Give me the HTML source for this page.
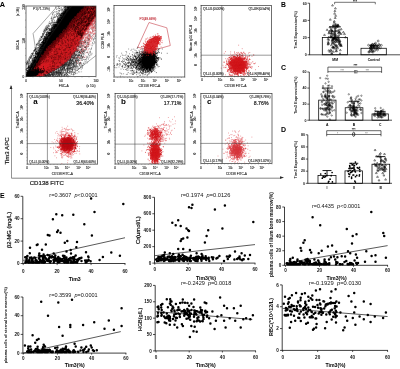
<!DOCTYPE html>
<html><head><meta charset="utf-8"><style>html,body{margin:0;padding:0;background:#fff;width:400px;height:369px;overflow:hidden}svg{display:block;will-change:transform}text{font-family:"Liberation Sans",sans-serif}</style></head><body><svg width="400" height="369" viewBox="0 0 400 369" font-family="Liberation Sans, sans-serif"><defs><clipPath id="c1"><rect x="26" y="6" width="70" height="70.6"/></clipPath><filter id="bl1" x="-10%" y="-10%" width="120%" height="120%"><feGaussianBlur stdDeviation="1.0"/></filter><clipPath id="c2"><rect x="114" y="5.4" width="70.8" height="71.6"/></clipPath><clipPath id="c3"><rect x="201.1" y="5.4" width="70.4" height="71"/></clipPath><clipPath id="c4"><rect x="27.2" y="93.4" width="70.2" height="70.7"/></clipPath><clipPath id="c5"><rect x="115.1" y="93.4" width="69.8" height="70.6"/></clipPath><clipPath id="c6"><rect x="200.9" y="93.4" width="71.1" height="70.2"/></clipPath></defs><rect width="400" height="369" fill="#fff"/><text x="-0.2" y="6.5" font-size="7.3" font-weight="bold">A</text><polyline points="57.5,6 33.1,33.5 36.2,52.8 44,72.5 55.5,73 74.8,72 96,55.5" fill="none" stroke="#555" stroke-width="0.5"/><g clip-path="url(#c1)"><g filter="url(#bl1)"><polygon points="24.34,79.66 27.37,74.81 29.8,69.37 32.59,64.29 35.38,59.22 38.18,54.15 40.91,49 43.63,43.86 46.42,38.78 49.52,34.01 52.85,29.47 56.17,24.92 59.43,20.31 62.54,15.55 65.65,10.8 69.21,6.49 72.78,2.18 76.37,-2.09 80.19,-6.14 84.01,-10.19 87.83,-14.24 91.65,-18.29 95.47,-22.34 99.29,-26.39 117.67,-8.01 113.91,-3.9 110.15,0.2 106.38,4.31 102.62,8.42 98.86,12.53 95.1,16.64 91.78,21.18 88.51,25.78 85.24,30.39 82.49,35.5 79.74,40.62 77.09,45.85 74.04,50.66 70.86,55.35 67.27,59.63 63.05,63.28 58.33,66.43 53.61,69.57 48.41,72.24 43.15,74.85 37.9,77.47 32.54,79.98 27.88,83.19" fill="#050505" stroke="none" stroke-width="0.6"/><polygon points="34.07,73.82 36.76,69.33 39.45,64.83 42.13,60.3 45.11,56.1 48.16,51.95 51.35,47.95 54.9,44.3 58.39,40.6 61.87,36.89 65.31,33.14 68.63,29.27 71.81,25.25 74.99,21.24 78.44,17.49 81.94,13.81 85.45,10.12 89.02,6.5 92.62,2.9 96.21,-0.7 99.81,-4.29 103.41,-7.89 107,-11.49 110.6,-15.08 117.67,-8.01 114.23,-4.26 110.79,-0.5 107.35,3.25 103.92,7.01 100.48,10.76 97.04,14.52 93.75,18.42 90.76,22.62 87.77,26.82 84.86,31.11 82.34,35.78 79.82,40.46 77.4,45.23 74.68,49.7 71.78,53.99 68.81,58.22 65.06,61.66 60.91,64.7 56.6,67.58 52.21,70.38 47.38,72.75 42.57,75.14 37.78,77.54" fill="#c8161e" stroke="none" stroke-width="0.6"/></g><path transform="scale(.1)" d="M946 -264h0m1 3h0m2 5h0m2-13h0m3 11h0m1 1h0m0-4h0m7 4h0m2 1h0m1 0h0m15 12h0m0-3h0m-2 2h0m-1-5h0m-5 6h0m-1 2h0m-1-2h0m-2 0h0m-7-5h0m0-3h0m-2 10h0m0 0h0m-3-3h0m-2-9h0m-8 8h0m-14-2h0m-6 6h0m-11 8h0m7-5h0m2 4h0m6 3h0m2 1h0m0 1h0m0 1h0m1-11h0m1 11h0m0-8h0m2 4h0m2-2h0m1 2h0m1-4h0m5 5h0m0 3h0m9 2h0m3-7h0m1 3h0m3 3h0m1-8h0m1 6h0m1 0h0m1 0h0m1 1h0m6-10h0m1 2h0m1-3h0m0 4h0m1 1h0m1-3h0m0 0h0m0-2h0m1 0h0m-14 17h0m-1 4h0m0-4h0m-1-1h0m-1 5h0m-1 2h0m-2 5h0m0-11h0m-2 9h0m-2-5h0m-1 3h0m-1 4h0m-1-7h0m0 6h0m-3 1h0m-3-3h0m-2-9h0m-2 8h0m-2-3h0m-4 7h0m-5-3h0m-2 3h0m-2-6h0m-2 6h0m0 0h0m-9 1h0m-4-13h0m0 10h0m-32 18h0m5-5h0m2 3h0m9 1h0m4 0h0m1-6h0m6-6h0m1 11h0m7-8h0m3 5h0m2-9h0m1 9h0m2 5h0m1-6h0m0 2h0m1-6h0m1-4h0m1 10h0m1 3h0m0-10h0m1 1h0m0 3h0m7 7h0m1-7h0m1-7h0m0 7h0m1-3h0m0-2h0m2-1h0m0 2h0m0 1h0m1 1h0m1 7h0m0-1h0m3 0h0m2-9h0m5-2h0m1 3h0m2-3h0m-14 15h0m0 1h0m-2 1h0m0-1h0m-4 4h0m-1 1h0m0-6h0m0 9h0m-1-3h0m-4 7h0m-1-2h0m-3-11h0m0 2h0m-7 6h0m-3-1h0m0-5h0m-1 4h0m-2 6h0m-2-9h0m0 7h0m-2-6h0m-1 8h0m0-8h0m0 10h0m0-2h0m-1-5h0m-1-3h0m-3-4h0m0 12h0m-7-6h0m-1-2h0m-19 9h0m-7-1h0m-5 3h0m4 11h0m3-1h0m1-7h0m0 2h0m0-5h0m1 10h0m3-7h0m0 11h0m0-12h0m6 2h0m0-1h0m3 9h0m3-9h0m0 11h0m4-4h0m1-3h0m1-2h0m0 4h0m5-9h0m1 12h0m4-7h0m4-4h0m1 4h0m0 8h0m1-8h0m1 4h0m1-4h0m1-1h0m0 5h0m0-3h0m1 7h0m0-3h0m2 3h0m0-8h0m4-4h0m1 8h0m1-6h0m2 2h0m4-4h0m-16 17h0m-5 0h0m0 2h0m-5-3h0m-3 7h0m0 1h0m-1-10h0m-1 9h0m-1-2h0m-1-6h0m-3 4h0m0 9h0m-1-6h0m-1-5h0m-4 3h0m-1 8h0m-1-4h0m-1-8h0m0 9h0m-1 1h0m0-3h0m-6 1h0m-2-9h0m0 4h0m-5 1h0m-2 3h0m-6 4h0m-7-5h0m-2-3h0m-3 0h0m-6 7h0m-20 9h0m0 8h0m9-7h0m1 6h0m2-5h0m4 6h0m3 0h0m2-3h0m4-2h0m3-1h0m8 5h0m2-2h0m2-4h0m1 2h0m2 1h0m3-8h0m0 5h0m3 3h0m0 4h0m2-2h0m1-6h0m1 5h0m1-3h0m1-3h0m1 3h0m0-4h0m2 3h0m0-7h0m0 10h0m1 3h0m0-1h0m0-7h0m1-3h0m0-2h0m2 5h0m1 8h0m1-10h0m0 0h0m3 0h0m1-1h0m6-2h0m1 0h0m-18 18h0m-2 6h0m-1-6h0m0 6h0m-5-7h0m0 0h0m-1 2h0m-1 7h0m0 0h0m0 1h0m-1-10h0m-2-1h0m-1 11h0m-1-10h0m-1-2h0m-1 12h0m-2-6h0m-8 8h0m-2-14h0m-4 11h0m-2-7h0m-5 0h0m-2 6h0m-3-8h0m-1 8h0m-3 2h0m0-3h0m-5 0h0m-2 0h0m-3 1h0m-30 17h0m15 0h0m7-11h0m5-1h0m8 8h0m1-6h0m1 2h0m1 3h0m2 7h0m2-3h0m8-5h0m1 2h0m3-1h0m2-3h0m4 5h0m1-3h0m2 1h0m5-2h0m1-4h0m0-1h0m0 13h0m1-7h0m1-2h0m0 2h0m9-4h0m-19 15h0m0 5h0m0-1h0m-7 4h0m-2-7h0m-2 6h0m-1-3h0m0 3h0m-1-7h0m0 10h0m0-7h0m-1 4h0m-2-7h0m-2 11h0m0-7h0m0 5h0m-1-2h0m-1-5h0m-1 7h0m-1-6h0m-1-4h0m-1 10h0m-1-6h0m0 6h0m-2 3h0m-3-1h0m0-10h0m0 11h0m-4-6h0m0-8h0m-8 11h0m-2-6h0m-1 0h0m-8-2h0m-1 7h0m0 3h0m-1 0h0m-25 12h0m19 1h0m3-5h0m7 7h0m1-11h0m2 11h0m2-13h0m0 9h0m3 0h0m1 4h0m4 0h0m0-6h0m2 7h0m2-4h0m1-2h0m1-4h0m0 6h0m0-5h0m1 9h0m2-14h0m0 10h0m6-3h0m0 4h0m0-7h0m1 5h0m0 1h0m0-9h0m0 4h0m2 0h0m1 7h0m0-5h0m0 0h0m1-1h0m0-6h0m3 5h0m1-2h0m-13 14h0m-1 2h0m-2 5h0m-1-2h0m-2 2h0m0-6h0m0-2h0m0 7h0m-1 2h0m-2 1h0m0-1h0m-1-1h0m0-4h0m0 3h0m-1-7h0m-1 8h0m-3 3h0m0-5h0m0-4h0m-1 0h0m-1 0h0m-3 4h0m-1-2h0m-8-4h0m-1 9h0m-1-3h0m-2 4h0m-4-11h0m-4 13h0m-1 0h0m-3-13h0m-2 0h0m-7 12h0m-12-2h0m-10 14h0m1-2h0m9 3h0m3-6h0m0 1h0m2 1h0m4-4h0m7 4h0m3 2h0m5 3h0m0 3h0m1-5h0m1-7h0m5 3h0m1 4h0m4-2h0m1 6h0m4-9h0m1 4h0m0 5h0m1-1h0m1-11h0m1 8h0m1 2h0m2-4h0m1-2h0m0 0h0m2-4h0m-14 18h0m0-3h0m-1 2h0m-1-1h0m0 1h0m-2 2h0m0-1h0m-5 5h0m0-5h0m-1 1h0m0 9h0m0-13h0m0 7h0m-1 0h0m0-8h0m-1 11h0m0-6h0m-1 6h0m-1 0h0m-1 3h0m-2-3h0m0-3h0m-2 2h0m-1-1h0m-1 0h0m-1-8h0m-1 7h0m0 1h0m-1-2h0m-3 2h0m-1 5h0m-1-10h0m-2 2h0m-2 7h0m-2-1h0m-2-1h0m-1 2h0m-1-10h0m-2 9h0m-3 2h0m-1-5h0m-3-6h0m-6 7h0m0-7h0m-1 9h0m0-1h0m-7-2h0m-16 11h0m0 9h0m7-5h0m4-6h0m1 10h0m2 0h0m2 0h0m4-9h0m1 8h0m1-8h0m0 5h0m1-9h0m0 14h0m5-14h0m6 7h0m2 7h0m1-11h0m8-2h0m1 13h0m4-1h0m0-5h0m5 4h0m1-8h0m0 0h0m0 9h0m1-8h0m1 4h0m1-5h0m1 2h0m0-6h0m1 5h0m1-1h0m0 3h0m1-4h0m1 3h0m4-5h0m-14 14h0m-6 4h0m-3 5h0m-1-8h0m-2 1h0m-2 4h0m-1-1h0m-1 1h0m0 8h0m0-7h0m-2-4h0m-1 4h0m-6 1h0m0-8h0m-1 1h0m0 9h0m-6-4h0m-3 7h0m-1-12h0m-5 10h0m-1-1h0m-4-5h0m-1 3h0m-2 3h0m-2-11h0m-4 8h0m-11 3h0m-1-8h0m-6 5h0m17 15h0m1-1h0m4 4h0m0 1h0m5-7h0m3 6h0m2 3h0m1-7h0m4-3h0m0-2h0m2 8h0m4-7h0m1-3h0m2 9h0m1-4h0m1-3h0m1 11h0m0-1h0m1-8h0m1 6h0m1-6h0m1 0h0m1 2h0m1-1h0m0 0h0m0-5h0m2 6h0m-10 11h0m-2 1h0m-1-1h0m-1 0h0m-1-1h0m0 2h0m-1 4h0m-1 0h0m-2 3h0m-1-7h0m-4 6h0m-1 5h0m-1-6h0m-1 3h0m-3-2h0m0 1h0m-3-1h0m0-6h0m-3 1h0m0-3h0m-5 9h0m-1-10h0m0 8h0m-1 2h0m0-4h0m-3 8h0m0-3h0m-1-6h0m-9 6h0m-1-3h0m-5 6h0m-5-5h0m-14 5h0m-5 6h0m6 8h0m1-5h0m9-4h0m7-1h0m0 6h0m1 1h0m5-1h0m3 3h0m3-10h0m0 1h0m1 1h0m2 10h0m1-10h0m0 9h0m2-13h0m0 9h0m0 3h0m2-2h0m0-1h0m1 0h0m1-9h0m0 9h0m0-5h0m2 8h0m0-4h0m1 5h0m0-9h0m0 5h0m3-8h0m3 1h0m2 2h0m7-3h0m-16 17h0m-2-3h0m-1 8h0m-3-6h0m0-2h0m-4 10h0m-1-7h0m-1 9h0m0 1h0m0-1h0m-3-1h0m0-3h0m0-5h0m-3-1h0m0 11h0m-1 0h0m0-7h0m-1 7h0m0-9h0m-2 3h0m-2 6h0m-2-10h0m-1 2h0m-3 9h0m-2-11h0m-7 3h0m-1-4h0m-4 9h0m-7 3h0m-4-3h0m0-9h0m-2 11h0m-10 0h0m-8 11h0m2 5h0m6-4h0m0 2h0m2-8h0m0 8h0m3-8h0m1 3h0m3 2h0m2 1h0m0-7h0m2 2h0m7-4h0m2-1h0m5 6h0m0 5h0m1 3h0m2-6h0m0 2h0m3 1h0m0-11h0m3 0h0m2 11h0m1-11h0m1 8h0m2 2h0m8-1h0m0-7h0m1-2h0m2 4h0m1 1h0m2-3h0m3-2h0m-14 19h0m0-4h0m-5 3h0m-1-1h0m-1 9h0m-1-8h0m0 8h0m0-8h0m-1-1h0m-2 8h0m-1-5h0m0-3h0m-1 4h0m-1-3h0m0 10h0m-1-2h0m-3-10h0m-5 1h0m0 1h0m-6-3h0m-2 12h0m-4-2h0m0-6h0m-1 10h0m-6-12h0m-8 12h0m-4-8h0m-9 7h0m-11 9h0m1-3h0m4 9h0m6-5h0m13-6h0m2 6h0m5-7h0m0 7h0m3-5h0m0 6h0m3 5h0m1-4h0m2 4h0m1-6h0m2-8h0m1 14h0m0-12h0m5 6h0m0 3h0m0 3h0m4-9h0m0-4h0m0 8h0m1 1h0m0-6h0m1-2h0m5 2h0m1-2h0m1 1h0m-21 24h0m0-4h0m-1-2h0m0 8h0m-1-10h0m-1 3h0m-3 0h0m0-1h0m-2 2h0m0 4h0m0-1h0m-1 3h0m-3-6h0m0 0h0m-3-7h0m0 13h0m-6-5h0m-1-9h0m-3 10h0m-5 1h0m-15-8h0m-16 25h0m18 0h0m2-10h0m4 10h0m2 0h0m0-4h0m5-9h0m2 9h0m0-1h0m1-1h0m0 4h0m3 2h0m1 1h0m0-6h0m4 3h0m1 1h0m0 2h0m3-11h0m0 9h0m2-2h0m0-8h0m2 5h0m1 3h0m0-3h0m2-5h0m1 1h0m3 3h0m-5 9h0m-7 3h0m-5 8h0m0-4h0m0 2h0m-1-6h0m0 3h0m0-2h0m0 9h0m-1-5h0m0-8h0m-5 13h0m-2-5h0m-3-2h0m0-1h0m-4-5h0m-2 10h0m-3-9h0m-2 5h0m0-2h0m-4 4h0m0-6h0m-3 12h0m-6-1h0m-2-6h0m-7-4h0m-1 10h0m-6 10h0m3-7h0m0 9h0m7-1h0m5-7h0m1 12h0m1-12h0m1 0h0m0 6h0m0 0h0m4-2h0m4-1h0m2-2h0m0 0h0m1 5h0m1 1h0m3-7h0m6 0h0m0 9h0m1-11h0m0 9h0m1 3h0m1 0h0m4-2h0m3-8h0m1-1h0m0 5h0m-9 12h0m-5 6h0m0-3h0m0-1h0m-1 8h0m-4-11h0m-2 11h0m-2-13h0m-1 11h0m-3-1h0m0-4h0m0 7h0m-3-10h0m-1 6h0m-1 2h0m-7-7h0m-1 4h0m-1 2h0m-14 1h0m-2-9h0m-1 10h0m-4-11h0m-3 28h0m6-12h0m1 9h0m0-8h0m6 2h0m3 9h0m0-8h0m0 4h0m1-7h0m4 3h0m2 4h0m1 3h0m0-10h0m4-3h0m5 14h0m0-1h0m1-7h0m4 5h0m0-7h0m1 0h0m1 3h0m2-7h0m0 5h0m0-5h0m3 4h0m-11 14h0m-2 3h0m-1 4h0m0-1h0m-2-5h0m0-2h0m0 7h0m-1 4h0m-2-9h0m-1 6h0m0 2h0m0-1h0m0-3h0m-1 4h0m-1-10h0m-2 8h0m0-1h0m-1-4h0m-1-4h0m-2 12h0m-2-6h0m-1 3h0m0 2h0m-1-8h0m0 1h0m-1 9h0m-1 0h0m0-5h0m0-7h0m0 10h0m0-12h0m-6 2h0m0 7h0m0 4h0m-2-8h0m-9 6h0m-19-3h0m-5 18h0m8 3h0m0-3h0m11-1h0m6 1h0m1 1h0m2-4h0m0 6h0m2-13h0m0 7h0m1 0h0m6-1h0m0-2h0m0 5h0m1 4h0m2-6h0m1-8h0m0 0h0m1 4h0m0 5h0m0 5h0m1 0h0m2-10h0m0 9h0m0-1h0m2-10h0m1 9h0m1-2h0m1 1h0m2-4h0m1-4h0m0 2h0m-5 12h0m-2 1h0m-1 3h0m-5-5h0m0 3h0m0 3h0m-2-2h0m-1 1h0m-3 3h0m0-3h0m-1-3h0m-3-2h0m-4 13h0m-4-13h0m-10 7h0m-2-7h0m-10 2h0m-2 9h0m-5-7h0m-4 0h0m-6 24h0m1-11h0m3 9h0m7-2h0m1 3h0m0-5h0m2-2h0m1 7h0m1-3h0m3 4h0m0-3h0m0 0h0m2-10h0m0 7h0m4 4h0m2-3h0m2-3h0m0 7h0m1-8h0m0 2h0m2 8h0m0-7h0m1-5h0m0 11h0m0-3h0m1-4h0m2 3h0m0-2h0m1 5h0m0-12h0m0 9h0m0-3h0m1-4h0m2 11h0m0 0h0m5 1h0m0-1h0m1-13h0m0 7h0m2-5h0m1-1h0m1 3h0m-7 11h0m-2 4h0m-1-2h0m0 1h0m0 1h0m-1 2h0m0-1h0m-2-4h0m0 6h0m-3 0h0m-1-6h0m-2 12h0m0-6h0m0-7h0m-1 4h0m-1 10h0m0-3h0m-2-10h0m0 2h0m-1 0h0m0 10h0m-2-3h0m-3 3h0m0-4h0m-3 4h0m-1-9h0m-1 7h0m-2-5h0m-5 2h0m0 3h0m-2-3h0m-1-7h0m-7 10h0m-5-6h0m-6-5h0m0 13h0m0 6h0m3 10h0m3-5h0m4 2h0m0-3h0m2 0h0m2-5h0m0 3h0m1 2h0m2-7h0m2 11h0m3 2h0m0-4h0m3-6h0m2-4h0m0 3h0m1 5h0m1 1h0m0-9h0m1 0h0m0 12h0m0 1h0m1-1h0m0-9h0m2 2h0m0 6h0m0 2h0m1-11h0m1-1h0m4 5h0m1-6h0m-12 17h0m-1 0h0m-2 7h0m-4-3h0m0 1h0m-2-3h0m-7 3h0m-2-2h0m0-2h0m-2 3h0m-1 1h0m-1 7h0m0-8h0m0-3h0m-1 10h0m-1-2h0m-1-6h0m0 2h0m-3 1h0m-5 4h0m-4-12h0m-2 10h0m-2-4h0m-2-6h0m-3 9h0m0 2h0m-4-10h0m-6 1h0m-1 1h0m-5 25h0m1-3h0m10-8h0m3 6h0m4-2h0m3-4h0m4 11h0m0-10h0m2-1h0m5 1h0m1 10h0m1 1h0m0-8h0m1 5h0m0-3h0m2 4h0m3-2h0m0-1h0m3 2h0m1-1h0m1 1h0m2 3h0m2-2h0m2-6h0m2-3h0m2 0h0m-12 14h0m-3-1h0m-1 10h0m-5 1h0m0 0h0m-1-2h0m0 4h0m-3-4h0m-2 2h0m-1-1h0m0-1h0m-3 0h0m-4 2h0m-1 1h0m-1-3h0m-3-3h0m-1 5h0m-2-2h0m0 1h0m-6 1h0m0 0h0m-4-4h0m0-2h0m-5 8h0m-4-2h0m-1-9h0m-1 10h0m-4-3h0m-6 19h0m4-7h0m1-1h0m14 0h0m0-3h0m2 10h0m3-10h0m0 4h0m3-3h0m1 4h0m1-6h0m3 6h0m0 1h0m1-7h0m3 2h0m0-3h0m1 10h0m2-8h0m1-2h0m0 11h0m1-3h0m1 3h0m0-7h0m1-4h0m1 13h0m0-9h0m1-3h0m1 3h0m0 4h0m1-8h0m1 1h0m6-1h0m-13 14h0m-2 1h0m-1 7h0m-1-1h0m0-3h0m-1 2h0m0-1h0m-1 2h0m-1-7h0m-1 0h0m-1 7h0m-2 0h0m-1 5h0m0-7h0m-1 8h0m0-1h0m-1-5h0m-2 6h0m-1-2h0m-3-6h0m0 9h0m-1-8h0m-1-6h0m-6 6h0m-1-4h0m-1 1h0m-2 10h0m-1-5h0m-3-8h0m-1 0h0m-1 11h0m-1-8h0m-1 3h0m-7-2h0m-15 12h0m6 3h0m0 4h0m3 2h0m3-6h0m5 8h0m0-2h0m2-6h0m5-1h0m2-1h0m3 9h0m3-4h0m0 1h0m2-2h0m2 3h0m3-4h0m0-3h0m6 6h0m4-4h0m-10 17h0m0-2h0m-1 2h0m-2 6h0m0-9h0m-2 8h0m-1 3h0m-2-13h0m0 1h0m-1 10h0m0-10h0m-1 0h0m-1 10h0m-2-9h0m0 9h0m0-4h0m0 5h0m-1-4h0m-5-6h0m-1 9h0m-2-2h0m0-4h0m-1 6h0m0-7h0m-3-3h0m-1-2h0m-1 14h0m0-8h0m0 6h0m-3 0h0m0 1h0m-2-5h0m-1 5h0m-1-13h0m-5 5h0m-5 5h0m-11-3h0m-11 22h0m5-10h0m9-2h0m8 11h0m1-6h0m1-7h0m0 10h0m2 0h0m5-2h0m0 3h0m1-11h0m6 10h0m0 2h0m2-3h0m2-2h0m0-3h0m4 4h0m1-7h0m0 2h0m1 0h0m1 9h0m1-1h0m2-6h0m0 7h0m2-12h0m2 5h0m0-5h0m6 1h0m-11 19h0m0-1h0m-2 4h0m-2 2h0m-1-7h0m0-1h0m-3 0h0m0 5h0m-2 1h0m-1-1h0m0-4h0m-2-2h0m-2-1h0m-5 7h0m-2 0h0m-3-6h0m-1 3h0m-1 9h0m-1-8h0m0-5h0m-3 9h0m0 3h0m-3-3h0m0 2h0m-1-3h0m-16 14h0m4-2h0m2-3h0m4 4h0m1 2h0m1-4h0m3-3h0m1 4h0m2 0h0m3 7h0m1 2h0m0-4h0m0 0h0m0-6h0m1 7h0m1 1h0m1-4h0m1-8h0m0 10h0m1 0h0m0-1h0m1-1h0m0-8h0m2 6h0m0 4h0m2 4h0m2-13h0m0 5h0m3 6h0m0-10h0m2 6h0m0 0h0m1 3h0m0-11h0m0 3h0m2 4h0m2-4h0m0-2h0m0 2h0m-7 12h0m-2 2h0m-1 3h0m-1-4h0m-3 4h0m-2 5h0m-2-1h0m0 5h0m-1-3h0m0-4h0m-2 3h0m-1 0h0m0-10h0m-1 13h0m-1 1h0m-2-11h0m0 4h0m-1 3h0m-2-10h0m-4 9h0m0-2h0m-3-7h0m0 14h0m-1-2h0m-1 1h0m-4-4h0m0-5h0m-5 2h0m-1 3h0m0 1h0m-1 3h0m-6-2h0m0-6h0m-1-3h0m-5 10h0m-7 9h0m5 1h0m8 7h0m1-11h0m0 4h0m1 0h0m1 7h0m0-6h0m11-4h0m3 10h0m2-9h0m0 9h0m1-2h0m0-9h0m1 3h0m1 2h0m2-3h0m2 9h0m1-9h0m0 8h0m2-10h0m1 8h0m0-4h0m1 6h0m5-7h0m2-2h0m-6 13h0m0 0h0m-6 0h0m0-2h0m-2 14h0m-2-9h0m-2 8h0m-1 0h0m-1-8h0m-2-3h0m-1 1h0m0-1h0m-1 0h0m-3 1h0m-1 10h0m-1-8h0m-1 6h0m-2 2h0m0 0h0m-3-2h0m-3-1h0m-1-7h0m-6-1h0m-1 9h0m-3-5h0m-7 4h0m-2 3h0m-2 0h0m-9 11h0m1 4h0m1-2h0m10-2h0m4 4h0m6-10h0m3 4h0m0-1h0m1 7h0m2 1h0m2-7h0m5 6h0m0-10h0m0 5h0m2-1h0m2-5h0m1 3h0m1-3h0m2-2h0m3 5h0m4 5h0m0 1h0m1-2h0m0-9h0m1 7h0m1-4h0m1 0h0m-9 14h0m0 3h0m-3 5h0m-3 1h0m-1-10h0m-1 10h0m-2-2h0m-4 2h0m0-5h0m-2 1h0m-2-2h0m-4 9h0m0 0h0m-2-1h0m-2-6h0m-1-1h0m-4 4h0m-6-1h0m-14 5h0m-6 13h0m3-3h0m1-2h0m2 1h0m1-3h0m3-5h0m6 10h0m0-7h0m6 8h0m9 3h0m0-2h0m2-7h0m0 4h0m1-3h0m1-5h0m2 9h0m1-1h0m4 5h0m4-9h0m1 2h0m-5 9h0m-1 1h0m0-1h0m-2 8h0m-1-9h0m-4 13h0m0-5h0m-3 6h0m0-8h0m-2 3h0m-2-3h0m0-4h0m-2 6h0m-1 6h0m-1-4h0m0-3h0m-1-4h0m-1-1h0m0 11h0m0 0h0m0 0h0m-1-11h0m-2 6h0m-3-5h0m-1 11h0m-2-6h0m-2 5h0m-6-5h0m-1 2h0m-1-6h0m-1 2h0m0 7h0m-3-7h0m-2 1h0m-2 6h0m0 13h0m1-3h0m2 4h0m5-1h0m3-11h0m5 3h0m2 5h0m1-4h0m2 2h0m1 6h0m1-10h0m1 12h0m0-5h0m8 5h0m1-3h0m0 2h0m0-1h0m0-5h0m1-1h0m0-4h0m1-2h0m0 12h0m0-4h0m1 4h0m1-8h0m1 0h0m2-2h0m0-2h0m2 0h0m-11 20h0m-1 1h0m-1 3h0m-2 2h0m-1-4h0m0 7h0m-1-3h0m-1 0h0m-2 0h0m0-1h0m0-1h0m-4-2h0m-1 7h0m0 0h0m-1-9h0m-11 6h0m0 2h0m-1-3h0m-1-1h0m-1 2h0m-5-10h0m-10 1h0m-3 0h0m-3 11h0m-12 13h0m13-5h0m6 4h0m2 2h0m4-9h0m1 2h0m1-2h0m1 7h0m1-3h0m2 0h0m3-6h0m1 1h0m1 4h0m0-2h0m1 2h0m6 4h0m0 1h0m0 0h0m1-2h0m1-6h0m0 10h0m1-5h0m2 1h0m6-8h0m0 1h0m-12 21h0m-1-2h0m-4 4h0m0-6h0m-4-1h0m-2-1h0m-1 9h0m-1 3h0m-3-9h0m-1 7h0m-2-9h0m-1 0h0m-2 7h0m-5-6h0m-4 3h0m-2 2h0m-1-7h0m-6 2h0m-2 14h0m0-2h0m2 12h0m2-11h0m1 1h0m6 5h0m0-1h0m1-1h0m1-1h0m5 7h0m2 0h0m0-12h0m1 11h0m0-10h0m1 10h0m0-4h0m1-3h0m1 6h0m0-3h0m0-7h0m1 13h0m0-10h0m4 6h0m0-3h0m1 3h0m0 5h0m3-3h0m0-5h0m1 4h0m1-3h0m0 1h0m1-1h0m0-6h0m-7 17h0m-1 3h0m-1 0h0m0 3h0m-1-2h0m-1 3h0m0-1h0m-1 5h0m-1-2h0m0-4h0m-1-2h0m0 3h0m0-7h0m-2 8h0m0-4h0m-4-1h0m-1 6h0m-1-10h0m0 7h0m-4 1h0m0-9h0m-1 14h0m-4-2h0m-2-9h0m0 5h0m-2-7h0m-8 7h0m-6 5h0m-1-10h0m-13 3h0m-8 21h0m2-3h0m4-1h0m0-6h0m1 10h0m13-3h0m6 2h0m2-4h0m0 4h0m2-7h0m2 2h0m1 4h0m4-9h0m2 6h0m0 5h0m0 0h0m2-1h0m3 3h0m2-12h0m1 2h0m1 5h0m3-2h0m2 0h0m0 1h0m1-6h0m-5 15h0m-3 6h0m-3 5h0m0-10h0m-6 0h0m-1 9h0m0-12h0m0 14h0m-2-2h0m0-6h0m-1-3h0m-1-2h0m-6 12h0m0-7h0m-1-4h0m0 9h0m-2-11h0m-4 10h0m-2 4h0m-2 0h0m-5-1h0m-8 0h0m0-1h0m-5 7h0m1 0h0m1 9h0m2-4h0m1 4h0m0-10h0m3 11h0m4-11h0m0-2h0m1 12h0m3-5h0m5 4h0m1-5h0m0 3h0m1 0h0m2 4h0m1-14h0m5 0h0m0 0h0m1 14h0m1-9h0m0-2h0m2 8h0m0-8h0m1 11h0m1-10h0m0 2h0m1 5h0m1-7h0m2-4h0m1 3h0m1 1h0m-6 11h0m-5 2h0m-3-1h0m-2 11h0m-1 1h0m-1-6h0m-1 5h0m-1-5h0m-1-1h0m0 1h0m-1 2h0m-2-3h0m0 3h0m-2-9h0m-3 13h0m-2-12h0m-3 2h0m-1 4h0m-2-6h0m-1-1h0m0 7h0m-1-2h0m-6 6h0m-2-10h0m-3 9h0m-4-3h0m0 0h0m-6 5h0m-6 10h0m1 2h0m1 2h0m1-10h0m5 12h0m5-2h0m10-3h0m5 6h0m0-13h0m2 8h0m1-4h0m1-2h0m2-1h0m3 2h0m3 8h0m0-12h0m2 8h0m1 2h0m0 1h0m0-5h0m2-2h0m2 0h0m1-2h0m-8 16h0m-2-2h0m-1 0h0m-1 4h0m-1 5h0m-1-5h0m-3 3h0m-3 5h0m0-5h0m0-6h0m-2 3h0m0 4h0m-2 5h0m-1 0h0m-1-14h0m-1 7h0m-4-7h0m0 7h0m-2 3h0m-2-8h0m0 4h0m-18 3h0m1 14h0m2 0h0m2 5h0m6-4h0m0-6h0m1 10h0m2-1h0m1-10h0m3 5h0m2-3h0m0 1h0m3 5h0m0-5h0m1 8h0m2-13h0m1 8h0m1-2h0m1-2h0m1-2h0m1 6h0m0-1h0m2-5h0m0 9h0m1 2h0m1-9h0m4-2h0m-8 15h0m-1 3h0m-4 5h0m-1 1h0m-1 3h0m-1-10h0m0-2h0m-1 7h0m0-2h0m-1 3h0m0-8h0m-3 7h0m0 2h0m0 1h0m-3-6h0m-1 3h0m-2 4h0m-1-1h0m-3 2h0m-3-1h0m-1-3h0m-2-2h0m-2 7h0m8 4h0m1-3h0m1 4h0m7 1h0m2 5h0m0 2h0m2-13h0m1 13h0m0-7h0m0 1h0m3-2h0m1-5h0m-4 18h0" stroke="#000" stroke-width="6.0" stroke-linecap="round" fill="none"/><path transform="scale(.1)" d="M905 -317h0m11 8h0m0 0h0m-14 3h0m-10-3h0m-1 7h0m-2 0h0m-26 7h0m9 7h0m2-3h0m20 3h0m27-4h0m12 1h0m10 8h0m-5 9h0m-19-10h0m-2-1h0m-6 3h0m0 0h0m-4 5h0m-15-7h0m-2 5h0m-34-4h0m0 5h0m-3-4h0m-7 11h0m-4-11h0m26 14h0m2 9h0m21 1h0m11-8h0m9 10h0m0-11h0m2 8h0m2-4h0m2-5h0m14-1h0m4-1h0m-20 18h0m-10 4h0m-11 2h0m-15-1h0m-10 0h0m0 3h0m-5-1h0m-5 2h0m-6-12h0m-11 10h0m-24 3h0m-2-12h0m-37 27h0m43-7h0m18 7h0m6-12h0m1 12h0m11-7h0m4-2h0m15 3h0m5-7h0m23 0h0m-21 24h0m-2-8h0m-1 8h0m-10-8h0m-2 2h0m-8-3h0m-10 11h0m-9 2h0m-1-7h0m-15-2h0m-4 8h0m-16-8h0m-21 2h0m-1-2h0m-23 21h0m14-3h0m17 1h0m32-5h0m10-3h0m6 8h0m3-5h0m5 3h0m4-6h0m4 8h0m4-8h0m8 8h0m-6 9h0m-2 1h0m-3-2h0m-4 0h0m-6 1h0m-1 7h0m-11 0h0m-1-8h0m0 4h0m-2 4h0m-3-1h0m-8 4h0m-10-1h0m-13 3h0m-2-8h0m-17 2h0m-7-8h0m0 7h0m-13 5h0m-9 14h0m8 2h0m5-12h0m1 0h0m19 7h0m6-7h0m27 1h0m3 0h0m16 6h0m4-5h0m-6 12h0m-13 2h0m-14 5h0m-15-3h0m-45 5h0m-33 19h0m12-9h0m9 3h0m53-4h0m14 7h0m3-10h0m-8 23h0m-6 2h0m-8-9h0m-4 0h0m0 11h0m-25-9h0m-6 9h0m-4-2h0m-10 1h0m-20 0h0m0-6h0m-4-1h0m-27 22h0m16 0h0m9 2h0m28-2h0m10 3h0m2-10h0m1 8h0m2 0h0m14-5h0m12 4h0m2-7h0m15-4h0m-24 19h0m-4 3h0m-20 1h0m-6-7h0m-13 5h0m-15 1h0m-23 0h0m-17 15h0m49-7h0m26 3h0m4-3h0m2 13h0m-7 7h0m-13-1h0m-3 1h0m-22 8h0m-4-8h0m-8 1h0m-62 9h0m15 0h0m1 1h0m16 5h0m6-1h0m6 6h0m6 2h0m15-2h0m7-5h0m8-4h0m15 4h0m-16 19h0m-20 2h0m-25-2h0m-4 1h0m-3-2h0m-44-1h0m-6 7h0m10 12h0m21-3h0m3 0h0m6-6h0m3 5h0m5-5h0m4-3h0m6 3h0m1-3h0m6 3h0m26 4h0m-11 19h0m0-7h0m-26 8h0m-6-9h0m-3 7h0m-10-6h0m-1-2h0m-11 3h0m-3 3h0m-32 20h0m1-11h0m12 8h0m3 2h0m5-10h0m5 8h0m1-2h0m2-4h0m11-3h0m17 11h0m3-6h0m7 5h0m8-1h0m3-3h0m9-7h0m-41 20h0m-15 2h0m-19 1h0m-23 12h0m4 7h0m8-9h0m4 0h0m14 3h0m6-2h0m14-1h0m6 3h0m0 2h0m0-5h0m5 5h0m11-8h0m-16 23h0m-13-5h0m-15 0h0m-17 2h0m-5 0h0m-35 17h0m25 0h0m4 1h0m6-3h0m21 9h0m17-9h0m-15 18h0m-10-2h0m-12 4h0m-2 0h0m-2-5h0m0 9h0m-2-11h0m-15 10h0m-12 0h0m-7-13h0m11 20h0m41 3h0m-7 7h0m-4 2h0m-1 5h0m-4-3h0m-4-4h0m-15 9h0m-6 3h0m-17-3h0m-18 12h0m7-1h0m14-4h0m15 10h0m12-1h0m6 0h0m4-9h0m-2 14h0m-6 10h0m-5-6h0m-3 2h0m-2-4h0m-4 12h0m-16-4h0m-19-8h0m-5 8h0m-3-7h0m6 14h0m14 2h0m21 7h0m0-1h0m4-4h0m-10 15h0m-4 1h0m-4-5h0m-3 5h0m-4 2h0m-1-3h0m-4 0h0m0 7h0m-5 1h0m-13-11h0m-6 5h0m-2 11h0m0 3h0m6-6h0m2 4h0m1 8h0m10 1h0m4-5h0m-11 15h0m-5 4h0m-1-9h0m-2 10h0m-20 8h0m16 7h0m12-3h0m1-3h0m5-7h0m-9 16h0m-2 2h0m-6 10h0m-3-11h0m-2 8h0m-4 0h0m-7 0h0m-1-4h0m-4 5h0m-3-6h0m-12 21h0m8-3h0m2 4h0m19-6h0m2-1h0m-12 10h0m-3 9h0m-2 4h0m-5-2h0m-2-12h0m0 13h0m-7 0h0m-4-7h0m-3 0h0m-6-3h0m-4 7h0m-8 15h0m6 0h0m1 2h0m2-6h0m0-6h0m5 8h0m5 2h0m4-1h0m1-3h0m1-3h0m0 3h0m-3 13h0m-3 7h0m-1-5h0m0 5h0m-1-4h0m0 5h0m-2-10h0m-2 1h0m-1 7h0m-3-4h0m-1 8h0m-7-7h0m0-6h0m-2 8h0m-4 0h0m-6 0h0m-8 16h0m2 3h0m4 1h0m4-7h0m2 0h0m1 3h0m2-4h0m2-1h0m2 1h0m1 4h0m7-6h0m3-4h0m3 1h0m-9 15h0m-4 6h0m-8 1h0m0-3h0m-4 6h0m-8-3h0m-6 18h0m2-6h0m1 0h0m0 8h0m0 1h0m1-2h0m0-6h0m7 5h0m2-4h0m1 0h0m6-6h0m-11 19h0m-4 0h0m-1 9h0m-1-12h0m-7 9h0m0-2h0m-14 12h0m2 6h0m1 0h0m1-8h0m1 7h0m2-2h0m0 4h0m4-5h0m0 2h0m5-4h0m2-3h0m0-3h0m-10 18h0m-3-3h0m-1 2h0m-7 6h0m-8 0h0m-8 21h0m2-4h0m8 3h0m0-13h0m1 14h0m1-10h0m3 9h0m1-5h0m-6 7h0m0 3h0m-6 5h0m-3 5h0m-1-7h0m-3 4h0m-7 16h0m0-4h0m8 4h0m1-9h0m2 9h0m4-8h0m-10 18h0m0-2h0m-6-2h0m-6 1h0m-1 1h0m-2 7h0m0-3h0m-4-1h0m-1 4h0m0 12h0m0-8h0m6 0h0m8 3h0m-13 14h0m0 11h0m-12 0h0m-8 2h0m7 14h0m0-2h0m4 0h0m1-5h0m0-1h0m0-4h0m5-1h0m-8 15h0m-1-1h0m-1 7h0m-1-1h0m-1-6h0m0 1h0m-2 12h0m-1 0h0m-1-1h0m0-10h0m-1 5h0m-1 4h0m0 3h0m0-7h0m-6 3h0m-3 3h0m2 8h0m2 0h0m-5 13h0m-1 1h0m-2 8h0m-2-8h0m-4 0h0m-3 4h0m-1 5h0m0-5h0m-1 3h0m-1 0h0m-4 0h0m-8 12h0m14-5h0m1-1h0m3 6h0m1-3h0m5-6h0m-11 15h0m-2 11h0m-1-10h0m-1 4h0m-3 3h0m-2 6h0m-1-13h0m-1 4h0m-3 2h0m0 7h0m-6-2h0m-4 2h0m-8 13h0m4-3h0m2-6h0m10 3h0m1 1h0m1-1h0m2 2h0m3-1h0m3-7h0m-7 16h0m-2-1h0m-9 2h0m-2 12h0m-1-1h0m-4-6h0m-2-2h0m-1 9h0m-8 8h0m0-2h0m10-5h0m4 11h0m3-7h0m0-3h0m-5 16h0m-3 4h0m-5-1h0m-3-4h0m0 11h0m-2-9h0m-3 5h0m0 5h0m-2-3h0m-2 3h0m0-13h0m-1 4h0m-10 25h0m5-9h0m1 0h0m2 6h0m1-10h0m0 13h0m1-14h0m2 13h0m5-6h0m2-4h0m-9 20h0m-3-5h0m-10 10h0m-1 0h0m0-6h0m-7 6h0m-7 10h0m8-3h0m10 0h0m-4 16h0m-1 1h0m-1-6h0m-7 11h0m-1-1h0m-1-7h0m-7-1h0m-2 0h0m-4 26h0m4-12h0m1 11h0m0-1h0m1-2h0m2 4h0m2-3h0m3-5h0m1 6h0m1-4h0m0 2h0m-6 12h0m-1 2h0m-1 1h0m-1-6h0m-2 0h0m0-2h0m-2 8h0m0-6h0m-8 14h0m4 0h0m6 9h0m0-9h0m1 1h0m1-4h0" stroke="#222" stroke-width="4.8" stroke-linecap="round" fill="none"/><path transform="scale(.1)" d="M1069 -154h0m-17 17h0m2 0h0m4-13h0m1 1h0m2 6h0m12 2h0m4-9h0m6 7h0m1 0h0m2 4h0m2 2h0m10 9h0m-3 6h0m-4-4h0m-9 3h0m-3-10h0m0 12h0m-2-6h0m-2 3h0m-1-6h0m-9 0h0m-5-5h0m0 11h0m-1-10h0m0 8h0m-13 5h0m-2-3h0m0 2h0m-7-1h0m-2-5h0m-2 5h0m-1 2h0m-10 15h0m5-7h0m0-4h0m3 11h0m4-7h0m2 6h0m0-4h0m3-6h0m1-1h0m8-2h0m2 2h0m3 2h0m4 5h0m5-8h0m7 9h0m1 4h0m1-4h0m0-10h0m5 9h0m4 3h0m4-1h0m-7 5h0m-6 8h0m-9-6h0m-2 3h0m-4-3h0m-1-2h0m0 10h0m-1-2h0m-2-2h0m-1-6h0m-1 6h0m-1-2h0m-3 5h0m-2-10h0m-1 13h0m-2-4h0m0-2h0m-2-1h0m0-4h0m-7 7h0m-1-3h0m0-5h0m-1-1h0m-7 1h0m-3 10h0m-4 3h0m-6-12h0m-3 9h0m-17 12h0m3-4h0m7 7h0m1-8h0m1 10h0m1-2h0m5 3h0m3-10h0m1 1h0m2 0h0m2-5h0m1 9h0m1 0h0m2-8h0m1 4h0m11 7h0m1-5h0m0-5h0m0-1h0m1 11h0m2-2h0m5 0h0m1-5h0m9 5h0m-12 9h0m-4-4h0m-1 8h0m-3-8h0m-7 0h0m-2 6h0m-2 5h0m-2-8h0m-3 2h0m-3 6h0m0-5h0m-4 0h0m-3 3h0m0-9h0m-1 3h0m-3 11h0m-4-8h0m0 1h0m-5-6h0m0 10h0m-2 1h0m-7-12h0m0 10h0m-1-6h0m-18 22h0m6-2h0m12 5h0m1-10h0m3 7h0m6-11h0m1 0h0m3 12h0m1-7h0m7-1h0m6 6h0m7 4h0m6-14h0m7 2h0m0 1h0m-20 14h0m-1 3h0m-3 2h0m-4-2h0m-3 2h0m-2 2h0m0 3h0m-2-10h0m-1 8h0m-4-4h0m-4 7h0m-8-4h0m-1-1h0m-1 0h0m0-2h0m-6-1h0m-6 5h0m-1-4h0m-4 1h0m-2-6h0m-4 11h0m-1 1h0m-9-4h0m-16 20h0m5-8h0m1 5h0m12-6h0m0 3h0m2 3h0m4-4h0m0 7h0m2-5h0m4 2h0m0-11h0m4 3h0m2-1h0m2 10h0m3-5h0m2-2h0m1 8h0m3 1h0m2-4h0m6 1h0m1-4h0m5 7h0m3-13h0m0 7h0m-11 10h0m-4 1h0m-7 0h0m-2 8h0m-2-10h0m-7 1h0m-1-3h0m-1 7h0m-2-1h0m-2 4h0m-4-3h0m0-3h0m-8 3h0m-1 0h0m-1 3h0m-3-7h0m-5 0h0m0 10h0m-2-7h0m-1 0h0m-10 3h0m0-2h0m-13 22h0m8-10h0m1-4h0m1 3h0m4 7h0m2-1h0m1-6h0m3 4h0m1-1h0m3 3h0m3 2h0m3-3h0m6-5h0m1-1h0m4-2h0m0 11h0m2-3h0m5-6h0m3 0h0m2-1h0m5 1h0m3 0h0m-16 17h0m-4 2h0m-7 3h0m-2 1h0m-2-5h0m0-2h0m-3 0h0m-1 8h0m0-9h0m-2 4h0m-7-3h0m-2-3h0m-2 4h0m-1-1h0m-1 2h0m0 2h0m-1-2h0m-2 4h0m-2-9h0m-3 1h0m-2 13h0m0-4h0m0-10h0m-1 10h0m0-8h0m0 8h0m-6-8h0m-1 8h0m0 0h0m0-8h0m-4 5h0m-2 0h0m-5 0h0m-1 2h0m-5 2h0m-3 17h0m1-1h0m0-10h0m6 12h0m1-10h0m6 2h0m0-6h0m8 4h0m9 3h0m7 1h0m0 3h0m2-4h0m0 6h0m2 1h0m3-1h0m12-11h0m-6 15h0m-6 0h0m0 0h0m-5 3h0m-1-1h0m0-1h0m-2-1h0m-1 2h0m0-4h0m-1 6h0m-1-6h0m-4 5h0m0-4h0m-6 3h0m-1-3h0m-1 8h0m-1 3h0m0-8h0m-3-1h0m0 6h0m-10-3h0m-1 2h0m-1-1h0m-2-5h0m-3 7h0m-1-9h0m-7 8h0m-1 4h0m0-12h0m-2 9h0m-1-5h0m-4 10h0m-2-9h0m-5 9h0m-9 4h0m1 8h0m1-1h0m2 2h0m11-9h0m1 0h0m3 11h0m3-9h0m5-5h0m5 12h0m2-7h0m0-5h0m11 7h0m0-1h0m0 5h0m5-10h0m9 8h0m6-7h0m1-1h0m-19 19h0m-12-1h0m-2 3h0m0 1h0m-5 2h0m-1-1h0m-1-4h0m-1 1h0m-7-6h0m-2 7h0m-2 2h0m0-1h0m-4 5h0m-3 0h0m-1-5h0m-5 6h0m-3-2h0m-2-10h0m-1 5h0m0 0h0m-2-3h0m-9 4h0m-18 15h0m1 6h0m2-1h0m1 1h0m3 0h0m0-7h0m8-3h0m4-1h0m0 4h0m2 2h0m1 1h0m2 2h0m0 1h0m8-2h0m7 1h0m6-7h0m6 1h0m2 5h0m1-8h0m0 1h0m1 6h0m2-1h0m0 1h0m12-9h0m2 0h0m-20 14h0m-10 0h0m-6 6h0m-4 7h0m-9-8h0m-1-5h0m-1 8h0m-1 4h0m-3-8h0m-8 10h0m-2-4h0m0-7h0m-1-3h0m-5 3h0m-1 7h0m-1-10h0m-12 12h0m-14 16h0m4 0h0m4 1h0m3-11h0m2 1h0m7 9h0m1-7h0m2 0h0m0-2h0m3-4h0m1 4h0m4-1h0m4 8h0m2-11h0m1 3h0m1 3h0m0-5h0m2 0h0m0 4h0m1 4h0m2-1h0m1-1h0m0 0h0m1 2h0m5-6h0m2 1h0m2 10h0m0-8h0m2 3h0m2 1h0m4-8h0m0-2h0m9 0h0m-23 18h0m-17 0h0m-2 11h0m-4-4h0m-3-5h0m-1 0h0m-2-4h0m-2 6h0m0-6h0m0 10h0m-2-3h0m0-1h0m0-2h0m-1-2h0m-1 11h0m-1-12h0m0 12h0m-1-6h0m-1-4h0m-2 0h0m0 2h0m-2-5h0m-3 7h0m-2 0h0m-3-4h0m-3 7h0m0 1h0m-2-7h0m-2-4h0m0 12h0m-3-4h0m-9 7h0m3 12h0m4-8h0m1 3h0m1-5h0m0-3h0m2 4h0m1 10h0m5-9h0m0 6h0m1-10h0m0 1h0m5 12h0m10-9h0m3 1h0m0-2h0m0 10h0m8-11h0m0-2h0m5 10h0m8-10h0m-13 17h0m-2-1h0m-19 7h0m0-2h0m-5-2h0m0 9h0m-1 0h0m-1-2h0m0-2h0m-1-1h0m-3 3h0m-7-8h0m-6 10h0m-3-7h0m-1 0h0m0 4h0m0-6h0m-1 2h0m-1 0h0m-1 6h0m-4-7h0m-1-6h0m-5 9h0m-2-3h0m-14 19h0m4-6h0m8 7h0m0 0h0m11-1h0m4 1h0m7-10h0m1 8h0m4 1h0m0 0h0m7-6h0m3-1h0m6 5h0m0 6h0m-12 2h0m-1 9h0m-6-2h0m-2 1h0m-2 3h0m-3-11h0m0 8h0m-2-2h0m-2-3h0m-6-1h0m-1 2h0m-1 6h0m-3 0h0m-3-3h0m0-5h0m-2 8h0m-2-1h0m-4 0h0m0 2h0m-2 2h0m0-7h0m-1-4h0m-4 2h0m-2-4h0m-2 10h0m-2 1h0m0-7h0m-13 24h0m3-8h0m2 1h0m1 2h0m2-3h0m3-4h0m3 8h0m4 0h0m10-8h0m1 1h0m2 10h0m0-11h0m1 10h0m2-4h0m2 0h0m6-2h0m4-6h0m0 10h0m0-1h0m0-1h0m1 5h0m4-2h0m-12 12h0m-3-7h0m-1 2h0m-2 10h0m-2-13h0m-7 5h0m-3 2h0m-3 4h0m-1-11h0m-3 0h0m0 14h0m-4-14h0m-5 3h0m0 8h0m-2 2h0m0-5h0m-5 1h0m-1 0h0m-2 1h0m-1-3h0m-4-3h0m-2 8h0m-12 15h0m7 1h0m2-12h0m1 3h0m2 6h0m1-2h0m1-7h0m0 7h0m4 4h0m0-9h0m0-3h0m1 12h0m2-4h0m2 4h0m1-10h0m1-2h0m1 13h0m4-7h0m1 7h0m5-4h0m5-8h0m8 2h0m-4 15h0m-15 5h0m0 2h0m0-6h0m-2 3h0m-4-3h0m-3 4h0m-1-2h0m0 0h0m-2-6h0m-1 8h0m-2-5h0m-5 9h0m0-11h0m-5 5h0m-5 8h0m-1-11h0m-3 8h0m-7-5h0m-12 18h0m9 3h0m8-6h0m1 3h0m1-2h0m3 7h0m0-2h0m2-11h0m0 13h0m3-7h0m1-3h0m2 1h0m3 2h0m5 0h0m3 2h0m0 1h0m4-8h0m1 12h0m5-5h0m10-8h0m-21 16h0m-2 10h0m-2-7h0m-3 3h0m-3 1h0m-6 2h0m-1 3h0m-4-4h0m-3-1h0m0 1h0m-1-9h0m-1 8h0m-4-5h0m-4-3h0m-4 6h0m-19 1h0m-7 5h0m-11 15h0m11-6h0m2-1h0m4-2h0m3-3h0m2 13h0m6 0h0m0-14h0m1 6h0m1 2h0m0 0h0m1 2h0m2-1h0m1-1h0m3 6h0m4 0h0m2-1h0m2-1h0m1-5h0m1-2h0m2-2h0m0 7h0m10 1h0m0 0h0m2-11h0m0 5h0m-2 12h0m-15 9h0m-4-11h0m-6 0h0m-1 13h0m-7 1h0m-5-8h0m-5 5h0m-1-4h0m0 6h0m-4-6h0m-3 3h0m-4-10h0m0 5h0m-25 17h0m7 2h0m1 2h0m5-6h0m1 8h0m3-5h0m2 5h0m2-13h0m3 2h0m4 10h0m2-9h0m0-2h0m1 1h0m2 6h0m1 1h0m3 0h0m3-8h0m4 12h0m8-11h0m0 7h0m0-4h0m3-3h0m4 6h0m1-3h0m3-5h0m3 3h0m-36 26h0m-1-4h0m-1-6h0m-1 3h0m-2-5h0m-1-2h0m-1 7h0m-2-3h0m-1-3h0m-2 7h0m-3 0h0m-6-3h0m-1 2h0m-1-2h0m-5 2h0m-1 1h0m-3 3h0m-4-7h0m-5 1h0m-2 6h0m-9 13h0m12 1h0m1-6h0m3 5h0m1 1h0m3-6h0m0 4h0m1-6h0m3 0h0m3 11h0m0-10h0m3 5h0m0-7h0m1 1h0m2 8h0m0 3h0m1-9h0m5 4h0m4-7h0m0 5h0m6-4h0m2 2h0m3-4h0m6 2h0m-21 17h0m-9 1h0m-1 2h0m-1-1h0m-4-1h0m-1 2h0m0-1h0m-5 6h0m0-6h0m-2-1h0m-11 7h0m-2 0h0m-3-11h0m-1 6h0m-3-3h0m-2 4h0m-1 2h0m-1 3h0m-2-5h0m0-3h0m-1 1h0m-2 0h0m0 7h0m-1-1h0m-1-2h0m-9 17h0m4-1h0m2-8h0m2 0h0m1 3h0m2-6h0m1 6h0m3-3h0m2 0h0m4 11h0m2-8h0m0 5h0m7-5h0m4 8h0m1-11h0m2 2h0m2-5h0m2 3h0m0 3h0m13-5h0m-14 20h0m-2-3h0m-8 5h0m-1 3h0m0-7h0m-2 4h0m-3 6h0m-6-2h0m0-6h0m-1 0h0m-2-3h0m-6 9h0m0-12h0m-4 6h0m-3-1h0m-4 5h0m-1-5h0m-7 1h0m-1-5h0m-4 10h0m-3-7h0m-1 7h0m-8 1h0m-7 5h0m9 7h0m4-9h0m2 11h0m1 3h0m2-2h0m3-5h0m0-1h0m4-6h0m0 11h0m2-10h0m1 12h0m2-9h0m0 2h0m0 3h0m1 5h0m1-7h0m5 5h0m1-7h0m0 6h0m1-4h0m1-4h0m1 9h0m0-5h0m1 3h0m4 0h0m4 3h0m7-10h0m1-2h0m-7 15h0m-13 7h0m-15-1h0m-1 3h0m-1-4h0m0 4h0m-2-2h0m-3-1h0m-1-2h0m-3-1h0m-3-2h0m-2 0h0m-4 2h0m-1 2h0m-7 6h0m-3-12h0m-3 5h0m-1 8h0m-1-1h0m-28 17h0m13-1h0m0-9h0m2 5h0m2-2h0m1-7h0m4 13h0m1-8h0m0 0h0m5-5h0m0 9h0m0-3h0m4 5h0m2 3h0m3-11h0m2 8h0m2-9h0m8 12h0m4-7h0m2-5h0m4 8h0m0-10h0m2 12h0m1-7h0m1 4h0m13-7h0m-17 15h0m-8 5h0m-14 7h0m-3-7h0m-1-1h0m0 7h0m-1-8h0m-7 4h0m-2 1h0m-7 3h0m-1-4h0m0-1h0m-1 1h0m-1-1h0m0 5h0m-6-11h0m-1 6h0m-1-8h0m-2 11h0m0-9h0m-2 3h0m-8 2h0m-13 16h0m2 4h0m2-5h0m4-5h0m4 9h0m0 3h0m4-10h0m5 10h0m0-12h0m1-1h0m2 6h0m0-4h0m1 1h0m2-2h0m4 10h0m1-12h0m2 13h0m0-4h0m1-2h0m0 4h0m5-4h0m3 2h0m3 1h0m0-9h0m0 11h0m6 2h0m9-14h0m-12 17h0m-10 3h0m0 8h0m-1-4h0m-1 5h0m-3-10h0m-1 6h0m-1-3h0m-6 2h0m-1-5h0m0-2h0m-1 6h0m0 2h0m-6-9h0m-2 8h0m-4-1h0m-1-7h0m-1 8h0m-1-5h0m-1-4h0m-1 2h0m-1 8h0m0-7h0m-1-2h0m-4-1h0m-5 5h0m-12 13h0m2 9h0m1-4h0m2-1h0m1 4h0m3-2h0m2 0h0m3 1h0m5-7h0m1-3h0m1 13h0m0-4h0m2-8h0m0 11h0m1-9h0m7 1h0m0-4h0m7 8h0m4-4h0m12-4h0m-13 16h0m-2 3h0m-2 9h0m-2-7h0m-2-5h0m-2 0h0m-5 11h0m-2-8h0m-1 4h0m-4 5h0m-2-5h0m-1-3h0m-1 4h0m0-3h0m-1 0h0m-1 3h0m-1 1h0m-3-8h0m-1-1h0m-2 9h0m-3-3h0m-3-1h0m0 3h0m-1-2h0m-1 0h0m-3 4h0m-3 1h0m-24 15h0m3-2h0m8 2h0m14-6h0m0 1h0m4-3h0m1-1h0m5 11h0m1-6h0m3-7h0m0 0h0m1 10h0m1-3h0m0-4h0m1 5h0m0-2h0m2 1h0m0 5h0m1-3h0m0-5h0m1-4h0m6 6h0m4 6h0m3-9h0m1-1h0m-14 26h0m0-3h0m-1-5h0m-1 0h0m-2 3h0m-1-2h0m-5 5h0m-4-6h0m-6-2h0m-3-2h0m-1 0h0m-3 3h0m-2 1h0m-1-3h0m-1 11h0m-1-13h0m-4 10h0m-1-7h0m-4 10h0m-3-13h0m-5 12h0m-8 16h0m2-5h0m3-3h0m7 3h0m1 4h0m1-1h0m1-5h0m1 5h0m2-1h0m6 1h0m0-10h0m1 9h0m1-6h0m1 2h0m2 2h0m1 5h0m1-13h0m1 7h0m2-3h0m6-2h0m6 8h0m5-9h0m-9 18h0m-4-2h0m-13 4h0m-2-2h0m-1 8h0m-1-7h0m0-6h0m0 9h0m-3-2h0m-2-7h0m0 11h0m-1 1h0m-2-6h0m0-5h0m-1 2h0m-1 7h0m-3 2h0m-4-6h0m-1-1h0m-1-4h0m-1 11h0m-5-1h0m-2-8h0m0 1h0m-13 25h0m3-3h0m5-4h0m2-5h0m1 8h0m3-5h0m2 5h0m3-10h0m1 0h0m4 14h0m1-2h0m0-4h0m1 3h0m6-7h0m6-1h0m1-3h0m1 17h0m-7 11h0m-1-1h0m-1-7h0m-11-5h0m-1 12h0m0-5h0m-3 4h0m0-5h0m-2-3h0m-2 1h0m-1 9h0m0 0h0m-5-8h0m-6 0h0m0 9h0m-1-3h0m-2 0h0m-15 13h0m0-2h0m11-5h0m1 2h0m0 2h0m2 7h0m4-1h0m3 0h0m0-10h0m1 8h0m1-3h0m6-2h0m1 9h0m4-3h0m4-9h0m2-2h0m6 0h0m1 2h0m2 4h0m0-5h0m3 1h0m-14 13h0m-1 10h0m-2-6h0m-3 5h0m-3-4h0m-1 2h0m0 4h0m-1-5h0m-7-1h0m-2-1h0m-1 4h0m-6 0h0m-2-3h0m0-1h0m-5 6h0m-3-5h0m-3 3h0m-1-8h0m-21 27h0m11-4h0m6-5h0m0-3h0m1 5h0m2 3h0m0 4h0m2-1h0m1-8h0m3-2h0m1 5h0m1 6h0m0 1h0m2-2h0m0-10h0m4 3h0m3-2h0m3 9h0m1 0h0m1-10h0m1 3h0m0 8h0m3-9h0m0 7h0m2-1h0m1-6h0m3 5h0m-13 19h0m-3-11h0m-4 12h0m-1-10h0m0 7h0m-1-2h0m-8 5h0m-9 0h0m0 1h0m-5-9h0m-2-5h0m-1 10h0m0-4h0m-7 7h0m-7-2h0m-5 15h0m2-2h0m6 2h0m2 3h0m4 0h0m13-8h0m9-5h0m1 10h0m0 2h0m5-6h0m1-7h0m1 2h0m3-2h0m3 8h0m-8 13h0m-3-3h0m-1 3h0m-2 5h0m-9-9h0m0 2h0m-2-1h0m-1 0h0m0 9h0m-3 0h0m-2-9h0m-2-1h0m-2 5h0m-2 3h0m-1-4h0m-10-3h0m-1 9h0m-3 2h0m-2-1h0m-4-7h0m-1-3h0m0 3h0m22 15h0m4 5h0m5-2h0m3-3h0m7-6h0m-4 15h0m-7 3h0" stroke="#700a0e" stroke-width="6.4" stroke-linecap="round" fill="none"/><path transform="scale(.1)" d="M1166 -54h0m1 5h0m1-9h0m1-1h0m5 22h0m0-6h0m-4 8h0m-5-5h0m0-2h0m-9 10h0m-12 0h0m-11 16h0m0-11h0m4 11h0m5-7h0m8-1h0m2 1h0m13 0h0m2-7h0m15 1h0m3 1h0m11 3h0m-22 16h0m-33 4h0m-8 1h0m-3-11h0m-17 11h0m-13 9h0m2-2h0m2-1h0m3 0h0m8 7h0m17-5h0m5-1h0m3 0h0m5 2h0m5 1h0m14 2h0m4 3h0m12-1h0m5 2h0m8-11h0m-9 18h0m-50-1h0m-20-3h0m-34 14h0m-5 2h0m3 10h0m8 0h0m5 0h0m18 1h0m5-1h0m7 3h0m11-12h0m1 4h0m8 6h0m11-7h0m18-3h0m8 2h0m-37 16h0m-3 8h0m-44-9h0m-6 6h0m-11 2h0m-5-3h0m-2-6h0m-5-1h0m0 6h0m-2 4h0m-2-9h0m-1 2h0m-14 17h0m0 6h0m3-11h0m2 2h0m6 8h0m11-1h0m5-11h0m20 4h0m1-4h0m16 5h0m3 8h0m44-9h0m-33 22h0m-29-3h0m-13-2h0m-2-1h0m-11 2h0m-14 3h0m-7 3h0m-4-1h0m0-10h0m-4-2h0m-1 13h0m-6 14h0m11-3h0m9 4h0m2-10h0m13 8h0m4-4h0m6 5h0m9-6h0m5-4h0m3 1h0m16 7h0m10-6h0m-10 14h0m-7 11h0m-4-2h0m-7-7h0m-2-4h0m-12 1h0m-14 12h0m-4-1h0m-8-4h0m-13 1h0m0-4h0m-2-2h0m-5 1h0m-11 0h0m0 2h0m-2-2h0m-28 13h0m2 2h0m1-1h0m9 8h0m16-1h0m12-4h0m14-6h0m2 4h0m5 1h0m8-5h0m19 3h0m7 4h0m-36 16h0m-4 5h0m-2-5h0m-1-7h0m-22 10h0m-6 2h0m-10-13h0m0 2h0m-8 6h0m-4 0h0m-8-2h0m-4 0h0m-10 2h0m-3 8h0m2 5h0m6 0h0m6-6h0m6 11h0m15-5h0m14 2h0m5-2h0m13 7h0m2 0h0m3-10h0m12 16h0m-16 2h0m-2 7h0m-17-3h0m-6-9h0m-10 4h0m-13-1h0m-20-5h0m-1 10h0m-2-1h0m-12-7h0m-9 7h0m-2 10h0m8 8h0m17 2h0m18-10h0m29 14h0m-10-3h0m-10 3h0m-11 3h0m-11-4h0m-8 6h0m-23 5h0m-1-5h0m-10 5h0m-6-6h0m-3 4h0m-10 16h0m17-11h0m1 3h0m18 2h0m6-4h0m3 7h0m55 3h0m5-12h0m-15 26h0m-11-7h0m-32 10h0m-10-10h0m-2 2h0m-23 4h0m-10 4h0m-2 0h0m-3-6h0m0 0h0m-15 16h0m11-9h0m2 9h0m19-2h0m10-2h0m20 3h0m5-7h0m13 1h0m4 25h0m-9-3h0m-22 0h0m-5-5h0m-39-4h0m-6 2h0m-13 12h0m24 15h0m22-10h0m8-3h0m14-1h0m25 3h0m-12 17h0m-32-2h0m-10 3h0m-3 0h0m-22 2h0m-14-7h0m-1 5h0m-12 6h0m-4-8h0m-9 16h0m6-4h0m64 10h0m0-5h0m21 1h0m17 0h0m-45 21h0m-22-3h0m-39-7h0m-8 4h0m-4-5h0m-10 25h0m1-11h0m12 4h0m2 2h0m12 5h0m5-3h0m6-8h0m5 8h0m16 4h0m11-1h0m28 3h0m-14 8h0m-22 2h0m-7-7h0m-9 1h0m-25 0h0m-9-1h0m-1 2h0m-6-1h0m-16 3h0m-4 19h0m3-5h0m56-6h0m4 0h0m13 12h0m1-12h0m13 5h0m19 22h0m-5-7h0m-28 7h0m-11 0h0m-2-5h0m-5 0h0m-6-2h0m-7-2h0m-16 2h0m-22-3h0m-1 2h0m-6 9h0m-9-2h0m-13 13h0m8 2h0m2-2h0m5 2h0m9-9h0m15 10h0m6 1h0m3 1h0m21-7h0m15-4h0m4 3h0m1-2h0m6 3h0m0 4h0m-12 5h0m-4 3h0m-12-4h0m-11 12h0m-5-4h0m-1 4h0m-8-3h0m-20 5h0m0-14h0m-2 11h0m-6 0h0m0 3h0m-3 0h0m-5-3h0m-1-8h0m-4-1h0m-2 10h0m-1 2h0m-7-3h0m-5 10h0m2 3h0m2-5h0m2 1h0m9-3h0m0 12h0m0-7h0m0 5h0m6-5h0m4 7h0m2-1h0m2-2h0m2-4h0m15-1h0m4-6h0m2 3h0m5 4h0m3-2h0m1-1h0m6-1h0m0 0h0m6 1h0m4 8h0m13-7h0m2 0h0m3-1h0m2 9h0m5 12h0m-1-1h0m-5 3h0m-5-11h0m-4 5h0m-5 6h0m-18-3h0m-17-7h0m-17 9h0m-3-11h0m0 0h0m-3 10h0m-10-5h0m-2-3h0m-1 11h0m-2-11h0m-7 12h0m-4-14h0m-3 10h0m-1-5h0m-1 0h0m-6 18h0m4-2h0m1 5h0m2-5h0m0 3h0m4-9h0m0 12h0m2 1h0m4-3h0m1-7h0m11 10h0m7-10h0m0-2h0m7 6h0m4 0h0m3-4h0m4 7h0m6-6h0m4 7h0m18 3h0m8-8h0m18-3h0m2 13h0m-10 3h0m-5 2h0m-6-4h0m-1 2h0m-4 10h0m-1-3h0m0 1h0m-1-2h0m-6-9h0m-4 7h0m-2-3h0m-1 5h0m-17-7h0m-10-3h0m-4 9h0m-5 0h0m0-3h0m-4-2h0m-2 1h0m-4 0h0m-1 3h0m-6-7h0m-1 1h0m-7 1h0m-13 0h0m-4 4h0m-6 12h0m0 9h0m6-2h0m0 3h0m1-6h0m3 3h0m1 0h0m1-8h0m8 4h0m7 3h0m2-7h0m21 9h0m7-3h0m3-1h0m4 1h0m3-9h0m6 14h0m33-4h0m2-6h0m25 3h0m-31 12h0m-9-4h0m0 9h0m-3 5h0m-6-8h0m-8 6h0m-6 2h0m-7-2h0m-2-5h0m-3-6h0m-1-1h0m-1 1h0m-2 12h0m-2-2h0m-8-6h0m-2 4h0m-15-2h0m0 6h0m-5-4h0m-1-2h0m-3 6h0m-1-10h0m-1 3h0m0 4h0m-2-1h0m0 3h0m-1-1h0m-1-8h0m-2-1h0m-2 8h0m-3 3h0m0-2h0m-1 3h0m-3-3h0m0 3h0m-3-12h0m-2 1h0m-1 5h0m-10 5h0m-13 16h0m2-1h0m4-11h0m1 10h0m1-7h0m0-5h0m1 9h0m1-7h0m1 6h0m2 1h0m1-1h0m2 2h0m1-4h0m0 8h0m0 0h0m3-10h0m5 2h0m2 1h0m9-4h0m2 3h0m4-2h0m2-3h0m1 5h0m5 5h0m10-10h0m1 9h0m2 0h0m2-4h0m3-2h0m1 6h0m6 2h0m6-7h0m2 2h0m0-3h0m9 9h0m1 1h0m5-9h0m0 0h0m4-4h0m2 1h0m3 3h0m3-2h0m6-3h0m0 14h0m25-3h0m3 6h0m-8-2h0m-29 12h0m-2-8h0m-4 7h0m-9-8h0m-1 6h0m-4-5h0m-8 7h0m-2-4h0m-2-6h0m-1 4h0m-3-2h0m-2-2h0m-4 1h0m-2 2h0m-3-3h0m-2 13h0m-2-10h0m-2 0h0m-10 4h0m-6-7h0m-3 4h0m-17 5h0m-4-3h0m0 2h0m-1 3h0m0-10h0m0 9h0m-4-3h0m0 6h0m-2-5h0m-1 1h0m-2-6h0m-1 0h0m-6 1h0m-1 2h0m-1 2h0m-1-4h0m-1 4h0m-12 18h0m4-5h0m2 1h0m1 4h0m2-12h0m3 5h0m3 6h0m2-9h0m5 1h0m2 7h0m4-1h0m1-7h0m0 3h0m1 7h0m4-3h0m0-2h0m4 2h0m0-2h0m2-5h0m2 7h0m3-9h0m0 13h0m4-13h0m4 7h0m0 0h0m2 6h0m2-4h0m2 2h0m6 2h0m2 1h0m3-5h0m0-1h0m2 5h0m6-2h0m1 3h0m1-5h0m0-2h0m1 4h0m4 3h0m3-4h0m2 2h0m12-4h0m1 4h0m4-2h0m11-6h0m8 8h0m4-11h0m26 25h0m-30 0h0m-2-3h0m-12 6h0m-11-8h0m0-5h0m-1 2h0m0 1h0m-2 6h0m-2 3h0m-10 0h0m-8-13h0m-4 6h0m-7 4h0m-1-6h0m-6 2h0m-14-6h0m-1 0h0m0 0h0m-5 14h0m-3-4h0m0-3h0m0-4h0m-1 8h0m-10 1h0m-1-10h0m-3 12h0m0-13h0m-3 12h0m-1-11h0m-4 6h0m-1-7h0m-4 4h0m-1 9h0m-6-1h0m-1-8h0m0 1h0m-1-6h0m-1 4h0m-1 10h0m-2-4h0m-4 0h0m-3 0h0m-6 9h0m0 1h0m1 9h0m1-13h0m3 12h0m0-9h0m0 4h0m5 1h0m0 1h0m3-6h0m1-2h0m2 0h0m1 3h0m2-4h0m1 6h0m2-6h0m5 1h0m2 6h0m1-4h0m3 0h0m2 1h0m4 0h0m0 3h0m2 4h0m3-5h0m0 6h0m5 1h0m0-8h0m1 3h0m2-8h0m1-1h0m0 10h0m3-6h0m6 6h0m5-6h0m2-1h0m4 5h0m3 5h0m0-13h0m2 8h0m1 5h0m4-9h0m2 0h0m2-4h0m0 2h0m16 12h0m2-6h0m2 3h0m2 0h0m14-9h0m1 10h0m0-12h0m3 10h0m3-10h0m1 1h0m1 7h0m6-6h0m13 3h0m6 20h0m-13-1h0m-9 0h0m-12-1h0m-1-7h0m-16 5h0m-12-4h0m-1 3h0m-3 6h0m-10-3h0m-3-2h0m-4 1h0m-1-3h0m-3 9h0m-1-12h0m-4 2h0m-2-3h0m-1 14h0m-5-5h0m-3-4h0m-9-1h0m-1-3h0m-3 2h0m-4 0h0m-1 9h0m-3-8h0m0 6h0m-4-4h0m-2-1h0m-2 1h0m-8-5h0m-2 9h0m-1-6h0m-1 7h0m-1-10h0m-2 10h0m-1-1h0m0 0h0m-1-10h0m0 14h0m-2-2h0m-3 2h0m-3 0h0m-1-13h0m-3 6h0m-1-3h0m0 6h0m-4-6h0m-2 5h0m-1 5h0m-3-2h0m-1 0h0m-1-4h0m-15 17h0m1 4h0m0-5h0m2 1h0m1-5h0m1 1h0m0 7h0m1-9h0m2 5h0m7-5h0m1 4h0m2 0h0m4-3h0m4 3h0m5 0h0m2 4h0m1-8h0m2 8h0m2 2h0m0-11h0m1 2h0m0 0h0m3-5h0m2 13h0m2-10h0m3 2h0m1 5h0m2-6h0m3 2h0m1-5h0m1 5h0m2-5h0m0 4h0m3 9h0m0-11h0m0 6h0m3-6h0m8 4h0m1 7h0m2-13h0m4 11h0m8-9h0m4 0h0m2 1h0m0 2h0m1 5h0m3 1h0m2-2h0m1 3h0m2-8h0m5 1h0m1 4h0m5-4h0m3 0h0m1-2h0m0-3h0m3 1h0m8 2h0m2 1h0m21-1h0m11 1h0m23-5h0m-38 25h0m-6 4h0m-1-4h0m-14 0h0m-3-10h0m-5 4h0m-11 10h0m-2-5h0m-3-5h0m-4 2h0m-1-1h0m-1-2h0m-6 0h0m-2 10h0m-2-5h0m-1 6h0m-3-7h0m-5-6h0m0 11h0m-1-6h0m-7 6h0m0-12h0m-1 13h0m-3-13h0m-11 6h0m-2 2h0m0 3h0m0 1h0m-1-12h0m-2 1h0m-1 11h0m-4-12h0m-3 11h0m-2-1h0m-4-9h0m-2 9h0m-2-5h0m-1 5h0m-1 3h0m-3-5h0m-3-1h0m-6-4h0m-1 6h0m-1 1h0m-5-9h0m-1 2h0m-1 9h0m-1-8h0m-1 2h0m-4 2h0m-2 4h0m-3 2h0m-4-10h0m0 4h0m-1-8h0m-3 9h0m-2-1h0m-1 3h0m-2-5h0m-1 4h0m0-4h0m-3 5h0m-21 18h0m1-5h0m3 0h0m1 2h0m0-4h0m4-3h0m2 9h0m1-9h0m0 7h0m6-1h0m1-1h0m2 3h0m0-10h0m3 11h0m0-9h0m0 5h0m0 3h0m3 1h0m6 1h0m2-14h0m1 8h0m0 1h0m0-2h0m0 1h0m1-3h0m1 8h0m0-13h0m6 6h0m1 4h0m1 1h0m0-8h0m9-2h0m3 12h0m0-8h0m1 3h0m0-2h0m0 6h0m7-4h0m1-1h0m4 3h0m0 2h0m0-12h0m4 4h0m0 6h0m1 0h0m0-7h0m4-1h0m1 3h0m3-1h0m2 0h0m1 8h0m1-10h0m2-1h0m4 7h0m2 5h0m3-6h0m0-3h0m3 2h0m3-3h0m3 7h0m2 4h0m1-13h0m1 2h0m1 8h0m1-2h0m2-2h0m1-5h0m0 11h0m3-5h0m6 6h0m1-13h0m2 9h0m7-8h0m6 6h0m0-8h0m7 5h0m0-3h0m18 6h0m1-5h0m4 8h0m4-7h0m3-3h0m0 3h0m5 6h0m8 2h0m4-6h0m-20 15h0m-2 1h0m-6-4h0m-23 9h0m-1 1h0m-1-13h0m-5 0h0m0 8h0m-9 2h0m-3 4h0m-5-1h0m-2-5h0m-3 5h0m-1-4h0m-2 3h0m-1-12h0m-2 1h0m-10 13h0m-1-6h0m-1-5h0m-5 7h0m-1-9h0m-10 1h0m-1 9h0m0-8h0m-3 3h0m-1-3h0m-5 6h0m-2-5h0m-1 6h0m-1-10h0m0 13h0m-1-8h0m-1-2h0m0 8h0m0 3h0m-2 0h0m-1-7h0m-1-2h0m0 0h0m-3 0h0m-1 0h0m-4-4h0m-1 4h0m-4 3h0m-3-2h0m0-4h0m-2 9h0m-3-10h0m-2 6h0m0 0h0m-1-5h0m0 1h0m-4 6h0m-3 1h0m-1-9h0m-2 6h0m-3 0h0m0-6h0m-2 5h0m-2 4h0m-2-4h0m-1-6h0m0 11h0m-1-3h0m-1-3h0m-3-3h0m-1 9h0m0-9h0m-1 5h0m0-2h0m-3 7h0m-2-8h0m0 8h0m-2-8h0m-1 7h0m0-2h0m-2-3h0m0-5h0m-2 0h0m0-1h0m-2 5h0m0 5h0m-1-7h0m-3 1h0m-1-3h0m0 13h0m0-13h0m-3 4h0m0 3h0m0 1h0m-2-5h0m-3 1h0m-4 4h0m-1 0h0m-1 1h0m-23 15h0m0 0h0m0 2h0m3-1h0m1-3h0m0-2h0m2 7h0m2-1h0m3-3h0m1 1h0m0 4h0m1-8h0m8 8h0m6-10h0m1 9h0m0 0h0m5-13h0m1 0h0m0 7h0m1 6h0m2-10h0m6 2h0m2 2h0m2 3h0m0-9h0m1 1h0m2 3h0m1-4h0m2 10h0m0 1h0m2-2h0m1-10h0m1 9h0m7-1h0m0-6h0m2 9h0m0-3h0m3-2h0m2-5h0m0 9h0m3-4h0m3-3h0m6 4h0m3-3h0m9 5h0m2-9h0m1 2h0m2 2h0m1 0h0m7-3h0m2 12h0m1-11h0m10 8h0m1 1h0m0-9h0m2 0h0m5-2h0m0 13h0m10 0h0m5-4h0m1 3h0m5 1h0m2-9h0m1 9h0m2-7h0m4 6h0m1-6h0m3 5h0m4-9h0m4 4h0m1-5h0m1 8h0m1 3h0m4-4h0m0-7h0m8 4h0m1 4h0m11-6h0m0-2h0m7 6h0m18-7h0m4 3h0m-20 24h0m-4-10h0m-7 4h0m-13-2h0m-1 5h0m0-5h0m-16 7h0m-5-10h0m-4 12h0m-5-11h0m-4 8h0m-9-10h0m-1 4h0m-5 0h0m-3 10h0m-2-4h0m-3-6h0m0-1h0m-1 11h0m-1-12h0m-2 12h0m0-10h0m-1 9h0m0-1h0m-2-2h0m-9-5h0m0 6h0m-5-11h0m-1 6h0m-1 7h0m-2-10h0m0 5h0m0-6h0m0 5h0m-2 3h0m-4-6h0m-1 9h0m-1-7h0m-6 7h0m-1-5h0m-14 0h0m-2-7h0m-2 12h0m0-13h0m0 10h0m-1-3h0m0-5h0m-2-2h0m-1 4h0m-1-1h0m0 3h0m-1 3h0m-3-6h0m-4 4h0m0 7h0m-3 0h0m-3-13h0m-1 6h0m-1 6h0m0-2h0m-6 2h0m-2-9h0m-1-2h0m0-2h0m-8 7h0m0 5h0m-1-8h0m-1 8h0m-1 1h0m-3-13h0m-9 2h0m0 4h0m-1-4h0m0 4h0m-1-1h0m-5-5h0m-2 14h0m-1-6h0m0-3h0m-1-2h0m0 2h0m-2-3h0m-1 11h0m-5-4h0m-1-9h0m-7 14h0m-1-5h0m0 1h0m0 0h0m-12 3h0m-3 1h0m-23 15h0m1-1h0m6 0h0m1 1h0m2 0h0m2-3h0m3-4h0m1-5h0m1 5h0m1 0h0m0 2h0m0-6h0m1 7h0m2 4h0m1-12h0m0 10h0m3 0h0m3-5h0m1-4h0m2 1h0m2 1h0m0 4h0m1-8h0m4 3h0m1-4h0m1 7h0m1-3h0m1 9h0m10-13h0m4 2h0m1 8h0m1 2h0m0 0h0m5-9h0m3 3h0m3 4h0m8-2h0m5 0h0m0-4h0m4-3h0m1 5h0m0 5h0m5-4h0m2 7h0m1-11h0m2 6h0m0 0h0m0-1h0m2-7h0m0 0h0m0 0h0m4 6h0m6-1h0m2 7h0m3-10h0m4 7h0m4-1h0m0 2h0m2-8h0m2 8h0m4-5h0m2 0h0m8-4h0m7-1h0m0 11h0m2-2h0m1-10h0m1 9h0m1-4h0m2 9h0m4-11h0m0 6h0m2-9h0m6 0h0m4 6h0m8 5h0m8-11h0m0 0h0m1 0h0m1 5h0m9 6h0m0-11h0m1 6h0m1-5h0m1 3h0m0 10h0m6-7h0m12-1h0m8 3h0m0 0h0m7 4h0m2-5h0m-33 19h0m-2-10h0m-9 7h0m-2-1h0m-8-1h0m0 5h0m-10 2h0m-1-5h0m-2-4h0m-2-4h0m-2 0h0m-13 11h0m-1 0h0m0-12h0m-1 11h0m-3 3h0m-4-13h0m-7 11h0m-5-7h0m-2-3h0m-1-2h0m-19 5h0m-3-2h0m-10 3h0m-2-2h0m-1-2h0m-1 10h0m-3 1h0m-1-6h0m-4-7h0m-1 9h0m-2-5h0m-3-1h0m-6 0h0m-2-2h0m-2 11h0m-2-9h0m0 6h0m0 3h0m-3-12h0m-2 3h0m-4 8h0m-1-8h0m-7 0h0m-2 10h0m0-5h0m-7 6h0m0-7h0m0 3h0m-2 1h0m-5-1h0m-7-5h0m-2 5h0m-5-8h0m-2 10h0m-1-11h0m-4 5h0m-2 8h0m-1-9h0m0-3h0m0 2h0m0 2h0m-7 0h0m-1 7h0m-2-10h0m-3 8h0m-1-4h0m0-6h0m-2 1h0m0 7h0m-1-5h0m-4 9h0m0-7h0m-2 6h0m-3 1h0m-1-3h0m-3-1h0m-5 3h0m-27 14h0m7-3h0m0 1h0m1-4h0m0 7h0m2-5h0m1 3h0m0-3h0m0 2h0m2 4h0m1-3h0m3 2h0m0 2h0m1-7h0m1 1h0m3 4h0m0-2h0m2-10h0m3 5h0m1 3h0m0 4h0m0-5h0m3-4h0m1-1h0m1-2h0m3 2h0m0-2h0m5 4h0m0 10h0m5-5h0m0-4h0m0 0h0m1 6h0m2 0h0m0-10h0m3 5h0m8-3h0m1 4h0m2-7h0m2 1h0m1 12h0m1-2h0m2-5h0m1-2h0m3 6h0m3-3h0m1 6h0m0 0h0m3-12h0m1 0h0m1-1h0m2 10h0m4-2h0m0-2h0m2 6h0m3-12h0m0 8h0m2-4h0m1 7h0m2-1h0m0-3h0m0-5h0m2 3h0m1 3h0m1-8h0m6 13h0m0-4h0m1-9h0m0 4h0m1 5h0m1-7h0m2 0h0m0 0h0m2 12h0m4-13h0m0 4h0m3-2h0m2-3h0m1 7h0m0 1h0m2 6h0m4-10h0m4 1h0m0 5h0m0 1h0m0 2h0m2-7h0m0-3h0m0 4h0m0 0h0m2 7h0m0-2h0m0-4h0m5 3h0m10-10h0m2 13h0m1-8h0m6-5h0m1-1h0m6 0h0m13 14h0m4-14h0m3 7h0m4 6h0m10-13h0m5 5h0m4 3h0m12 5h0m2-3h0m1 0h0m13 1h0m5-2h0m12-6h0m-50 17h0m-4 5h0m-1-4h0m-1 4h0m-5-9h0m-2 0h0m-3 3h0m-1 4h0m-9 6h0m-1-5h0m0 5h0m-3-10h0m-1 8h0m-3-6h0m0 8h0m-11-11h0m-3 2h0m-7-2h0m-2 1h0m-3 10h0m-5-10h0m-1 7h0m0 1h0m-2-5h0m0 2h0m-5-3h0m-5 1h0m-2-7h0m-3 13h0m-3-8h0m-2-1h0m-1 6h0m-1-4h0m-1 3h0m0-3h0m-1-5h0m-3 6h0m-9-6h0m-2 13h0m-2-13h0m0 6h0m-2 3h0m-1 0h0m-1-6h0m-1-1h0m-5 7h0m-7-2h0m-2 5h0m-3-1h0m-2-7h0m-1 8h0m-2-1h0m-3-5h0m-3-5h0m-2-2h0m0 8h0m-1 4h0m-2 2h0m-2-1h0m-4-9h0m0 8h0m-1-2h0m0-2h0m-1 5h0m-1-12h0m-1 2h0m-2 2h0m-1 5h0m-3-2h0m-3 3h0m0-7h0m0 10h0m-2-4h0m-8-1h0m-2 1h0m-2 0h0m-3 1h0m0 3h0m-2-6h0m-2 3h0m-1-8h0m0 8h0m-3-7h0m-4 3h0m0 3h0m-1-5h0m-5-3h0m0 1h0m-1 11h0m0-1h0m-3-7h0m-1 2h0m0-8h0m0 14h0m-2-14h0m-4 0h0m0 9h0m-3-4h0m-6 1h0m-1 2h0m-1 1h0m-1 4h0m-2 0h0m-1-4h0m0 5h0m-1-9h0m-3 4h0m-1 2h0m-2 3h0m-2-2h0m0 2h0m0-1h0m-2-3h0m0 2h0m-1-3h0m-2 2h0m-31 18h0m5-4h0m1-2h0m2 3h0m1-1h0m1-1h0m12 2h0m2-2h0m1-4h0m2-5h0m1 5h0m0-4h0m3 9h0m2-1h0m1-2h0m1 5h0m0-12h0m1 3h0m1 8h0m0 2h0m0-11h0m3 4h0m1 3h0m4-3h0m1 1h0m0 5h0m0-9h0m1-3h0m1 4h0m0 7h0m2-9h0m1 0h0m0 6h0m1 1h0m2-3h0m1 8h0m0-5h0m2 0h0m0-5h0m3 0h0m2 2h0m3-6h0m3 7h0m1-3h0m0 5h0m3 3h0m1 1h0m0 0h0m1-10h0m1 3h0m1 7h0m0-13h0m1 8h0m2 6h0m2-8h0m2-5h0m0 2h0m2 9h0m2-11h0m1-1h0m1 14h0m3-3h0m0-8h0m3 3h0m0-5h0m0 4h0m3 9h0m0-9h0m1 9h0m3-13h0m2 5h0m12 8h0m1 0h0m0-5h0m1-8h0m2 7h0m0-7h0m2 0h0m0 10h0m2 2h0m2-9h0m3 0h0m5 0h0m11 7h0m4-7h0m0 2h0m6 8h0m2-4h0m2 4h0m3-1h0m2-8h0m1 6h0m2 1h0m6-8h0m0 5h0m6-1h0m3 4h0m0-11h0m2-1h0m0 4h0m2 4h0m3 4h0m2-5h0m3 5h0m0-12h0m12 13h0m1-1h0m1-11h0m1 8h0m2-6h0m1 6h0m6-8h0m6 9h0m2-4h0m2 7h0m8 1h0m0-14h0m1 7h0m1-5h0m11 10h0m6-9h0m1 2h0m4 4h0m-21 13h0m-2-5h0m-15 0h0m-11-2h0m-12 2h0m-2 7h0m-10-5h0m-1 3h0m-3-7h0m0 13h0m-16-12h0m0 0h0m-1 13h0m-2-7h0m-2-5h0m-11 3h0m-1 6h0m-1-7h0m0-1h0m-5 9h0m-1-9h0m-3 8h0m-1-8h0m-2 4h0m0-3h0m-5 7h0m-2-10h0m-4 8h0m0 3h0m-1-5h0m-10 3h0m-1-7h0m-3 9h0m-8-12h0m-7 14h0m-2-11h0m-1 2h0m-3 2h0m-2-3h0m0 10h0m-1-10h0m-2 4h0m-1-1h0m-2-2h0m-1 3h0m0-8h0m-7 4h0m0-1h0m0 6h0m-3 2h0m-1-1h0m-8 1h0m-1-9h0m-2-2h0m-1 5h0m-2 9h0m-2-4h0m-1-1h0m-1-2h0m0 5h0m0-8h0m-4-2h0m0 7h0m-1-3h0m-3 5h0m-1-7h0m-4 6h0m-3 1h0m-4-7h0m0-2h0m-1 11h0m0-2h0m-1 2h0m-3 1h0m-2-11h0m-2 4h0m0-5h0m-3 6h0m-3 3h0m-1 2h0m-1-2h0m0 1h0m-2-3h0m-2-7h0m-2 12h0m-1-1h0m0 1h0m0-9h0m0-1h0m-3 9h0m0-9h0m-1 1h0m0 5h0m0-3h0m-1-1h0m0 4h0m0-7h0m-1 4h0m-1 0h0m-2 0h0m0-2h0m0 2h0m-1-5h0m-2 9h0m0-4h0m-1-5h0m0 0h0m0 12h0m-1-10h0m-1 2h0m-1 7h0m-1-4h0m0-1h0m-2-2h0m0-1h0m0-3h0m0 9h0m-3-7h0m-1 4h0m0-3h0m-1-1h0m0 6h0m-1 2h0m-4-6h0m-1 1h0m-3 7h0m-1-4h0m0-2h0m-1 4h0m-2 1h0m0 0h0m-3 0h0m-33 16h0m3 0h0m0-1h0m2-2h0m0-1h0m5 2h0m4-6h0m0 3h0m0 3h0m0-3h0m3 0h0m0-1h0m2-2h0m0-2h0m1 4h0m0-1h0m1 4h0m1-4h0m0-3h0m0 7h0m2-5h0m3 1h0m0 7h0m1-11h0m1 9h0m1-6h0m2 0h0m0 7h0m3-8h0m0 0h0m0-5h0m1 9h0m1 3h0m0-2h0m0-7h0m1-3h0m0 11h0m0-4h0m1 7h0m0-13h0m0 11h0m1-5h0m1 1h0m1-4h0m1 8h0m0-4h0m1-1h0m0 5h0m0-12h0m1 8h0m0-6h0m0 11h0m1-12h0m1 11h0m2-5h0m0-4h0m0-1h0m1 0h0m1 2h0m0 3h0m3 4h0m2-8h0m0-2h0m1 6h0m1-5h0m1 3h0m1-4h0m2 11h0m0-7h0m1 7h0m2-7h0m0 0h0m2-4h0m2 3h0m0 0h0m0-1h0m10 9h0m1-12h0m1 8h0m1-1h0m1-3h0m2-3h0m1 4h0m3-5h0m1 11h0m0-7h0m0 8h0m1-12h0m1 0h0m0 13h0m1-12h0m0-1h0m4 12h0m1-11h0m1 0h0m1-1h0m0 2h0m1 11h0m1-9h0m0 3h0m1-7h0m4 3h0m2 4h0m2 4h0m2-1h0m1-5h0m3-1h0m0 3h0m0-6h0m1 11h0m0-3h0m2-1h0m0-7h0m3 6h0m0-4h0m6 2h0m1-4h0m0 1h0m1-2h0m3 2h0m3 6h0m2-2h0m2 3h0m1 3h0m0-3h0m2 0h0m0-3h0m2 1h0m0-4h0m2 11h0m2-13h0m1 9h0m2 1h0m1-2h0m4-4h0m1 6h0m0-6h0m3 2h0m5 1h0m0-6h0m2 1h0m1 11h0m1-12h0m1 6h0m1 2h0m5-5h0m1 6h0m0 3h0m1-3h0m1 3h0m8-14h0m1 0h0m4 4h0m1 5h0m3 1h0m1-7h0m12 1h0m5 3h0m13-6h0m8 3h0m7 1h0m7-4h0m2 2h0m2 6h0m9-8h0m-36 18h0m-2 3h0m0-6h0m-9 0h0m-5 6h0m-4-3h0m-9 3h0m-3-2h0m-1-4h0m-8 3h0m-1 7h0m-7-3h0m-1-1h0m-1 2h0m-15-4h0m0-2h0m-9-1h0m-8 3h0m-1 3h0m0 5h0m-2-5h0m-12 5h0m-5-7h0m-1-5h0m-13 2h0m-3-1h0m0 11h0m-1-5h0m-1 3h0m-1 2h0m-4-1h0m-2-5h0m0-7h0m-2 6h0m-5-4h0m-2 7h0m-1-5h0m0 7h0m-2-6h0m-4 2h0m0-1h0m0-5h0m-2 11h0m-1-12h0m0 10h0m-1 3h0m0-13h0m-1 14h0m-4-10h0m-3-4h0m-1 11h0m-2-2h0m-1 2h0m-1-4h0m0-3h0m-3-2h0m-2 7h0m-1-9h0m0 12h0m0-11h0m-3 7h0m-2-4h0m-1 8h0m-1 1h0m0-9h0m0 0h0m-1 9h0m-1-1h0m-3-5h0m-1 3h0m-1 3h0m0-8h0m-1 7h0m-1-9h0m-2-3h0m-1 3h0m-2 7h0m0-5h0m0 5h0m-1-10h0m0 13h0m-1-4h0m0-3h0m0 4h0m-1 1h0m-1-7h0m0-2h0m-5-1h0m-1 7h0m0 4h0m-2-2h0m0-10h0m-2 11h0m0-4h0m0-7h0m-2 9h0m-1 2h0m0-8h0m-2 6h0m-1-3h0m0 5h0m0 0h0m-1-8h0m0-1h0m-2 7h0m0-5h0m-1-1h0m-1 8h0m-1-6h0m-1 2h0m0 6h0m-2-2h0m0-3h0m-2 2h0m-1-3h0m0 0h0m0-5h0m-1-2h0m0 8h0m0 4h0m-1-2h0m0 4h0m0-11h0m-1 7h0m0 3h0m-1-6h0m-1-2h0m0-1h0m-1 5h0m-1 4h0m0-7h0m-1-5h0m0 3h0m0-4h0m-2 1h0m-1 4h0m-1-5h0m-1 13h0m0-9h0m-1 7h0m0-7h0m0 8h0m-3-1h0m-1-4h0m0-4h0m0 6h0m-1-4h0m0 6h0m0-6h0m-1 5h0m0 3h0m-1-7h0m0 2h0m-1 1h0m-1-2h0m-1 7h0m0-6h0m-1-3h0m0 8h0m-1-2h0m0 0h0m-1-2h0m-1 1h0m-2-3h0m-6 7h0m-1-3h0m4 6h0m2-1h0m0 2h0m3 4h0m1-2h0m0 0h0m1-5h0m1 9h0m0-6h0m1 2h0m1 1h0m0 3h0m1-9h0m2 6h0m1-4h0m0 10h0m1-11h0m1 4h0m0 6h0m1 1h0m1-8h0m2 6h0m1-7h0m5 3h0m0 8h0m1-12h0m1 4h0m0-1h0m0-2h0m2 3h0m1 5h0m1-11h0m1 11h0m0-8h0m1 9h0m0-6h0m0 5h0m1-11h0m0 3h0m1-1h0m2 2h0m2-1h0m0 1h0m1-2h0m2 10h0m0-8h0m1 6h0m1 1h0m0-7h0m1 4h0m1 1h0m0-8h0m1-1h0m0 4h0m8 1h0m2-2h0m1-3h0m7 9h0m0 5h0m5-5h0m1-2h0m0-3h0m5-1h0m3-2h0m9 4h0m1-1h0m0 3h0m4-4h0m2-3h0m4 2h0m0-1h0m1 6h0m0-7h0m4 2h0m18 5h0m26-7h0m19 2h0m21 0h0m-146 13h0m-10 0h0m-16 4h0" stroke="#1a1a1a" stroke-width="5.0" stroke-linecap="round" fill="none"/><path transform="scale(.1)" d="M1164 -61h0m-11 13h0m1-7h0m2 0h0m1 3h0m3 2h0m3-1h0m0-2h0m2-6h0m1 3h0m2-4h0m1 9h0m5 3h0m3-3h0m14 16h0m-1 2h0m-1-2h0m-1 4h0m-3-4h0m-4-7h0m0 1h0m-2-1h0m-1 0h0m-4 1h0m-8 0h0m0 10h0m-2-8h0m-3 0h0m-1-2h0m-3 8h0m-2 0h0m0-4h0m-7-4h0m0 9h0m-1-5h0m-2 2h0m-17 13h0m0-3h0m2 0h0m2 9h0m5-10h0m1 2h0m5 6h0m2-7h0m1 8h0m3-3h0m4-10h0m2 11h0m2-2h0m1-4h0m1-1h0m3 9h0m2 0h0m2-4h0m0-1h0m0-6h0m1 6h0m3-4h0m5 8h0m5 2h0m1-9h0m2-1h0m1 7h0m16-7h0m2 6h0m-4 5h0m-2 13h0m-1-7h0m0-6h0m-14 3h0m-5 3h0m-7-2h0m-1 2h0m-3-6h0m0 6h0m-3-5h0m-2 11h0m-3-2h0m-1-5h0m-3 2h0m-8-7h0m0 8h0m-2-4h0m-3-2h0m-2 12h0m0-7h0m-1-2h0m0-3h0m-2 10h0m-1-12h0m-2 7h0m-2-6h0m-2 3h0m-1 8h0m-1-6h0m-2 8h0m-1-4h0m-3-2h0m-2-3h0m-1 5h0m0-1h0m-4 1h0m0-3h0m-4 5h0m-1 1h0m-10 13h0m0 0h0m3 1h0m2-11h0m1 6h0m4 1h0m1 5h0m6-6h0m1-5h0m2 1h0m0 2h0m2-1h0m1 5h0m1 1h0m3 3h0m5 0h0m3-11h0m2 4h0m5 8h0m3-13h0m1 10h0m5-5h0m0 6h0m1 1h0m3-4h0m7-7h0m6-1h0m0 0h0m5 4h0m2-3h0m1 6h0m15-8h0m3 8h0m0 10h0m-3-2h0m-12 2h0m0 6h0m-6 3h0m-8-1h0m-4-8h0m-3 1h0m-1 0h0m-6 4h0m-1 0h0m-2 1h0m-4 0h0m-3-6h0m-4 6h0m-1-2h0m-1 0h0m-2-5h0m0-2h0m-1 12h0m-1-11h0m0 8h0m-6-9h0m-1 9h0m-4-5h0m-1 7h0m-1-9h0m-2 6h0m0-1h0m-3 0h0m-1 0h0m-3 5h0m-5-12h0m-12 3h0m0 1h0m-2 10h0m-1-8h0m0 3h0m-1-3h0m-1 5h0m-20 18h0m1 0h0m6 0h0m3-13h0m3 13h0m1-3h0m3-5h0m2 7h0m0-13h0m5 6h0m3 3h0m3-6h0m1 8h0m1-5h0m1 6h0m0-1h0m7-11h0m7 13h0m4-5h0m1 2h0m2 4h0m2-6h0m1 6h0m0-13h0m3 12h0m2-13h0m6 9h0m4-2h0m4-6h0m4 7h0m6-1h0m2 3h0m0-4h0m0 4h0m12 6h0m-13 9h0m-8-2h0m0-1h0m-5-3h0m-5 4h0m-1-8h0m0 11h0m-3 1h0m-15-10h0m-3 7h0m-11 0h0m-1-3h0m-2-2h0m-2 7h0m-1 0h0m0-1h0m0 4h0m-8-6h0m-1 2h0m0 2h0m0-7h0m-2 7h0m0-4h0m-3-8h0m-1 9h0m-4-6h0m-4 7h0m-1-5h0m-2 1h0m-2-3h0m-2-3h0m-1 8h0m-4-2h0m0 2h0m-2 4h0m0-7h0m-19 22h0m9-6h0m4 2h0m3-7h0m1 9h0m6-5h0m0 0h0m1-1h0m0 5h0m1 5h0m2-2h0m0-2h0m2-5h0m0 4h0m4 4h0m5-1h0m7 0h0m2-6h0m1-6h0m1 5h0m1 4h0m3-1h0m3-6h0m2-1h0m8 3h0m17-1h0m1 7h0m1-8h0m2 9h0m13-9h0m2 6h0m6-3h0m2-5h0m-24 28h0m-11-13h0m-4 0h0m-8 11h0m-1-10h0m-3 3h0m-4 9h0m-12-11h0m-1 3h0m0 8h0m-2 1h0m-3-13h0m-1 6h0m-1-7h0m-7 7h0m0 3h0m-1-8h0m-3 7h0m-5-9h0m-3 0h0m0 13h0m-13-10h0m0-2h0m-1-1h0m-1 10h0m-12-1h0m-1 1h0m-6 5h0m1 10h0m1 2h0m1-10h0m4 12h0m1-13h0m0 6h0m6 1h0m2-2h0m2 0h0m2 3h0m1-3h0m1 5h0m0-3h0m1-6h0m1 6h0m0-7h0m1 4h0m1 0h0m0 6h0m12-6h0m2-2h0m1 0h0m8 11h0m0-11h0m1 8h0m3-1h0m5 2h0m2-7h0m6 6h0m4-9h0m8 9h0m6-11h0m6 13h0m1-5h0m2 2h0m11-4h0m4 2h0m-24 21h0m-2-8h0m-3-2h0m-10 1h0m-1-5h0m-8 14h0m-1-5h0m-3-7h0m-10 5h0m-3 4h0m-6-11h0m-5 7h0m-1 7h0m-1-6h0m-3 1h0m-2-5h0m-3-2h0m0 10h0m-6-11h0m-1 9h0m-2-8h0m0 4h0m-2 3h0m-2-3h0m-2 4h0m-1-7h0m-4 8h0m0-3h0m-1-8h0m-1 12h0m-1-6h0m-2 1h0m-1 1h0m0-2h0m-4 6h0m-2-3h0m-6 5h0m0-9h0m-4 6h0m-9 11h0m3-2h0m2 7h0m1-11h0m5 10h0m5-10h0m2-1h0m1 3h0m1 5h0m2-2h0m0 4h0m9-2h0m1-4h0m0-3h0m10 3h0m1-1h0m0 10h0m1-7h0m0-2h0m1-3h0m5 7h0m1-1h0m8 4h0m5 0h0m6-11h0m2 10h0m5-9h0m5 13h0m0-11h0m12 4h0m13-1h0m-17 13h0m-3 0h0m-8 8h0m0-7h0m-7 6h0m-4-7h0m-10-4h0m-2 8h0m0 5h0m-1-3h0m0-6h0m-10-2h0m-1 9h0m0-7h0m-1 6h0m-2 4h0m-4-1h0m-1-2h0m0-7h0m-7 10h0m-7-9h0m-3 6h0m-1-11h0m-3 1h0m-9 12h0m-1-8h0m-1 6h0m-14-1h0m-1-2h0m-2 2h0m-1-8h0m-4 5h0m-4 7h0m-10 11h0m3 1h0m4 2h0m1-9h0m0 4h0m6 2h0m3-1h0m1-1h0m1-3h0m2-2h0m1 11h0m1-7h0m1 2h0m5-2h0m1-4h0m0 10h0m3-11h0m4 0h0m1 0h0m0 6h0m1-7h0m0 1h0m1 2h0m1-4h0m1 1h0m2 5h0m2 5h0m6-7h0m1 6h0m3-8h0m7 0h0m0 12h0m8-3h0m8 0h0m1 0h0m1 3h0m2-3h0m5 3h0m8-3h0m6-6h0m5 8h0m-11 9h0m0 0h0m-7 3h0m-2-8h0m-10-1h0m-12 2h0m-2 9h0m-1-3h0m0-1h0m0 3h0m-3 1h0m-2-3h0m-9 1h0m-1-9h0m-1 6h0m-3 4h0m-5 2h0m-9-2h0m-7-2h0m0-2h0m0-4h0m-4-1h0m-3 1h0m-2 0h0m-2 1h0m0 9h0m-4-10h0m-6 6h0m-1-2h0m-2-6h0m-2 13h0m-2-1h0m-5 1h0m-4-4h0m-2 5h0m8 8h0m0 5h0m12-9h0m1-4h0m3 12h0m4-2h0m2-7h0m2-2h0m3 3h0m3 5h0m1-4h0m0 4h0m2-7h0m6 12h0m4-1h0m6-7h0m4-2h0m3 0h0m5 9h0m0-13h0m1 4h0m2 3h0m3 5h0m8-3h0m3 5h0m6-9h0m1 5h0m5 7h0m-7 3h0m-5 6h0m-7-4h0m-2 6h0m-9-8h0m0 4h0m-2-7h0m-6-2h0m-8 5h0m0 6h0m-2-9h0m-3 1h0m0 6h0m-4-5h0m-1-3h0m-1 11h0m0-11h0m-9-1h0m-6 1h0m-6 0h0m-6 4h0m-3 9h0m0-5h0m-2-9h0m-7 13h0m-3-4h0m-5 4h0m-8-7h0m0-2h0m-15 22h0m2-2h0m0-4h0m7-1h0m2-2h0m7 6h0m2-4h0m8 9h0m2-2h0m1 0h0m1-7h0m10 10h0m1-9h0m15-2h0m3 4h0m2-3h0m2 7h0m25-7h0m14 1h0m1 1h0m4-4h0m3 9h0m-14 4h0m-16 3h0m-17 2h0m-4 0h0m-5 2h0m-4-6h0m-1 6h0m-2-3h0m0 10h0m-2-5h0m-2-6h0m-14 8h0m-1 2h0m-4-13h0m-1 12h0m-1-1h0m-5-4h0m-1 5h0m-7-9h0m-3 3h0m-4-5h0m-4 3h0m-3 8h0m0 1h0m-8-5h0m-14 21h0m2-2h0m13-8h0m8 1h0m0 7h0m0-11h0m1 3h0m1 5h0m0 5h0m8-13h0m0 5h0m1 0h0m0-4h0m7 10h0m18-2h0m1 3h0m1-1h0m10-3h0m5 3h0m6-3h0m1-1h0m3 5h0m2-11h0m6-1h0m1 6h0m10 9h0m-4 1h0m-17 3h0m-15 9h0m-1-10h0m-18 3h0m-3 6h0m-5-10h0m-5-2h0m-1 5h0m0-1h0m-5 1h0m-2 0h0m-12-4h0m-4 6h0m0 2h0m-6-7h0m-10 9h0m0-6h0m-16 19h0m1-2h0m3 0h0m1-5h0m4-1h0m4-2h0m0 7h0m5 2h0m8-7h0m1 1h0m11 7h0m1-6h0m7-2h0m2 5h0m1-5h0m3 5h0m1 0h0m5 1h0m5 0h0m3 0h0m3 0h0m0-3h0m0 0h0m0-2h0m3 7h0m8-10h0m4 9h0m5 5h0m16-11h0m5 2h0m-12 15h0m-13-3h0m-2 1h0m-6 2h0m-2 1h0m-16 4h0m-1-8h0m-2 2h0m-10-4h0m0 9h0m-21 2h0m-4-9h0m0 2h0m-4 3h0m-2-5h0m-3 2h0m0-2h0m0 0h0m0 10h0m-1-12h0m-10 10h0m-3 2h0m-2-1h0m0 0h0m-7 0h0m-4 11h0m5-1h0m7 7h0m1-6h0m0 0h0m3-6h0m1 0h0m2-1h0m8 9h0m1 0h0m5 1h0m1-2h0m7 5h0m27-8h0m5 9h0m3-5h0m2 5h0m2-12h0m10 2h0m13 1h0m1-3h0m2 7h0m-15 11h0m-15-2h0m-3 0h0m-6 2h0m-3 9h0m-11-2h0m-1-5h0m-3-3h0m-2-1h0m-17 2h0m-1 5h0m-1 3h0m0-11h0m-4 1h0m0 5h0m-4-8h0m-3 3h0m-2-3h0m-19 6h0m-1 8h0m-6-5h0m-13 19h0m10-4h0m6 5h0m1-13h0m0 4h0m2-5h0m1 8h0m4 5h0m2-7h0m3 6h0m3-7h0m3 2h0m3-2h0m4-1h0m4 9h0m1-13h0m3 4h0m15 7h0m3 2h0m3-11h0m4-2h0m10 0h0m4 5h0m11 5h0m5-6h0m2 6h0m6-3h0m1-2h0m7-5h0m2 4h0m-10 13h0m-20 10h0m-25 1h0m-2-5h0m-4-1h0m-1 3h0m-8-7h0m-10 11h0m-14-2h0m-1-9h0m-5 3h0m-10-2h0m-7 10h0m-2-12h0m-8 7h0m-10 18h0m3 0h0m8-2h0m2 2h0m1-3h0m7-6h0m4 3h0m3-6h0m13 7h0m4 2h0m9 0h0m2-5h0m4-3h0m8 9h0m8-1h0m5-7h0m2-1h0m2 4h0m1 6h0m19 3h0m9-10h0m6-3h0m-20 26h0m-4-5h0m-3-6h0m-4 1h0m-4 8h0m-5-5h0m0 9h0m-10-4h0m-10-5h0m-2-3h0m-3 6h0m-1-1h0m-3-5h0m-7 9h0m-1-11h0m-3 2h0m-1 4h0m-16-5h0m-1 3h0m-6 0h0m-1-1h0m0-3h0m-1 11h0m0-1h0m-1-5h0m-1 5h0m-12-1h0m-3 0h0m-3 13h0m17-2h0m21-3h0m1 11h0m2-9h0m2 8h0m1-7h0m17 4h0m2-9h0m16 2h0m3 7h0m0-3h0m1-5h0m23 0h0m2 5h0m-7 14h0m-7-2h0m-4 8h0m-7-4h0m-12-4h0m-7 11h0m0-12h0m-13 9h0m-4-11h0m-8 1h0m-8 6h0m-7 3h0m-5 0h0m-6 2h0m0-4h0m-5 1h0m-3-5h0m-1 4h0m-3 2h0m-14-10h0m-3 23h0m7 0h0m3 4h0m2-3h0m1-9h0m4 5h0m13 5h0m2 4h0m6-14h0m5 5h0m4 2h0m3 6h0m6-10h0m30 7h0m2-8h0m9 3h0m2-4h0m0 13h0m16 6h0m-22 4h0m-5-7h0m-1 9h0m-9 2h0m-19-6h0m-4-5h0m-1-1h0m-13 11h0m-4-7h0m-2-1h0m-7 0h0m-2 0h0m-3-4h0m-5 12h0m-26 1h0m-3-11h0m-11 24h0m11-11h0m10 11h0m0-11h0m3 1h0m6 9h0m2-3h0m4 6h0m1-11h0m21-2h0m13 11h0m3-10h0m13 12h0m5-5h0m10-7h0m24 1h0m-14 13h0m-11 1h0m-11 5h0m-3-6h0m-17 11h0m-10-10h0m-5 4h0m-12 2h0m-29 4h0m-5-2h0m-1-5h0m-29 24h0m27-5h0m14 3h0m6 3h0m16-13h0m15 13h0m2-6h0m1-2h0m10 8h0m11-5h0m13 1h0m1 1h0m19 3h0m-8 15h0m-37-10h0m-13 0h0m-2-2h0m-5 10h0m-1 1h0m-21-4h0m-10-2h0m-3-2h0m-6 1h0m-8-2h0m0 1h0m-2 4h0m-8 0h0m-1-3h0m-12 3h0m-17 14h0m39-8h0m32 8h0m2 6h0m13-8h0m18 2h0m43 8h0m-22 4h0m-41 5h0m-8-4h0m-2-4h0m-56 1h0m-19 12h0m13 2h0m113 16h0m-34 9h0m-45-3h0m-40-3h0m-24 20h0m23 2h0m17-3h0m24-7h0m2 0h0m13-2h0m4 4h0m41 3h0m12-5h0m-54 15h0m-33 23h0m41-3h0m-9 18h0m-26-10h0m3 18h0m31-1h0" stroke="#dc4a50" stroke-width="5.4" stroke-linecap="round" fill="none"/><path transform="scale(.1)" d="M1214 10h0m15-3h0m1 10h0m-7 7h0m-6-9h0m-2 2h0m-7 6h0m-8 6h0m-14 15h0m4-12h0m36 12h0m-17 1h0m-4 6h0m-12-5h0m-3 6h0m-6-2h0m-9-3h0m-1 12h0m-9 6h0m7 1h0m2 3h0m-27 20h0m-4-3h0m-13 15h0m3 1h0m6-11h0m4 2h0m19 10h0m4 0h0m-10 5h0m-6 10h0m-18-10h0m-1 7h0m-11 4h0m-2-3h0m-11 16h0m1-5h0m3 1h0m6-6h0m29 6h0m-10 12h0m-5 3h0m-29-8h0m-13 14h0m3 12h0m5-2h0m9-2h0m1-5h0m6 9h0m19-1h0m-41 9h0m-11-1h0m-23 19h0m0 1h0m4-4h0m2-3h0m0 6h0m1-6h0m2 1h0m1 5h0m1-4h0m28-1h0m-34 23h0m-4 1h0m-6-10h0m-10 9h0m-8 14h0m35 10h0m-7 1h0m-23-1h0m-15 15h0m18-1h0m3 10h0m-17 14h0m-9 0h0m-4-6h0m-8-4h0m-1 6h0m-3 17h0m19-3h0m-15 18h0m-19-8h0m-3 10h0m-6 8h0m27 20h0m-5-2h0m-25-8h0m-15 27h0m11-3h0m9-2h0m-7 16h0m-4 4h0m-14-8h0m-3 7h0m-7 15h0m8-6h0m7 3h0m5-1h0m-11 19h0m-11-6h0m-1 7h0m-10 12h0m3-1h0m3-2h0m26 9h0m-19 10h0m-14-5h0m-8 21h0m1-5h0m20 2h0m5 0h0m-12 10h0m-10 1h0m-7 20h0m0-5h0m-4 22h0m-6 12h0m4 1h0m1-1h0m-12 10h0m-4 19h0m0 6h0m1-3h0m1 3h0m1-10h0m17 26h0m-1-7h0m-17 5h0m-13-1h0m-5 9h0m3-4h0m21 8h0m4-1h0m-14 8h0m-4 2h0m-12 0h0m-7 11h0m-7 9h0m2-2h0m11-3h0m17 0h0m-12 16h0m-4 2h0m-15-3h0m-5 2h0m-3 6h0m4 12h0m15 10h0m-6 11h0m-13-14h0m-5 7h0m-11-3h0m-7 18h0m1-7h0m3 8h0m1 0h0m-13 16h0m-1-2h0m-6 3h0m-1 3h0m-3-5h0m-4 17h0m10 1h0m4-10h0m-1 17h0m-4 5h0m-11-4h0m-6-3h0m-7 9h0m-2 2h0m-22 16h0m2 1h0m10-9h0m26 1h0m5 22h0m-18 1h0m-14-2h0m-51 16h0m0 0h0m8-10h0m1 5h0m3 0h0m4-5h0m2 9h0m2-1h0m5 0h0m14 0h0m16-11h0m-31 16h0m-10 10h0m-9-1h0m-2 3h0m-2-3h0m-10 2h0m-11-6h0m-1 3h0m-39 17h0m1-1h0m3 2h0m1-1h0m6-5h0m2 8h0m4-4h0m1 0h0m16-9h0m26 0h0m-28 26h0m-28-5h0m-9 2h0m-2-6h0m-3-1h0m-2 8h0m0 4h0m-46 11h0m13-3h0m9-5h0m1 5h0m12-4h0m5-1h0m10 3h0m33-5h0m-61 18h0m-23-3h0m-7 5h0m-1-3h0m-9 11h0m-1-7h0m-8 4h0m-11-1h0m-1 1h0m-13 0h0m-132 18h0m1-2h0m2 3h0m8-4h0m1 4h0m5-2h0m29-3h0m7 0h0m21 0h0m6-2h0m13-2h0m3 0h0m5 7h0m0-10h0m14 11h0m7-5h0m3-7h0m2 5h0m1 5h0m2-11h0m4 9h0m7-2h0m12-6h0m10 6h0m35-6h0m-69 15h0m-9 9h0m-6-8h0m-19 4h0m-9-4h0m-6 0h0m-2 3h0m-3-2h0m-3 3h0m-8 3h0m-6 1h0m-18-9h0m-8 5h0m-17-4h0m-2 3h0m-1 0h0m-1 1h0m-5-6h0m-11 9h0m-6-7h0m-3 3h0m-3-5h0m-5 3h0m-3-2h0m-7 7h0m-7 2h0m-4-6h0m0-2h0m-6 1h0m-13 5h0m-3-5h0m-4 0h0m-13 9h0m0-3h0m-1 0h0m-2-2h0m-1 6h0m5 8h0m16 0h0m15 1h0m27-6h0m6 10h0m61-3h0m-89 8h0" stroke="#333" stroke-width="4.4" stroke-linecap="round" fill="none"/><path transform="scale(.1)" d="M1150 -76h0m1 0h0m12 11h0m-3 0h0m-2 0h0m-9-1h0m-3-5h0m-4 4h0m-5 6h0m-9 7h0m3 0h0m1-3h0m1 10h0m1-7h0m1 8h0m2-11h0m0 2h0m3 8h0m2 0h0m6-10h0m1 3h0m5-1h0m1 9h0m1-14h0m3 4h0m4-1h0m-14 20h0m-4 6h0m-3-14h0m-2 6h0m0-1h0m-1 9h0m-6-4h0m-3-9h0m-1 7h0m0-4h0m-4 0h0m-1 1h0m0 6h0m-4 1h0m-2 2h0m-4-4h0m-2-3h0m-3 3h0m0 0h0m0 2h0m-1 7h0m1-4h0m2 0h0m2 12h0m1-10h0m2 12h0m1-7h0m2-1h0m5-3h0m4-1h0m10 4h0m-13 15h0m-2 1h0m-10 4h0m-1-3h0m-2-3h0m-1 8h0m-1-4h0m-9 1h0m-3-3h0m0-5h0m-1 4h0m-2 8h0m0-3h0m-1-8h0m0-2h0m-1 5h0m-3-2h0m-2 4h0m-22 20h0m5-1h0m0-4h0m5-5h0m5 10h0m1-7h0m0-2h0m4 3h0m3-2h0m0 0h0m1-2h0m0-2h0m0 11h0m2 1h0m2-11h0m0 8h0m1 0h0m0 0h0m1-8h0m1 5h0m0-2h0m2 0h0m1 3h0m0-3h0m1 7h0m2-2h0m0 3h0m2-5h0m0-6h0m2 0h0m10-2h0m-20 19h0m-2-3h0m-1-1h0m-1 1h0m-2 9h0m0-9h0m-1 8h0m-1 4h0m-4-8h0m-1 5h0m-3 2h0m-3-8h0m-5 3h0m-8-3h0m-1 5h0m-3 3h0m-17 11h0m4 6h0m0-4h0m2-9h0m1 10h0m1 2h0m3 0h0m0-8h0m3 5h0m1 2h0m0-5h0m5 5h0m7-4h0m1 0h0m1-5h0m0-2h0m0 12h0m1-13h0m0 12h0m1 2h0m1-9h0m3-5h0m2 8h0m0-1h0m1 3h0m1-2h0m0-7h0m2 3h0m-12 12h0m-1 2h0m-3 1h0m0 4h0m-8 6h0m0-4h0m-1 2h0m-2 2h0m-4-14h0m-2 10h0m-1 3h0m-1-5h0m-2 0h0m0-6h0m-2 3h0m-3-4h0m-3 10h0m-8-2h0m-1 0h0m-12 17h0m0-1h0m3 3h0m7-8h0m1 1h0m1 0h0m1-6h0m1 14h0m0-3h0m2-7h0m4-1h0m8-2h0m10 0h0m-11 18h0m-3 2h0m-2 0h0m-6 6h0m-4 2h0m-3-5h0m-1-6h0m-1 0h0m-1-3h0m-2 2h0m-7 0h0m-1 12h0m-1-8h0m-1-4h0m0-1h0m-1 1h0m0-2h0m-1 12h0m0-9h0m-3-1h0m-20 24h0m1 2h0m7-10h0m8-3h0m1 14h0m1 0h0m1-10h0m3-2h0m1 9h0m4-2h0m4-2h0m5-3h0m5-1h0m-13 18h0m-6-2h0m-1 0h0m-2 7h0m0-11h0m-3 5h0m0 5h0m-1 2h0m-1-8h0m-6-2h0m-2 0h0m0 4h0m-1-5h0m0 13h0m-1-13h0m0 0h0m-1 5h0m-1 5h0m-2-7h0m0 1h0m-1 1h0m0 5h0m-1-7h0m-2 0h0m-1 0h0m-1 9h0m-1-2h0m0-6h0m-19 22h0m7-3h0m3-6h0m10 4h0m0 5h0m5-11h0m2 7h0m1-7h0m1 3h0m0 5h0m4-4h0m5-3h0m1 3h0m0-2h0m2-3h0m0 4h0m-11 11h0m-3 3h0m-8 1h0m-2 3h0m-4 2h0m-1-3h0m-3-1h0m-7 6h0m-1 2h0m-6-10h0m-7 11h0m-1-4h0m-12 11h0m1 3h0m8-2h0m2 3h0m2 0h0m4-6h0m2-2h0m0 8h0m2 3h0m1-9h0m6 9h0m-9 7h0m0 8h0m-1-13h0m-6 8h0m-2 1h0m-1-3h0m-2-1h0m-9-2h0m-1 6h0m-6-6h0m-1 6h0m0-3h0m-1-2h0m-11 19h0m1 5h0m2-2h0m4 3h0m4-7h0m6 4h0m1-2h0m1-4h0m3 2h0m4 6h0m2-6h0m0 4h0m2-11h0m-5 20h0m-4-1h0m-4 9h0m-1-5h0m-3-1h0m-2 1h0m0-1h0m0 0h0m-3-4h0m-1 7h0m-1-10h0m-3 3h0m-4-1h0m-2 0h0m-1 12h0m-2-1h0m-1-3h0m-1-5h0m-6 7h0m2 10h0m4 3h0m1-9h0m0 4h0m3-5h0m0 10h0m3-2h0m8 6h0m1-4h0m2-3h0m4-5h0m0 2h0m-11 15h0m-8 5h0m-5 0h0m-6-7h0m0 8h0m0 2h0m-3-7h0m-3 2h0m-1 3h0m-4-2h0m-2 0h0m-2 1h0m0 5h0m-16 15h0m6-2h0m2-11h0m2 9h0m4-8h0m1 2h0m2 0h0m1 3h0m0-7h0m1 9h0m7-1h0m0 3h0m2-2h0m1-6h0m2-2h0m0 1h0m2 1h0m4 4h0m1-6h0m3-1h0m-13 21h0m-5-3h0m-1 8h0m-2-11h0m-4 10h0m-1 0h0m-2-7h0m-1-1h0m0 11h0m0-12h0m0 8h0m-13-8h0m-2 4h0m-2 4h0m-2-1h0m-12 16h0m0 1h0m3-3h0m0 4h0m0 2h0m1-1h0m2 2h0m0-13h0m1-1h0m3 2h0m3 12h0m6-11h0m5 6h0m2-3h0m1-2h0m6 7h0m0-4h0m0 2h0m-6 11h0m-1-2h0m-2 1h0m-3 5h0m-2-1h0m-1-4h0m-2-3h0m-2 0h0m-2 9h0m-2 4h0m-2-13h0m-1 5h0m-1 4h0m-3 2h0m-1 1h0m0 1h0m-1-8h0m-1 1h0m-6-4h0m-2 5h0m-9 21h0m1-4h0m1-4h0m1 2h0m2 5h0m3-12h0m1 13h0m4-2h0m2-12h0m0 3h0m1 1h0m1 2h0m7 6h0m2-9h0m4 0h0m-5 13h0m-4-1h0m-3 8h0m-1 4h0m0-12h0m-3 7h0m-1 6h0m-4-13h0m-3 10h0m-3 0h0m-1-8h0m-2 2h0m-1-4h0m-4 14h0m-1-9h0m-5 13h0m2 10h0m2-6h0m3-3h0m5-1h0m2-1h0m0 8h0m3-6h0m5 1h0m2 6h0m3-11h0m-10 18h0m0 0h0m-3-3h0m-2 9h0m-6 5h0m-2-6h0m-3 4h0m0-3h0m-5 4h0m-3-9h0m-16 24h0m7-6h0m8-4h0m2 3h0m3-5h0m1-1h0m3 11h0m6-7h0m-8 13h0m-1 0h0m-2 5h0m-3 4h0m0 3h0m-6-7h0m-2 2h0m-4 3h0m0-12h0m0 6h0m-1 1h0m-1 5h0m-1-4h0m-6 6h0m-11 14h0m5-3h0m2-5h0m4 9h0m1-7h0m0 3h0m1-5h0m3 6h0m2-6h0m1-5h0m9 2h0m4 1h0m-12 19h0m-13-4h0m-6 10h0m-4-3h0m0-9h0m-1 7h0m-4 5h0m-1 9h0m0 3h0m6-9h0m1 3h0m2 8h0m1-4h0m5-5h0m1 8h0m1-8h0m5 3h0m1 5h0m-4 6h0m-1 0h0m0 4h0m-8-6h0m0 5h0m-1 8h0m-5-4h0m-1-9h0m-2 4h0m0 0h0m0 1h0m-4-1h0m-4-1h0m-2-1h0m0 10h0m-1-10h0m0 3h0m0 5h0m-7 11h0m13 2h0m0-4h0m7-3h0m2 10h0m4-3h0m1-2h0m2-2h0m1-4h0m-17 19h0m-1 0h0m-5-4h0m0 3h0m-6 3h0m0 1h0m-4-2h0m-4 8h0m-7-2h0m-1 1h0m-7 16h0m8-4h0m2 0h0m4-5h0m3-4h0m0 3h0m1 2h0m2-5h0m0 4h0m2 2h0m0-6h0m1 10h0m0 4h0m2-3h0m3-4h0m1 5h0m1-8h0m1-2h0m1 3h0m-8 16h0m-1 2h0m-1-1h0m-1-4h0m-1 9h0m-4 0h0m-2-3h0m-1 5h0m0-13h0m-1 10h0m-1 0h0m-7-1h0m-3-6h0m-2 4h0m-3-8h0m0 6h0m-10 4h0m-9 13h0m1 0h0m1 1h0m3-8h0m2 5h0m2-3h0m1 9h0m1 1h0m2-12h0m0 4h0m0 6h0m1-2h0m1-3h0m1-5h0m2 1h0m3 9h0m0-6h0m3-1h0m3 0h0m5-3h0m1 2h0m2 5h0m0-4h0m2-3h0m-10 14h0m-4 6h0m-2 3h0m-2 3h0m-7-4h0m-1-4h0m-2 6h0m-5-8h0m0 0h0m-2 9h0m-1-2h0m-4-5h0m-1 1h0m-7 7h0m-5 12h0m5-6h0m0 3h0m1 3h0m2 3h0m0-7h0m0 5h0m0 2h0m3-1h0m2 3h0m2-12h0m1 3h0m1 6h0m0 3h0m8-7h0m0-3h0m2 4h0m3-2h0m-13 10h0m-1 10h0m-2-7h0m-1-1h0m-1 11h0m-1-9h0m-2 8h0m-3-11h0m-3 2h0m-1-4h0m-1 5h0m-3-1h0m0 0h0m-3 10h0m-10-3h0m-10 15h0m2 1h0m1-2h0m4 1h0m0-1h0m0-7h0m8-2h0m1 4h0m2-3h0m1-1h0m5 13h0m2-4h0m3-2h0m0 5h0m4-10h0m1 4h0m1 2h0m5-8h0m-15 19h0m-8-4h0m0 4h0m-1 9h0m-3-10h0m-1 6h0m-4-10h0m-1 5h0m-5 6h0m-1-8h0m-4-3h0m-7 8h0m-1-4h0m-12 10h0m-16 13h0m6-6h0m7 6h0m2-4h0m0-3h0m3-4h0m6 1h0m3 8h0m1 0h0m0 0h0m3-8h0m1 11h0m0-1h0m3 1h0m2-11h0m1 10h0m0-11h0m1 4h0m1-5h0m8 1h0m2 3h0m-16 12h0m-12 2h0m-1 6h0m-1-5h0m-2 3h0m-4-7h0m-4 14h0m-1-4h0m-1-7h0m-1 7h0m0 1h0m-2 0h0m-1-2h0m0-6h0m-3 7h0m-1-8h0m-2 7h0m-4 2h0m-1 2h0m-2-6h0m-2-1h0m-3 8h0m-1-3h0m-2 0h0m-3 0h0m-10 15h0m4 3h0m1-4h0m5-1h0m5 0h0m1-2h0m1 0h0m5-2h0m2 7h0m1-12h0m2 6h0m5-1h0m0-4h0m2 5h0m0 2h0m0 3h0m6-7h0m2-2h0m-19 18h0m-5 3h0m-6-7h0m-1-1h0m0 6h0m-1-1h0m0 8h0m-2 0h0m-1-8h0m0 0h0m-6 2h0m-1-3h0m-3-4h0m-1 1h0m0 10h0m-2 0h0m-6 2h0m-4-10h0m-2 1h0m-1-1h0m0 6h0m-2 4h0m0-1h0m-3 0h0m-6 1h0m-32 16h0m2-2h0m3 1h0m1 0h0m5 0h0m2-5h0m0 1h0m1 1h0m2 2h0m0 1h0m0-11h0m3 6h0m1-5h0m2 10h0m0-8h0m5 1h0m0-4h0m2 4h0m2-6h0m0 1h0m0 13h0m4-13h0m1 9h0m2 0h0m4 0h0m1-8h0m1 11h0m1 1h0m3-2h0m2-7h0m4 2h0m0 1h0m0 0h0m2 0h0m1-7h0m-15 16h0m-6 0h0m-2 1h0m-4 4h0m0-2h0m-1-2h0m-1 4h0m-3-7h0m-1 0h0m-2 8h0m-2-6h0m0 8h0m-8-9h0m-10 2h0m-6 6h0m-1-3h0m-1 0h0m-2 7h0m-5-8h0m-2 4h0m-5 3h0m-1 0h0m-3 0h0m-29 16h0m3-2h0m2 0h0m6-3h0m2 1h0m0 5h0m7-9h0m0-2h0m1 6h0m0-6h0m6 0h0m6 10h0m2-5h0m1-3h0m3 2h0m1-2h0m2 8h0m1-11h0m1-2h0m8 5h0m1 3h0m1-5h0m2 9h0m0-9h0m4 7h0m0-8h0m10 2h0m3-3h0m-19 14h0m-19 6h0m-3-6h0m-1 6h0m-1-1h0m-4 3h0m0 4h0m-1-8h0m-5 0h0m-7 7h0m-3-10h0m-8 13h0m-1-3h0m-1-5h0m0-3h0m-1 1h0m-1-1h0m-5 9h0m0 0h0m-1-6h0m0 5h0m-8-5h0m0 1h0m-5 7h0m-1-6h0m-2 5h0m-2-3h0m-8 4h0m-17 12h0m2 0h0m5 3h0m6-9h0m13-3h0m2 5h0m1 6h0m2-3h0m1 2h0m4-9h0m2 7h0m1 3h0m0 0h0m2-5h0m1 4h0m2-7h0m4-4h0m1 5h0m0-5h0m0 3h0m2 3h0m5-2h0m1-5h0m5 3h0m5-1h0m0 0h0m-22 13h0m-13 2h0m-1 0h0m-7 0h0m-1 4h0m-5-6h0m-8 3h0m0-2h0m-4 2h0m0 7h0m-19-8h0m-2 4h0m0 2h0m-4 6h0m-6 0h0m-4-5h0m-6 3h0m-4 1h0m-28 14h0m8-1h0m2-1h0m4-7h0m0 3h0m1 2h0m2-5h0m5 8h0m2-6h0m2 1h0m4-6h0m3 2h0m0 1h0m4 8h0m0-5h0m6 8h0m1-10h0m1-3h0m2 0h0m2 1h0m2 6h0m1-1h0m1-7h0m0 4h0m0 0h0m0 8h0m2-11h0m6 3h0m0 3h0m1-4h0m4-1h0m7 0h0m0 3h0m3-2h0m-33 17h0m-3-2h0m-4-1h0m-1 6h0m-5 2h0m-1-1h0m-3-7h0m-3 11h0m0-4h0m-5 3h0m-5-12h0m-2 8h0m-4-5h0m-3 0h0m-2-2h0" stroke="#cc1a22" stroke-width="6.0" stroke-linecap="round" fill="none"/><path transform="scale(.1)" d="M1102 -125h0m-4-5h0m-5 7h0m-2-9h0m-7 3h0m-3 8h0m-11 14h0m2-6h0m6 3h0m16 3h0m8-3h0m20 10h0m-5-3h0m-5 6h0m-32-8h0m-1 7h0m-3-1h0m-21 2h0m-18 20h0m9-9h0m22 1h0m7 2h0m9-6h0m14 11h0m0-4h0m9-2h0m8 3h0m12-1h0m6 6h0m3-12h0m10 8h0m10 8h0m-22 2h0m-15-3h0m-20 11h0m-16-11h0m-3 1h0m-2-2h0m-8 9h0m-1-4h0m-8 5h0m-20-8h0m-6 4h0m-13 7h0m-11 14h0m9-8h0m5 0h0m1-5h0m0 4h0m2 2h0m6-2h0m6 7h0m8-9h0m1 2h0m32-1h0m5 3h0m1-6h0m4 11h0m11-2h0m7-2h0m5 3h0m2-3h0m2 5h0m5 1h0m12-5h0m1-7h0m4 13h0m3-2h0m-7 7h0m-7 6h0m-18 0h0m-8-1h0m-4-2h0m-12 5h0m-15-1h0m-2 2h0m-34 0h0m-7-9h0m-3-2h0m-5 2h0m-20 4h0m-2 3h0m24 5h0m12 10h0m5-4h0m1 5h0m2-4h0m3-4h0m4 2h0m0-2h0m9 6h0m0-8h0m2 6h0m16-4h0m1-4h0m1 6h0m16-4h0m2 9h0m14-3h0m-7 20h0m-7-3h0m-6 2h0m-2 2h0m-4-5h0m-1-9h0m-2 6h0m-3-4h0m-9 9h0m-18-11h0m-10 14h0m0-8h0m-1-5h0m-10 2h0m-10 0h0m-1 6h0m-6 2h0m-10 0h0m-7-1h0m-11-5h0m-11-5h0m-4 13h0m-4-9h0m-2 8h0m-8 9h0m5 0h0m3 8h0m4-1h0m1-5h0m5-1h0m24-2h0m1-2h0m0 4h0m2 5h0m4-1h0m7 2h0m1-7h0m5 2h0m1-4h0m4-3h0m1 3h0m7 1h0m15 6h0m9-9h0m1-1h0m0 8h0m2-6h0m2-1h0m6 11h0m1 0h0m5-8h0m8 7h0m11-2h0m-8 5h0m-6 7h0m-6-4h0m-3 2h0m-3 8h0m-6 1h0m-15-3h0m-6-11h0m-13 6h0m-1 1h0m-6 1h0m-16-2h0m-23 3h0m0-4h0m-9-4h0m-7 5h0m-17 1h0m-19 18h0m2 0h0m19 4h0m6-6h0m17 2h0m7-2h0m25 6h0m4-9h0m4-4h0m2 0h0m16 10h0m15 2h0m0-11h0m3 11h0m1 4h0m-27-2h0m-19 0h0m-3 13h0m-4-2h0m-4-2h0m0 4h0m-2-4h0m-8-6h0m-13-1h0m-4-1h0m-6 10h0m-3 2h0m-6-12h0m-3 12h0m0 0h0m-2-4h0m-19 4h0m-10-2h0m-3 2h0m-15 11h0m7-2h0m20-2h0m6 0h0m12-4h0m8 7h0m7 6h0m1-13h0m5 11h0m7-4h0m8 2h0m6 0h0m25 0h0m17-9h0m5 11h0m1-3h0m1-3h0m1 7h0m-2 3h0m-2 0h0m-43 12h0m-7-8h0m-14 5h0m-8-9h0m-2 9h0m-3-4h0m-17 8h0m-1-12h0m-1 10h0m-3 0h0m0-3h0m-8-6h0m-3 6h0m-5 4h0m0-7h0m-2-3h0m-8-1h0m-4-2h0m-3 8h0m-1 6h0m-1-14h0m-13 2h0m-8 7h0m-1 2h0m-12 18h0m5-2h0m2-11h0m2 8h0m27 4h0m6-4h0m3-6h0m15 0h0m5 0h0m7 7h0m0-9h0m43 1h0m8 6h0m10-5h0m13 3h0m-17 9h0m-4 2h0m-5 12h0m-7-13h0m-5 2h0m-2-3h0m-18 2h0m-9-1h0m-9 2h0m-20 8h0m-20-9h0m-10 8h0m-13-7h0m-12-3h0m-29 28h0m13-6h0m19 6h0m11-6h0m7 6h0m0-9h0m2 0h0m1 5h0m6-2h0m8-2h0m20 2h0m15-7h0m17 11h0m5-3h0m2 5h0m8 1h0m21-4h0m5-6h0m4-4h0m-29 28h0m-2-3h0m-12 2h0m-2 0h0m-11 2h0m-14-9h0m-18 3h0m-7-5h0m-6-2h0m-11 10h0m-5-5h0m-1 3h0m-4-3h0m-11-1h0m-2 8h0m-11-4h0m-6 1h0m-12-3h0m-6-2h0m-3 12h0m21-2h0m6 4h0m4 9h0m24-1h0m5-4h0m23 6h0m2 0h0m41-4h0m-20 15h0m-15 4h0m-21-12h0m-32 0h0m-3-2h0m-2 1h0m-20 4h0m-22 0h0m-4 7h0m-9 12h0m4-7h0m6 8h0m9-3h0m4-3h0m11 0h0m8 6h0m10-8h0m16 1h0m18 1h0m5-4h0m2 5h0m3 5h0m3-6h0m12 4h0m1 0h0m4 2h0m14-6h0m-12 13h0m-1 2h0m0-2h0m-3 8h0m-23 4h0m-1-7h0m-20 6h0m0-4h0m-19 4h0m-8-6h0m-20 6h0m-7-7h0m-33 0h0m-21 19h0m5-8h0m17 2h0m1 9h0m9-10h0m8 9h0m1-7h0m13-3h0m1-1h0m8 11h0m2-7h0m5 2h0m18 0h0m9-2h0m1 0h0m23 6h0m1-7h0m1-1h0m10-2h0m17-1h0m-17 28h0m0-4h0m-6 5h0m-7 0h0m0-7h0m0 2h0m-8-5h0m-40 10h0m-11-6h0m-12-8h0m-1 8h0m-1-1h0m-3 5h0m-13-4h0m-4 3h0m-8-2h0m-7 5h0m0-2h0m-33 14h0m4-3h0m17-1h0m8 7h0m35-4h0m24 4h0m11-8h0m7 8h0m15-3h0m1-11h0m5 9h0m0-7h0m4 5h0m1 4h0m13-2h0m-8 10h0m-5-1h0m-4 7h0m-6-6h0m-12-2h0m-2 6h0m-2 1h0m-43 1h0m-15-3h0m-8-2h0m-9 3h0m0 3h0m-25-9h0m-32 4h0m1 11h0m3 4h0m20 3h0m9-2h0m1 7h0m11-11h0m13 3h0m7-5h0m2 1h0m5 11h0m29-8h0m4 5h0m19 3h0m7-5h0m0-7h0m4 7h0m5-4h0m6 6h0m6-1h0m-3 8h0m-1 0h0m-6 12h0m0-3h0m-20-6h0m-8 8h0m-6-8h0m-5-3h0m-26 12h0m0-9h0m-29 2h0m-27 6h0m-10-5h0m0-3h0m-6 5h0m-21 1h0m4 7h0m0 1h0m3-4h0m9 3h0m8 10h0m0 0h0m3-13h0m13 7h0m14 3h0m2-4h0m3-2h0m17 4h0m10 2h0m16-5h0m5 3h0m15 3h0m22-3h0m-44 19h0m-6 1h0m-5-7h0m-8 2h0m-4-7h0m-4 10h0m-16-8h0m-1 2h0m-13 4h0m-1-3h0m-23-6h0m-16 2h0m-35 1h0m8 20h0m1-4h0m15 6h0m2-5h0m3 6h0m11-10h0m1 2h0m0-2h0m10 9h0m15-3h0m1 3h0m7-5h0m6 8h0m11-11h0m10 12h0m1-3h0m4-5h0m5-3h0m6 2h0m4 8h0m5-11h0m21 11h0m7-13h0m1 8h0m7-3h0m2 7h0m2-8h0m-16 12h0m-1 7h0m-13 3h0m-22-5h0m-4 6h0m-9 0h0m-30-9h0m-11 7h0m-12-1h0m-2-7h0m-4 2h0m-20 10h0m-3-4h0m-4-5h0m0-3h0m-12 1h0m-2 9h0m-1-9h0m-25 10h0m-15 13h0m18 0h0m0 1h0m2 0h0m15-4h0m2 2h0m4 2h0m21-8h0m3 0h0m19 3h0m36-7h0m1 7h0m3-1h0m7-5h0m12 4h0m0-4h0m1 2h0m1 6h0m5-6h0m29 9h0m10-9h0m-6 18h0m-7-3h0m-24-1h0m-26-2h0m-3 10h0m-5 0h0m-5-1h0m-30 4h0m-7-3h0m-13-6h0m-26 1h0m-10 5h0m-36 1h0m-2-2h0m6 18h0m7-4h0m11-5h0m12 8h0m22-3h0m3-5h0m1 6h0m5 5h0m3-5h0m8 3h0m10 1h0m11-4h0m10 3h0m3-11h0m6 7h0m3-6h0m41 10h0m2-5h0m1 5h0m-9 4h0m-2 7h0m-10-3h0m-17 6h0m-10-10h0m-2 9h0m-24-7h0m-20 3h0m-5 3h0m-24 3h0m-3-4h0m-5-4h0m-24 7h0m-6-8h0m-31 2h0m-3 11h0m20 0h0m10 12h0m3-12h0m13 8h0m0-3h0m25 6h0m3-5h0m0-6h0m21 12h0m32-11h0m2 7h0m8-3h0m25 3h0m6 3h0m1-6h0m30 8h0m3-10h0m-24 11h0m-5 6h0m-5 7h0m-29-9h0m-9-1h0m-3 11h0m-9-9h0m-13 3h0m-7 3h0m0 3h0m-52-14h0m-5 5h0m-36 3h0m-2 3h0m-26-4h0m-16 14h0m13 0h0m24-6h0m26 6h0m0-6h0m2 9h0m30-5h0m18-2h0m1 10h0m8-6h0m17 5h0m0-6h0m20 3h0m11 4h0m2-9h0m2 2h0m10 2h0m45-5h0m-7 13h0m-20 13h0m-41-3h0m-5-5h0m-7 5h0m-1 0h0m-9 1h0m-13 0h0m-2-8h0m-2 8h0m-38-2h0m-79 2h0m-4-4h0m-1-4h0m-15 6h0m-2 1h0m-6-3h0m19 13h0m21-1h0m6 9h0m0-2h0m4-1h0m16-5h0m4 8h0m1-12h0m5 2h0m20 0h0m27 11h0m11-7h0m1-6h0m37-1h0m4 13h0m38-11h0m2 6h0m-4 7h0m-28 1h0m-22 8h0m-31-7h0m-2 1h0m-1 7h0m-9-4h0m-1 3h0m-6-5h0m-30-4h0m-12 0h0m-1 2h0m-24 10h0m-10-6h0m-10-3h0m-22 1h0m-22-1h0m-22 24h0m34-10h0m27 6h0m3 0h0m4-7h0m9 3h0m12 1h0m47 3h0m24 1h0m27 5h0m39-8h0m5 22h0m-5-9h0m-5-3h0m0 4h0m-6 8h0m-8-3h0m-22-7h0m-10 1h0m-4-2h0m-34 7h0m-2-2h0m-12 3h0m-24-4h0m-8 7h0m0-8h0m-1 2h0m-8-5h0m-45 8h0m-16-10h0m-19 10h0m-2 0h0m7 9h0m3-2h0m22 10h0m27-11h0m3 8h0m5-6h0m6 5h0m5 1h0m1-5h0m5 7h0m43-7h0m16 4h0m5-7h0m18 7h0m4 2h0m32-5h0m29 1h0m-17 16h0m-15 3h0m-10 4h0m-16-1h0m-44-5h0m-4-2h0m0-1h0m-14 2h0m-2 2h0m-1-9h0m-10 3h0m-30 8h0m-20-8h0m-3 11h0m-13-14h0m-5 11h0m-8-8h0m-6 7h0m-8-3h0m-5-5h0m-1 0h0m-19 2h0m-12 20h0m2-5h0m16 3h0m17-7h0m8 2h0m19 2h0m4 10h0m2-13h0m17 1h0m4 2h0m2 8h0m8-3h0m8-3h0m8-6h0m19 11h0m2-10h0m10 3h0m13 7h0m10-9h0m16-1h0m15 12h0m7 1h0m21-8h0m-9 23h0m-1-6h0m-12-5h0m-2 10h0m-11-3h0m-21-5h0m-21 0h0m-16 3h0m-3 5h0m-12-6h0m-12 0h0m-6 6h0m-3-1h0m-10 1h0m-20-12h0m-16 0h0m-45-1h0m0 10h0m-12 2h0m-13 2h0m19 14h0m17-3h0m1-1h0m0-8h0m15-1h0m28 13h0m12-3h0m8-8h0m1 4h0m35 5h0m14-1h0m25-1h0m-2 14h0m-6 5h0m-2-2h0m-20-7h0m-15 8h0m-17 0h0m-8-9h0m-1-2h0m-11 6h0m-20-7h0m-12 1h0m-4 0h0m-4 10h0m-17-2h0m-9 3h0m-19-7h0m-1-5h0m-3 1h0m-8 4h0m4 20h0m13-5h0m5 6h0m22-10h0m17 7h0m11 5h0m6-12h0m18 3h0m14-4h0m7 0h0m18 7h0m44-1h0m12 3h0m-37 20h0m-33-12h0m-6 12h0m-13-5h0m-33-4h0m-4 2h0m-24 7h0m-15-14h0m-6 14h0m-2-2h0m-12-9h0m-25-2h0m-7 9h0m-2 4h0m-4-12h0m-13 26h0m12-11h0m1 9h0m12-5h0m5 3h0m6 2h0m13 3h0m16-9h0m14 9h0m5-14h0m9 10h0m4-2h0m0 2h0m2 4h0m18-8h0m1-6h0m3 2h0m3-1h0m13 10h0m5-9h0m2 0h0m7 2h0m9 5h0m25-3h0m1 0h0m12-1h0m-36 20h0m-1-3h0m-7 5h0m-3-1h0m-10-1h0m-3-5h0m0 5h0m-21 3h0m-8-13h0m-13 7h0m-13 6h0m-5-2h0m-12-11h0m-2 0h0m-3 3h0m-7-1h0m-7 4h0m-22 8h0m-1-5h0m-6-4h0m-4-5h0m-11 9h0m-2 16h0m1 2h0m1-9h0m1 9h0m6-1h0m0-4h0m0 2h0m13-6h0m1 9h0m9-9h0m1 5h0m13 6h0m7-4h0m4-3h0m0-4h0m3 1h0m5-3h0m10-1h0m0 9h0m4-4h0m3 5h0m5-6h0m1-3h0m15-1h0m1 14h0m5-1h0m5-3h0m15-1h0m4-8h0m3 3h0m-13 17h0m-14 6h0m-16 2h0m-2-1h0m0-12h0m-1 13h0m-4-2h0m-1-2h0m-3-7h0m-2 2h0m-3-1h0m-2-1h0m-12 3h0m-4 2h0m-3 4h0m-13-11h0m-7 13h0m-9-1h0m-2-12h0m-1 1h0m-3 1h0m-5 8h0m0-10h0m-7 6h0m-5 1h0m-2-8h0m37 19h0m17 9h0m22-12h0m3 1h0m5 7h0m4-6h0m5 2h0m-42 18h0m-7 1h0m-12-9h0m-7 0h0" stroke="#300" stroke-width="4.8" stroke-linecap="round" fill="none"/><path transform="scale(.1)" d="M1092 -132h0m-4 6h0m0 3h0m23 10h0m10 10h0m-1 2h0m-12-2h0m-42 3h0m4 15h0m2 0h0m3 1h0m56 7h0m16-3h0m12 13h0m-32-3h0m-24-4h0m-27 2h0m-28-1h0m-16 10h0m-5 2h0m-4-5h0m-14 16h0m6-8h0m37 2h0m11-4h0m22 11h0m7 0h0m16-7h0m16-1h0m25-2h0m-36 14h0m0 10h0m-3 2h0m-3-2h0m-13-10h0m-2 10h0m-20 2h0m-5-10h0m-7 2h0m-1-1h0m-4 2h0m-2 8h0m-13-2h0m-39-4h0m-5 14h0m24-5h0m10-1h0m16 9h0m24 3h0m14 1h0m16-9h0m14 3h0m10-2h0m-41 14h0m-25-4h0m-6 3h0m-33 6h0m-7-8h0m-1 7h0m-59 12h0m15 4h0m15 1h0m14-9h0m23 10h0m11 0h0m19-6h0m10 7h0m1-3h0m36-5h0m-21 15h0m-34 2h0m-18 7h0m-25 0h0m-8-9h0m-3 4h0m-2 0h0m-2-4h0m-24-3h0m-4 6h0m-17 1h0m-17 20h0m18-10h0m2 0h0m20 3h0m23 3h0m9-1h0m31-4h0m32-1h0m1 0h0m14-2h0m-32 24h0m-2 1h0m-9-3h0m-12-5h0m-4 5h0m0-2h0m-8 0h0m-16 1h0m-1-5h0m-16 11h0m-5-11h0m-48-2h0m-22 25h0m0-6h0m14 5h0m2 1h0m14 4h0m28-9h0m10-2h0m15 9h0m8-6h0m7-3h0m4-1h0m17 2h0m13 13h0m-24 8h0m-10 0h0m-45 4h0m-9-4h0m-31-8h0m-16-2h0m-33 28h0m21-7h0m14 3h0m24-2h0m23 7h0m14-12h0m0-1h0m4 13h0m8-1h0m16-13h0m5 2h0m14 4h0m6 5h0m-12 13h0m-35 1h0m-6-5h0m-13 7h0m-6-12h0m-33 4h0m0 8h0m-2 2h0m-37-7h0m-7 13h0m66 9h0m27-10h0m6-3h0m-1 18h0m-2 7h0m-6-8h0m-26 4h0m0-5h0m-5 9h0m-23-9h0m-13 4h0m-12 5h0m-7-4h0m-11-3h0m-37 5h0m7 19h0m4-4h0m24-6h0m28 6h0m5-4h0m31 6h0m28-7h0m-13 20h0m-20 0h0m-6-7h0m-9 0h0m-5 4h0m-6 2h0m-1 3h0m-38-5h0m-36 2h0m-2-8h0m-2 3h0m-3 11h0m-21 5h0m3 5h0m13-5h0m9 5h0m93-6h0m7 3h0m14-2h0m1 14h0m-3-2h0m-26-1h0m-12 1h0m0-1h0m-39 2h0m-34 8h0m-25 2h0m-13-5h0m0-7h0m-16 29h0m2-1h0m0-5h0m16 4h0m17-5h0m11-2h0m13-4h0m38 1h0m1 10h0m25-7h0m14-2h0m-4 20h0m-40-3h0m-13 3h0m-28-4h0m-10-1h0m-15 9h0m-37-3h0m27 9h0m23-1h0m2 2h0m32 7h0m16-7h0m7 4h0m6-8h0m6 10h0m16 13h0m-23 2h0m-28-6h0m-4 0h0m-11-4h0m-7 9h0m-16 2h0m-16 2h0m-7-13h0m-14 7h0m-17-4h0m-4 7h0m-1-7h0m-17 7h0m-14 17h0m22-9h0m46 2h0m5 3h0m10-8h0m12 13h0m24-1h0m24-6h0m4 2h0m12-2h0m2-3h0m-8 12h0m-6 3h0m-13 10h0m-16-10h0m-17 1h0m-4 1h0m-41-1h0m-23 1h0m-22 5h0m-2 18h0m7-5h0m10-1h0m41-3h0m14-3h0m57 12h0m-15 7h0m-11 4h0m-77 2h0m-77 12h0m15-1h0m29 3h0m4 1h0m4-3h0m74-4h0m33 8h0m-23 16h0m-11-5h0m-25-8h0m-1 9h0m-47 0h0m-45 3h0m-18 17h0m6-8h0m33-4h0m14 4h0m17 2h0m37 0h0m2-4h0m25 6h0m14-5h0m-12 10h0m-1 2h0m-41 9h0m-8-1h0m-11-10h0m-2 10h0m-20 1h0m-95 9h0m30 6h0m18-9h0m3 6h0m36 2h0m75-5h0m3 7h0m12-12h0m18 14h0m-16 2h0m-4 4h0m-11 5h0m-47-2h0m-16-3h0m-7-1h0m-18 1h0m-2 5h0m-23 1h0m-79 2h0m-7 11h0m29 4h0m11-8h0m28-4h0m36 3h0m38 10h0m17-7h0m9 1h0m17-1h0m2 4h0m27-7h0m-3 11h0m-62 9h0m-17 1h0m-1-8h0m-35 10h0m-6-12h0m-47 3h0m-45 24h0m0-12h0m14 6h0m15 1h0m12 6h0m31-4h0m50-9h0m33 4h0m30 8h0m19-4h0m-23 17h0m-78-6h0m-10 9h0m0-1h0m-9-8h0m-10 7h0m-51 3h0m-24 0h0m-38 4h0m22 1h0m52 3h0m11 0h0m23-1h0m54 0h0m5 5h0m11-10h0m32 2h0m13 7h0m-16 12h0m-11-5h0m-11 4h0m-52 6h0m-9-11h0m-9 5h0m-64-6h0m-15 9h0m-19 3h0m-6-9h0m-46 20h0m61-1h0m16 7h0m60-9h0m1 2h0m13-4h0m45 0h0m24 7h0m14 3h0m3-6h0m-33 14h0m-9 1h0m-20 3h0m-60-5h0m-46-1h0m-23 10h0m-12-12h0m-2 5h0m0-7h0m-8 7h0m-19 20h0m14 1h0m4-9h0m87-3h0m35 6h0m9-2h0m35-4h0m10 20h0m-20 4h0m0-1h0m-44-9h0m-14 6h0m-43-2h0m-17-4h0m-17 12h0m-18-7h0m-16-2h0m-11 8h0m-8-1h0m-13-4h0m-7-3h0m-3 26h0m38-7h0m125 6h0m45 12h0m-28 2h0m-135-7h0m0-5h0m-21 2h0m-1-1h0m-10 0h0m-18 9h0m-37 16h0m10-7h0m106 2h0m12 7h0m8-11h0m13 11h0m2-2h0m2-4h0m7 5h0m3-2h0m1 3h0m16-11h0m21 3h0m15-2h0m20 7h0m5-9h0m-23 19h0m-66 7h0m-18-5h0m-51-5h0m-9 12h0m-12-9h0m-12 6h0m-4-3h0m-15 5h0m-4-11h0m-17-1h0m-2 3h0m-11 7h0m-3 1h0m-1 0h0m76 14h0m47-3h0m32 5h0m11 1h0m7-2h0m15 10h0m-39-1h0m-42-6h0m-3 11h0m-61-9h0m-4 8h0m-41-7h0m-5 11h0m5 13h0m9-7h0m38 4h0m42 1h0m30 3h0m38-8h0m-20 12h0m-17 2h0m-32 0h0m-1-2h0m-3 4h0m-6-3h0m-6 3h0m-20 6h0m-47-3h0m-1-5h0m-22 10h0m-1-2h0m-6 16h0m38-10h0m16 1h0m23 6h0m2 1h0m9 1h0m22-6h0m28-4h0m-31 24h0m-14-3h0m-37 4h0m-27 1h0m-14-5h0m13 17h0m5 0h0m20 8h0m-8 4h0m-2 5h0" stroke="#e83232" stroke-width="4.4" stroke-linecap="round" fill="none"/><path transform="scale(.1)" d="M1097 -130h0m-1 5h0m-4-1h0m-1 0h0m-1 0h0m-1-7h0m-1 10h0m-10 9h0m8-6h0m2 0h0m0 3h0m20 3h0m7 4h0m10 16h0m-2-7h0m-4 8h0m-7-4h0m0-7h0m-2 12h0m-3 1h0m-6-8h0m-1 5h0m-1-3h0m-4-4h0m-5 7h0m-7-3h0m-8 3h0m-8-3h0m-3 0h0m-5-6h0m-4 9h0m-2 0h0m-9 11h0m5-3h0m1-1h0m5 9h0m3 1h0m2-3h0m1 3h0m5-3h0m0-3h0m4-5h0m15 8h0m9-3h0m0 7h0m5-4h0m4-4h0m13 7h0m1-5h0m5-2h0m6 4h0m0-8h0m6 9h0m4-3h0m10 6h0m11 7h0m-8 5h0m-3-2h0m-10 4h0m-1-10h0m-4 7h0m0-5h0m-10 7h0m-4-6h0m-1-6h0m-3 13h0m-4 0h0m-1-3h0m0-6h0m-5 4h0m-7 3h0m-4-11h0m-2 4h0m-2 6h0m-1 0h0m-4-6h0m-2 1h0m-4-5h0m-2 7h0m-2 2h0m-3-4h0m-3 8h0m-5-12h0m-9 7h0m-3 3h0m-7-9h0m-5 4h0m-3 6h0m-27 15h0m3-1h0m5-2h0m4-1h0m2-6h0m7 1h0m2-1h0m9 7h0m10-5h0m1 5h0m1-7h0m0 10h0m4 2h0m3-11h0m3 1h0m3-4h0m1 7h0m2 7h0m2 0h0m1-2h0m13-2h0m2-9h0m2 10h0m9-1h0m3-6h0m1 10h0m1-7h0m3 5h0m8-10h0m7 12h0m1-4h0m11 3h0m1-8h0m4-2h0m2 8h0m9-4h0m1-1h0m-10 11h0m-6 4h0m-4-4h0m0 0h0m-6 2h0m-6 4h0m-6 6h0m-6-11h0m-6 8h0m-2 3h0m-8-14h0m-1 13h0m-7-12h0m-1 6h0m-6-5h0m-1 11h0m0-9h0m-3-4h0m-1 7h0m-6-3h0m-8 3h0m-2-6h0m-15 0h0m-1 11h0m-3-3h0m-4 1h0m-1 2h0m-10-7h0m-2-4h0m-14 10h0m-1 3h0m-6-10h0m-16 16h0m4 5h0m5-6h0m11 6h0m5 1h0m5 3h0m3-9h0m2 8h0m2-1h0m3-11h0m4 10h0m1 3h0m7-3h0m11 0h0m1-9h0m1 4h0m2 3h0m1-1h0m7-8h0m1 7h0m4-6h0m0 11h0m6-9h0m3 9h0m3-8h0m18-1h0m4-3h0m6 0h0m8 7h0m5 6h0m3-1h0m4-6h0m-20 10h0m-2 3h0m-9 7h0m-3-2h0m-3 2h0m-6-10h0m-18 8h0m-2-3h0m-4 5h0m0 2h0m-6-6h0m-3 5h0m-8 1h0m-1-13h0m-11 4h0m-6 2h0m-4-2h0m-2 7h0m-3-4h0m-3 5h0m-3-3h0m-3-9h0m-10 12h0m-16-1h0m-1-5h0m-3 6h0m-7-1h0m-4 3h0m-15 12h0m5 0h0m1-7h0m6 0h0m1 3h0m6-6h0m3 6h0m0 2h0m12-8h0m1 13h0m3-14h0m9 14h0m2-13h0m10 2h0m1 2h0m5 1h0m0 2h0m3-4h0m2 2h0m1 8h0m3-3h0m6-7h0m10 7h0m3-2h0m5 3h0m3 1h0m3-12h0m4 8h0m1-4h0m0 4h0m11 5h0m3-12h0m22 6h0m-13 17h0m-4-2h0m-6-1h0m-2 6h0m-2-13h0m-1 14h0m-1-11h0m-11-3h0m-1 7h0m-3 6h0m-4-11h0m0 2h0m-3-3h0m-1 9h0m-2-4h0m-5-6h0m-1 1h0m-3 4h0m-5 3h0m-2-7h0m0 4h0m0 3h0m-2 3h0m-3-2h0m-1 4h0m-7-8h0m0 7h0m0-8h0m-3-2h0m-5 6h0m-4-8h0m-1 11h0m-22 0h0m-6-2h0m-11-5h0m-2 9h0m-36 16h0m1-3h0m4-1h0m2-3h0m3 0h0m3 4h0m7-7h0m4 8h0m6-6h0m8 5h0m14 2h0m4-12h0m1 13h0m4-9h0m1 8h0m4-11h0m1 1h0m2-1h0m4 12h0m16-2h0m10-8h0m1-2h0m18 3h0m5 6h0m1-6h0m9 2h0m0 4h0m2 2h0m4-12h0m2 7h0m0-2h0m2 3h0m3-4h0m1 4h0m-15 12h0m-1-1h0m-11 6h0m0-8h0m-1 11h0m-4-12h0m-1 6h0m-9-5h0m-2-2h0m-4 0h0m-20 1h0m-15 0h0m0 1h0m-12 3h0m-5 5h0m-2 1h0m-8 0h0m-1-12h0m-6 14h0m-12-12h0m0-2h0m-8 9h0m-5 3h0m-1-5h0m-7-1h0m-14 6h0m-14 15h0m19-6h0m11 3h0m1-2h0m7-2h0m2-2h0m1 9h0m4-6h0m3 2h0m0 0h0m13-2h0m1 7h0m4-11h0m10 6h0m7-4h0m3-2h0m4 1h0m8 2h0m5 7h0m3-11h0m21 7h0m1 6h0m7-6h0m10-3h0m4 3h0m11-8h0m-17 17h0m-6 1h0m-1-3h0m0 1h0m-1 6h0m-3 0h0m-2-6h0m-2 10h0m-1 3h0m0-14h0m-4 9h0m-1-7h0m-4 11h0m-1-12h0m-4 7h0m-1-5h0m-3 5h0m-4 1h0m-7-4h0m-3 7h0m-5-12h0m0 10h0m-5-7h0m-4 4h0m-2 6h0m-6-8h0m-7-4h0m-5 0h0m0 10h0m-2-5h0m-10 0h0m-2 5h0m-6 1h0m-13-4h0m-1 0h0m-3-3h0m-1 5h0m-14-3h0m-8 5h0m-15-5h0m0 11h0m3-2h0m0 6h0m0 0h0m0 0h0m11-7h0m5 3h0m6 8h0m9-5h0m16 0h0m0-2h0m6-3h0m1 13h0m14-4h0m13-4h0m5-3h0m17 3h0m3-5h0m7 12h0m5-13h0m6 8h0m8 1h0m4-4h0m1 2h0m-12 9h0m-9 1h0m-4 7h0m0-1h0m-1 1h0m-1 2h0m-8-2h0m-15-5h0m-9 0h0m-2 3h0m-2-1h0m-2 6h0m-1-1h0m-2-5h0m-14-3h0m-11 8h0m-1 2h0m-11-6h0m-1 4h0m0 1h0m-1-9h0m-9 10h0m-9-1h0m-3-3h0m-9-7h0m-7 5h0m-7 1h0m-9-2h0m-2 6h0m-7 2h0m-1 9h0m6 6h0m7-12h0m1 8h0m1-1h0m8-2h0m2-5h0m14 1h0m6 1h0m1 8h0m1 0h0m7-11h0m2 10h0m12-4h0m2-5h0m15 5h0m6-3h0m5-4h0m1 8h0m1-5h0m15 3h0m4-2h0m2 1h0m5 5h0m3-10h0m2 2h0m4-1h0m0 10h0m3 1h0m2-9h0m4-2h0m-27 28h0m-4-11h0m-4 0h0m-8 1h0m-3-4h0m-8 6h0m-1 6h0m-2-9h0m-2 5h0m-1-3h0m-2 2h0m-4 1h0m-1-6h0m-2 4h0m-4-2h0m-2-2h0m0 9h0m-8-3h0m-13-7h0m-17 2h0m-17-3h0m-1 2h0m-10-1h0m-1 5h0m-2 7h0m-4-3h0m-10-8h0m-4 7h0m-7 1h0m-4 19h0m3-12h0m6-2h0m2 8h0m3-4h0m4 8h0m0 1h0m1-6h0m14 4h0m11-10h0m7 10h0m1-4h0m12 3h0m2-4h0m17-5h0m0 7h0m1 0h0m5 4h0m4-5h0m2-5h0m2 8h0m4-5h0m2 2h0m7-4h0m2-2h0m1 11h0m19-5h0m1 1h0m6-7h0m0 12h0m1-13h0m3 7h0m4 1h0m-18 10h0m-5-2h0m-1 10h0m-4 1h0m-1-9h0m-3 11h0m-7-12h0m-8 3h0m-6-1h0m-6 8h0m-4-3h0m0 0h0m-2-6h0m-8 7h0m-4-1h0m-3 3h0m-6-4h0m-10 4h0m-1-7h0m-2 2h0m-5 0h0m-2-5h0m-1 2h0m-3 4h0m-6-8h0m-11 10h0m-14 2h0m-3-12h0m-9 0h0m-2 10h0m-7-8h0m-26 24h0m6-1h0m9 4h0m7-14h0m1 6h0m1-3h0m2-3h0m7 1h0m3 0h0m1 6h0m3 1h0m7 6h0m3-2h0m10-1h0m1 3h0m1-12h0m4 8h0m6-10h0m2 2h0m2 5h0m0 7h0m8-7h0m7 3h0m6 0h0m4 4h0m3-2h0m0-5h0m6 2h0m5-3h0m1 7h0m1-11h0m3 9h0m1-11h0m5 14h0m3-12h0m10 0h0m0 2h0m1-4h0m2 13h0m6-3h0m2-2h0m4 0h0m2-7h0m7 4h0m-7 10h0m-8 14h0m-7 0h0m0-10h0m-8 4h0m-5 2h0m-14-6h0m-2-1h0m-1 3h0m-1-2h0m-39-1h0m-6 9h0m-2-5h0m-7 4h0m-2-1h0m-9-8h0m-3 12h0m-3-1h0m-3-7h0m-8 3h0m-1-5h0m-5-2h0m-9 5h0m-4-2h0m-5 7h0m-2-12h0m-5 12h0m-3 1h0m-2-8h0m-2 8h0m-17 13h0m4-2h0m11-1h0m7 1h0m3 2h0m16-3h0m8-8h0m2 14h0m10-8h0m10 8h0m0 0h0m3-8h0m6 3h0m6 3h0m10-5h0m0 6h0m8-2h0m0-2h0m6 3h0m4-7h0m1 8h0m0-9h0m2-2h0m2-1h0m5 5h0m13-3h0m7 3h0m5-2h0m1-4h0m11 9h0m6-9h0m-11 18h0m-3 5h0m-1 2h0m-1-3h0m-5-1h0m-3-2h0m0 9h0m-2-6h0m-5 2h0m-19-1h0m-6-8h0m-5 1h0m0 7h0m-15-4h0m-6-4h0m-8 14h0m-1-1h0m-5-12h0m-3 2h0m-5 8h0m-7-6h0m-4 2h0m-1-5h0m-9 0h0m-2 3h0m-2 3h0m-2 6h0m0-5h0m-2-6h0m-9 9h0m-10-3h0m-2-3h0m-14-3h0m-11 13h0m1 7h0m3 0h0m6-1h0m1-6h0m3 9h0m20-4h0m10 3h0m1 3h0m2-3h0m0-6h0m1 5h0m4 3h0m2 3h0m8-9h0m4 9h0m4-10h0m10-3h0m4 0h0m11 13h0m7-6h0m11-5h0m11 10h0m1-3h0m4 3h0m4-6h0m5-4h0m2 11h0m5-13h0m0 10h0m4 2h0m1-13h0m1 3h0m10-1h0m-9 14h0m-12 3h0m-2 6h0m-3-2h0m-2-5h0m-8 2h0m-15-2h0m-5 1h0m-4 4h0m-8-7h0m-11-1h0m-2 10h0m0-1h0m-18-7h0m-24 2h0m0 5h0m-4 3h0m-2 2h0m-8-9h0m-7-1h0m-6-1h0m-3 2h0m0 2h0m-5 1h0m0 6h0m-3-12h0m-3-2h0m-6 12h0m-7-8h0m-6 13h0m1-2h0m8 12h0m4-12h0m12 4h0m16-2h0m1 11h0m1-12h0m3 11h0m3-8h0m2-2h0m13-1h0m4 4h0m1 2h0m0 1h0m5-8h0m5 8h0m15-4h0m15 8h0m6-1h0m8 1h0m0-9h0m8-2h0m21 10h0m6-3h0m-8 12h0m-3-4h0m-7 11h0m-4 1h0m-13-7h0m-2-1h0m-2-4h0m-4 10h0m-7 1h0m-13-11h0m-2 12h0m-4-8h0m-6-3h0m-5 8h0m-4-3h0m-13 4h0m-1-7h0m-3-3h0m-6 5h0m-2 1h0m-1-2h0m-7 0h0m-7 4h0m-1 0h0m-14-7h0m0 1h0m17 14h0m2 7h0m5 5h0m7 0h0m22-3h0m11-1h0m8-4h0m3 8h0m6-14h0m7 4h0m2 4h0m25-5h0m-11 25h0m-5-9h0m0 9h0m-1 0h0m-19-11h0m-5 3h0m-2 5h0m-1-7h0m0 0h0m-14 6h0m-5-6h0m-2-3h0m-1 9h0m-6 8h0m7 7h0m8 4h0m0-2h0m0-10h0m4 4h0m0 5h0m1 0h0m6 0h0m7-3h0m2-2h0m3-1h0m0-4h0m1 0h0m2 4h0m12 14h0m-2 8h0m-1-8h0m-1 11h0m-6-1h0m0-6h0m-1 2h0m-3-9h0m0 3h0m-5 4h0m-1-2h0m-5 0h0m-9 3h0m0-6h0m-6-1h0m29 15h0m0 13h0m1-6h0" stroke="#200" stroke-width="6.0" stroke-linecap="round" fill="none"/><path transform="scale(.1)" d="M501 597h0m-8 16h0m24 12h0m-12-9h0m-4 13h0m-4-14h0m-7 10h0m-2 3h0m-5-1h0m-56-11h0m-6 27h0m1 0h0m0-6h0m11-2h0m7-3h0m4 10h0m3-5h0m1 7h0m1-8h0m1-3h0m1 8h0m1 0h0m3-10h0m1 10h0m6-4h0m1-3h0m3 9h0m3-2h0m1-10h0m2 11h0m0 2h0m1-12h0m0 0h0m1 12h0m2-1h0m0-8h0m8 6h0m0-2h0m0 2h0m1-6h0m2 1h0m2 6h0m4-10h0m2 12h0m5-7h0m1-1h0m4 0h0m9-4h0m23 13h0m-29 14h0m-6-4h0m-2-5h0m-3 5h0m-6 2h0m-2 1h0m-1-4h0m-2-1h0m-1 0h0m-3-1h0m-1-2h0m-3-4h0m-1 7h0m-1 3h0m-1-7h0m0-2h0m0 5h0m-1 4h0m-1-10h0m0 8h0m-1 2h0m-2-6h0m0 5h0m-1-4h0m0 2h0m-1-3h0m-1 6h0m-2 2h0m0-3h0m-1-10h0m0 12h0m-1-6h0m-1 8h0m-1-1h0m0-9h0m-1-3h0m0 1h0m-3 9h0m-1 2h0m-1-8h0m0 2h0m-3 2h0m-1 3h0m-2-3h0m-2 5h0m0 0h0m-1-3h0m0 3h0m0-8h0m-2 7h0m-1-8h0m-1 7h0m0-11h0m-1-1h0m-1 2h0m0-2h0m-2 11h0m-3-2h0m-1-8h0m-2 1h0m-2-1h0m-1 12h0m-2-9h0m-2 0h0m0-4h0m-1 9h0m-1 2h0m0-3h0m-1-1h0m0 2h0m-5 5h0m0-9h0m-2-5h0m0 6h0m0 1h0m-3-6h0m-6 11h0m-14-1h0m-5 8h0m5 0h0m3 8h0m3-7h0m0-1h0m0 5h0m3 4h0m1 0h0m2-5h0m0-2h0m0 6h0m3-1h0m1 1h0m1 0h0m0 1h0m1-4h0m0-9h0m0 2h0m3 2h0m0-3h0m0 3h0m1-2h0m0 10h0m1 0h0m1 1h0m0-7h0m1 8h0m1-3h0m0-6h0m0 9h0m3-5h0m0-3h0m1-1h0m1-3h0m1 7h0m1 1h0m1 2h0m0 0h0m1-1h0m0-6h0m1 1h0m1 7h0m0-7h0m3 3h0m0 5h0m2-12h0m1 9h0m1 0h0m2-10h0m0 12h0m1-8h0m1 9h0m2-10h0m0 2h0m1 1h0m0-3h0m1-4h0m1 14h0m1-2h0m0-8h0m1 3h0m0 3h0m0-2h0m0 5h0m1-9h0m1-1h0m2 4h0m3-6h0m2-1h0m0 4h0m1 3h0m0-4h0m1 9h0m1-2h0m0-5h0m0 9h0m0-12h0m1 11h0m1-4h0m0-1h0m0 6h0m1-2h0m0-9h0m1 10h0m1-5h0m1-6h0m0 3h0m0-3h0m0 3h0m1-2h0m5 1h0m1 4h0m3-2h0m3-3h0m1 2h0m1 0h0m1-5h0m1 9h0m25 0h0m-10 18h0m-4-6h0m-9 0h0m-5 1h0m-5 4h0m-5-3h0m-1-3h0m0 5h0m0-6h0m-2-2h0m-2 4h0m0-5h0m-1 4h0m-1 3h0m-1-8h0m0 13h0m-3-7h0m-1-6h0m0 2h0m0 7h0m0 4h0m-3-5h0m-2 5h0m-1-12h0m0 4h0m-1 1h0m-2-3h0m0-2h0m0 5h0m-1 2h0m-1 5h0m0-9h0m0 0h0m-2-1h0m-2 10h0m-1-12h0m-1 3h0m0 1h0m0 3h0m-2 5h0m0-9h0m-1 6h0m-1-2h0m0 2h0m-1-7h0m-2 3h0m-1-6h0m0 4h0m-1 1h0m0 3h0m-1-1h0m0 5h0m0-9h0m-1 2h0m0 0h0m-2 6h0m-1 0h0m0-5h0m-1-2h0m-2 1h0m-2-1h0m-2-3h0m0 7h0m0-6h0m-1 10h0m0-4h0m-2 5h0m0-5h0m0 3h0m-1-2h0m0-1h0m0 3h0m-1-9h0m0 0h0m-8 12h0m-3 0h0m-1 0h0m-2-10h0m-3 8h0m-2-8h0m-1 1h0m-1 1h0m-1 1h0m0 5h0m0-10h0m-3 12h0m-6-9h0m0 3h0m-3 1h0m-5 3h0m-3-3h0m-4 2h0m-3-6h0m-2 2h0m-18 7h0m7 7h0m6 5h0m28-1h0m4 4h0m1-10h0m3 2h0m4-2h0m3 0h0m0 9h0m3-8h0m2-3h0m0 12h0m6-13h0m0 9h0m1-4h0m2-2h0m0 2h0m1 0h0m0-2h0m2 8h0m1 2h0m0-11h0m0-1h0m0 1h0m2 4h0m0 2h0m1-7h0m2 2h0m2 0h0m11-2h0m1 12h0m1-6h0m0 5h0m0-2h0m2-2h0m0-5h0m3 0h0m1-4h0m5 7h0m5 5h0m2-10h0m0 1h0m1-2h0m1 1h0m5 6h0m4-3h0m0 7h0m4 1h0m-44 6h0m-2-1h0m-2 0h0m-1 6h0m-5-8h0m-1-1h0m0 3h0m-1 1h0m-10 1h0m-7 4h0m-2-6h0m-2 9h0m0-7h0m-1-1h0m-2 1h0m-1-3h0m-2 12h0m-1-12h0m-6 9h0m-1-1h0m-1 4h0m-2-13h0m0 11h0m-2-2h0m-33 3h0m27 7h0m3-3h0m8-2h0m10 1h0m21 21h0m-31-2h0" stroke="#d81e24" stroke-width="8.0" stroke-linecap="round" fill="none"/><path transform="scale(.1)" d="M435 668h0m1 16h0m-20 3h0m-30-9h0m-4 10h0m-3-4h0m-4 0h0m-13 4h0m-26-5h0m-8 0h0m-29 14h0m32-5h0m7 5h0m1 4h0m5 1h0m4-3h0m2-3h0m4-1h0m2 1h0m3-4h0m5 12h0m3-2h0m2 0h0m1-9h0m5 6h0m2 1h0m1 4h0m3-2h0m3 2h0m0-13h0m1 3h0m3 1h0m6-5h0m5 13h0m6-9h0m2 6h0m0 3h0m12 0h0m22-11h0m3 10h0m-5 5h0m-4 6h0m-3 2h0m-2-3h0m-5-2h0m0-5h0m-12 5h0m-2 4h0m-5-1h0m-3 4h0m-9-4h0m-1 2h0m-7-7h0m-1 6h0m-1-5h0m0 9h0m-1-1h0m-2-11h0m-3 6h0m0 5h0m0 0h0m0-2h0m-1 1h0m0-10h0m-2 7h0m0 3h0m-2-8h0m-2 1h0m-1 10h0m-4-3h0m-1 3h0m-1-7h0m-1-2h0m-2 7h0m-2-2h0m0-9h0m-1 9h0m0-10h0m-1 5h0m-2 2h0m0-2h0m-1 0h0m-1 6h0m-1-1h0m0-9h0m-1 8h0m0 0h0m0-2h0m-1 4h0m-2-3h0m-12 4h0m-1-6h0m-2 2h0m0 4h0m-2-3h0m-2 2h0m0-1h0m-1-4h0m-5 3h0m0-4h0m-1 6h0m-1-3h0m-1 5h0m-1-1h0m-1 1h0m-1-2h0m-2-3h0m-5 4h0m-4-1h0m0-5h0m-3 4h0m-2-1h0m-1 4h0m-2-7h0m-1 5h0m-2 3h0m-11-1h0m-5 6h0m2 10h0m1-9h0m2 8h0m1-9h0m4 7h0m1-5h0m1-2h0m1 6h0m4 1h0m1-4h0m1 4h0m1-7h0m3 6h0m0 1h0m4 2h0m0-4h0m1 0h0m0 4h0m2-2h0m0-6h0m2-2h0m1 10h0m0-9h0m0-1h0m1 8h0m1-6h0m0 3h0m2-1h0m1-3h0m0 8h0m2 0h0m0-8h0m2-1h0m1 11h0m2-2h0m0-6h0m2 7h0m0-1h0m1-7h0m0 7h0m1-2h0m0-6h0m1 1h0m0-1h0m0 6h0m1 0h0m2-2h0m0 3h0m0-7h0m1 10h0m1-9h0m0 8h0m1 1h0m0-5h0m2-4h0m1 1h0m0-4h0m1 6h0m2 3h0m0-1h0m1-7h0m1 11h0m0-12h0m0 6h0m1 0h0m0 1h0m1 5h0m1-6h0m1-1h0m0-1h0m2 1h0m1 5h0m2-11h0m1 3h0m1 9h0m1-11h0m0-2h0m2 9h0m1-2h0m0-1h0m0 5h0m0-1h0m1-1h0m0-1h0m0-6h0m2 11h0m1-6h0m1 4h0m0-11h0m1 0h0m3 2h0m1 8h0m2 3h0m1-1h0m0-5h0m2-7h0m0 11h0m4-3h0m1 2h0m0 3h0m1-11h0m1-1h0m0 4h0m2 1h0m1-2h0m2 0h0m3 2h0m2-3h0m0-1h0m0 6h0m1-5h0m8 5h0m5-1h0m3-4h0m6 1h0m4-2h0m0-1h0m7 0h0m2 2h0m8 4h0m-21 11h0m-25 2h0m-9-4h0m-1 9h0m-3-6h0m-4 6h0m-1-7h0m-1 6h0m0 3h0m-1-7h0m-1 3h0m-1 2h0m-2-1h0m0-5h0m-3-1h0m-3-3h0m0 13h0m0-8h0m-1 0h0m-1-1h0m-1 7h0m-1-7h0m0-4h0m0 4h0m-2 6h0m0 0h0m-1-9h0m0 5h0m-1 2h0m-1 4h0m-2-12h0m0 11h0m-2-1h0m-1-6h0m-1 9h0m-2-12h0m0 4h0m0-5h0m-1 5h0m0 6h0m0-11h0m-1 3h0m0 7h0m-1-4h0m-1 7h0m-4-6h0m0 0h0m-2 2h0m0-3h0m0-3h0m-2 8h0m0-2h0m0-2h0m0 0h0m0 5h0m-1 0h0m-1-4h0m0 0h0m0-8h0m0 2h0m-2-2h0m0 8h0m-2-1h0m0-6h0m0 9h0m-1 4h0m-2-6h0m-1-8h0m0 11h0m-1-1h0m0-1h0m-1 5h0m0-4h0m-1 0h0m-1-9h0m0 12h0m-2-11h0m-1 2h0m-1 0h0m0 8h0m0-10h0m-1 9h0m0-4h0m0 2h0m-2-9h0m0 0h0m0 0h0m0 1h0m-1 2h0m0 1h0m-1 2h0m0 7h0m-1-3h0m-3-5h0m-1-4h0m0 2h0m0 6h0m-1 1h0m-2 0h0m-1-5h0m0 1h0m0 5h0m0-4h0m-2-2h0m-1-1h0m-3 9h0m0-5h0m-1-6h0m-1 12h0m0 0h0m0-5h0m0 0h0m0 4h0m-1-9h0m0-3h0m-2 12h0m0-9h0m-1 7h0m0-4h0m-1-3h0m-2-2h0m-1 3h0m-1-1h0m0-2h0m-2 1h0m-2 3h0m-1 7h0m-2-3h0m-1 3h0m0-13h0m-2 11h0m-2 3h0m-10-2h0m-6 2h0m-4-9h0m-9 6h0m-5 2h0m4 16h0m5-5h0m8 1h0m0 2h0m8-11h0m2 6h0m3 7h0m1-7h0m0 0h0m2 5h0m1 0h0m1-5h0m2-7h0m7 2h0m0 5h0m0 2h0m0-6h0m1 2h0m2 0h0m2 0h0m0 8h0m3-11h0m1 0h0m1 10h0m1-2h0m2-6h0m1 2h0m0-5h0m0 0h0m2 5h0m0 2h0m1-3h0m1 0h0m0 8h0m1-13h0m3 2h0m0 5h0m2 6h0m0-4h0m2 5h0m1-13h0m0 11h0m2 0h0m2-8h0m0 5h0m0 2h0m1 1h0m0-2h0m1-7h0m0 7h0m1-3h0m0 2h0m0-1h0m2-2h0m1-5h0m7 2h0m3-1h0m1 1h0m1 10h0m3-2h0m0 2h0m1-5h0m0-2h0m1-5h0m0 8h0m14-6h0m0 9h0m4 0h0m2-3h0m2-1h0m3-3h0m2-1h0m1-1h0m9-3h0m22 9h0m-20 6h0m-17 10h0m-19-2h0m0 5h0m-3-12h0m-2 0h0m-5 1h0m-2-1h0m-4 7h0m-7-6h0m-2-2h0m-1 4h0m0-4h0m0 1h0m-1 8h0m-1-1h0m0-7h0m-6 9h0m-1-2h0m-2-2h0m-1-5h0m-1 0h0m-7 2h0m0-3h0m-1 5h0m0-2h0m-1-1h0m-3 8h0m-2-10h0m-1 7h0m-3 1h0m-6-2h0m-2 7h0m-2-7h0m-1-2h0m-1-4h0m-14 8h0m-2-1h0m-5 2h0m-18-8h0m14 21h0m6-1h0m14 7h0m16-13h0m4 8h0m2-1h0m19 0h0m13-3h0m-40 19h0m0-3h0" stroke="#000" stroke-width="8.0" stroke-linecap="round" fill="none"/></g><rect x="26" y="6" width="70" height="70.6" fill="none" stroke="#333" stroke-width="0.7"/><text x="33" y="10.3" font-size="3.2" fill="#333" stroke="#333" stroke-width="0.11">P1(71.23%)</text><text x="25" y="7" font-size="3.1" text-anchor="middle" fill="#2a2a2a" transform="rotate(-90 25 7)" stroke="#2a2a2a" stroke-width="0.11">250</text><text x="25" y="40.8" font-size="3.1" text-anchor="middle" fill="#2a2a2a" transform="rotate(-90 25 40.8)" stroke="#2a2a2a" stroke-width="0.11">150</text><text x="24.3" y="77.6" font-size="3.1" text-anchor="end" fill="#2a2a2a" stroke="#2a2a2a" stroke-width="0.11">0</text><text x="19.2" y="11.8" font-size="3.1" text-anchor="middle" fill="#2a2a2a" transform="rotate(-90 19.2 11.8)" stroke="#2a2a2a" stroke-width="0.11">(x 10³)</text><text x="19.2" y="45" font-size="3.1" text-anchor="middle" fill="#2a2a2a" transform="rotate(-90 19.2 45)" stroke="#2a2a2a" stroke-width="0.11">SSC-A</text><text x="26" y="81.5" font-size="3" text-anchor="middle" fill="#2a2a2a" stroke="#2a2a2a" stroke-width="0.11">0</text><text x="61" y="81.5" font-size="3" text-anchor="middle" fill="#2a2a2a" stroke="#2a2a2a" stroke-width="0.11">50</text><text x="96" y="81.5" font-size="3" text-anchor="middle" fill="#2a2a2a" stroke="#2a2a2a" stroke-width="0.11">100</text><text x="63.7" y="87.4" font-size="3.3" text-anchor="middle" fill="#2a2a2a" stroke="#2a2a2a" stroke-width="0.12">FSC-A</text><text x="91" y="87.4" font-size="3.1" text-anchor="middle" fill="#2a2a2a" stroke="#2a2a2a" stroke-width="0.11">(x 10³)</text><line x1="26" y1="76.6" x2="26" y2="77.5" stroke="#555" stroke-width="0.4"/><line x1="25.1" y1="76.6" x2="26" y2="76.6" stroke="#555" stroke-width="0.4"/><line x1="33" y1="76.6" x2="33" y2="77.5" stroke="#555" stroke-width="0.4"/><line x1="25.1" y1="69.54" x2="26" y2="69.54" stroke="#555" stroke-width="0.4"/><line x1="40" y1="76.6" x2="40" y2="77.5" stroke="#555" stroke-width="0.4"/><line x1="25.1" y1="62.48" x2="26" y2="62.48" stroke="#555" stroke-width="0.4"/><line x1="47" y1="76.6" x2="47" y2="77.5" stroke="#555" stroke-width="0.4"/><line x1="25.1" y1="55.42" x2="26" y2="55.42" stroke="#555" stroke-width="0.4"/><line x1="54" y1="76.6" x2="54" y2="77.5" stroke="#555" stroke-width="0.4"/><line x1="25.1" y1="48.36" x2="26" y2="48.36" stroke="#555" stroke-width="0.4"/><line x1="61" y1="76.6" x2="61" y2="77.5" stroke="#555" stroke-width="0.4"/><line x1="25.1" y1="41.3" x2="26" y2="41.3" stroke="#555" stroke-width="0.4"/><line x1="68" y1="76.6" x2="68" y2="77.5" stroke="#555" stroke-width="0.4"/><line x1="25.1" y1="34.24" x2="26" y2="34.24" stroke="#555" stroke-width="0.4"/><line x1="75" y1="76.6" x2="75" y2="77.5" stroke="#555" stroke-width="0.4"/><line x1="25.1" y1="27.18" x2="26" y2="27.18" stroke="#555" stroke-width="0.4"/><line x1="82" y1="76.6" x2="82" y2="77.5" stroke="#555" stroke-width="0.4"/><line x1="25.1" y1="20.12" x2="26" y2="20.12" stroke="#555" stroke-width="0.4"/><line x1="89" y1="76.6" x2="89" y2="77.5" stroke="#555" stroke-width="0.4"/><line x1="25.1" y1="13.06" x2="26" y2="13.06" stroke="#555" stroke-width="0.4"/><line x1="96" y1="76.6" x2="96" y2="77.5" stroke="#555" stroke-width="0.4"/><line x1="25.1" y1="6" x2="26" y2="6" stroke="#555" stroke-width="0.4"/><g clip-path="url(#c2)"><path transform="scale(.1)" d="M1514 470h0m-37 4h0m-190 16h0m32 3h0m19-2h0m33-7h0m117 9h0m44-10h0m1 0h0m-74 26h0m-19-3h0m-130-2h0m18 15h0m35 4h0m7-1h0m24-1h0m1-2h0m23-7h0m70 14h0m-44 8h0m-17-7h0m-7 3h0m-15 7h0m-9-10h0m-20-1h0m-8 4h0m-7-2h0m-19 2h0m-46 8h0m-29-10h0m-50 4h0m5 18h0m9 4h0m29-6h0m62-2h0m23-2h0m33-3h0m4 11h0m23-8h0m6 3h0m0 3h0m3 4h0m6-5h0m14-5h0m5 1h0m7 3h0m14-7h0m18 3h0m25 6h0m47-2h0m25-8h0m-89 28h0m-2-8h0m-9-1h0m-9-3h0m-6 2h0m-25 2h0m-4 6h0m-7 0h0m-8-10h0m-2 13h0m-17-11h0m-3-3h0m-1 3h0m-4 2h0m-3 7h0m-5 1h0m-10-9h0m-10 3h0m-1 0h0m-7 2h0m0-5h0m-7 5h0m-7-5h0m-10 0h0m-20 5h0m-4 0h0m-20-4h0m-1 2h0m0 3h0m-10-6h0m-24-4h0m-44 8h0m-36-7h0m-44 19h0m13 8h0m27-13h0m23 9h0m9 3h0m28-4h0m36-6h0m8 10h0m22-10h0m32 2h0m28-4h0m5 10h0m0-9h0m3 1h0m1 10h0m6 2h0m8-7h0m2 6h0m3-2h0m12-7h0m16 10h0m5-4h0m2-5h0m4-4h0m1 10h0m10-8h0m4 6h0m10 1h0m38 3h0m2-12h0m59 8h0m43 0h0m-127 8h0m-5-1h0m-14 5h0m-13 2h0m-2 2h0m-11 0h0m-13-3h0m-6 4h0m-1-6h0m-11 9h0m-14-11h0m0 0h0m-2 5h0m-8 5h0m-11-7h0m-8 6h0m-3-2h0m-7-1h0m-2-2h0m-5 6h0m-1 1h0m-8-7h0m-2 4h0m-2-8h0m-1 2h0m-3 4h0m0-6h0m-5-3h0m-7 7h0m-8 4h0m-1-1h0m-5-10h0m0 1h0m-4 1h0m-8 12h0m-2-2h0m-3-1h0m-5-3h0m-9-6h0m-8 11h0m-6-10h0m-97 9h0m51 9h0m4-3h0m32 0h0m21 7h0m27-5h0m10 2h0m8-7h0m4 10h0m11-5h0m3-3h0m7 9h0m2-2h0m12-2h0m0 1h0m6 5h0m12-9h0m11-4h0m0 14h0m9-14h0m3 3h0m3 0h0m9-3h0m2 2h0m0 6h0m12-2h0m2 3h0m8-2h0m4 2h0m0-6h0m0 5h0m1-2h0m1-6h0m5 14h0m8-5h0m3 2h0m8-11h0m7 14h0m1-6h0m7-7h0m14-1h0m11 5h0m9 9h0m21 0h0m21-12h0m19 4h0m-47 12h0m-11-2h0m-12 8h0m-16 1h0m-5 1h0m-5-11h0m-14 12h0m-2-3h0m-3 3h0m-4-9h0m0-3h0m-1 8h0m-2-4h0m0-3h0m-10 7h0m-3-3h0m-11 4h0m-1-3h0m-1-6h0m-4 5h0m-3 4h0m-2-2h0m-10-5h0m-7 10h0m-2-10h0m-6 8h0m-1 4h0m-1-2h0m-10-1h0m0-3h0m-3 2h0m-6-4h0m-6-3h0m-1-1h0m-2 4h0m-3 4h0m-4-7h0m0-2h0m-12 11h0m-2 1h0m-2-9h0m-12 6h0m-5-2h0m-3 5h0m-3-4h0m-4 1h0m-8 1h0m-19-1h0m-2-1h0m-17-9h0m-8 0h0m-4 9h0m-7-8h0m-6 0h0m-17-1h0m-71 12h0m-5-3h0m50 15h0m1 4h0m4-4h0m6 4h0m14-5h0m6-2h0m32-3h0m4 6h0m7-2h0m13 3h0m2 0h0m6 2h0m4-6h0m4-4h0m8 6h0m2-6h0m4-2h0m1 2h0m14 2h0m2 8h0m1-4h0m1 1h0m3-1h0m5-5h0m6-2h0m5 10h0m7 1h0m6-2h0m2 1h0m4-4h0m4 6h0m1-7h0m4-5h0m2 2h0m1 7h0m21-1h0m7-3h0m3-1h0m2-5h0m9 0h0m1 3h0m5 11h0m4-9h0m14 2h0m8 2h0m10 5h0m65-6h0m17 4h0m-19 15h0m-28-7h0m-25-3h0m-20 8h0m-1 0h0m-10-10h0m-8 6h0m-5-2h0m-12 6h0m-2-3h0m-7-7h0m-7 6h0m-3 5h0m-18-6h0m0-1h0m-12 0h0m-16-2h0m0 9h0m-3 0h0m-11-9h0m-6 8h0m-1-9h0m-18 8h0m-4 2h0m-8 3h0m-3-3h0m0 1h0m-15-10h0m-1 3h0m-1 9h0m-4-3h0m-5-8h0m-5-2h0m-16 7h0m-22-5h0m-10 4h0m-21 0h0m-10 0h0m-20 3h0m-4 1h0m-12 2h0m17 14h0m43-2h0m29-4h0m2-2h0m5-1h0m0-3h0m16 13h0m6 1h0m9-3h0m14-6h0m10 7h0m5-6h0m1 8h0m0-4h0m2-9h0m0-1h0m12 11h0m1-10h0m12 11h0m4-10h0m12 7h0m5-4h0m0 8h0m4 1h0m3-2h0m7-2h0m25 1h0m3-11h0m3 1h0m112 3h0m35-3h0m-112 19h0m-8 2h0m-10 3h0m-16-7h0m-1 10h0m0 0h0m-15 0h0m-4 1h0m-5-8h0m-2 5h0m-25 1h0m-4-3h0m-11-6h0m-2 0h0m-4 4h0m-18 1h0m-16-2h0m-4 2h0m-46-5h0m-56-1h0m-18 0h0m-77 22h0m27-4h0m110-4h0m27 3h0m17 1h0m12 3h0m22 2h0m83-3h0m22-4h0m7-1h0m39 6h0m11-4h0m38 23h0m-85 2h0m-40-7h0m-16-4h0m-13 0h0m-9 0h0m-1-2h0m-7 1h0m-4 2h0m-8-2h0m-33-2h0m-72 24h0m11 5h0m110-8h0m15 1h0m3 5h0m5-7h0m13 3h0m11-2h0m103 0h0m-34 9h0m-71 12h0m-39-7h0m-4 5h0m-3-9h0m-19 1h0m-27 5h0m-11 2h0m-26-6h0m-19 3h0m-75 11h0m61 10h0m225-2h0m-109 14h0m-28 0h0m-63-3h0m-51 19h0" stroke="#111" stroke-width="5.4" stroke-linecap="round" fill="none"/><path transform="scale(.1)" d="M1570 426h0m-11 20h0m-4 0h0m-17-5h0m-14-3h0m-91 23h0m35-8h0m12 3h0m38-4h0m16 9h0m4 0h0m-19 13h0m-1 3h0m-9 2h0m-49-3h0m-4-5h0m-6-2h0m-71 3h0m-5 5h0m45 13h0m4 1h0m23-9h0m24 3h0m1 0h0m19-1h0m2-1h0m9 7h0m7-7h0m9 5h0m0-5h0m5 8h0m7 2h0m39-11h0m28 4h0m27 4h0m-35 8h0m-1 0h0m-14 9h0m-27 1h0m0-11h0m-5 7h0m-6 4h0m-10-1h0m-15-7h0m-15 6h0m-11 0h0m-3-11h0m-4 1h0m-21 0h0m-8 3h0m-2 6h0m0 0h0m-4-7h0m-51 5h0m-29 5h0m-12-6h0m-89 13h0m118 8h0m23-5h0m12 0h0m14 3h0m1-6h0m3 9h0m10-5h0m1 5h0m1-8h0m6-6h0m0 9h0m3-6h0m6 7h0m4-5h0m8 0h0m6 3h0m2-8h0m1 6h0m7 5h0m2-5h0m5 4h0m6-1h0m3 2h0m2-6h0m3 6h0m16 3h0m4 0h0m3-2h0m2-1h0m0-9h0m4 0h0m0-1h0m12 13h0m4-13h0m2-1h0m29 3h0m3 7h0m85 13h0m-76-7h0m-16 1h0m-5-2h0m-23 10h0m-14-5h0m-2 8h0m-5-2h0m-7-3h0m-3 1h0m-1 4h0m-3-4h0m-2 1h0m-3 0h0m-7 3h0m-1-9h0m-1 5h0m-3-2h0m-2 1h0m-2 0h0m-5-6h0m0 5h0m-2-6h0m-3 7h0m0 6h0m-7-13h0m-1 1h0m-1 5h0m-1-5h0m-1 1h0m-1 4h0m-3-5h0m-2 12h0m-1-2h0m0-1h0m0-4h0m-2-7h0m-1 12h0m0-6h0m-3-2h0m-1 6h0m-1 2h0m-8-8h0m-1 0h0m0-1h0m-6 4h0m-1-2h0m-3 1h0m-1 8h0m-2-6h0m-3 3h0m-2-2h0m-2-8h0m-9 0h0m-1 9h0m-4-3h0m-7 5h0m-2-3h0m-11 5h0m-17-11h0m-4 0h0m-15 1h0m-2 9h0m-35 10h0m46-2h0m18 2h0m2-7h0m3-1h0m4 7h0m11 1h0m2 0h0m3 5h0m3-5h0m7-1h0m1 6h0m0-1h0m1 2h0m1-11h0m1 4h0m2 5h0m8-6h0m2 0h0m4 6h0m2-5h0m2 7h0m0-2h0m3-7h0m0 4h0m3-8h0m3 6h0m1-7h0m0 6h0m3 5h0m0-2h0m2 3h0m2-6h0m0 3h0m3-2h0m3 3h0m0-10h0m2 10h0m7-10h0m1 1h0m1 11h0m0-5h0m4 6h0m3 1h0m1-9h0m2 1h0m5 6h0m2-11h0m2 1h0m1 7h0m4 5h0m0-3h0m4-1h0m2-5h0m4 9h0m2-3h0m3-6h0m6 7h0m0-11h0m20 1h0m4 12h0m1-11h0m24 13h0m-16 8h0m0 3h0m-3 2h0m-2-4h0m-3-6h0m0 7h0m-5 0h0m-9-10h0m-8 3h0m-2 4h0m-8 4h0m-6-11h0m-7 4h0m-1 1h0m-1 2h0m-7 4h0m-4-11h0m-1 3h0m-3 10h0m0-13h0m-6 10h0m0-10h0m0 6h0m-1 6h0m-1-13h0m-1 6h0m-3-3h0m0 0h0m-3 1h0m0 7h0m0-5h0m-2-4h0m-1 5h0m-3 2h0m-2-8h0m-1 2h0m-2 5h0m0-3h0m-7-1h0m-5 2h0m-3 5h0m-2-2h0m-8 1h0m0-8h0m0 9h0m-1-8h0m-2 0h0m0 9h0m-3 2h0m-2-5h0m0-8h0m-5 1h0m-5-2h0m0 13h0m-1-12h0m-12 12h0m-10-10h0m-11 5h0m-6-8h0m-24 10h0m-6-1h0m-5-8h0m-4 6h0m-69 11h0m28 3h0m34 0h0m24 3h0m3-7h0m2 12h0m16-14h0m3 10h0m7-8h0m2 11h0m4 1h0m2-3h0m0-3h0m1-6h0m2 6h0m5 6h0m4-4h0m0 4h0m1-3h0m1 0h0m5-7h0m1-1h0m1 1h0m2-3h0m2 7h0m2-1h0m1-4h0m2 4h0m2 7h0m1-3h0m0 3h0m0-12h0m2 6h0m0 6h0m3-11h0m1-2h0m1 13h0m2-3h0m8 0h0m2-5h0m7 3h0m6 4h0m0-13h0m2 6h0m4 4h0m0 3h0m3-11h0m4-2h0m3 12h0m1-2h0m3 1h0m0-5h0m1-2h0m0 0h0m0 9h0m4-12h0m3 4h0m0 1h0m5-6h0m4 0h0m3 4h0m0 2h0m6 8h0m12-6h0m19-7h0m1 3h0m3 3h0m0 7h0m25-3h0m15-3h0m30 17h0m-1-9h0m-24 3h0m-4 6h0m-4 0h0m-44-2h0m0-3h0m-2-2h0m0 7h0m-4-6h0m-6 10h0m-2-11h0m-2 4h0m-2-2h0m0 9h0m-3-3h0m-3-4h0m-5 0h0m-3 6h0m-2-4h0m0 4h0m-1-13h0m-3 8h0m-2-8h0m-1 0h0m-2 3h0m-1 9h0m-2-6h0m-4 3h0m-1-4h0m-2-3h0m-2-1h0m0 9h0m-2-9h0m-2 4h0m-3 6h0m-3-1h0m0 1h0m-1 1h0m-1-2h0m-1-3h0m0 0h0m-1-2h0m-3 8h0m-1-1h0m0-6h0m-2-4h0m-3 8h0m-9 2h0m-1-2h0m-2-5h0m0 2h0m-4 3h0m-4 4h0m0-6h0m-2-7h0m-4 3h0m-5 10h0m-1-4h0m0-9h0m-2 4h0m-2 3h0m-3-6h0m-1 7h0m-5 3h0m-1-9h0m-2 11h0m0-3h0m-2-5h0m-1 1h0m-6 4h0m-2-3h0m-3-8h0m-3 14h0m-2-2h0m-1 2h0m-9-5h0m-16 0h0m0-7h0m-3 1h0m-12 6h0m-2 0h0m-2 5h0m-1-3h0m-12-11h0m-1 4h0m-45 21h0m30 4h0m4-10h0m9-4h0m15 14h0m2-5h0m11-9h0m0 12h0m2-9h0m6 10h0m6-3h0m5-3h0m8 3h0m3-4h0m5 2h0m1-3h0m2-4h0m7 11h0m3 1h0m1-1h0m1-4h0m1 3h0m3 0h0m2 3h0m1-2h0m3-10h0m2 2h0m1 3h0m0-4h0m4-1h0m1-1h0m2 11h0m1 0h0m1-8h0m2 9h0m0-2h0m1-8h0m0 0h0m2 3h0m0-5h0m1 9h0m2 2h0m0-4h0m6-4h0m0-4h0m1 3h0m0 1h0m2-3h0m1 7h0m0 4h0m0-5h0m2 4h0m1-6h0m4-5h0m0 12h0m2-9h0m1 2h0m0-5h0m0 14h0m1-14h0m1 0h0m1 13h0m0-12h0m4 4h0m4-3h0m0 3h0m0-1h0m2 6h0m8 1h0m3 3h0m4-9h0m1 3h0m3-3h0m3 5h0m11-1h0m2-2h0m2-6h0m10 7h0m5-8h0m4 14h0m0-3h0m2 0h0m5-3h0m3 3h0m2-3h0m2-5h0m0 5h0m3-8h0m8 1h0m12 6h0m0 0h0m1-6h0m-4 17h0m-5-2h0m-9 9h0m-9-1h0m-4-4h0m-9 4h0m-3-7h0m-3 3h0m-6-4h0m-4 8h0m-4 3h0m-8-2h0m-1-7h0m-5 4h0m-6 7h0m-1-2h0m-4 0h0m0-4h0m-4 3h0m-3-7h0m-3 0h0m-10 6h0m-1 3h0m-2-3h0m-4-5h0m-1 0h0m-2 9h0m-2-11h0m-4-1h0m0-1h0m-4 12h0m-3-3h0m-1 3h0m0-9h0m-2-4h0m0 1h0m-2 2h0m-6 5h0m-4 6h0m-5-13h0m-1 2h0m-1 3h0m-3 1h0m-3 3h0m-3 2h0m-1-10h0m-2 1h0m-1 6h0m0-5h0m0 3h0m-1-3h0m-1 10h0m-1-3h0m-2-3h0m0 6h0m-2-10h0m-11-4h0m0 7h0m-2 7h0m-2-11h0m-3 1h0m-10 3h0m-1 7h0m-6-5h0m-5-8h0m-2 9h0m-3-8h0m-15 7h0m-2 1h0m-4 3h0m-1-8h0m0 2h0m-6-2h0m26 20h0m17-8h0m6 5h0m1 5h0m0-10h0m4 7h0m4 2h0m0 0h0m3-9h0m3 6h0m1 4h0m1-5h0m1 0h0m1 0h0m2 3h0m1-8h0m0 6h0m4-8h0m3 12h0m1-10h0m2-2h0m4 9h0m2 2h0m5-3h0m1-1h0m5 5h0m2-12h0m1 4h0m2-4h0m1 4h0m0 2h0m0-4h0m4 0h0m0 10h0m4-10h0m1 9h0m1-3h0m1-4h0m2 7h0m1-11h0m1 0h0m2 5h0m0 0h0m4-3h0m1 10h0m3 0h0m1-9h0m0-1h0m0 4h0m7-5h0m1 2h0m3-3h0m1 4h0m3 1h0m3 1h0m0 8h0m2-1h0m0-7h0m2-5h0m1 6h0m2-2h0m0-5h0m3 6h0m0-5h0m3 3h0m1 3h0m0 5h0m1-4h0m11-4h0m3 9h0m6-8h0m1 2h0m10 0h0m5 4h0m11-1h0m0-6h0m5 7h0m1-10h0m10 1h0m0 12h0m2-1h0m25-3h0m2 17h0m-12-8h0m-1 1h0m-41-3h0m0 10h0m-8 0h0m-3-12h0m-13 9h0m0-4h0m-2-5h0m-7 8h0m-12 3h0m-3-7h0m-7 4h0m-1 0h0m0-5h0m-15 7h0m-4 3h0m-3-7h0m-3 4h0m-3-3h0m-1 1h0m-2 5h0m0-13h0m-1 10h0m0 2h0m-2-6h0m-5 0h0m0-3h0m-3 3h0m-5-6h0m-3 14h0m-3-2h0m-1-4h0m-2-7h0m-2 13h0m-4-8h0m-6-5h0m-3 3h0m0-3h0m-11 10h0m-2-7h0m-5 4h0m-2 0h0m0 3h0m-5-5h0m-2 2h0m-2-3h0m-8 4h0m-2-3h0m-3 5h0m-8 0h0m-6-8h0m-11 7h0m-9 0h0m-6-8h0m-8 3h0m-5 3h0m-16 12h0m51-3h0m18 12h0m7-7h0m3-1h0m0 4h0m1-4h0m0 7h0m3-5h0m4 2h0m11-4h0m5-6h0m7 11h0m1-8h0m3 10h0m10-6h0m1-4h0m2-1h0m0 4h0m7 8h0m2-5h0m0-2h0m1-4h0m0 11h0m4 0h0m1-10h0m0 1h0m1-3h0m3 0h0m3 10h0m6-2h0m0 2h0m4-4h0m3 4h0m2-4h0m2 1h0m8 4h0m2 1h0m9-2h0m7-11h0m1 2h0m2 5h0m19 4h0m0-5h0m1 0h0m1-4h0m2-1h0m4 3h0m2 4h0m2 5h0m12-13h0m0 8h0m2-9h0m2 0h0m19 3h0m3 7h0m32-1h0m-23 11h0m-35 0h0m-7-3h0m-4 3h0m-1 2h0m-2 0h0m-14-5h0m-7 9h0m-12 3h0m-8-8h0m-2-1h0m-7-1h0m-1-2h0m-9 5h0m-5 6h0m-4-7h0m0 4h0m0-10h0m-8 1h0m-1 3h0m-6 0h0m0-4h0m-1 12h0m-1-7h0m-6-2h0m-2 2h0m-2 0h0m-2-2h0m-2 2h0m-2-2h0m-3 5h0m0-3h0m-7 6h0m-7 0h0m-4-8h0m0 4h0m-3 0h0m-5 5h0m-11-12h0m0 3h0m-3-3h0m-3 7h0m-50 4h0m-41 4h0m54 12h0m42-4h0m12-1h0m4-1h0m6 7h0m6-13h0m2 4h0m4 7h0m1-6h0m12 0h0m1 6h0m4-6h0m6 5h0m5 3h0m3-9h0m3 3h0m1 0h0m0-6h0m8-1h0m52 9h0m2 2h0m38-10h0m-7 16h0m-5 6h0m-16-8h0m-29 4h0m-5-4h0m-16 12h0m-3-1h0m-21 2h0m-1-13h0m-4 14h0m-16-13h0m-6 6h0m-17-6h0m-22 7h0m-31 3h0m-55 10h0m81 0h0m3-6h0m13 4h0m36 8h0m7 1h0m24-10h0m7 1h0m4 3h0m41 5h0m-40 10h0m-30-7h0m-47 3h0m-39-3h0m-7 10h0m65 9h0m2-4h0m-106 24h0" stroke="#000" stroke-width="6.0" stroke-linecap="round" fill="none"/><path transform="scale(.1)" d="M1523 423h0m-34 37h0m10-10h0m18 14h0m22-10h0m-4 19h0m-4-1h0m-4-7h0m-15 5h0m-2 4h0m-11 1h0m-59 14h0m33-6h0m3 1h0m10 10h0m22-1h0m10-11h0m3 3h0m7 5h0m7-10h0m15 11h0m3 3h0m32-5h0m-43 20h0m-19-11h0m-5 0h0m-18 8h0m0-6h0m-5 6h0m0-5h0m-4 1h0m-5 5h0m-1-10h0m-6 9h0m-23-5h0m-28 8h0m8 8h0m14 6h0m2 0h0m2-3h0m2 0h0m7 3h0m6 0h0m3-4h0m3-6h0m0 7h0m2 4h0m5 0h0m1-3h0m3 1h0m0-4h0m4 1h0m1-6h0m7 9h0m1 0h0m0-5h0m0 5h0m7-4h0m3-4h0m1 1h0m3 2h0m4 2h0m5-8h0m9 6h0m10-3h0m3 10h0m11 0h0m60 7h0m-38 2h0m-11 1h0m-2 3h0m-1-9h0m-9 8h0m-4-10h0m-8-1h0m-5 12h0m-3-8h0m-1 4h0m-1 3h0m-4-10h0m-2 8h0m-4-5h0m-1-2h0m-2 2h0m0-3h0m-2 12h0m0 0h0m0-10h0m0-1h0m-2 2h0m-2 10h0m0-5h0m-3-5h0m0 1h0m0 8h0m-2-10h0m-6 10h0m-1-5h0m0 0h0m-1-5h0m-2 8h0m-4-5h0m0-1h0m-4-3h0m0-1h0m-1 0h0m-4 12h0m-2-3h0m-2-9h0m0 10h0m-1-10h0m-3 11h0m-1 1h0m-4-2h0m-5 3h0m-2 0h0m0-8h0m-3 0h0m-7 8h0m-18-8h0m-18 16h0m7 0h0m7-3h0m6-3h0m4 5h0m4 1h0m1 4h0m4-9h0m3 9h0m0-1h0m2 3h0m0 0h0m2-7h0m0 0h0m1-5h0m6 4h0m4 0h0m1 5h0m0-7h0m1 7h0m1-3h0m1 2h0m0 1h0m1-5h0m0 7h0m1 0h0m3-4h0m0-8h0m3 5h0m1 7h0m2-11h0m0 10h0m0-6h0m1 6h0m1-11h0m0 12h0m0-6h0m1 6h0m1 0h0m0-1h0m1 3h0m0-14h0m2 14h0m3-12h0m0 11h0m1-4h0m4 0h0m0 3h0m3-9h0m2 3h0m1 2h0m1-6h0m0-1h0m5 4h0m1 3h0m2-1h0m0 2h0m3-6h0m0 1h0m0 8h0m0-3h0m5-8h0m6 5h0m0 6h0m2 1h0m0 0h0m3-1h0m1-3h0m0 5h0m1-12h0m0 4h0m3 6h0m0-12h0m1 4h0m2 7h0m3 3h0m0-13h0m4 7h0m0-3h0m3 2h0m5-5h0m8 23h0m-2-8h0m-6 8h0m-4-10h0m-1 6h0m-2-1h0m-9 7h0m0 2h0m-3-7h0m0-5h0m0 5h0m0 5h0m0-7h0m0 2h0m-2 3h0m-1 3h0m-2-2h0m0-2h0m-1-2h0m0 3h0m-3-5h0m-1-3h0m0 0h0m-1 10h0m-1-11h0m0 8h0m-1 3h0m-1 2h0m-1-7h0m-1-6h0m0 4h0m-3-1h0m0 7h0m0 3h0m0-11h0m-1 2h0m-1 5h0m-3 1h0m-3 3h0m-1-3h0m0-7h0m0 4h0m-2 3h0m0 1h0m0 1h0m-1-8h0m0 3h0m-1 0h0m0 6h0m-2-14h0m0 8h0m0-8h0m-2 8h0m-2-6h0m-1 12h0m-1-6h0m0-6h0m-2 1h0m0 6h0m-2-8h0m0 7h0m-1-1h0m-1 1h0m-1-2h0m0-5h0m-1-1h0m-1 11h0m-1-6h0m0-2h0m0 8h0m-1-3h0m-2 3h0m-1-9h0m0 9h0m-2-11h0m-2 7h0m-1-2h0m0 7h0m-1-11h0m-4 4h0m0 8h0m0 1h0m0-9h0m-1 6h0m0 1h0m-1-6h0m-3-1h0m0 1h0m-1 8h0m-1-14h0m0 1h0m-1 13h0m-1-3h0m0-3h0m-7-8h0m-2 1h0m0-1h0m-5 9h0m0 4h0m-2-11h0m-2 10h0m0-9h0m-1 3h0m-2-3h0m-1-1h0m-1 8h0m-7-7h0m-1 9h0m-2-7h0m-7-4h0m-20 11h0m-16 0h0m-15 9h0m39-4h0m9 2h0m6 10h0m3-2h0m1-10h0m1 5h0m2 7h0m1-9h0m4 6h0m2-6h0m0 8h0m3-10h0m2 11h0m0-3h0m1-8h0m0 10h0m1-13h0m0 8h0m2-2h0m0 8h0m0-14h0m1 7h0m1 1h0m0-2h0m2 2h0m0-6h0m0 4h0m1 4h0m2 4h0m0-7h0m0 1h0m1 4h0m0-7h0m5-5h0m1 6h0m1 5h0m1 3h0m1-14h0m0 11h0m1-7h0m1 10h0m3-5h0m1-4h0m1 5h0m0-7h0m1-1h0m0 11h0m1 0h0m2-4h0m0 1h0m0-4h0m0 5h0m1-4h0m1-3h0m0-1h0m0 10h0m1-11h0m1 9h0m0 1h0m1 1h0m0-11h0m0-1h0m1 9h0m0-2h0m0-2h0m1-6h0m0 8h0m1 4h0m0 1h0m1-9h0m0 9h0m1-3h0m0-9h0m0 11h0m0 0h0m1-1h0m0 2h0m1-7h0m1-6h0m0 13h0m1-11h0m0 6h0m0 6h0m0-13h0m0 3h0m1 6h0m0-7h0m1 0h0m1 6h0m1 0h0m1 5h0m0-5h0m1 1h0m0 4h0m1-2h0m2-11h0m0 10h0m2 1h0m1-8h0m1 10h0m0-3h0m1-6h0m1-5h0m0 14h0m1-10h0m1 8h0m0-7h0m1 7h0m0-6h0m0 3h0m1-2h0m0 6h0m0-1h0m0 2h0m0-1h0m1-4h0m1-9h0m0 12h0m1-5h0m2 0h0m0 7h0m1-9h0m0 3h0m1 3h0m0 3h0m0-6h0m1 3h0m1-2h0m2-8h0m1 12h0m1-13h0m1 0h0m0 7h0m0 4h0m1-3h0m0-8h0m1 8h0m4-8h0m0 5h0m0 5h0m1 2h0m0-10h0m1 10h0m1-1h0m0-4h0m1-6h0m0 13h0m3-2h0m2-7h0m0-4h0m2 8h0m0-6h0m2 7h0m1-3h0m0-3h0m6 9h0m2-1h0m3-5h0m3 7h0m1-5h0m1-4h0m1-4h0m4 3h0m1 8h0m4 0h0m1-8h0m3 10h0m4-8h0m6 5h0m3-2h0m11-1h0m-25 8h0m-1 0h0m-6 2h0m-6 4h0m-3 3h0m-5-6h0m-3 0h0m0 10h0m-3-14h0m-2 10h0m-1 3h0m0-4h0m-3-6h0m-1 10h0m-2-13h0m-1 6h0m-1-4h0m-2-2h0m-1 11h0m0-5h0m-1 2h0m0 1h0m-1 3h0m-4-6h0m0-2h0m-1-1h0m0-3h0m0 6h0m-1 7h0m0-1h0m-1-11h0m-2 2h0m0-1h0m0 9h0m-1 3h0m-1-8h0m0 8h0m0-11h0m-3 11h0m0-13h0m-1 12h0m-2-10h0m-1-2h0m0 5h0m0 3h0m0-3h0m-1 6h0m-2-2h0m0-3h0m0-1h0m-1-5h0m-1 7h0m-1-4h0m0 10h0m0-7h0m-1-6h0m-1 0h0m-1 0h0m-2 3h0m0-3h0m-1 2h0m0 6h0m-1 4h0m0-6h0m0 6h0m0-6h0m-1 7h0m0-3h0m0-7h0m-1 9h0m0-4h0m-1-1h0m0-2h0m-1 3h0m-1-3h0m-1 4h0m0-2h0m0 6h0m-1 0h0m0 0h0m0-14h0m-1 10h0m0-8h0m-1 6h0m0 5h0m0-7h0m0-5h0m-1 9h0m-1 1h0m0 0h0m-1-8h0m-1 3h0m0 0h0m-1-2h0m0-3h0m0 12h0m0 0h0m-1-12h0m0 10h0m0-8h0m0 5h0m-1-4h0m-1 5h0m-1-2h0m0-4h0m0-2h0m0 6h0m0 4h0m-1-1h0m0-10h0m-1 5h0m0 8h0m-1-1h0m0-5h0m0 6h0m0-13h0m-1 11h0m0-2h0m-1-9h0m-1 2h0m0 0h0m0 10h0m-1-2h0m-1 0h0m-1-9h0m-1 6h0m-4 5h0m0-9h0m0 8h0m-1 1h0m0-8h0m0 1h0m-2 4h0m0-5h0m0 2h0m0 5h0m-1-9h0m0-1h0m0 1h0m-1 0h0m0 7h0m-1 2h0m0 0h0m-2-3h0m-1 5h0m-2-5h0m0-2h0m-2-6h0m-1 3h0m0-3h0m-1 5h0m-1 2h0m-2-7h0m0 11h0m0 2h0m-1 0h0m-2-12h0m0 4h0m-2 4h0m-1-5h0m-2 6h0m-3-7h0m-1 1h0m0-2h0m-3 7h0m0-2h0m-7-2h0m-3 8h0m-2-9h0m-15 4h0m-7 1h0m-14 3h0m4 10h0m10-4h0m6 9h0m12-11h0m6 1h0m1 10h0m1-12h0m1 12h0m1-11h0m4 4h0m1-5h0m2 12h0m1-1h0m4-5h0m0-1h0m0-4h0m2 9h0m0-9h0m1-1h0m3 10h0m0-5h0m1 3h0m0 6h0m0-5h0m1-9h0m0 9h0m0-5h0m1 1h0m2 6h0m0-8h0m0 11h0m0-12h0m1 4h0m1-3h0m1 1h0m1 8h0m0-11h0m1 9h0m0 4h0m1-3h0m0-10h0m1 10h0m1-9h0m0 11h0m1 0h0m0-7h0m0 1h0m1 7h0m0-7h0m1-4h0m0 3h0m0-1h0m1 8h0m0-2h0m1 3h0m0-14h0m0 11h0m0-3h0m0-1h0m1-4h0m0 4h0m0 7h0m1-12h0m0-2h0m1 0h0m0 0h0m0 14h0m2-3h0m0 3h0m2-2h0m0-3h0m2-2h0m0-6h0m0 1h0m0 5h0m1 3h0m1-4h0m1 4h0m0-3h0m1 5h0m0-6h0m0 3h0m1 2h0m1-8h0m0 7h0m0 2h0m1 2h0m0-8h0m0-3h0m0 9h0m1-1h0m2-8h0m0 4h0m0 6h0m0-1h0m1-7h0m1-2h0m0 3h0m2-3h0m0-3h0m0 9h0m1-9h0m1 4h0m0 8h0m0-3h0m0 3h0m0-3h0m1-4h0m0-1h0m1 6h0m0-5h0m1-5h0m1 8h0m1-8h0m0 10h0m0-10h0m1 7h0m0 2h0m1-7h0m0 2h0m0 10h0m1-9h0m0-1h0m1 8h0m0 0h0m1-4h0m0-1h0m1 6h0m0-7h0m1 7h0m0-2h0m0-10h0m1 7h0m0 3h0m0-7h0m0 3h0m0-1h0m1 2h0m0-1h0m1 0h0m1 2h0m1 4h0m0-5h0m0 2h0m1-10h0m0 10h0m1 0h0m0-1h0m1-4h0m1 3h0m0 5h0m1-9h0m1-4h0m1 9h0m0-8h0m0 9h0m1 3h0m1-4h0m0-6h0m1 4h0m1-5h0m0 1h0m1 9h0m0 2h0m2-10h0m1-1h0m0 10h0m0 0h0m1-1h0m0 1h0m0-7h0m0 1h0m1 2h0m3 5h0m1-1h0m1 1h0m2-9h0m0 5h0m1-2h0m2 1h0m2 2h0m2-5h0m1-1h0m2-3h0m3 2h0m5-3h0m1 0h0m5 0h0m2 10h0m1-2h0m3-5h0m11 0h0m3 10h0m6-8h0m-13 17h0m-4-2h0m0 4h0m-1-1h0m0-4h0m-10-4h0m0 8h0m-2-1h0m0-6h0m-1 9h0m-1-7h0m-1 5h0m0-9h0m-1 3h0m0 0h0m0 4h0m-4 7h0m0-2h0m-1 1h0m-1-11h0m0 10h0m-3-4h0m-3-4h0m-1 6h0m0-1h0m0 3h0m0-8h0m-1 4h0m-1 0h0m-1-8h0m0 0h0m-1 4h0m-1 6h0m-1-5h0m-1-5h0m-2 7h0m0 0h0m-1 0h0m0 1h0m-1-8h0m0 6h0m-2 0h0m-1 6h0m0-6h0m-1-3h0m-1-1h0m-1 10h0m0-9h0m-1-1h0m0 9h0m0-10h0m-1 7h0m0-8h0m0 10h0m-1-4h0m-1 0h0m-1 4h0m0 4h0m0-3h0m-1-5h0m0-6h0m-1 4h0m0 9h0m0-2h0m0 0h0m0-3h0m-1 4h0m0-2h0m-1-8h0m-1 10h0m-2-4h0m-1 1h0m-1-7h0m0 7h0m0-4h0m0 7h0m-3-10h0m0 11h0m0-1h0m-1-5h0m0-3h0m-2-4h0m0 9h0m-1-8h0m0 3h0m0-4h0m0 4h0m-2 4h0m0 4h0m0 2h0m0-10h0m-1 0h0m-2 4h0m0-8h0m-1 6h0m0 0h0m-1-4h0m0 0h0m0 7h0m-1-2h0m-1-4h0m0 8h0m-1 0h0m-1-2h0m0-2h0m-1 4h0m0-3h0m-1 2h0m0 2h0m-1-12h0m0 12h0m0-10h0m-1 12h0m0-13h0m0 12h0m0-10h0m-1 0h0m0 3h0m-1 5h0m0 0h0m-1-4h0m0 4h0m-1 1h0m-1-12h0m0 13h0m-1-12h0m0 10h0m0 3h0m-1-5h0m0 5h0m-2-2h0m0-8h0m0 2h0m-1 3h0m0-9h0m-1 12h0m0 0h0m-1-1h0m0-8h0m0 1h0m0 0h0m-2 2h0m0 0h0m-2 2h0m0-7h0m-1 8h0m-2 4h0m0-8h0m0-3h0m0 9h0m-3-7h0m0 2h0m-1-6h0m-1 10h0m-1 2h0m0-4h0m-1 5h0m-1-5h0m-3 1h0m0-5h0m-1 0h0m-1 0h0m-2-3h0m0 1h0m-1 4h0m-1-1h0m0 1h0m0-2h0m0 8h0m0-12h0m-2 1h0m-2 0h0m0 1h0m-1 1h0m-1 11h0m-3-5h0m0-2h0m-4 0h0m-2 4h0m-1-2h0m-5 4h0m-1-7h0m0 0h0m-3-5h0m0 4h0m-1 1h0m-4 6h0m-8-11h0m-4 5h0m-5-1h0m0 10h0m18 4h0m4 7h0m0 2h0m1-4h0m3-8h0m7 7h0m2 2h0m1-2h0m2-5h0m1 7h0m0 1h0m0-9h0m3 4h0m1-3h0m2 3h0m1 1h0m0 6h0m3-2h0m1-2h0m0 2h0m1-7h0m1 5h0m1-3h0m2-6h0m1 8h0m0 4h0m0-2h0m0-8h0m0 9h0m0-5h0m1-1h0m0 4h0m0-7h0m0 5h0m2 3h0m2-5h0m0 5h0m3-7h0m0 6h0m0 1h0m1-8h0m0 8h0m2-10h0m0 3h0m0 0h0m1 10h0m1-5h0m0-5h0m1-2h0m0 9h0m1-4h0m0 4h0m2 3h0m0-5h0m0 6h0m1-1h0m1-7h0m2-2h0m2 4h0m1-3h0m0-3h0m0 5h0m1-3h0m0 9h0m1-2h0m0-8h0m0 3h0m1 2h0m0 5h0m0-4h0m0-6h0m1 0h0m0 2h0m0 1h0m1 8h0m0-8h0m0 1h0m1 3h0m0-9h0m5 3h0m0 9h0m1-4h0m0 4h0m2-11h0m1 2h0m0 4h0m2-7h0m1 6h0m1-4h0m0 7h0m0-2h0m0-6h0m1 6h0m0-4h0m1 2h0m1-1h0m0 9h0m0 0h0m0-12h0m2 12h0m2-4h0m1-7h0m1 1h0m0 6h0m2 1h0m0-11h0m1 6h0m3 2h0m0 2h0m1 3h0m2-1h0m0-7h0m0 3h0m0-4h0m2-1h0m0-1h0m2 2h0m1 9h0m0-9h0m3 1h0m0 3h0m1 4h0m1-6h0m0-6h0m0 6h0m3-1h0m2-2h0m0 6h0m0 5h0m1-10h0m2 2h0m1-3h0m4 3h0m2 2h0m1 2h0m1 0h0m1-7h0m0 9h0m7-12h0m11 5h0m4 8h0m12 6h0m-38 5h0m-1-4h0m0 1h0m-1-3h0m-4-2h0m-3 10h0m-1-5h0m-1 4h0m0-7h0m-2 10h0m-3-12h0m-1 1h0m-2-1h0m-5 9h0m0 0h0m-1-8h0m0 4h0m-1-5h0m-2 4h0m0-1h0m0 1h0m-4 2h0m0-5h0m-1 0h0m-2 3h0m0 5h0m-1 4h0m0-3h0m0-4h0m-1 1h0m0 4h0m-1-2h0m0-10h0m-1 5h0m0-1h0m-1-4h0m0 4h0m-2 9h0m-1-10h0m-2 4h0m0 3h0m-1 3h0m0-4h0m-2-3h0m0 7h0m0-9h0m0 2h0m-1-3h0m0-3h0m0 11h0m0-4h0m-1-6h0m-1 3h0m-1 8h0m-1-11h0m-1-1h0m0 9h0m-1-8h0m0 9h0m-1-5h0m-1 3h0m0-4h0m-1 7h0m-1-3h0m0-5h0m-1 9h0m0-2h0m-1 3h0m0-11h0m-1 10h0m0-6h0m0-2h0m-1-3h0m0 11h0m-1-8h0m-3-3h0m0 1h0m-1 7h0m-1 3h0m-1-6h0m0 3h0m-2-4h0m-1 4h0m-3-3h0m-1 6h0m0-5h0m0 0h0m-1 6h0m-3-4h0m0-8h0m-2 12h0m-1-8h0m-2 0h0m-1 5h0m-2-10h0m-1 0h0m-2 3h0m0-3h0m0 12h0m-1-10h0m-2 6h0m-1-8h0m-1 9h0m0-8h0m-2 9h0m0-5h0m-2 9h0m-1-3h0m-5-1h0m0-6h0m-1 6h0m-3-7h0m0 7h0m0 4h0m-1-6h0m0 5h0m-14-10h0m-2 1h0m-1 4h0m-4-5h0m-6 8h0m-6 10h0m3 0h0m9 4h0m11-7h0m5 4h0m5 2h0m2-2h0m2 7h0m5-7h0m2-1h0m2-3h0m2 9h0m1-7h0m0-1h0m4 0h0m0 0h0m0 1h0m2-3h0m1 4h0m5 7h0m0-10h0m0 1h0m5 0h0m0-3h0m2 12h0m3-1h0m1-6h0m0-4h0m7 6h0m1-7h0m1 3h0m0 6h0m0 0h0m3-4h0m0-6h0m3 9h0m2-9h0m1 14h0m3 0h0m1-14h0m0 0h0m1 9h0m1 1h0m2-3h0m1-7h0m1 1h0m1 10h0m0-3h0m3 5h0m1-5h0m4-6h0m3 6h0m2-1h0m3 1h0m2-6h0m1-1h0m0-1h0m9 14h0m7-9h0m0 7h0m3-9h0m5 9h0m4 0h0m9-9h0m39 2h0m-52 16h0m-2-4h0m-2 5h0m-1-7h0m-9 4h0m-3 6h0m-6-9h0m-3-1h0m-3 11h0m-2-4h0m-2-7h0m-1 0h0m0 8h0m-1-7h0m0 9h0m-2 2h0m-1-9h0m-2 7h0m-1-2h0m-2 0h0m-5 3h0m0-2h0m-1-1h0m-1-1h0m-2-7h0m-8 0h0m0 2h0m-3 5h0m-2 1h0m-1-4h0m-2 4h0m-1-2h0m-1-4h0m-1 0h0m-1 12h0m0-8h0m-1 5h0m-2-8h0m-2-2h0m0 0h0m-3 0h0m-3 6h0m-3-2h0m-7 0h0m-1 8h0m-3-3h0m-2-8h0m-4-1h0m-7-1h0m-2 13h0m-10-5h0m-8-2h0m-2 13h0m11-2h0m4 12h0m7-1h0m0-12h0m9 5h0m3 2h0m5-4h0m6 8h0m7-2h0m4-9h0m4 3h0m0 5h0m2-8h0m1 10h0m1-10h0m1 1h0m2-2h0m1 2h0m2 9h0m6-7h0m4 10h0m1-7h0m4 0h0m2-4h0m4 1h0m1 2h0m0 1h0m1-1h0m1-4h0m0 12h0m6-2h0m0-9h0m2 4h0m1 6h0m1-10h0m7 5h0m9-1h0m4 2h0m5 4h0m11-12h0m1 21h0m-32 7h0m-2 0h0m-6-4h0m-16-1h0m-1-9h0m-4 8h0m-3 0h0m-11 1h0m0 2h0m-13-6h0m0 3h0m-7-8h0m-4 0h0m-11 9h0m-2-6h0m-12 6h0m-18-3h0m-10 19h0m7-4h0m14 1h0m4 2h0m12-7h0m29 4h0m15-5h0m11 10h0m5-8h0m18-2h0m52 5h0m-75 16h0m-12 6h0m-27-1h0m-20-4h0m42 15h0m-51 21h0m-41-14h0m91 17h0" stroke="#000" stroke-width="6.8" stroke-linecap="round" fill="none"/><path transform="scale(.1)" d="M1498 521h0m19-3h0m33-1h0m17 21h0m-17-1h0m-3-1h0m-14 1h0m-12 2h0m-5-10h0m-9-2h0m-9 3h0m0-3h0m-6 9h0m-10 3h0m-11 0h0m-3-9h0m-22 8h0m-17 3h0m32 11h0m10-12h0m1 6h0m7 5h0m3 1h0m1-4h0m1 3h0m8 0h0m2 2h0m4-2h0m1 1h0m1-11h0m3 5h0m5-3h0m1 6h0m1 3h0m2-1h0m3 3h0m0-1h0m0-6h0m2 0h0m5 7h0m21-6h0m-2 12h0m0-5h0m-3 1h0m-7 4h0m-1 1h0m-5 5h0m-2-1h0m-1-4h0m-1-2h0m-1 3h0m0-1h0m0 7h0m-1-7h0m0-3h0m-1 8h0m-2-3h0m-2-3h0m-1 1h0m0 2h0m-2-3h0m-1 0h0m0-1h0m-1 6h0m0-9h0m-1 8h0m0-8h0m-1 12h0m-1-6h0m-1 6h0m-2-11h0m0 10h0m0-3h0m-3-6h0m-2 6h0m-1 3h0m-1-6h0m-2-4h0m-1 1h0m-1 9h0m-1-2h0m-1 3h0m0-3h0m-3-1h0m-1 5h0m-5-7h0m-1 2h0m-1 5h0m0-2h0m-3-5h0m-1-1h0m-5 6h0m0-6h0m-2 2h0m0 5h0m-7-4h0m-4 5h0m-8 12h0m6-5h0m2-4h0m0 9h0m0 3h0m0-14h0m1 14h0m6-6h0m2 6h0m3-13h0m2 5h0m0 4h0m2-8h0m0 10h0m1 0h0m2 1h0m0-8h0m0 7h0m1-12h0m0 4h0m1 10h0m0-9h0m0 2h0m3 0h0m2 5h0m0-6h0m1-1h0m0-4h0m2 11h0m1 0h0m1 0h0m1-9h0m0 11h0m0-4h0m2-7h0m0 3h0m1 8h0m1-4h0m0-4h0m0 1h0m0 1h0m1-1h0m2 4h0m0 0h0m0-2h0m1-3h0m1 8h0m0-9h0m2-1h0m0 1h0m1 3h0m0-2h0m1-5h0m0 9h0m0-1h0m0-2h0m1-2h0m1 6h0m1-6h0m2 5h0m0 0h0m1-4h0m1 4h0m2-1h0m1-7h0m1 7h0m1 1h0m2-9h0m5 12h0m0-8h0m0 9h0m1-1h0m3-7h0m4-5h0m1 8h0m0-6h0m4 2h0m3 0h0m3-5h0m1 14h0m3-12h0m0 11h0m-2 2h0m-2 3h0m-1 6h0m-1-4h0m-1 8h0m0-4h0m-4-1h0m0 3h0m-1-5h0m-1 8h0m-3-9h0m0 2h0m0-5h0m0 4h0m0 7h0m-2-4h0m-1-3h0m-2-5h0m0 4h0m-2 1h0m-1-4h0m0 10h0m-2-6h0m0-3h0m-1 5h0m0-4h0m-1 8h0m0-12h0m-3 10h0m0-6h0m-1 2h0m0 7h0m-1-9h0m-1-1h0m0 1h0m-1 6h0m0-4h0m0 8h0m0-6h0m-1 3h0m0-1h0m-1-3h0m0 3h0m-1 3h0m-1-9h0m0 10h0m-1-2h0m-1 0h0m-2-10h0m0 8h0m0-3h0m0-1h0m-1 7h0m-1-13h0m0 11h0m-1 1h0m0-9h0m-1 11h0m-1-10h0m-1-1h0m0 1h0m0-4h0m-1 7h0m0-2h0m0 9h0m-1-1h0m0-9h0m-1 7h0m-1-6h0m0 6h0m0-4h0m0 7h0m-1-8h0m0-1h0m-1 9h0m0-9h0m0 9h0m0-10h0m0 4h0m-2-6h0m-2 9h0m0-4h0m-1-6h0m0 12h0m-1-4h0m-2-6h0m-1-3h0m0 7h0m-1-1h0m-1 3h0m-1-1h0m0 6h0m0-7h0m-5 2h0m-1 1h0m-1 3h0m-1-9h0m-2 8h0m-2-1h0m-1 0h0m-2 2h0m-5-7h0m-4 7h0m-1-10h0m0 5h0m0-8h0m-12 2h0m11 13h0m7 10h0m0 0h0m2 1h0m1-9h0m2 9h0m4 2h0m2-13h0m0 5h0m2-5h0m1 8h0m1-8h0m0 4h0m0 9h0m1-1h0m0-8h0m1 6h0m0-6h0m0 10h0m0-8h0m1 6h0m0-12h0m0 13h0m1-8h0m2-1h0m1-3h0m1 2h0m1-2h0m0 13h0m0-11h0m0 1h0m1 6h0m0-9h0m1 7h0m0 2h0m1 3h0m1-5h0m0-3h0m0-3h0m1-1h0m1 12h0m0-2h0m1-3h0m0-1h0m0 5h0m0-1h0m1 2h0m0-9h0m2 8h0m0-3h0m1-2h0m0 5h0m0-4h0m1 2h0m1-9h0m0 12h0m0-13h0m1 5h0m1-3h0m2 2h0m0 8h0m0-4h0m1-6h0m1 5h0m0 4h0m0-8h0m2 4h0m0-7h0m0 4h0m1 8h0m0-2h0m1 2h0m1-4h0m1-4h0m0 5h0m1 4h0m0-11h0m3 3h0m1 8h0m0-5h0m1 3h0m1-7h0m2 9h0m0-5h0m1-3h0m1 7h0m2 0h0m1 2h0m1-7h0m1-3h0m0-3h0m0 12h0m2-9h0m1-3h0m3 4h0m0-5h0m1 2h0m0 3h0m7 0h0m5 7h0m1-9h0m5 6h0m1-9h0m6 25h0m0-5h0m-6 6h0m-2-10h0m-1 12h0m-2-13h0m-5 2h0m-5-2h0m-5 2h0m0-2h0m-3 4h0m-1-4h0m-1 5h0m0 8h0m-1-5h0m-2 5h0m0-3h0m-2 4h0m-1-4h0m-2 4h0m-1-5h0m-1 4h0m0-10h0m-1 10h0m-2 1h0m0-1h0m0 0h0m-1-2h0m0 2h0m-1-8h0m-1 7h0m0-6h0m-1 2h0m0 5h0m-3-5h0m0-1h0m0 1h0m0 6h0m0-1h0m-1-7h0m0 7h0m-1-7h0m0-6h0m-1 4h0m-1 8h0m0 0h0m-1-10h0m-3 8h0m0-10h0m-1 2h0m-1 3h0m-1 3h0m-1 2h0m0-7h0m-1 4h0m-2-2h0m0 2h0m-2-3h0m-1 6h0m0-7h0m-1-3h0m0 8h0m0-2h0m-1 5h0m0-8h0m-1 8h0m0-3h0m-1 0h0m0-8h0m-1 7h0m0-4h0m-1-2h0m0 6h0m-1 1h0m-1 2h0m0-2h0m0-8h0m-1 2h0m-1-2h0m0 1h0m-1 3h0m-1 1h0m0-2h0m-1 5h0m-1-1h0m0 7h0m-2-2h0m0-3h0m-2-3h0m-1 7h0m-1-1h0m-1-10h0m-1 4h0m-1 7h0m-2 1h0m0-11h0m0 11h0m-1-10h0m-2 7h0m-1-9h0m0-2h0m-3 11h0m-4 2h0m0-2h0m-1-2h0m-3-3h0m-12-5h0m-6-1h0m3 19h0m4 7h0m8-2h0m4-2h0m5 1h0m1-8h0m1 8h0m2 0h0m5 1h0m2 4h0m0 1h0m1-1h0m1-6h0m1 0h0m1-4h0m0 10h0m0-1h0m1-10h0m1 1h0m1 0h0m4 3h0m0 8h0m1-7h0m0 3h0m1-5h0m0 6h0m1-5h0m1 0h0m4-3h0m0 9h0m1-7h0m1-1h0m0 5h0m0 2h0m1 0h0m1-2h0m1-7h0m0 0h0m1-1h0m0 3h0m0 2h0m1 7h0m0-1h0m3-4h0m0 5h0m2-13h0m1 9h0m0 4h0m0-8h0m1 4h0m1 5h0m0-10h0m3-1h0m0-2h0m0 2h0m1-1h0m0 3h0m0 1h0m2-6h0m0 5h0m1 4h0m0 5h0m0-2h0m1 2h0m0-12h0m0 4h0m1-5h0m1 12h0m2-6h0m1 0h0m2 7h0m0-7h0m0-5h0m1 6h0m1 1h0m0-3h0m0 0h0m0 4h0m2-5h0m1 6h0m3-11h0m3 8h0m2-6h0m18 11h0m0-10h0m9-2h0m-12 18h0m0 8h0m-10 0h0m-2-12h0m-2 8h0m-1-1h0m-2 4h0m-1-6h0m-3-1h0m-1 6h0m-1-5h0m-1-2h0m-1-3h0m-5 13h0m-4-12h0m-4 2h0m-2 5h0m-3-5h0m-4-2h0m0 4h0m-1 7h0m-1-9h0m-1 11h0m-1-2h0m-1-8h0m0 8h0m0-4h0m-1 0h0m-3-3h0m0-4h0m0-1h0m-2 12h0m-1-2h0m0-9h0m-1 13h0m-2-10h0m-1-3h0m-1 4h0m-1-1h0m-1 7h0m-3-5h0m-1 8h0m0-11h0m-2 9h0m0-1h0m-1-9h0m-3-2h0m-4 9h0m-2 3h0m-1-3h0m-1 5h0m-5 0h0m-3-9h0m-1-5h0m-3 3h0m-1-1h0m-18 19h0m17 8h0m7-12h0m9 8h0m5-2h0m0-2h0m1 4h0m1 1h0m2-10h0m9 8h0m0 2h0m1-7h0m4-2h0m1 8h0m1 2h0m1-3h0m0-5h0m1 10h0m2-1h0m1-10h0m1 11h0m2 0h0m1-13h0m8 2h0m1 4h0m2-5h0m0 12h0m0 0h0m7-9h0m1 3h0m0 3h0m4-10h0m2 13h0m1-13h0m1 13h0m23-14h0m-15 20h0m-6-1h0m-11-3h0m-10 9h0m-3 3h0m-5-10h0m-7-1h0m-1 1h0m-6 2h0m-3 3h0m-6-7h0m-2 13h0m-3-13h0m0 5h0m-4-2h0m-1-4h0m-3 12h0m-30-11h0m35 16h0m36 2h0m3 10h0m2-6h0m26-8h0m-9 27h0m-8-9h0" stroke="#000" stroke-width="9.0" stroke-linecap="round" fill="none"/><path transform="scale(.1)" d="M1534 384h0m-67 6h0m28 14h0m2-8h0m9-3h0m20 10h0m2 0h0m14-10h0m24 10h0m4 14h0m-2 0h0m-19 1h0m0-2h0m-14-3h0m-1 5h0m-7-2h0m-1-1h0m0 2h0m-7 1h0m0-3h0m-5 3h0m-7-3h0m-3-3h0m-6-4h0m0 8h0m-2 0h0m-9 1h0m-3-9h0m-7 9h0m0-2h0m-2 0h0m-1 3h0m-22-8h0m-19 22h0m22-11h0m12 13h0m2-11h0m6 6h0m3-7h0m3 10h0m0-7h0m2 1h0m1-2h0m3 10h0m0 0h0m1-4h0m0 0h0m2-1h0m0 4h0m3-10h0m0 10h0m2-8h0m1 8h0m1-3h0m1 3h0m4-13h0m0 10h0m1 2h0m0 0h0m2-8h0m0 9h0m2-5h0m1-3h0m0 9h0m4-7h0m0 2h0m1-8h0m0 11h0m1-7h0m1 2h0m1-1h0m1 1h0m2 2h0m0 5h0m0 0h0m2-11h0m0 3h0m5-3h0m0 7h0m1-3h0m0-7h0m1 13h0m1-9h0m2 6h0m2 1h0m0-10h0m2-1h0m0 11h0m1-1h0m1 3h0m3-7h0m0 4h0m7-9h0m0 11h0m2-2h0m1-7h0m12 5h0m0-2h0m37 18h0m-14-7h0m-8 6h0m-3-5h0m-15 1h0m-1 2h0m-1 6h0m0-4h0m0-5h0m-2 0h0m-4 7h0m-1 0h0m-1-4h0m-1 8h0m-1-4h0m-5 2h0m-1-5h0m-2 6h0m-1-9h0m0 4h0m0-6h0m0 7h0m-1 0h0m0-4h0m0-2h0m-1-1h0m0-2h0m-1 13h0m-1-10h0m-1 1h0m-1-2h0m0 6h0m-1 2h0m-1-8h0m0 1h0m0 1h0m0 1h0m-1 6h0m0-4h0m-1 6h0m0-10h0m0 6h0m-1-4h0m0 9h0m0-1h0m0-12h0m-2 5h0m-1-4h0m0 3h0m0-3h0m-3 0h0m0 7h0m-1-1h0m-1 6h0m0-13h0m0 12h0m-1-5h0m0 4h0m-2-1h0m0-3h0m0-7h0m0 2h0m-1 8h0m-1-1h0m0-1h0m-1-8h0m0 12h0m0-4h0m-2-2h0m-2 6h0m0-4h0m-1-1h0m-1-5h0m0 9h0m-1 1h0m0 1h0m-1-6h0m-1 0h0m-1-8h0m0 3h0m-1 8h0m0 0h0m-1-10h0m0 10h0m-1 1h0m0-7h0m0 5h0m0 3h0m-1 1h0m0-4h0m-3 2h0m-2-3h0m0-3h0m-4-6h0m0 13h0m-1-7h0m0-4h0m-2 1h0m-4 11h0m-1-3h0m-1 1h0m-1-5h0m-4 4h0m-3-4h0m-2-3h0m-1 10h0m-1-13h0m0 11h0m-1 0h0m0-10h0m-1 10h0m-5-10h0m-5 8h0m-7-1h0m-1 1h0m-10-10h0m0 16h0m13 3h0m6-3h0m2-1h0m0 6h0m0-2h0m0 2h0m6 2h0m2-8h0m0 4h0m1 6h0m5-6h0m2 7h0m0-6h0m3-5h0m0 11h0m1-7h0m2 6h0m2 3h0m0-11h0m0-1h0m0 11h0m1-7h0m0-2h0m1 8h0m0 0h0m0-9h0m1 2h0m0 5h0m1 5h0m0-12h0m1 8h0m0-10h0m0 3h0m0 2h0m2 0h0m0-3h0m0 0h0m1 2h0m1 2h0m0 6h0m0-11h0m0 12h0m1 1h0m0-7h0m0-6h0m0 12h0m0-13h0m2 14h0m0-6h0m0 6h0m1-11h0m0 10h0m1-4h0m0 3h0m0-3h0m0 1h0m0 4h0m0-5h0m1-7h0m0 8h0m0-4h0m1 6h0m0 1h0m0-7h0m0-2h0m0 6h0m0-4h0m1-1h0m0 3h0m1-7h0m0 12h0m0-4h0m1-7h0m0 1h0m1 7h0m0-1h0m1-8h0m0 0h0m0 10h0m0 3h0m0-3h0m1 2h0m1-9h0m0 1h0m0 6h0m0-9h0m0 10h0m0-4h0m1-6h0m1 10h0m0 2h0m1-2h0m1-6h0m1 7h0m0-6h0m0-3h0m0-4h0m1 13h0m0-5h0m0 2h0m1 3h0m0 0h0m1-11h0m0 3h0m1 6h0m0-4h0m2 5h0m1-10h0m1-1h0m0 8h0m0-2h0m0-7h0m0 5h0m0-1h0m1 9h0m1-7h0m0 6h0m1-1h0m0-10h0m1 6h0m1 5h0m0-12h0m0 2h0m1 4h0m0 4h0m0-4h0m1-6h0m1 8h0m0-1h0m0 4h0m1-5h0m1 1h0m1-5h0m0-1h0m3 7h0m2 0h0m1 1h0m0-4h0m1 4h0m2 3h0m0-3h0m5-4h0m0 0h0m1 3h0m3 0h0m1-3h0m0 8h0m1-3h0m1 0h0m1 2h0m2-9h0m3 8h0m5-10h0m0 8h0m5-7h0m0-1h0m5 6h0m1 5h0m3-2h0m-7 5h0m-1 14h0m-5-13h0m-6 3h0m-3 9h0m0-13h0m-8 11h0m0-7h0m-3 6h0m0 0h0m-3-1h0m-1 3h0m0-6h0m-1 2h0m0 5h0m-2-11h0m-1-2h0m0 7h0m0-5h0m-2 6h0m-1-2h0m0-3h0m-1-1h0m0-2h0m-1 10h0m0 3h0m-1-9h0m0-2h0m-1 3h0m-1 0h0m-1-4h0m-1 13h0m0-6h0m0-8h0m-2 7h0m0 4h0m-1-8h0m0 0h0m0 3h0m0-1h0m0 1h0m-1-3h0m0 2h0m0-5h0m-1 9h0m0 2h0m0-7h0m0-2h0m-1 4h0m0 2h0m-1 0h0m-1-2h0m0-6h0m0 6h0m0-5h0m-1 6h0m0-2h0m0 7h0m-1 1h0m0-5h0m0 4h0m0-11h0m0 9h0m-1 3h0m0-8h0m-2 7h0m0-6h0m-1-2h0m-1 0h0m0 3h0m0 6h0m0-1h0m-1-2h0m-1-7h0m0 4h0m0 5h0m0-1h0m0-7h0m-1 7h0m0-9h0m-1 7h0m0 4h0m0-3h0m0-6h0m0 7h0m0-10h0m-1 12h0m0-13h0m0 11h0m0-4h0m0 1h0m-1 1h0m0 5h0m0-10h0m0-4h0m-1 5h0m0 5h0m0 2h0m-1-9h0m0 9h0m0-1h0m-2 0h0m0-5h0m-1 6h0m0-1h0m0-3h0m0-8h0m-1 13h0m0-13h0m0 13h0m0-6h0m0-7h0m-1 5h0m0 6h0m0 0h0m-1 3h0m0-2h0m0 2h0m-1-3h0m0-8h0m-1 0h0m0 10h0m0-4h0m0-8h0m0 1h0m-1 10h0m0-4h0m-1-8h0m0 6h0m-1-1h0m0 0h0m0-2h0m0 11h0m0-8h0m-1 7h0m0-1h0m0-5h0m0-7h0m-1 13h0m-1-13h0m0 4h0m0-4h0m0 0h0m-1 3h0m-1 11h0m0-1h0m-1-6h0m0-7h0m0 7h0m0 2h0m0-3h0m0 7h0m0-8h0m-1-2h0m-1 6h0m-1-6h0m0 11h0m0-6h0m-3-5h0m-1 4h0m-4 2h0m-1 3h0m0-9h0m-1 6h0m0 2h0m-1-7h0m0 8h0m-1-11h0m-1 6h0m0 7h0m0-8h0m-1 1h0m0 1h0m-3 3h0m-2-8h0m0 8h0m-3-7h0m-1 2h0m-1 7h0m-4-9h0m0 8h0m-2-2h0m-2-1h0m-4-3h0m-1-4h0m0 12h0m-2-1h0m-5-12h0m-23-1h0m32 22h0m1 3h0m4 4h0m1-1h0m4-9h0m4 4h0m0-8h0m2 14h0m0-12h0m1 3h0m1 5h0m0-1h0m1-7h0m1 11h0m0-10h0m2 4h0m1 3h0m0-5h0m0-1h0m0-2h0m1-1h0m1 9h0m0 4h0m0-11h0m0-2h0m0 13h0m1 0h0m0-8h0m1-5h0m1 6h0m2 5h0m0-1h0m1 1h0m0-1h0m0 0h0m0-1h0m2-10h0m0 4h0m1-4h0m2 0h0m0 3h0m0 11h0m2-2h0m0-11h0m1 8h0m0 4h0m0-11h0m0 5h0m1-3h0m1 1h0m0 8h0m1 1h0m0-14h0m1 10h0m0-7h0m1-2h0m0 6h0m2 2h0m1-2h0m0 7h0m0-13h0m0 2h0m1 3h0m0 0h0m0-3h0m0 1h0m0 9h0m1 1h0m0-6h0m1 6h0m0-11h0m0 0h0m0 8h0m1-7h0m0 8h0m0-12h0m0 3h0m1 2h0m0 3h0m0 2h0m0-4h0m0 0h0m1 7h0m0-8h0m0 4h0m0-2h0m1 3h0m0 0h0m0 2h0m0-12h0m1 12h0m0-9h0m2 2h0m0 3h0m0-8h0m0 9h0m0-8h0m0-1h0m1 3h0m1 4h0m0 1h0m0-6h0m0 1h0m0 5h0m1-3h0m0 2h0m1 4h0m0 0h0m2 2h0m0-9h0m0-4h0m0 4h0m0 3h0m1-6h0m0 12h0m1 0h0m0 0h0m1-7h0m0 4h0m1 2h0m0-7h0m0 9h0m1 0h0m0-11h0m0 10h0m1-2h0m0-10h0m0 11h0m1-6h0m0 0h0m2 3h0m1-3h0m0-5h0m1 7h0m0 0h0m1 1h0m0 0h0m1-7h0m1-2h0m2 0h0m0 14h0m1-6h0m0-2h0m0 4h0m0 1h0m0 0h0m1-9h0m0 12h0m1-8h0m0 4h0m0 3h0m2-9h0m0 4h0m2-8h0m1 0h0m1 2h0m0-1h0m2 12h0m4-4h0m1 5h0m0-10h0m1 10h0m5-7h0m0 6h0m2-11h0m1 0h0m0-1h0m0 1h0m3 5h0m2 5h0m1-4h0m8 6h0m3-4h0m3-8h0m-13 22h0m-5-8h0m-3 5h0m-2 7h0m-9-6h0m-1 4h0m0-7h0m-2 5h0m-2-9h0m-1 6h0m-2 3h0m-1-6h0m-1-1h0m-4 0h0m0 10h0m0-7h0m0-3h0m-1 11h0m-1-1h0m-1-12h0m-2 4h0m0-4h0m-1 2h0m-1 9h0m-1-2h0m-1-5h0m0 6h0m0-7h0m-3-2h0m-1 9h0m-3-10h0m-1 8h0m0-4h0m0 9h0m0-2h0m-1-2h0m0 5h0m0-4h0m-1-9h0m0 4h0m-1-1h0m0-2h0m-3-2h0m0 0h0m-2 1h0m0 8h0m-1-1h0m0 5h0m-1 1h0m-1-2h0m-1-2h0m-1-10h0m-3 10h0m0-6h0m-1 0h0m0 9h0m0-11h0m-1 0h0m-1-2h0m-1 5h0m0 3h0m0 2h0m-2 4h0m0-13h0m-1 10h0m0 0h0m0-1h0m-1-7h0m-1 2h0m-2-5h0m-2 13h0m-1 1h0m0-13h0m-1 1h0m-2 0h0m-1 2h0m0-1h0m-3 2h0m-1-2h0m-1 7h0m0-6h0m0-1h0m0 7h0m-2-3h0m-2 3h0m-1-2h0m-1-5h0m-1-3h0m-3 0h0m-5 12h0m-3-6h0m-2 2h0m-3-4h0m0 2h0m-9 19h0m15-6h0m9 7h0m5 1h0m0-12h0m7 3h0m0-3h0m9 9h0m2 0h0m2-7h0m5 10h0m2-7h0m0 0h0m0-3h0m1 8h0m2-10h0m0 6h0m0-6h0m1 3h0m1 6h0m3-3h0m0-4h0m0 9h0m2-11h0m0 7h0m1 1h0m2 0h0m0-3h0m2-2h0m2 0h0m1 1h0m1 2h0m1 1h0m1 1h0m0-7h0m2 1h0m2 0h0m0 1h0m1 2h0m2 4h0m2-5h0m1 9h0m2-6h0m2 6h0m3-4h0m11-2h0m2 6h0m22-11h0m-20 21h0m-17-4h0m-1-2h0m-4 9h0m-8-6h0m-3-3h0m-2 12h0m0-12h0m-14 6h0m-4-6h0m-2 0h0m-4 1h0m0 0h0m-1 2h0m-5-2h0m-5 0h0m-9 4h0m-18 1h0m18 20h0m18 0h0m39-6h0" stroke="#d41a20" stroke-width="8.0" stroke-linecap="round" fill="none"/><path transform="scale(.1)" d="M1573 339h0m22 19h0m-12-2h0m-30-5h0m-29 17h0m10-7h0m5 10h0m1-2h0m4 2h0m1 1h0m5-3h0m1-4h0m3-1h0m0 8h0m3 1h0m2-1h0m1 2h0m4-5h0m3-5h0m1 2h0m2-1h0m6-2h0m0 11h0m3-13h0m1 7h0m2-2h0m3 7h0m3 0h0m11-5h0m3 1h0m4 1h0m3-4h0m6 7h0m-4 14h0m-5-8h0m-5 5h0m-2-2h0m0 5h0m-3-5h0m-1-7h0m-1 10h0m0 0h0m-2 4h0m0-2h0m-1-5h0m-2 0h0m-1 3h0m0 1h0m-2-4h0m-1 7h0m-1-2h0m-5-2h0m-1 2h0m-2-7h0m-1 0h0m-1-2h0m0 1h0m-1 8h0m0-2h0m0 0h0m-1-7h0m-1 0h0m0 2h0m-1 9h0m-1-3h0m-1 2h0m-1-7h0m0 1h0m0 2h0m-1 1h0m0 3h0m-1-2h0m-2 2h0m0-7h0m-1 0h0m0-6h0m-1 13h0m-1-1h0m-1 1h0m-1-9h0m-1 0h0m-1 7h0m-1-8h0m0 0h0m0-3h0m0 5h0m-1 6h0m0-7h0m-1 2h0m-1-6h0m0 13h0m-1-7h0m0-3h0m0 8h0m-1 2h0m-1-2h0m0-3h0m-2 2h0m0-5h0m0 5h0m-1 2h0m0-4h0m0-2h0m0 4h0m-1-7h0m0 1h0m0-3h0m0 10h0m-2-11h0m-8 4h0m-2 6h0m-1 3h0m-2-4h0m-1 0h0m-1 1h0m-5 4h0m-6-3h0m-25 4h0m7 12h0m5-4h0m2 1h0m2-3h0m2 0h0m1 2h0m1 3h0m1 0h0m2-2h0m3-3h0m0 6h0m0-1h0m2 2h0m1-6h0m2-3h0m0-4h0m1 6h0m0 3h0m0-6h0m1 2h0m1 5h0m0-2h0m0-2h0m1-4h0m0 3h0m1 0h0m0 0h0m1 1h0m0-5h0m1 6h0m0 5h0m1-6h0m0-4h0m1 11h0m0-7h0m1-3h0m1 0h0m1 2h0m1 9h0m2-13h0m0 5h0m0 7h0m1-8h0m1-5h0m0 13h0m1-11h0m0 7h0m1-4h0m0 5h0m0-7h0m0 11h0m1-2h0m0-1h0m1-2h0m0-2h0m0 2h0m0 1h0m0 4h0m1-11h0m1 9h0m1-3h0m0 0h0m0 3h0m0-7h0m1 7h0m0-12h0m0 9h0m0-8h0m0 10h0m0 3h0m0-8h0m0-3h0m1 11h0m0-9h0m1 9h0m0-6h0m1-8h0m0 6h0m1 1h0m0 4h0m0-1h0m0-9h0m1 12h0m0-11h0m0 9h0m0 0h0m1 0h0m0-3h0m0-5h0m0 1h0m0 10h0m1 0h0m0-10h0m0-3h0m0 7h0m1-3h0m0 8h0m0-3h0m1-9h0m0 7h0m0 6h0m0-13h0m0-1h0m2 12h0m1-10h0m0 6h0m0-7h0m0 11h0m1-5h0m0 0h0m1-6h0m0 7h0m0 4h0m0-7h0m0 0h0m1 6h0m0 0h0m0-1h0m0-1h0m0 4h0m1-1h0m0-1h0m0 0h0m0-5h0m0-5h0m0 8h0m0-9h0m1 3h0m1 0h0m1 10h0m0-6h0m1-6h0m0 3h0m0 2h0m1 3h0m0-3h0m2-6h0m0 2h0m1 9h0m0-4h0m2 1h0m1 5h0m2-13h0m0 4h0m2-3h0m0 7h0m1 0h0m1 2h0m2 2h0m1 0h0m0-9h0m0 11h0m1-13h0m1 12h0m0-10h0m3 0h0m1 0h0m2 10h0m0-5h0m2 5h0m1-1h0m1-2h0m4-9h0m1 8h0m2 0h0m3 12h0m-18-4h0m-2 8h0m-1-7h0m0-2h0m-1 5h0m0 2h0m0-4h0m0-1h0m-2 4h0m-3-5h0m-3 1h0m-1-3h0m-1 14h0m-1-3h0m0-2h0m-1 5h0m0-14h0m-1 13h0m0-8h0m0 1h0m0-3h0m-1 3h0m0 2h0m0-5h0m0 5h0m-1 3h0m-2-9h0m0 1h0m-1 0h0m-1 4h0m0-2h0m-1 7h0m0-11h0m0 1h0m-1 2h0m-2 9h0m0-13h0m0 11h0m-1-3h0m0-5h0m0-3h0m0 13h0m0-3h0m0 2h0m0-10h0m-1-2h0m-1 12h0m0-10h0m0 7h0m0-2h0m-1 6h0m-1-9h0m0-3h0m0 7h0m-1-2h0m0 8h0m0-6h0m0-2h0m-1 6h0m0-11h0m0 13h0m0 0h0m0-6h0m0 6h0m0-14h0m-1 5h0m0 2h0m0-5h0m0 9h0m0-5h0m-1 1h0m0-5h0m0 1h0m0 2h0m0-4h0m-1 11h0m0-11h0m0 11h0m0-7h0m0 0h0m0 6h0m-1-1h0m-1-4h0m0-2h0m0 2h0m0-3h0m-1 6h0m0 3h0m-1 0h0m0-12h0m0 9h0m0 4h0m0 1h0m0-4h0m-1 3h0m0-13h0m0 0h0m-1 3h0m0 4h0m0 0h0m0-7h0m0 12h0m0 2h0m-1-14h0m0 11h0m0-1h0m-1 0h0m0-2h0m0-2h0m0 2h0m0-3h0m0 4h0m-1 2h0m0-11h0m-1 7h0m0-4h0m-1-2h0m0 8h0m-1-3h0m0-1h0m0 4h0m-1-2h0m0-7h0m0 11h0m0-9h0m0 10h0m0-3h0m0-4h0m-1 7h0m0-7h0m0-4h0m0 5h0m-1 6h0m0 0h0m0-3h0m-1 0h0m-1 3h0m0-2h0m0-5h0m-1 8h0m0-1h0m0 1h0m-1-8h0m-1-5h0m0 13h0m0 1h0m-2-6h0m0-8h0m0 6h0m-1 1h0m0 3h0m-1-2h0m0-4h0m0 7h0m0-5h0m-2-6h0m0 0h0m-2 14h0m0-7h0m0 5h0m-1-1h0m0-8h0m0 11h0m0-7h0m0 4h0m-2 2h0m0-5h0m-1 2h0m0-8h0m0 5h0m-1-7h0m-1 10h0m0-4h0m-1 3h0m-1-1h0m0 6h0m0-8h0m-1-4h0m-8 5h0m-1-7h0m-6 12h0m-3-2h0m-22-2h0m6 9h0m17-2h0m1 2h0m3 4h0m2 2h0m0-1h0m1 5h0m1-1h0m1 1h0m2-10h0m1 10h0m2-8h0m0-4h0m1 3h0m1-2h0m2 3h0m2 9h0m0-9h0m2 9h0m0-1h0m1-9h0m0 3h0m0-4h0m1 2h0m0 5h0m0-2h0m0-1h0m1 5h0m0-8h0m1 8h0m0-4h0m0 4h0m1-3h0m0-4h0m1 9h0m0-3h0m0-7h0m0 0h0m1 4h0m0 3h0m2-10h0m0 7h0m0 4h0m0 2h0m1-1h0m0-9h0m1-2h0m2 1h0m0 5h0m0-1h0m0-2h0m0 1h0m1-2h0m0 6h0m0-8h0m0 10h0m0-6h0m1 6h0m0-5h0m0 3h0m0 1h0m2-10h0m0 2h0m0 11h0m0-3h0m0-3h0m1-4h0m0 6h0m0 2h0m0-9h0m1 8h0m0-5h0m0 4h0m1-4h0m0-2h0m0 3h0m1 3h0m0-4h0m1 2h0m0 7h0m1-10h0m0 8h0m0-11h0m0 10h0m1-7h0m0-1h0m0 5h0m0-3h0m0 1h0m1-3h0m0 0h0m0 6h0m1 3h0m0-9h0m0 0h0m1 8h0m0-9h0m0 1h0m0 9h0m1-6h0m0-3h0m0-1h0m0 3h0m1-1h0m0 5h0m0 4h0m0-12h0m0 4h0m0 0h0m1-2h0m0-2h0m0 6h0m0-6h0m1 8h0m0 0h0m0-6h0m0 7h0m0-2h0m0 0h0m1 3h0m0-9h0m0-1h0m1 10h0m0-5h0m0 0h0m1 8h0m0-14h0m0 9h0m1-9h0m0 8h0m0 1h0m1-1h0m0-6h0m0-1h0m0 7h0m1-4h0m0 5h0m0-5h0m0 1h0m0-4h0m1 6h0m0-2h0m0-5h0m1 10h0m0-6h0m1 4h0m1-1h0m1 5h0m0-10h0m0 0h0m1 0h0m0 4h0m0-4h0m1 10h0m1 1h0m0-12h0m1 11h0m0-6h0m1-4h0m0 9h0m0-10h0m2 10h0m1-2h0m1-5h0m0 1h0m0 4h0m1-7h0m0 4h0m2 8h0m3-5h0m1-2h0m0 4h0m1-3h0m3-2h0m1-3h0m2-2h0m0 13h0m2-6h0m2-1h0m3 8h0m-12 8h0m-2-7h0m-2 5h0m0 1h0m-12-7h0m-2 11h0m-3-10h0m0 12h0m-1-9h0m-3 0h0m0-3h0m-1 11h0m-1-6h0m0 2h0m0 2h0m-1-10h0m0 5h0m-1 0h0m0-5h0m-1 6h0m0-6h0m0 2h0m-1 7h0m-1-1h0m-1-6h0m-1 2h0m0 5h0m0 3h0m-1-11h0m-3 9h0m0 2h0m-1-11h0m0 8h0m0 4h0m0-2h0m0-3h0m-1-1h0m0-5h0m-1 2h0m0 6h0m0-8h0m-1 9h0m-1-9h0m0 11h0m0-10h0m-1 0h0m0 6h0m0-6h0m-1 5h0m0-6h0m-1 10h0m-2 2h0m0-2h0m0-10h0m-2 4h0m0-1h0m-2-4h0m-1 2h0m0 1h0m0 5h0m0-4h0m-1-4h0m0 8h0m-2-5h0m0 2h0m-1 5h0m0 1h0m0-6h0m-2 1h0m0-5h0m0-2h0m0 0h0m-2 12h0m0-2h0m-2 1h0m0-11h0m-4 12h0m-1-6h0m-2 0h0m0-4h0m-1-2h0m-1 2h0m0 3h0m0-1h0m0 10h0m-2-14h0m-1 9h0m-1-5h0m-3 1h0m-1 8h0m0-4h0m-2-7h0m0 5h0m-10 17h0m2 3h0m1-10h0m7-1h0m2 2h0m1-3h0m0 1h0m12-1h0m1 1h0m1 0h0m0 5h0m2-1h0m1 8h0m2-6h0m0-2h0m1 8h0m0-13h0m0 10h0m3-3h0m1-6h0m3 4h0m0 2h0m1-1h0m2-4h0m0 10h0m1-3h0m0-6h0m2-3h0m2 4h0m0 4h0m1-4h0m1 2h0m3 5h0m0-9h0m2 1h0m1-3h0m2 6h0m5-1h0m1-5h0m2 9h0m0-9h0m9 4h0m2-3h0m2 14h0m-13 2h0m-8 3h0m-4-1h0m-2-3h0m-2 3h0m-8 9h0m-7-7h0m-14-2h0m-3-2h0m-7 10h0m-2-5h0m-3-2h0m-8 5h0m-8 15h0m31-10h0m22 11h0" stroke="#d41a20" stroke-width="8.0" stroke-linecap="round" fill="none"/><path transform="scale(.1)" d="M1581 339h0m-78 32h0m16 0h0m35 2h0m1-11h0m4 3h0m25 0h0m7 8h0m24-9h0m-2 21h0m-26 2h0m-14-3h0m-9-1h0m-2-4h0m-2-3h0m0 5h0m-5 7h0m-10-1h0m-10-11h0m-20 8h0m-9-3h0m-6-6h0m-23 5h0m-21 11h0m33 10h0m0-2h0m12-4h0m18 8h0m2-12h0m3 5h0m0-6h0m10 6h0m5 2h0m1-2h0m2-4h0m1-2h0m2 9h0m13 2h0m3-2h0m9 2h0m6 0h0m9-7h0m1 10h0m21-4h0m4-10h0m10 17h0m-21 11h0m-20-8h0m-5 0h0m-10 7h0m-4 2h0m-2-11h0m-2 0h0m-1-3h0m-10 5h0m-1-3h0m-6 10h0m-1-10h0m-3 6h0m-5 5h0m-2-10h0m-1-1h0m-5 10h0m0-11h0m-2 2h0m-9 5h0m-9 3h0m-14-10h0m-2 5h0m-1 1h0m-3 7h0m-6-12h0m-8 12h0m16 9h0m7 5h0m2-7h0m8-6h0m5 12h0m13-10h0m4-1h0m3 4h0m1 3h0m1 1h0m6 4h0m0-6h0m2 4h0m11-7h0m4 10h0m3-2h0m4-9h0m2 4h0m0-4h0m0 3h0m1 5h0m1-4h0m4-4h0m29 3h0m17-1h0m11 2h0m-21 11h0m-4 10h0m-34-2h0m-1-7h0m-8 1h0m0 1h0m0 6h0m-3-2h0m-3 0h0m-2 1h0m0-8h0m0-3h0m0 0h0m-2 6h0m0 3h0m-8 1h0m0-1h0m-2-7h0m-1 10h0m-4-7h0m-1 7h0m-1-9h0m-1 4h0m-9 3h0m-2 3h0m-2-11h0m-1 8h0m-2-9h0m-1 3h0m-1-3h0m0 5h0m-1 0h0m-1 6h0m-6 1h0m0 1h0m-1-5h0m-5-8h0m-4 3h0m-1 0h0m-4-3h0m-2 0h0m-13-1h0m-46 29h0m55-1h0m5-5h0m1-8h0m10 8h0m6-3h0m2 5h0m8-8h0m2 5h0m1-2h0m1 3h0m10-2h0m13 3h0m2-8h0m0 6h0m2 4h0m2-11h0m4 11h0m2-4h0m1-4h0m3 2h0m4 1h0m5 6h0m3-8h0m0 6h0m0-9h0m2 3h0m42 15h0m-33 2h0m-11 7h0m-23-12h0m-2 7h0m-2-5h0m-5 10h0m0-11h0m-3 3h0m-3 3h0m-1 6h0m-1-2h0m-2-2h0m-1 0h0m-8-8h0m0 1h0m-12 8h0m-6-5h0m-1 1h0m0-4h0m-8 7h0m-1-3h0m0-2h0m-3 7h0m-2 1h0m-11 0h0m-2-3h0m-10-1h0m-2-9h0m-1 1h0m-12 8h0m-41 20h0m56-11h0m6 9h0m8 0h0m0-11h0m1 10h0m1 3h0m17-13h0m0 12h0m6-1h0m13-9h0m12 4h0m8 4h0m6-10h0m1 4h0m1 7h0m4-7h0m18-1h0m8 0h0m-27 21h0m-10 0h0m-10-4h0m-6 7h0m-5-9h0m-7 3h0m-11 5h0m-3-2h0m-1-6h0m-6 5h0m-3-7h0m-14-2h0m-11 6h0m-9 2h0m-3-5h0m-13 3h0m-19 18h0m21 4h0m10-13h0m1 11h0m25-8h0m13-2h0m1 3h0m8-1h0m19-2h0m7-1h0m26 25h0m-42-3h0m-83 0h0m101 19h0m35-9h0m-128 15h0" stroke="#dc3038" stroke-width="6.0" stroke-linecap="round" fill="none"/></g><polygon points="149,22.5 166.8,27.8 170.3,45.5 153.4,50.3 137.7,47.3" fill="none" stroke="#c0303a" stroke-width="0.55"/><rect x="114" y="5.4" width="70.8" height="71.6" fill="none" stroke="#333" stroke-width="0.7"/><text x="148" y="19.5" font-size="3.2" text-anchor="middle" fill="#c0303a" stroke="#c0303a" stroke-width="0.11">P2(49.66%)</text><text x="110.2" y="9.5" font-size="3.1" text-anchor="middle" fill="#2a2a2a" transform="rotate(-90 110.2 9.5)" stroke="#2a2a2a" stroke-width="0.11">10⁵</text><text x="110.2" y="21.5" font-size="3.1" text-anchor="middle" fill="#2a2a2a" transform="rotate(-90 110.2 21.5)" stroke="#2a2a2a" stroke-width="0.11">10⁴</text><text x="110.2" y="33.5" font-size="3.1" text-anchor="middle" fill="#2a2a2a" transform="rotate(-90 110.2 33.5)" stroke="#2a2a2a" stroke-width="0.11">10³</text><text x="110.2" y="45.5" font-size="3.1" text-anchor="middle" fill="#2a2a2a" transform="rotate(-90 110.2 45.5)" stroke="#2a2a2a" stroke-width="0.11">10²</text><text x="110.2" y="57" font-size="3.1" text-anchor="middle" fill="#2a2a2a" transform="rotate(-90 110.2 57)" stroke="#2a2a2a" stroke-width="0.11">0</text><text x="110.2" y="69" font-size="3.1" text-anchor="middle" fill="#2a2a2a" transform="rotate(-90 110.2 69)" stroke="#2a2a2a" stroke-width="0.11">-10²</text><text x="104" y="41" font-size="3" text-anchor="middle" fill="#2a2a2a" transform="rotate(-90 104 41)" stroke="#2a2a2a" stroke-width="0.11">CD38 PE-A</text><text x="114" y="81.5" font-size="3.1" text-anchor="middle" fill="#2a2a2a" stroke="#2a2a2a" stroke-width="0.11">0</text><text x="131" y="81.5" font-size="3.1" text-anchor="middle" fill="#2a2a2a" stroke="#2a2a2a" stroke-width="0.11">10²</text><text x="143" y="81.5" font-size="3.1" text-anchor="middle" fill="#2a2a2a" stroke="#2a2a2a" stroke-width="0.11">10³</text><text x="155" y="81.5" font-size="3.1" text-anchor="middle" fill="#2a2a2a" stroke="#2a2a2a" stroke-width="0.11">10⁴</text><text x="167" y="81.5" font-size="3.1" text-anchor="middle" fill="#2a2a2a" stroke="#2a2a2a" stroke-width="0.11">10⁵</text><text x="179" y="81.5" font-size="3.1" text-anchor="middle" fill="#2a2a2a" stroke="#2a2a2a" stroke-width="0.11">10⁶</text><text x="149.4" y="87.4" font-size="3.3" text-anchor="middle" fill="#2a2a2a" stroke="#2a2a2a" stroke-width="0.12">CD138 FITC-A</text><line x1="113.1" y1="5.4" x2="114" y2="5.4" stroke="#555" stroke-width="0.35"/><line x1="114" y1="77" x2="114" y2="77.9" stroke="#555" stroke-width="0.35"/><line x1="113.1" y1="8.81" x2="114" y2="8.81" stroke="#555" stroke-width="0.35"/><line x1="117.37" y1="77" x2="117.37" y2="77.9" stroke="#555" stroke-width="0.35"/><line x1="113.1" y1="12.22" x2="114" y2="12.22" stroke="#555" stroke-width="0.35"/><line x1="120.74" y1="77" x2="120.74" y2="77.9" stroke="#555" stroke-width="0.35"/><line x1="113.1" y1="15.63" x2="114" y2="15.63" stroke="#555" stroke-width="0.35"/><line x1="124.11" y1="77" x2="124.11" y2="77.9" stroke="#555" stroke-width="0.35"/><line x1="113.1" y1="19.04" x2="114" y2="19.04" stroke="#555" stroke-width="0.35"/><line x1="127.49" y1="77" x2="127.49" y2="77.9" stroke="#555" stroke-width="0.35"/><line x1="113.1" y1="22.45" x2="114" y2="22.45" stroke="#555" stroke-width="0.35"/><line x1="130.86" y1="77" x2="130.86" y2="77.9" stroke="#555" stroke-width="0.35"/><line x1="113.1" y1="25.86" x2="114" y2="25.86" stroke="#555" stroke-width="0.35"/><line x1="134.23" y1="77" x2="134.23" y2="77.9" stroke="#555" stroke-width="0.35"/><line x1="113.1" y1="29.27" x2="114" y2="29.27" stroke="#555" stroke-width="0.35"/><line x1="137.6" y1="77" x2="137.6" y2="77.9" stroke="#555" stroke-width="0.35"/><line x1="113.1" y1="32.68" x2="114" y2="32.68" stroke="#555" stroke-width="0.35"/><line x1="140.97" y1="77" x2="140.97" y2="77.9" stroke="#555" stroke-width="0.35"/><line x1="113.1" y1="36.09" x2="114" y2="36.09" stroke="#555" stroke-width="0.35"/><line x1="144.34" y1="77" x2="144.34" y2="77.9" stroke="#555" stroke-width="0.35"/><line x1="113.1" y1="39.5" x2="114" y2="39.5" stroke="#555" stroke-width="0.35"/><line x1="147.71" y1="77" x2="147.71" y2="77.9" stroke="#555" stroke-width="0.35"/><line x1="113.1" y1="42.9" x2="114" y2="42.9" stroke="#555" stroke-width="0.35"/><line x1="151.09" y1="77" x2="151.09" y2="77.9" stroke="#555" stroke-width="0.35"/><line x1="113.1" y1="46.31" x2="114" y2="46.31" stroke="#555" stroke-width="0.35"/><line x1="154.46" y1="77" x2="154.46" y2="77.9" stroke="#555" stroke-width="0.35"/><line x1="113.1" y1="49.72" x2="114" y2="49.72" stroke="#555" stroke-width="0.35"/><line x1="157.83" y1="77" x2="157.83" y2="77.9" stroke="#555" stroke-width="0.35"/><line x1="113.1" y1="53.13" x2="114" y2="53.13" stroke="#555" stroke-width="0.35"/><line x1="161.2" y1="77" x2="161.2" y2="77.9" stroke="#555" stroke-width="0.35"/><line x1="113.1" y1="56.54" x2="114" y2="56.54" stroke="#555" stroke-width="0.35"/><line x1="164.57" y1="77" x2="164.57" y2="77.9" stroke="#555" stroke-width="0.35"/><line x1="113.1" y1="59.95" x2="114" y2="59.95" stroke="#555" stroke-width="0.35"/><line x1="167.94" y1="77" x2="167.94" y2="77.9" stroke="#555" stroke-width="0.35"/><line x1="113.1" y1="63.36" x2="114" y2="63.36" stroke="#555" stroke-width="0.35"/><line x1="171.31" y1="77" x2="171.31" y2="77.9" stroke="#555" stroke-width="0.35"/><line x1="113.1" y1="66.77" x2="114" y2="66.77" stroke="#555" stroke-width="0.35"/><line x1="174.69" y1="77" x2="174.69" y2="77.9" stroke="#555" stroke-width="0.35"/><line x1="113.1" y1="70.18" x2="114" y2="70.18" stroke="#555" stroke-width="0.35"/><line x1="178.06" y1="77" x2="178.06" y2="77.9" stroke="#555" stroke-width="0.35"/><line x1="113.1" y1="73.59" x2="114" y2="73.59" stroke="#555" stroke-width="0.35"/><line x1="181.43" y1="77" x2="181.43" y2="77.9" stroke="#555" stroke-width="0.35"/><line x1="113.1" y1="77" x2="114" y2="77" stroke="#555" stroke-width="0.35"/><line x1="184.8" y1="77" x2="184.8" y2="77.9" stroke="#555" stroke-width="0.35"/><g clip-path="url(#c3)"><path transform="scale(.1)" d="M2387 452h0m35 35h0m-166 29h0m51 3h0m100 5h0m10 0h0m81 1h0m-12 6h0m-41 4h0m-19 4h0m-4-2h0m-2-4h0m-32-1h0m-21-6h0m-23 6h0m-102 1h0m63 8h0m21 11h0m41 0h0m32-9h0m25 11h0m16-2h0m94-3h0m5 1h0m-19 14h0m-29-3h0m-2 6h0m-32-10h0m-2 8h0m-30 1h0m-18-4h0m-7 7h0m-22 0h0m-66-13h0m-22-1h0m-1 28h0m3-8h0m22 3h0m10 1h0m9-4h0m2 5h0m12-6h0m2 1h0m5 4h0m6 3h0m1-11h0m2 7h0m4-5h0m23 9h0m8-3h0m1-7h0m7 5h0m25-5h0m11 3h0m8 9h0m19-13h0m5 5h0m0 6h0m-2 6h0m-4 11h0m0-6h0m-3-3h0m-7 6h0m-12-9h0m-13 2h0m-5 6h0m-2 0h0m-8-6h0m-10 4h0m-16 6h0m-1-4h0m0 2h0m-2-6h0m-1-4h0m0 12h0m-1-8h0m-4 7h0m-1-2h0m-9 1h0m0-1h0m-2-3h0m-43-2h0m-3 4h0m-1-7h0m-5 4h0m-8-3h0m-2 7h0m-1-10h0m0 3h0m-12 3h0m-22-5h0m-3 12h0m-14-12h0m28 27h0m12-11h0m1 5h0m8 4h0m7-6h0m12-6h0m5 0h0m5 13h0m14-11h0m10 2h0m1-4h0m2 14h0m3-2h0m2-5h0m4 5h0m3-6h0m12-3h0m1 6h0m9-6h0m7 2h0m4 6h0m6-6h0m15 2h0m3 7h0m13-6h0m10 2h0m4-3h0m22-1h0m10 6h0m-15 9h0m-7 3h0m-7 1h0m-1-3h0m-4-3h0m-2 5h0m-4 4h0m-11-10h0m-1 5h0m-3 3h0m-13 3h0m0-3h0m-1-2h0m-4-3h0m-5 2h0m-19 5h0m0-1h0m-1-10h0m-3 6h0m-3 5h0m-8-5h0m-2 4h0m-2-5h0m-3 5h0m-3-8h0m-6-2h0m-1 6h0m-4-6h0m-2 3h0m-1-4h0m-7 6h0m0 0h0m-11 7h0m-6-5h0m-4-4h0m-6 1h0m-1 3h0m-3 0h0m-4 3h0m-1 2h0m-1-4h0m-14-8h0m-4 10h0m-58-5h0m32 10h0m32 2h0m1 7h0m9 2h0m7 0h0m10-12h0m8 10h0m2-8h0m0 8h0m9-3h0m0 4h0m4 1h0m7-11h0m2 4h0m6-5h0m1 0h0m2 12h0m10-5h0m5 0h0m0 2h0m1-4h0m0-4h0m1 2h0m1-4h0m1 11h0m0-4h0m2 6h0m0-8h0m4-2h0m1 8h0m3 1h0m3-9h0m2 6h0m1-3h0m3-1h0m2 0h0m2 1h0m1-6h0m1 8h0m1-8h0m4 9h0m12-4h0m3 3h0m1-8h0m5 12h0m1-3h0m2 4h0m8 0h0m2 0h0m0-1h0m1-3h0m0 0h0m5-3h0m3-3h0m5 4h0m14-2h0m4 9h0m9-13h0m25-1h0m22 6h0m18-5h0m-57 15h0m-27 1h0m-5 2h0m0 5h0m-23-4h0m-5 9h0m-1-11h0m-4-2h0m-10 9h0m-1-8h0m-9 6h0m0-2h0m0 6h0m-9 2h0m-1-3h0m-2-6h0m-4-2h0m-2 11h0m-3-12h0m0 11h0m-9-6h0m-6-4h0m-4 7h0m-8-1h0m-14-5h0m-3 10h0m-3-11h0m0 2h0m0 1h0m-14-3h0m-3-1h0m-4 1h0m-7 1h0m-1 6h0m-86-2h0m10 18h0m22 2h0m28-6h0m12-6h0m15 0h0m8 12h0m12-2h0m6-10h0m3 4h0m10 1h0m5-1h0m6 9h0m3-14h0m3 11h0m1 1h0m4-2h0m0 0h0m7 0h0m1-2h0m5 4h0m5-5h0m6 0h0m3 1h0m6-7h0m0 8h0m2-7h0m6 11h0m0-12h0m1 1h0m5 2h0m3 1h0m1 0h0m3 7h0m4 0h0m0-1h0m1-11h0m0 8h0m2-3h0m3-4h0m7 9h0m2-7h0m5 7h0m0-10h0m15 12h0m13-3h0m3 5h0m4-7h0m6 1h0m11-6h0m12 10h0m0-7h0m64 0h0m-81 11h0m-19 2h0m-13 7h0m-3-10h0m-6 7h0m-14-6h0m-1 6h0m-19 1h0m-8-5h0m-1 4h0m-4 4h0m-4-11h0m-20 13h0m-9-1h0m-2-11h0m-2 5h0m-1 6h0m-8-12h0m-14 8h0m-11-4h0m-4 0h0m-4 8h0m-2-8h0m-1 10h0m-5-2h0m-13-5h0m-6 4h0m-14-3h0m-55-6h0m-28 5h0m60 9h0m35 0h0m40 4h0m6 6h0m7-2h0m10-7h0m0 9h0m23-2h0m0-1h0m12 5h0m4-6h0m7 4h0m4-8h0m42-1h0m94 5h0m-90 15h0m-23-4h0m-28 6h0m-10 0h0m-32-9h0m-14 8h0m0 2h0m-11-2h0m-5 6h0m-10-13h0m-2 10h0m-30-8h0m-2 2h0m-10 20h0m15-9h0m16 4h0m38 0h0m13 0h0m28-5h0m1 0h0m65 12h0m6-5h0m51 10h0m-34 7h0m-39 1h0m-2-8h0m-16 0h0m-48 11h0m-31-11h0m-98 11h0m38 4h0m18-1h0m20 0h0m137 9h0m26-4h0m-40 19h0m-135-10h0m-30 4h0m104 12h0m8 18h0m-42-2h0" stroke="#d83038" stroke-width="6.0" stroke-linecap="round" fill="none"/><path transform="scale(.1)" d="M2345 520h0m36 4h0m57-2h0m0 6h0m-24 3h0m-40 8h0m-54 12h0m20-4h0m18-6h0m9 5h0m24 2h0m3-8h0m1 9h0m3 2h0m5-9h0m18 9h0m8 1h0m27-12h0m39 17h0m-23 7h0m-36 5h0m-14-8h0m-10-5h0m-1 1h0m-8 12h0m-5-3h0m-2 3h0m0-4h0m-7-3h0m-10-6h0m-3 4h0m0-5h0m-1 9h0m-3-5h0m-15 7h0m-9-4h0m-3 1h0m-1 3h0m-1 3h0m-7-1h0m-1 0h0m-1-5h0m-3-2h0m-23 5h0m-17 10h0m4-3h0m8 4h0m14-6h0m1 5h0m1 7h0m8-12h0m10 2h0m2 11h0m4-13h0m6 8h0m7 5h0m0-3h0m1-10h0m1-1h0m2 13h0m1 0h0m1-2h0m3 0h0m1 3h0m1-10h0m0 2h0m3 7h0m0 0h0m0-1h0m2-10h0m1 5h0m10 4h0m0-3h0m1-1h0m1 5h0m0 1h0m1-9h0m1 1h0m0 0h0m3 6h0m1-2h0m1-2h0m1 3h0m1-1h0m3 2h0m2 2h0m4 0h0m3-3h0m2-8h0m0 10h0m4 2h0m2-14h0m4 7h0m3 4h0m3-1h0m2 3h0m20-3h0m1 2h0m7 1h0m1-9h0m45 21h0m-7 0h0m0-7h0m-23 5h0m-21-6h0m-2 4h0m-5 3h0m0-8h0m-2 4h0m0 0h0m-2-4h0m-3 3h0m-3-1h0m-1 8h0m-4-3h0m-1-6h0m-4 10h0m-2 0h0m-2-7h0m-1 8h0m-3-9h0m0-1h0m-1 5h0m0 4h0m0-3h0m-3 4h0m-1-10h0m0 9h0m-1-11h0m-3 6h0m0 5h0m-1-4h0m-2-1h0m0-7h0m-1 0h0m-3 6h0m0 7h0m0-2h0m0-9h0m-1-1h0m-3 7h0m-4 3h0m0-9h0m-1 2h0m-2 3h0m0-7h0m0 14h0m0-5h0m-2 5h0m0-10h0m0 7h0m0 2h0m-1-11h0m-1 0h0m-1-2h0m-2 1h0m0 9h0m0 1h0m0-11h0m0 9h0m-1 3h0m0-10h0m-2 0h0m0 10h0m-1-8h0m0-3h0m-2 11h0m0 0h0m0-8h0m-1 10h0m-2-1h0m-2 1h0m-1-9h0m-1 2h0m0-2h0m-1-3h0m-1 10h0m0-5h0m-2 3h0m-1-9h0m-2 12h0m-1-13h0m-1 1h0m-1 11h0m-1-1h0m-4 3h0m-1-9h0m-1 9h0m-3-12h0m0 2h0m-3 3h0m-3 5h0m-1-6h0m0-6h0m-1 9h0m-1 2h0m-2 2h0m-6-7h0m-2-5h0m-7 10h0m-5-7h0m-2-4h0m0 4h0m-4 3h0m-3 2h0m-2-8h0m-2 10h0m-15-1h0m-22 14h0m19 0h0m6-1h0m18 3h0m4-2h0m1-4h0m0 2h0m1-3h0m0 8h0m3 2h0m0-5h0m2-6h0m2 8h0m3 2h0m0-1h0m0-7h0m1 0h0m1 5h0m1-9h0m1-1h0m2 10h0m0-6h0m1 10h0m0-5h0m1-9h0m1 6h0m1-4h0m3 3h0m0 7h0m0-1h0m2-7h0m0 5h0m1 1h0m2 2h0m1-6h0m1 5h0m0 2h0m1-10h0m0 11h0m0-13h0m0 12h0m1-5h0m0 6h0m2-14h0m1 11h0m0-3h0m0-6h0m1 4h0m1 0h0m0-3h0m1 11h0m1-11h0m1-2h0m2 3h0m0 10h0m0-14h0m0 10h0m1 1h0m1-8h0m0 11h0m0-2h0m1-3h0m0 3h0m1-8h0m0 8h0m0-5h0m1 2h0m2 1h0m1-5h0m0 8h0m1-10h0m3 9h0m1 2h0m0-14h0m1 6h0m1-5h0m1 8h0m1-7h0m0 1h0m1 7h0m1 1h0m2-4h0m0 7h0m0-12h0m1 6h0m0-7h0m1 6h0m1 4h0m0 2h0m3-5h0m1 3h0m1-4h0m1 5h0m1 1h0m1-10h0m1 3h0m1-2h0m0 0h0m0 9h0m0-6h0m1 7h0m0 0h0m0-2h0m1-11h0m0 7h0m1-8h0m0 4h0m2 10h0m0-5h0m0-9h0m1 1h0m0 13h0m0-6h0m1 0h0m1-3h0m0 4h0m1 3h0m1-8h0m1-1h0m1 10h0m0-5h0m0 2h0m1 0h0m2-5h0m1-4h0m3 0h0m1 12h0m2 1h0m1-4h0m1-7h0m1 11h0m0-4h0m3 0h0m1-6h0m0 2h0m0 7h0m3-8h0m1 9h0m3 0h0m0-6h0m0 0h0m0-6h0m0 11h0m1-4h0m2 4h0m1-2h0m0-3h0m6-8h0m9 12h0m0 2h0m9-2h0m9-12h0m0 13h0m6 1h0m10-14h0m3 11h0m45 7h0m-60-1h0m-1 9h0m-2-10h0m-3 12h0m0-7h0m-2-6h0m-1 5h0m-1 1h0m-1 1h0m-5-1h0m-3-4h0m-3 5h0m-3 7h0m0-12h0m0 5h0m-1 5h0m-1 1h0m0-3h0m0-6h0m-3 2h0m0 6h0m-4-12h0m-1 6h0m0-6h0m-1 14h0m-1-9h0m-1 7h0m0-10h0m0 4h0m-3 7h0m0-5h0m0-1h0m-1-5h0m-1 12h0m0-5h0m0-5h0m-1 6h0m-1-1h0m-1 4h0m0-2h0m-2-7h0m0 8h0m0-1h0m0-6h0m-2 5h0m0-2h0m0 3h0m0-6h0m0-4h0m-1 1h0m-1 4h0m-1 1h0m-1 1h0m-1-1h0m0 7h0m-1-1h0m0-2h0m0-2h0m-1-2h0m0-6h0m0 4h0m0-5h0m0 8h0m-1 5h0m0-6h0m0 2h0m0-6h0m0 4h0m-1-7h0m-1 12h0m-1-11h0m0 5h0m0-2h0m0 8h0m-1-1h0m0 0h0m-1-3h0m0 6h0m0-2h0m-1-2h0m-1-10h0m0 1h0m-1 6h0m0 7h0m0-7h0m0-1h0m-1 5h0m-2-8h0m0 1h0m0 4h0m-1-8h0m-1 11h0m0-3h0m0 5h0m-1-5h0m0-5h0m0-2h0m-1 12h0m-1 0h0m0-8h0m0 7h0m-3 0h0m-1-10h0m0 8h0m0 3h0m-1-3h0m-1-10h0m0 6h0m0 1h0m0-6h0m0 9h0m-1 4h0m-1-12h0m-1-2h0m0 7h0m0 3h0m-1 3h0m0-9h0m0 4h0m0-4h0m0 0h0m0 6h0m-1-3h0m0 7h0m0-7h0m0-1h0m0-6h0m0 4h0m-1 9h0m-1-2h0m0-9h0m0 5h0m-1 7h0m0-2h0m0-5h0m-2-6h0m-1 11h0m-1-8h0m0 4h0m0 6h0m0-11h0m-1 11h0m0-12h0m-1-2h0m0 13h0m-1-6h0m0-6h0m0 5h0m0-6h0m-1 10h0m0-9h0m-1 8h0m0-4h0m0 0h0m-1 8h0m-1-13h0m0 4h0m-1 2h0m0 6h0m0 1h0m0-4h0m-1 5h0m0-8h0m-2 3h0m0-3h0m0-4h0m-1 11h0m-1-9h0m-1-3h0m0-1h0m0 13h0m0-1h0m-2-7h0m0 0h0m0 2h0m-2 6h0m0-10h0m0 2h0m0 1h0m0 5h0m0 2h0m0-2h0m-2-8h0m0 5h0m0-1h0m0 5h0m-2-1h0m0 3h0m0-10h0m0 9h0m-1-11h0m0 6h0m-1-5h0m0-1h0m-1 8h0m0 0h0m-1-10h0m0 6h0m-2 2h0m0 6h0m0-10h0m0 7h0m-1-5h0m0-2h0m0 6h0m0 4h0m-2-9h0m0 6h0m0 3h0m0-6h0m-1-7h0m-1 8h0m0-9h0m0 12h0m0-11h0m-2 6h0m-1-3h0m0 4h0m-2-1h0m0-1h0m-1 1h0m0-1h0m-1-5h0m0 6h0m0 7h0m0-1h0m-1-4h0m0-6h0m0 4h0m-1 0h0m0-1h0m-1 8h0m-1-13h0m0 13h0m-1-10h0m0 10h0m-1 0h0m0-2h0m0 1h0m-1-11h0m-1 9h0m0 2h0m-2 1h0m-2-3h0m-1-3h0m-2-1h0m0-6h0m-1 2h0m-1 8h0m-2-7h0m-3 8h0m0-8h0m-3-2h0m-3-2h0m-1 10h0m-1 2h0m-1 2h0m-1-8h0m-1-1h0m-1-5h0m-1 13h0m-3-6h0m-5-1h0m-3 6h0m-2-9h0m-5 10h0m-13-7h0m-2-4h0m-23 5h0m18 19h0m5-1h0m5 2h0m1 1h0m2-1h0m2 2h0m5-7h0m5 1h0m2 3h0m4-7h0m3 0h0m0 0h0m0 8h0m2-12h0m1 12h0m3-3h0m1-6h0m2-2h0m0 0h0m0 5h0m1 2h0m0-7h0m1 3h0m0-1h0m0-1h0m0 6h0m1 4h0m2-5h0m0-7h0m2 9h0m0-2h0m1-1h0m0 5h0m1-2h0m1 1h0m3 4h0m0-13h0m1 0h0m0 4h0m1-5h0m1 11h0m0-1h0m0-6h0m1-1h0m2 10h0m0-7h0m2-6h0m2 5h0m4-1h0m3 2h0m0 0h0m1 5h0m1-9h0m0 0h0m0-1h0m0-1h0m1 7h0m1-4h0m0 2h0m1-3h0m0 4h0m0 1h0m0 3h0m1-5h0m1 2h0m1 0h0m1 0h0m0 1h0m0 0h0m0 6h0m1-6h0m0-7h0m0 1h0m1 3h0m0 0h0m0 8h0m1-7h0m0 2h0m0-8h0m0 0h0m0 5h0m1-3h0m1 3h0m1 8h0m0-8h0m2 9h0m0-5h0m0-1h0m0-5h0m0 5h0m1 5h0m0-2h0m1 3h0m0-13h0m0 0h0m1 1h0m0 9h0m0-8h0m0 2h0m1 0h0m1-5h0m1 1h0m0 0h0m0 10h0m0-9h0m1-2h0m0 10h0m0 2h0m1-6h0m0 7h0m0-10h0m0 5h0m2 4h0m1-6h0m0-1h0m0 8h0m2-11h0m0 3h0m1-2h0m0 0h0m0 6h0m0-1h0m0-3h0m1-1h0m0 10h0m0-5h0m1 5h0m0-13h0m0 0h0m1 9h0m1 0h0m0 4h0m1-13h0m0 6h0m0 3h0m1-5h0m0 1h0m0-3h0m2-2h0m0 0h0m0 10h0m0-1h0m0-6h0m0 1h0m0 1h0m1 8h0m1-8h0m0 5h0m0-9h0m0 10h0m1-3h0m0-4h0m1 8h0m0-4h0m0-4h0m0 5h0m0-10h0m1 3h0m0 2h0m1 4h0m0-8h0m0 10h0m0 1h0m1-12h0m1 8h0m1-5h0m0 0h0m0 0h0m0 4h0m1 2h0m0 3h0m1-8h0m0 9h0m0-12h0m1 5h0m1-1h0m0-2h0m0 9h0m1 1h0m1-13h0m0 9h0m0-8h0m0 2h0m0 7h0m0-10h0m0 9h0m0 0h0m1-1h0m0 6h0m1-9h0m0 3h0m0-6h0m1 4h0m0-3h0m1-2h0m1 7h0m0 2h0m0-8h0m0 12h0m1-3h0m1-4h0m0 7h0m0-3h0m1-3h0m0-4h0m0-2h0m1 3h0m0 2h0m0-5h0m0 7h0m0-1h0m0-1h0m0-7h0m1 8h0m0-6h0m2 7h0m0-4h0m0 6h0m1-11h0m0 2h0m1 5h0m0-2h0m0-5h0m2 3h0m0 9h0m0-9h0m1-3h0m1 5h0m0 9h0m1-5h0m0 5h0m0-13h0m0 1h0m0-1h0m0 11h0m1-5h0m0 6h0m0-10h0m1 10h0m0 0h0m0-5h0m1 0h0m1 1h0m0 4h0m0-5h0m0 6h0m1-3h0m1-1h0m0 0h0m0 1h0m1 1h0m0-12h0m1 6h0m0 5h0m0 0h0m2-1h0m0 3h0m0-2h0m0-4h0m0 2h0m0-6h0m1 5h0m1-7h0m0 4h0m0-5h0m1 2h0m0 11h0m1-12h0m1 12h0m0-9h0m1-4h0m2 8h0m0 2h0m0-10h0m0 2h0m0-2h0m0 10h0m1-7h0m1 11h0m1 0h0m1-14h0m0 4h0m1 2h0m1 7h0m1-5h0m0 6h0m0 0h0m2-7h0m0 3h0m0 3h0m1-2h0m3-10h0m1 10h0m1 0h0m1-1h0m1-2h0m1-1h0m1 3h0m0-6h0m1 4h0m2-1h0m0 6h0m0-4h0m1-4h0m1-5h0m1 11h0m8 1h0m3-4h0m4 2h0m2-10h0m3 7h0m3 3h0m5-10h0m7 1h0m13-1h0m45 7h0m-43 9h0m-7 3h0m-13-3h0m-9 4h0m-4 5h0m-1-4h0m-1-1h0m-8 5h0m-2-3h0m-1 2h0m-1-5h0m0-4h0m0 8h0m-2-1h0m-3 2h0m-4-7h0m-1 7h0m0 4h0m0 1h0m-1-14h0m-2 14h0m-1-10h0m-2-3h0m-1 1h0m-2 1h0m0 8h0m-1-1h0m0-10h0m0 8h0m-1-4h0m-1 4h0m0-2h0m-1-5h0m0 3h0m-1-3h0m-1 6h0m0 0h0m0 7h0m-1-9h0m-1-1h0m-1 2h0m0 6h0m0-8h0m-1 3h0m0-7h0m0 6h0m-1 2h0m0-8h0m-3 13h0m0-9h0m-2-3h0m0 4h0m0 5h0m-1-2h0m0-1h0m-1-1h0m0 3h0m-2 1h0m0 4h0m0-13h0m-1 4h0m0 3h0m-1-6h0m0 11h0m0-6h0m-1-6h0m0 3h0m-1-1h0m0 11h0m0-2h0m0-2h0m0-9h0m-3 12h0m0 1h0m0-6h0m0 4h0m0-1h0m0-8h0m0 2h0m0-1h0m-1 2h0m0-6h0m-1 8h0m0 1h0m0 0h0m-1 3h0m-1-2h0m0-10h0m0 6h0m0 5h0m0-1h0m-1-5h0m0-3h0m0 4h0m0-2h0m-1-4h0m0 12h0m0-10h0m-1 3h0m-1 8h0m0 1h0m0-3h0m0-9h0m-1-2h0m0 1h0m0 1h0m0 1h0m0 1h0m0 2h0m-1 8h0m0-13h0m0 6h0m0 2h0m0 4h0m-1-7h0m0 0h0m0 3h0m0-3h0m0-1h0m-1-1h0m0 2h0m-1 5h0m0-3h0m0-7h0m0-1h0m-1 0h0m0 13h0m0 0h0m0-4h0m-1 0h0m0-6h0m-1 10h0m0-12h0m-1 10h0m0-10h0m-1 7h0m0 0h0m0 6h0m0-5h0m-1-9h0m0 13h0m-1-3h0m0-3h0m-1-1h0m0 4h0m0-3h0m0 1h0m0 5h0m-1-13h0m0 8h0m0-1h0m-1-7h0m0 9h0m0-1h0m0-6h0m-1 12h0m0-10h0m0 3h0m0 6h0m0-6h0m-1-5h0m0 8h0m0-3h0m0 1h0m0-3h0m-1 7h0m0-4h0m0-5h0m0 2h0m0-1h0m0-1h0m0 2h0m-1 7h0m0-1h0m0-6h0m0 4h0m0 1h0m0 0h0m-1-7h0m0 2h0m0 4h0m-1-4h0m0 0h0m0-5h0m0 14h0m-1 0h0m0 0h0m0-9h0m0-5h0m-1 1h0m0 5h0m0-4h0m-1 3h0m0-1h0m0-1h0m-1 5h0m0-4h0m0 6h0m0 3h0m-1-6h0m0 3h0m0-1h0m0 1h0m-1-5h0m0 2h0m0 5h0m-1-8h0m0-4h0m0 3h0m0-3h0m0 9h0m-1-1h0m-1 2h0m0-4h0m0 2h0m-3 1h0m0 4h0m0-4h0m-1 2h0m0-7h0m0-1h0m-1-1h0m0 6h0m0-2h0m0 2h0m-1-5h0m0 9h0m0-5h0m-2-1h0m-1 5h0m0-5h0m0 3h0m0 2h0m-1-8h0m0-1h0m-1 4h0m0 2h0m-1-5h0m0 10h0m0-4h0m0 1h0m0-5h0m0 3h0m-1-3h0m0 2h0m0-2h0m0-4h0m-1 13h0m0-4h0m0-8h0m0 12h0m-1-1h0m-1-3h0m0-9h0m0 3h0m-1-3h0m0 9h0m0 2h0m-1 2h0m0-12h0m0 6h0m0 6h0m0-13h0m0 5h0m-1-3h0m0-3h0m0 14h0m0-11h0m0-1h0m-1 1h0m0 2h0m-1 7h0m0 1h0m0-2h0m0-3h0m0 5h0m-1-12h0m0 1h0m0 1h0m0 4h0m-1-6h0m0 6h0m0 4h0m-1-11h0m0 8h0m-2-6h0m0 6h0m0-2h0m-1-4h0m0 2h0m-1 9h0m0-3h0m0 4h0m-1-1h0m0-10h0m0 6h0m-1 4h0m0-13h0m-1 13h0m-1-9h0m-1 3h0m0 5h0m0-9h0m0-2h0m-1 2h0m0 11h0m-1-5h0m-1-5h0m0-4h0m-1 2h0m0 1h0m-1 11h0m0 0h0m-2-13h0m-1 4h0m0 4h0m-1-8h0m-1 3h0m0 2h0m0-3h0m-1 11h0m-1-3h0m0 1h0m-3-7h0m-3 3h0m0-6h0m-1 12h0m0-13h0m-1 3h0m-1-3h0m0 1h0m0 9h0m-4 2h0m-3-4h0m-1-7h0m-2 3h0m-1 2h0m-2-6h0m-2 5h0m-9 3h0m-1-9h0m-3 11h0m-2-3h0m-1 2h0m-10-7h0m-17 9h0m26 12h0m4 4h0m4-3h0m4 2h0m0-2h0m2-2h0m8-8h0m0 9h0m3-6h0m1 8h0m6-1h0m2-9h0m1 12h0m0-7h0m3 2h0m2 2h0m1 0h0m2-8h0m0 12h0m0-1h0m0-13h0m1 9h0m0-4h0m0 2h0m0 5h0m1-8h0m2-3h0m0 10h0m0-7h0m1 1h0m1-3h0m0 8h0m1-6h0m0-4h0m1 5h0m0 3h0m0-8h0m2 1h0m0-1h0m0 13h0m0-11h0m1 4h0m0 8h0m1-7h0m1-4h0m0 10h0m0-11h0m1 10h0m0 2h0m1-1h0m1-1h0m0-5h0m1 4h0m2-8h0m0-3h0m2 2h0m0 4h0m1-5h0m0 3h0m0 7h0m0-7h0m1 3h0m0-2h0m0 9h0m1-1h0m1-1h0m0-3h0m0-9h0m0 10h0m0-2h0m1 4h0m0-5h0m0-4h0m1 3h0m0 5h0m0-5h0m0 5h0m1-2h0m0 1h0m0 4h0m1-11h0m0 7h0m1-8h0m0 10h0m0-7h0m0 1h0m0 8h0m1-7h0m0-6h0m0 7h0m0 5h0m0-12h0m2 6h0m0 6h0m1-6h0m1-2h0m0-5h0m0 7h0m0 1h0m0-4h0m2 10h0m0-10h0m0-2h0m2-2h0m0 4h0m1 5h0m1-8h0m0 7h0m1-6h0m1 7h0m0 5h0m1-12h0m0 0h0m0 0h0m0 5h0m1-7h0m0 10h0m1 1h0m0-3h0m0-3h0m0-4h0m1 10h0m0-11h0m0 12h0m0-3h0m0 2h0m1-4h0m0-4h0m0 4h0m0-6h0m1 13h0m0-2h0m2-8h0m0-1h0m0 3h0m0-5h0m0 9h0m1 3h0m0-5h0m0 3h0m1-8h0m0 5h0m0 1h0m1-3h0m0-3h0m0 2h0m1 8h0m0-3h0m0-7h0m0 5h0m0-7h0m0 2h0m1 7h0m0 0h0m1 1h0m0 1h0m0 0h0m0-12h0m1 4h0m1-2h0m0 0h0m0-2h0m0 12h0m0-2h0m1 1h0m0 2h0m0-11h0m1 7h0m1 3h0m0-9h0m0 0h0m0 11h0m1-5h0m0-1h0m0 6h0m1-6h0m1-8h0m0 1h0m0 3h0m0 10h0m1-8h0m0-3h0m0 3h0m0-1h0m1 5h0m0 1h0m1 3h0m0-3h0m1-6h0m0-1h0m0 4h0m1 2h0m0 2h0m0-9h0m1 1h0m0 1h0m1 8h0m0-8h0m0 9h0m0-12h0m1-1h0m0 4h0m0-2h0m1 6h0m0-6h0m1 1h0m0-1h0m0 10h0m1-1h0m0-7h0m0-4h0m0 7h0m0-4h0m1 2h0m0-4h0m0 0h0m0-1h0m1 12h0m0 1h0m0 0h0m2-1h0m1-10h0m1 0h0m0 9h0m0-10h0m0 5h0m0-5h0m0 9h0m1 1h0m1-7h0m1 4h0m0-9h0m0 0h0m2 12h0m0-1h0m0-8h0m0-1h0m1 4h0m1-1h0m0-4h0m0 2h0m0 5h0m0-4h0m1 1h0m0 3h0m2-3h0m0-1h0m1 9h0m0-1h0m1-4h0m0 0h0m1 4h0m1 0h0m0-5h0m0-3h0m1 7h0m0 3h0m1-5h0m1-2h0m0-7h0m0 5h0m2 2h0m0 4h0m0 0h0m1 2h0m0-3h0m1 1h0m1-4h0m2-4h0m0 2h0m3-5h0m0 14h0m1 0h0m1-12h0m1 0h0m1-2h0m1 5h0m1 4h0m0 3h0m2 1h0m1-1h0m2-12h0m0 7h0m1 6h0m0-1h0m0-7h0m2 2h0m1 2h0m1 4h0m1-7h0m1 8h0m6-2h0m0 0h0m2 2h0m4-6h0m2 1h0m0-2h0m1 5h0m3-12h0m9 2h0m24 11h0m11 9h0m-38 6h0m-3-7h0m-1 2h0m-4 6h0m-2-14h0m-3 12h0m-1 1h0m-2-2h0m-9-6h0m-2-5h0m0 11h0m-2-3h0m-2-8h0m-2 2h0m0 7h0m-3-5h0m-2-3h0m-2-1h0m-1 14h0m-2-8h0m-2 3h0m0 1h0m-1-4h0m-1-6h0m0 7h0m-3 5h0m-1 0h0m0-7h0m-1 0h0m-1-1h0m-1 7h0m-1 0h0m-1-4h0m-1 3h0m-1-8h0m-1 12h0m0-13h0m0 9h0m0-7h0m-1 6h0m0 4h0m-1-5h0m0-3h0m-1-5h0m0 0h0m-1 10h0m0-1h0m0 5h0m-1-9h0m-1-5h0m-1 6h0m-3 8h0m0-11h0m0 3h0m-1-4h0m0-1h0m0 13h0m-1-1h0m-1-8h0m0 2h0m-1-5h0m-2 3h0m0 6h0m0-8h0m-1 0h0m0 8h0m-2-7h0m0 10h0m-1-10h0m-1-1h0m0 2h0m-1 4h0m0-1h0m0-7h0m-1 0h0m-1-1h0m-1 12h0m0-11h0m0 3h0m-1-2h0m0 1h0m0 1h0m0 10h0m0 0h0m-1-9h0m0 3h0m0-6h0m0 7h0m0-7h0m-3-1h0m0 6h0m0-5h0m-1 2h0m0-4h0m0 12h0m-1 2h0m-1-6h0m0 6h0m0-12h0m0 3h0m0-5h0m-1 7h0m-1-5h0m0 3h0m0 5h0m0 2h0m0 0h0m0-11h0m-2 3h0m0 9h0m0-12h0m0 7h0m-1-6h0m-1 10h0m-1-1h0m0-7h0m-1 6h0m0-1h0m-1 0h0m0-1h0m0 2h0m0-3h0m0 7h0m-1-13h0m0-1h0m0 0h0m0 0h0m0 14h0m0-2h0m-2-5h0m0 5h0m0 0h0m-1-10h0m-1-1h0m0 6h0m0-4h0m-1 6h0m-1 2h0m0 2h0m0 0h0m-1-2h0m0-8h0m0-1h0m-1 5h0m0 2h0m-1 1h0m0 2h0m-2-12h0m0 14h0m0-3h0m-1-4h0m-1 6h0m-1-10h0m-1 7h0m0-2h0m-1 1h0m0-2h0m0-5h0m0 9h0m-1 3h0m0-1h0m0-5h0m-1-6h0m-1 5h0m0 5h0m-1-5h0m0-7h0m-1 3h0m0 3h0m0-6h0m-1 8h0m0 5h0m-1-8h0m-2-2h0m0-3h0m0 7h0m0-3h0m-1 9h0m0-2h0m0 0h0m0-1h0m0-6h0m0 9h0m-2-11h0m-1 5h0m0-3h0m-1-2h0m0 11h0m-1 1h0m0-11h0m-2 2h0m0-4h0m0 1h0m-1-1h0m-1 5h0m0 5h0m-1-11h0m-1 13h0m-2-4h0m0-3h0m0-1h0m-1 9h0m-2-13h0m0 11h0m-1-7h0m-1 5h0m-1-8h0m0 5h0m-1-7h0m0 6h0m0 2h0m-3 6h0m0-6h0m-1-8h0m-2 4h0m0-1h0m-6 3h0m-1 2h0m0 3h0m-2-6h0m-3 1h0m-1-3h0m-2 2h0m0-5h0m-3 13h0m0-10h0m0 0h0m-1 10h0m-6-2h0m-1-1h0m0 0h0m0 4h0m-1 0h0m-2-2h0m-42-11h0m28 21h0m0-3h0m6 0h0m8 2h0m5 8h0m4-2h0m4-12h0m2 1h0m3 4h0m6-1h0m0 4h0m10-7h0m0-1h0m1 7h0m1 1h0m0-7h0m2 10h0m1 2h0m2-11h0m0 7h0m0-7h0m4 11h0m2 0h0m2-9h0m1 6h0m2-9h0m1 4h0m1 2h0m1 2h0m0-2h0m1-1h0m1 6h0m0-7h0m2 7h0m1-3h0m1 0h0m0 1h0m2-8h0m0 0h0m2-2h0m1 11h0m0 1h0m0-2h0m1-8h0m0-2h0m0 14h0m1-6h0m1-3h0m0 0h0m0 3h0m0 1h0m1 5h0m1-12h0m1 1h0m1-3h0m0 1h0m0 2h0m0 5h0m0-7h0m0 10h0m1 2h0m0-11h0m0 2h0m1 2h0m1 4h0m2-3h0m1 3h0m0 2h0m1-11h0m0 12h0m1-1h0m0 2h0m0-7h0m1-1h0m0-5h0m1 5h0m0-1h0m0 1h0m1 8h0m2-3h0m0-9h0m1-2h0m0 9h0m1-6h0m0 6h0m1 2h0m0-9h0m0 3h0m1 6h0m1-3h0m0-7h0m2 9h0m0-8h0m0 2h0m1-2h0m1 2h0m0 2h0m0 7h0m0 0h0m0-6h0m2-2h0m1 0h0m0 5h0m0-5h0m1-1h0m0 6h0m0-10h0m0 6h0m2 8h0m0-14h0m0 3h0m0-1h0m2 9h0m0-6h0m2 6h0m0-3h0m0 4h0m1-11h0m0 4h0m1 9h0m0-13h0m0 0h0m1 1h0m0 6h0m1-5h0m1 6h0m1 4h0m0-9h0m2 3h0m1-7h0m1 5h0m0 3h0m0-2h0m3 4h0m1 1h0m0-5h0m0-2h0m0-3h0m4 4h0m1 2h0m1-3h0m2 10h0m1-5h0m1 5h0m1-12h0m1 1h0m0 0h0m1 3h0m1-6h0m0 7h0m1-1h0m5-4h0m0 4h0m1 5h0m0-5h0m2 8h0m5-5h0m0 5h0m0-13h0m3 4h0m1-1h0m16 5h0m1-3h0m26 17h0m-1-7h0m-27 10h0m-2-10h0m-10 0h0m-3 7h0m-2 0h0m-2-2h0m-2-5h0m0 3h0m-1 8h0m-1-2h0m-2 1h0m0-8h0m-1 0h0m0 6h0m-3-2h0m-1-6h0m-3 1h0m0 7h0m-1 3h0m-1-3h0m-1-9h0m-1 8h0m-2-2h0m-3-3h0m-1-3h0m-1 0h0m0 9h0m-4-9h0m-3 3h0m-3 3h0m-1-3h0m-1 8h0m-2-5h0m-2 1h0m0 0h0m-1 2h0m0-5h0m-3 4h0m-1-8h0m-1 6h0m0 1h0m-1-4h0m-2 1h0m-1 3h0m-1-1h0m-1 1h0m0-2h0m-2 8h0m-1-7h0m-1 7h0m0-5h0m-2-6h0m-3 4h0m-1 2h0m-2 1h0m-1-8h0m-1 2h0m-1 5h0m0-7h0m-1 10h0m-1-2h0m0-6h0m-1 7h0m0-10h0m-1 0h0m0 4h0m-2 0h0m0 3h0m-1-1h0m-1 7h0m0-4h0m0-9h0m-1 14h0m-4-14h0m-2 1h0m0 4h0m0 5h0m-2-4h0m0-5h0m-1-1h0m-1 2h0m-2 0h0m-1 7h0m-2-5h0m-1 5h0m-2-3h0m0 2h0m-1 3h0m-1-11h0m-1 3h0m-1 1h0m-1 2h0m-2-2h0m0 3h0m0-7h0m0 13h0m0-11h0m-1-2h0m-1 13h0m-2-10h0m0-1h0m-1-1h0m-10 3h0m-2 5h0m-4 5h0m-1-8h0m-4-5h0m-1 2h0m-2-1h0m-7 8h0m-22-8h0m-3 6h0m-4-8h0m-3 10h0m20 14h0m17-5h0m2-1h0m4 3h0m11 0h0m3-5h0m1 11h0m1-7h0m5-5h0m5 11h0m8-10h0m3 6h0m1-5h0m1-2h0m2 10h0m10 4h0m0-3h0m7 3h0m2-12h0m0 12h0m2-8h0m0-5h0m3 11h0m1-9h0m5-1h0m1 4h0m2-3h0m1 9h0m3-10h0m3 7h0m1-9h0m1 6h0m2-1h0m3-4h0m0 10h0m1-10h0m2 13h0m1-8h0m0-1h0m2 4h0m0 4h0m1-11h0m2-2h0m0 8h0m2 4h0m6 2h0m6-11h0m4 5h0m2-7h0m8 4h0m7 1h0m1 5h0m37 3h0m-32 6h0m-4-4h0m-15 6h0m-5 1h0m-28-8h0m-19 3h0m-5-2h0m0 8h0m-2-9h0m-1 12h0m-6-5h0m-3 4h0m-5-7h0m-9-4h0m-2 9h0m0 1h0m-6-5h0m-5-5h0m-17 14h0m-22-2h0m-6 0h0m14 8h0m12 0h0m24 9h0m5-3h0m28-11h0m9 5h0m21 2h0m12 4h0m18-10h0m5 1h0m10 12h0m10 2h0m-80 0h0m-20 1h0" stroke="#d41a20" stroke-width="7.6" stroke-linecap="round" fill="none"/></g><rect x="201.1" y="5.4" width="70.4" height="71" fill="none" stroke="#333" stroke-width="0.7"/><line x1="221.8" y1="5.4" x2="221.8" y2="76.4" stroke="#333" stroke-width="0.5"/><line x1="201.1" y1="55.2" x2="271.5" y2="55.2" stroke="#333" stroke-width="0.5"/><text x="203" y="9.8" font-size="3.3" fill="#2a2a2a" stroke="#2a2a2a" stroke-width="0.12">Q1-UL(0.00%)</text><text x="270.2" y="9.8" font-size="3.3" text-anchor="end" fill="#2a2a2a" stroke="#2a2a2a" stroke-width="0.12">Q1-UR(0.54%)</text><text x="203" y="74.5" font-size="3.3" fill="#2a2a2a" stroke="#2a2a2a" stroke-width="0.12">Q1-LL(0.00%)</text><text x="270.2" y="74.5" font-size="3.3" text-anchor="end" fill="#2a2a2a" stroke="#2a2a2a" stroke-width="0.12">Q1-LR(99.46%)</text><text x="197.4" y="8.7" font-size="3.1" text-anchor="middle" fill="#2a2a2a" transform="rotate(-90 197.4 8.7)" stroke="#2a2a2a" stroke-width="0.11">10⁵</text><text x="197.4" y="18.5" font-size="3.1" text-anchor="middle" fill="#2a2a2a" transform="rotate(-90 197.4 18.5)" stroke="#2a2a2a" stroke-width="0.11">10⁴</text><text x="197.4" y="30.5" font-size="3.1" text-anchor="middle" fill="#2a2a2a" transform="rotate(-90 197.4 30.5)" stroke="#2a2a2a" stroke-width="0.11">10³</text><text x="197.4" y="43.5" font-size="3.1" text-anchor="middle" fill="#2a2a2a" transform="rotate(-90 197.4 43.5)" stroke="#2a2a2a" stroke-width="0.11">10²</text><text x="197.4" y="55.4" font-size="3.1" text-anchor="middle" fill="#2a2a2a" transform="rotate(-90 197.4 55.4)" stroke="#2a2a2a" stroke-width="0.11">10¹</text><text x="197.4" y="65.2" font-size="3.1" text-anchor="middle" fill="#2a2a2a" transform="rotate(-90 197.4 65.2)" stroke="#2a2a2a" stroke-width="0.11">0</text><text x="192" y="38" font-size="3" text-anchor="middle" fill="#2a2a2a" transform="rotate(-90 192 38)" stroke="#2a2a2a" stroke-width="0.11">Mouse IgG1 APC-A</text><text x="202" y="81" font-size="3.1" text-anchor="middle" fill="#2a2a2a" stroke="#2a2a2a" stroke-width="0.11">0</text><text x="220" y="81" font-size="3.1" text-anchor="middle" fill="#2a2a2a" stroke="#2a2a2a" stroke-width="0.11">10²</text><text x="232" y="81" font-size="3.1" text-anchor="middle" fill="#2a2a2a" stroke="#2a2a2a" stroke-width="0.11">10³</text><text x="243" y="81" font-size="3.1" text-anchor="middle" fill="#2a2a2a" stroke="#2a2a2a" stroke-width="0.11">10⁴</text><text x="254.6" y="81" font-size="3.1" text-anchor="middle" fill="#2a2a2a" stroke="#2a2a2a" stroke-width="0.11">10⁵</text><text x="266" y="81" font-size="3.1" text-anchor="middle" fill="#2a2a2a" stroke="#2a2a2a" stroke-width="0.11">10⁶</text><text x="235.5" y="87.4" font-size="3.3" text-anchor="middle" fill="#2a2a2a" stroke="#2a2a2a" stroke-width="0.12">CD138 FITC-A</text><line x1="200.2" y1="5.4" x2="201.1" y2="5.4" stroke="#555" stroke-width="0.35"/><line x1="201.1" y1="76.4" x2="201.1" y2="77.3" stroke="#555" stroke-width="0.35"/><line x1="200.2" y1="8.78" x2="201.1" y2="8.78" stroke="#555" stroke-width="0.35"/><line x1="204.45" y1="76.4" x2="204.45" y2="77.3" stroke="#555" stroke-width="0.35"/><line x1="200.2" y1="12.16" x2="201.1" y2="12.16" stroke="#555" stroke-width="0.35"/><line x1="207.8" y1="76.4" x2="207.8" y2="77.3" stroke="#555" stroke-width="0.35"/><line x1="200.2" y1="15.54" x2="201.1" y2="15.54" stroke="#555" stroke-width="0.35"/><line x1="211.16" y1="76.4" x2="211.16" y2="77.3" stroke="#555" stroke-width="0.35"/><line x1="200.2" y1="18.92" x2="201.1" y2="18.92" stroke="#555" stroke-width="0.35"/><line x1="214.51" y1="76.4" x2="214.51" y2="77.3" stroke="#555" stroke-width="0.35"/><line x1="200.2" y1="22.3" x2="201.1" y2="22.3" stroke="#555" stroke-width="0.35"/><line x1="217.86" y1="76.4" x2="217.86" y2="77.3" stroke="#555" stroke-width="0.35"/><line x1="200.2" y1="25.69" x2="201.1" y2="25.69" stroke="#555" stroke-width="0.35"/><line x1="221.21" y1="76.4" x2="221.21" y2="77.3" stroke="#555" stroke-width="0.35"/><line x1="200.2" y1="29.07" x2="201.1" y2="29.07" stroke="#555" stroke-width="0.35"/><line x1="224.57" y1="76.4" x2="224.57" y2="77.3" stroke="#555" stroke-width="0.35"/><line x1="200.2" y1="32.45" x2="201.1" y2="32.45" stroke="#555" stroke-width="0.35"/><line x1="227.92" y1="76.4" x2="227.92" y2="77.3" stroke="#555" stroke-width="0.35"/><line x1="200.2" y1="35.83" x2="201.1" y2="35.83" stroke="#555" stroke-width="0.35"/><line x1="231.27" y1="76.4" x2="231.27" y2="77.3" stroke="#555" stroke-width="0.35"/><line x1="200.2" y1="39.21" x2="201.1" y2="39.21" stroke="#555" stroke-width="0.35"/><line x1="234.62" y1="76.4" x2="234.62" y2="77.3" stroke="#555" stroke-width="0.35"/><line x1="200.2" y1="42.59" x2="201.1" y2="42.59" stroke="#555" stroke-width="0.35"/><line x1="237.98" y1="76.4" x2="237.98" y2="77.3" stroke="#555" stroke-width="0.35"/><line x1="200.2" y1="45.97" x2="201.1" y2="45.97" stroke="#555" stroke-width="0.35"/><line x1="241.33" y1="76.4" x2="241.33" y2="77.3" stroke="#555" stroke-width="0.35"/><line x1="200.2" y1="49.35" x2="201.1" y2="49.35" stroke="#555" stroke-width="0.35"/><line x1="244.68" y1="76.4" x2="244.68" y2="77.3" stroke="#555" stroke-width="0.35"/><line x1="200.2" y1="52.73" x2="201.1" y2="52.73" stroke="#555" stroke-width="0.35"/><line x1="248.03" y1="76.4" x2="248.03" y2="77.3" stroke="#555" stroke-width="0.35"/><line x1="200.2" y1="56.11" x2="201.1" y2="56.11" stroke="#555" stroke-width="0.35"/><line x1="251.39" y1="76.4" x2="251.39" y2="77.3" stroke="#555" stroke-width="0.35"/><line x1="200.2" y1="59.5" x2="201.1" y2="59.5" stroke="#555" stroke-width="0.35"/><line x1="254.74" y1="76.4" x2="254.74" y2="77.3" stroke="#555" stroke-width="0.35"/><line x1="200.2" y1="62.88" x2="201.1" y2="62.88" stroke="#555" stroke-width="0.35"/><line x1="258.09" y1="76.4" x2="258.09" y2="77.3" stroke="#555" stroke-width="0.35"/><line x1="200.2" y1="66.26" x2="201.1" y2="66.26" stroke="#555" stroke-width="0.35"/><line x1="261.44" y1="76.4" x2="261.44" y2="77.3" stroke="#555" stroke-width="0.35"/><line x1="200.2" y1="69.64" x2="201.1" y2="69.64" stroke="#555" stroke-width="0.35"/><line x1="264.8" y1="76.4" x2="264.8" y2="77.3" stroke="#555" stroke-width="0.35"/><line x1="200.2" y1="73.02" x2="201.1" y2="73.02" stroke="#555" stroke-width="0.35"/><line x1="268.15" y1="76.4" x2="268.15" y2="77.3" stroke="#555" stroke-width="0.35"/><line x1="200.2" y1="76.4" x2="201.1" y2="76.4" stroke="#555" stroke-width="0.35"/><line x1="271.5" y1="76.4" x2="271.5" y2="77.3" stroke="#555" stroke-width="0.35"/><line x1="11.5" y1="86" x2="11.5" y2="178.2" stroke="#777" stroke-width="0.8"/><polygon points="9.6,89 11,85 12.4,89" fill="#2a2a2a" stroke="none" stroke-width="0.6"/><line x1="11.5" y1="178.2" x2="280" y2="178.2" stroke="#666" stroke-width="0.8"/><polygon points="280,176.2 284,177.6 280,179" fill="#2a2a2a" stroke="none" stroke-width="0.6"/><text x="8.5" y="151" font-size="6.1" text-anchor="middle" fill="#222" transform="rotate(-90 8.5 151)" stroke="#222" stroke-width="0.21">Tim3 APC</text><text x="29.7" y="184.9" font-size="6.1" fill="#222" stroke="#222" stroke-width="0.21">CD138 FITC</text><g clip-path="url(#c4)"><path transform="scale(.1)" d="M621 1273h0m56-11h0m-13 18h0m-18 4h0m-5 5h0m-24 12h0m8-9h0m29-1h0m0 10h0m9-7h0m8 7h0m2-5h0m10 6h0m6-7h0m3-1h0m33 6h0m13 6h0m-12 3h0m-66 8h0m-13-1h0m-12-1h0m-8-1h0m-7 2h0m-3 1h0m-15-5h0m-33 3h0m-12 15h0m20 4h0m25-6h0m59-4h0m0 9h0m5-2h0m11-3h0m0 4h0m22-1h0m17 0h0m4 2h0m28-8h0m32 12h0m-31 4h0m-28 1h0m-24 6h0m-8 1h0m-27-4h0m0-10h0m-7 7h0m-8 6h0m-8-2h0m-7-6h0m-2 7h0m-8 1h0m-7-6h0m-4 6h0m-27-5h0m-5 15h0m13 2h0m12-6h0m7 8h0m5-1h0m20-7h0m2 5h0m12-3h0m0 1h0m4 7h0m4-2h0m11-7h0m2 4h0m7-8h0m7 6h0m3-7h0m6 5h0m3 6h0m2 1h0m1-8h0m16 4h0m7-5h0m5 2h0m19 8h0m1-6h0m22 11h0m-31-1h0m-9 12h0m-2-3h0m-4-8h0m-4 10h0m-4-1h0m-4-5h0m-1 5h0m-5-10h0m-3 9h0m-3 3h0m-7-13h0m-6 8h0m-2 1h0m-5 0h0m-3 3h0m-1 0h0m-2-6h0m-3 0h0m-2 5h0m-3-3h0m-4 2h0m-3-3h0m-10 4h0m-4-10h0m-1 4h0m-4-5h0m-24 12h0m-42 4h0m17 7h0m3-6h0m8 8h0m7 3h0m1-10h0m1 1h0m2 8h0m3-11h0m10-1h0m13 7h0m8-2h0m1 2h0m7-6h0m0 0h0m3-1h0m3 11h0m4-7h0m0 6h0m4 2h0m1-13h0m4 12h0m2-7h0m0 5h0m7-7h0m8 2h0m9 4h0m2-3h0m2-6h0m0 4h0m11 10h0m2-10h0m2 7h0m25-4h0m2 0h0m14 0h0m3-2h0m-8 14h0m-2 3h0m-14 5h0m-2-5h0m-13 2h0m-3 4h0m-4-11h0m-3 4h0m-2 0h0m-5 6h0m-4-12h0m0 14h0m-2-14h0m0 14h0m-1-9h0m-3 2h0m-1-1h0m-4 6h0m-6-10h0m0-2h0m-2 8h0m-4 0h0m-1 5h0m-6-9h0m-5 4h0m-6-6h0m-3 10h0m-1-2h0m-3-5h0m0 5h0m-4-2h0m-6 6h0m-1-7h0m-1 3h0m-15-9h0m-3 6h0m-15 5h0m0-3h0m-2-3h0m-3 6h0m-5-6h0m-1 8h0m-21 0h0m-4-7h0m-27-7h0m-26 24h0m33 0h0m23-7h0m1 3h0m14 4h0m3-2h0m1 5h0m13-4h0m7 4h0m1-5h0m8-1h0m8-5h0m14 10h0m4-10h0m0 3h0m2-1h0m2 10h0m7-13h0m3 5h0m1 6h0m1 0h0m4-10h0m8 12h0m5-8h0m5 9h0m3-7h0m5-6h0m1 4h0m5 3h0m2-2h0m9 6h0m3-11h0m4 11h0m1 0h0m5-4h0m6 0h0m3 6h0m4-10h0m4 3h0m4-1h0m5 4h0m8 3h0m15 15h0m-3-7h0m-5-2h0m-4 4h0m-8-4h0m-13 6h0m-2-7h0m-1 5h0m-1 0h0m-12 4h0m-2-8h0m-3 9h0m-9 1h0m-8-14h0m-2 2h0m0 10h0m-1-2h0m-2 1h0m-1 0h0m-6-10h0m-1 11h0m-2 0h0m-3-1h0m-6-3h0m-1 6h0m-3-12h0m-2-1h0m-7 2h0m-2 2h0m-1-1h0m-1-2h0m-3 6h0m-2-2h0m-5 5h0m0 1h0m-3-9h0m-2 1h0m-1 4h0m-5-5h0m-5 1h0m0 6h0m-1-4h0m-2-2h0m-3 8h0m-22 0h0m-1-9h0m-5 0h0m-35 2h0m-31-2h0m56 16h0m15-1h0m1 10h0m2-4h0m1 5h0m2-5h0m15-8h0m1 9h0m0-3h0m6-6h0m11 10h0m0-1h0m2 1h0m2-2h0m0-9h0m3 7h0m4 7h0m3-5h0m3-4h0m1-4h0m1 12h0m6 0h0m9-7h0m1-5h0m3 2h0m0 6h0m2 1h0m1-10h0m2 10h0m4-3h0m1-4h0m7 11h0m4-10h0m9-3h0m6-1h0m2 3h0m9 10h0m1-12h0m1 11h0m1-6h0m5-4h0m7 0h0m8 9h0m9-10h0m32 24h0m-40-2h0m-6-8h0m-7 2h0m-17 0h0m-2 5h0m-8 7h0m0-14h0m-6 4h0m-2 2h0m-1 3h0m-1 4h0m-11-3h0m-1-4h0m-8-4h0m-3 10h0m-3-11h0m-12 7h0m0-3h0m-3 3h0m-1 4h0m-2-6h0m0 8h0m-4-10h0m-1 0h0m-4-4h0m-2 9h0m-1-6h0m-8 6h0m-4 0h0m0 4h0m-2-1h0m-1-11h0m-1 7h0m-1-4h0m-3-2h0m-8 8h0m-9-7h0m-11 0h0m-1 2h0m-14 7h0m-2 1h0m-9-2h0m-5 3h0m-15-9h0m-49 15h0m27-2h0m26-1h0m16 2h0m10 3h0m26 7h0m2-12h0m0 12h0m1-6h0m4 2h0m4-7h0m0 3h0m2 1h0m7 5h0m7-9h0m9 11h0m2-4h0m1 3h0m2 1h0m2-8h0m8-3h0m7 2h0m5-1h0m5 7h0m0-3h0m0-1h0m8-7h0m11 10h0m5 1h0m4-4h0m0-3h0m3 5h0m14 0h0m2-1h0m3 4h0m10-8h0m6 4h0m0-6h0m4 3h0m2 5h0m42 7h0m-31-2h0m-2 6h0m-9 1h0m-9 4h0m-15-5h0m-1-1h0m0-2h0m-1 1h0m-1 3h0m0 2h0m-6 4h0m-22-9h0m-1 6h0m-5-8h0m-16 1h0m-5-3h0m-5 2h0m-2 1h0m-1-2h0m-1 7h0m-7-3h0m-1-5h0m-2 12h0m-2-4h0m-4 3h0m-4-7h0m-2 2h0m-8-3h0m-1 6h0m-8 0h0m-6-9h0m-8 2h0m-2 3h0m-16-4h0m-53 2h0m17 16h0m50 10h0m7-3h0m10-11h0m4 13h0m10-7h0m1-5h0m1 5h0m7 7h0m14-8h0m12-1h0m3 2h0m0 5h0m3 2h0m0-1h0m7-9h0m2 0h0m3 9h0m3 2h0m0-9h0m2 2h0m2-2h0m10-3h0m3-1h0m10 12h0m0-13h0m21 6h0m5-2h0m19 7h0m31 0h0m-5 4h0m-61 0h0m-19 12h0m-13-8h0m-8 3h0m-14 3h0m-3 0h0m-2-8h0m-8-2h0m-6 5h0m-1 8h0m-19-2h0m-1-11h0m-11 8h0m-2 2h0m-47-2h0m-9-2h0m0-3h0m-6 9h0m-2-6h0m-24 6h0m78 13h0m12 4h0m54-13h0m2 3h0m2-2h0m3 3h0m3 7h0m1-2h0m4-6h0m4 0h0m4 6h0m1 3h0m4 1h0m2-4h0m4-7h0m11 4h0m2-6h0m24 3h0m14-1h0m35 6h0m-63 8h0m-13 4h0m-4-4h0m-7 5h0m-18-6h0m-5 7h0m-3-3h0m-39 2h0m-7 0h0m-8 4h0m-19-1h0m-63 3h0m65 15h0m1-13h0m8 9h0m5 2h0m36-10h0m23 2h0m11 5h0m2-1h0m8-6h0m9 8h0m2 10h0m-11 2h0m-87 0h0m-55-3h0m113 26h0m-5 23h0m-48 15h0m-12-4h0m46 19h0m26-1h0m81 16h0" stroke="#de4048" stroke-width="5.6" stroke-linecap="round" fill="none"/><path transform="scale(.1)" d="M712 1291h0m-94 39h0m62 2h0m34 12h0m-2-9h0m-29 14h0m-26-4h0m-57 6h0m13 13h0m8-13h0m25 11h0m6-8h0m32 1h0m5 4h0m0-5h0m1 7h0m5-8h0m3 1h0m17 6h0m33-6h0m14 24h0m-10-12h0m-11 1h0m-1 9h0m-3-9h0m-24 11h0m-1 1h0m-7-13h0m-7 0h0m0 9h0m-2-4h0m-3 6h0m-2 1h0m-2 1h0m0-4h0m-4-2h0m-1 2h0m-3-1h0m-5 0h0m-2-1h0m-1 4h0m-2 1h0m-20-7h0m-8 2h0m-4 6h0m-8 0h0m-12-3h0m-3-11h0m1 23h0m3 2h0m1 3h0m2-4h0m1 5h0m0 0h0m3-2h0m0-12h0m0 13h0m4-1h0m0-2h0m2 2h0m0-7h0m2 6h0m0 0h0m2-6h0m8 8h0m2-9h0m0 8h0m1-1h0m1-1h0m1 1h0m1-7h0m1 4h0m1 6h0m1-11h0m12 8h0m1 3h0m1-1h0m1 1h0m4-6h0m1 1h0m0 2h0m1 0h0m0-10h0m2 4h0m5 8h0m1-3h0m0 3h0m1 0h0m0-1h0m1 2h0m0-14h0m1 13h0m0-1h0m3-10h0m0 11h0m1-1h0m2 1h0m0-9h0m2 3h0m3-7h0m1 12h0m1-2h0m3-4h0m0-5h0m6 1h0m5 9h0m4-1h0m0-2h0m9-3h0m4 3h0m11 4h0m26 4h0m-30-1h0m-3 12h0m0 2h0m-1-2h0m-5 0h0m-3-1h0m-4 3h0m-3-8h0m-6 4h0m0 1h0m-1-1h0m0-1h0m-2 0h0m0 4h0m-1-2h0m-1-4h0m0-3h0m-1-2h0m-1 7h0m-2-4h0m-3 1h0m0-1h0m-2 6h0m-3-2h0m-1 2h0m-1 0h0m-2-2h0m-2-6h0m0-3h0m-1 9h0m0 1h0m0-6h0m-1-4h0m-1 11h0m0-7h0m-1 4h0m0 3h0m0 1h0m-1 2h0m0-4h0m-2-1h0m-1 4h0m0-7h0m0 4h0m-1-7h0m0 1h0m-2 10h0m-1 0h0m0 0h0m-2-13h0m0-1h0m0 9h0m0 3h0m-1 2h0m-1-9h0m0-2h0m-2 1h0m0-2h0m-4 2h0m-3 3h0m-1 6h0m-1-7h0m0 4h0m0-10h0m-1 8h0m-1-6h0m-5 6h0m0-5h0m0 2h0m-1 7h0m-1-4h0m-1 0h0m0 0h0m-1-7h0m0 9h0m-2 1h0m-2 3h0m-1-8h0m0-1h0m-1 1h0m-1-5h0m-1 0h0m-2 4h0m-2 0h0m-4-4h0m-1 2h0m0 0h0m-3 8h0m-3-8h0m0 6h0m-6 5h0m-4-10h0m-1 7h0m-2 3h0m-1-13h0m-2 9h0m-6-8h0m-6 9h0m-35-4h0m34 20h0m3-9h0m1-2h0m4 0h0m9 3h0m0 7h0m4-3h0m1 1h0m1-8h0m6 9h0m2-1h0m1 4h0m0-5h0m2 6h0m3-6h0m0 5h0m0-7h0m0 1h0m2 6h0m0-11h0m0 8h0m1 2h0m0 2h0m1-11h0m0-2h0m2 11h0m3-2h0m0 1h0m2-1h0m0-1h0m1-2h0m0 6h0m3-4h0m0-1h0m2 2h0m0 0h0m1-6h0m0 4h0m0-1h0m0 4h0m2 0h0m0 1h0m1-8h0m0 4h0m0-1h0m1-7h0m0 14h0m0-5h0m4-4h0m0 0h0m2 1h0m0 8h0m1-3h0m0-3h0m0 2h0m1-7h0m0 7h0m0 1h0m1-2h0m0-2h0m1 5h0m0 2h0m0-10h0m1 8h0m1-4h0m0-4h0m2-4h0m0 9h0m1-4h0m0 7h0m0 2h0m0-9h0m0-3h0m0 9h0m1-1h0m0-10h0m0 10h0m1-1h0m0-5h0m2 7h0m0-3h0m1-3h0m0-2h0m3 3h0m0 2h0m0-5h0m2 2h0m0 2h0m1 7h0m1-2h0m1-7h0m0 9h0m0-12h0m0 3h0m0 8h0m1-12h0m0 10h0m0-1h0m0-8h0m1 0h0m0 7h0m1-9h0m1 10h0m0-2h0m0 4h0m1-9h0m0 10h0m1-11h0m1 1h0m0 10h0m0 0h0m1-11h0m0 12h0m0-8h0m2 0h0m0-4h0m0-2h0m0 4h0m0 9h0m1-3h0m0 2h0m2-2h0m0-2h0m0 6h0m1-7h0m0-3h0m0 6h0m1 1h0m0-10h0m2 4h0m0 7h0m1 2h0m1-13h0m0 5h0m0 4h0m1-10h0m0 7h0m0 4h0m2-10h0m0 4h0m1 7h0m0-4h0m1-7h0m1 3h0m1 2h0m0 7h0m0-12h0m1 11h0m3-2h0m2 3h0m2-3h0m1-10h0m3 11h0m3-1h0m3-9h0m2 6h0m4 7h0m1-13h0m1 9h0m2-9h0m15 1h0m21 4h0m-21 21h0m0 0h0m-1-3h0m-3-4h0m-4-2h0m0 3h0m-1-2h0m-1 4h0m-1-5h0m-2-1h0m-2 2h0m-2 9h0m0 0h0m-1-13h0m-1 4h0m-4-4h0m0 10h0m0-8h0m-2 6h0m0 2h0m-3 4h0m-1-3h0m0 2h0m0-7h0m-4-5h0m-1-1h0m0 3h0m-2 0h0m0 3h0m-1 2h0m-1 2h0m0-9h0m-1 9h0m0 3h0m0 0h0m-1-1h0m-2-11h0m-1 1h0m0 2h0m-1 5h0m0-6h0m-1-3h0m-1 5h0m-2 9h0m0-8h0m0-2h0m0-2h0m-1 0h0m-1-1h0m-1 8h0m0-2h0m0 0h0m0 0h0m0-1h0m-1 6h0m-2 2h0m0-12h0m-1-2h0m0 14h0m-1-1h0m-1-9h0m-1 3h0m-1 2h0m-1-8h0m0 8h0m-1-4h0m-1 8h0m0-1h0m-1-5h0m-1-1h0m-1 8h0m0-6h0m0-1h0m0-1h0m-1-5h0m0-1h0m0 7h0m0 7h0m-1-13h0m-1 13h0m-1-5h0m0-6h0m0-1h0m-1 11h0m-1-5h0m0 4h0m0 1h0m-1-2h0m0-7h0m-1 6h0m0-8h0m-1-1h0m0 4h0m0-5h0m0 10h0m-1-2h0m0-4h0m0-3h0m-1 11h0m0-10h0m0 2h0m0 10h0m0 0h0m-1-6h0m0-2h0m-1 6h0m0 2h0m0-14h0m-1 10h0m0-3h0m0-4h0m-1-2h0m0-1h0m0 4h0m-1 10h0m0-9h0m-1 8h0m0-13h0m0 7h0m0-5h0m0 0h0m-1 0h0m0 5h0m-1 6h0m0 1h0m-1-10h0m0-2h0m-1 4h0m0 6h0m0-5h0m0-5h0m-1 1h0m-1 2h0m0-4h0m0 9h0m0 0h0m0-2h0m0-1h0m0-6h0m-2 13h0m-1-9h0m0-1h0m-1 7h0m0 2h0m0-10h0m0 6h0m0 4h0m-1-9h0m0 3h0m0-7h0m0 10h0m-1-6h0m0 1h0m-1 5h0m-2 0h0m-2 3h0m-1 0h0m0-2h0m0-8h0m-1 8h0m-1 0h0m0 0h0m0-8h0m0 9h0m0-1h0m-1-8h0m0 2h0m-1 1h0m0-5h0m0 5h0m0 7h0m0-8h0m-1 3h0m0-8h0m-1 4h0m-2 3h0m-1 7h0m0 0h0m-1-13h0m-1 3h0m-3-1h0m0 7h0m0 2h0m-2-2h0m-2-6h0m0 8h0m-1-10h0m-1 9h0m-1-7h0m0 8h0m0-2h0m-1-9h0m0 10h0m-2-4h0m-1 0h0m-1 5h0m0 2h0m0-6h0m-1-2h0m0 6h0m0-7h0m-2 5h0m0 4h0m-1-4h0m0-4h0m-1 7h0m-1-8h0m0 1h0m-1-3h0m-2 9h0m0 1h0m-1-6h0m-4 5h0m-2-6h0m0-2h0m-4 8h0m-2-4h0m-2 4h0m-10 0h0m-1 0h0m-4-12h0m11 21h0m0 6h0m2 1h0m1-4h0m4-8h0m0 4h0m0 8h0m2 1h0m0-10h0m2 1h0m6 8h0m4-4h0m3 0h0m2-9h0m0 7h0m1 0h0m2 0h0m0-4h0m0 9h0m0-6h0m2-6h0m1 6h0m0-4h0m2 10h0m0-5h0m1-5h0m0 2h0m1-2h0m2 8h0m1-8h0m1 6h0m1-1h0m0 7h0m1-6h0m0-7h0m1-1h0m1 2h0m0 12h0m0-7h0m0 5h0m0-12h0m1 12h0m1 2h0m0-8h0m1-5h0m0 12h0m0-6h0m0-4h0m0 3h0m0 5h0m1-2h0m0-3h0m0 8h0m0-7h0m1 4h0m0 0h0m0 3h0m0 0h0m0-5h0m0-8h0m0 5h0m1 5h0m0-3h0m0-2h0m0 3h0m1-4h0m1 7h0m0-7h0m2-4h0m0 0h0m0 2h0m0 8h0m1-8h0m1 0h0m0 8h0m2-5h0m0-2h0m2 10h0m0-5h0m0 5h0m1-2h0m0 1h0m1-10h0m0 9h0m0-3h0m1-6h0m1-2h0m1 3h0m0 10h0m0-2h0m0 1h0m0-5h0m1-5h0m0 1h0m0 5h0m0-2h0m1-6h0m0 3h0m0 7h0m0-9h0m1 12h0m0-10h0m0-3h0m1 6h0m0-3h0m0 6h0m2-1h0m1-7h0m0 11h0m1-11h0m0 12h0m0-5h0m0 1h0m0-3h0m2-3h0m2 8h0m0-9h0m1-1h0m0 3h0m0 1h0m0 5h0m1-9h0m0 1h0m0 6h0m1-4h0m0-4h0m0 13h0m0-7h0m2-3h0m0 9h0m1-4h0m0 2h0m0-6h0m0 2h0m1 6h0m0-5h0m0-5h0m0 2h0m1 1h0m0 2h0m0-6h0m1 10h0m1 2h0m0-8h0m0 8h0m0-3h0m1 2h0m0-13h0m0 14h0m1-6h0m0-4h0m0 6h0m1 1h0m0-7h0m0-2h0m2-2h0m1 4h0m1 9h0m0 0h0m0 0h0m0-4h0m1-9h0m0 5h0m0 3h0m0-5h0m1 9h0m1-12h0m1 0h0m2 2h0m0-1h0m0 9h0m0-3h0m1 4h0m0-2h0m1 1h0m3 3h0m1-1h0m3 2h0m2 0h0m0-13h0m0 0h0m1-1h0m0 6h0m0 7h0m4-8h0m1 9h0m1-3h0m0 1h0m0-12h0m1 1h0m1 3h0m0 5h0m0 0h0m2 5h0m0-2h0m2 1h0m0-6h0m1-3h0m2-2h0m0 11h0m1-5h0m0-2h0m1-1h0m0-1h0m2 2h0m0 6h0m1-10h0m1 9h0m0-1h0m1-5h0m5 8h0m1 1h0m6-7h0m2 0h0m3 2h0m1 1h0m2 0h0m6 2h0m6-11h0m7 25h0m-3-8h0m-9 2h0m-10-4h0m-3 4h0m-7 8h0m-3-13h0m0 10h0m-4-7h0m-2 2h0m-1-3h0m-5 7h0m-4 2h0m-1-1h0m-1 3h0m-2-10h0m-1 1h0m-1-3h0m-1 11h0m0-10h0m-1 0h0m-1 3h0m-1 3h0m0-1h0m0 3h0m0-7h0m-1 4h0m0 3h0m0-7h0m-1 5h0m-1-7h0m-1 9h0m-1-9h0m0 6h0m-1-5h0m-1 12h0m0-6h0m0 2h0m-5-9h0m-1 2h0m0 11h0m0-1h0m-1-12h0m0 7h0m0-6h0m-1 2h0m-1-1h0m0 4h0m-1 6h0m0-13h0m-1 8h0m0-4h0m-1 0h0m0-1h0m-1 3h0m0 0h0m-1 6h0m-1-5h0m-1 6h0m-1-8h0m0-1h0m0-2h0m-1-2h0m0 14h0m-2-12h0m-1-2h0m0 1h0m-1 0h0m0 2h0m-1 7h0m-1-1h0m-1-6h0m0-1h0m0 7h0m0-6h0m-1 3h0m0 8h0m-1-7h0m0 0h0m-1 5h0m-1-9h0m-2 2h0m-1-3h0m0 4h0m0 5h0m0-10h0m-1 0h0m0 9h0m-1-10h0m-1 3h0m0 5h0m0-1h0m-1 3h0m0 3h0m0-8h0m0 2h0m-1-7h0m-1 8h0m0-5h0m-2 7h0m0-2h0m0 5h0m-2 0h0m0 0h0m-1-4h0m-1 4h0m-1-6h0m0-7h0m0 0h0m-1 7h0m0 1h0m0 4h0m0-10h0m0 9h0m-1-3h0m-1 6h0m0-6h0m0-7h0m0 6h0m-1-5h0m-1 8h0m0-2h0m0 2h0m0-5h0m-1-5h0m0 5h0m-1-4h0m0 2h0m0-1h0m-1 0h0m-1 0h0m-2 6h0m0-2h0m-2-2h0m-1 10h0m0-1h0m-2-3h0m0 2h0m0-5h0m-1-5h0m-1 7h0m-1-4h0m0 6h0m0-11h0m0 9h0m-1 2h0m0 1h0m-1-12h0m0 10h0m-1-10h0m0 0h0m0 13h0m-2-13h0m-1 13h0m-1-10h0m0 5h0m-1-2h0m-1 1h0m-3-1h0m0-2h0m-2 4h0m0-2h0m-3 3h0m0 3h0m0-7h0m-2 4h0m-1 1h0m0-6h0m-1 10h0m-3-3h0m-1-11h0m0 1h0m-4 12h0m-5-4h0m-1 1h0m-10 4h0m-5-11h0m-18 17h0m10 5h0m8-10h0m2 4h0m3-1h0m13 3h0m0-5h0m9 13h0m3-12h0m4 1h0m1 8h0m0-11h0m1 3h0m6 7h0m2-6h0m2 6h0m2 0h0m0 1h0m1-3h0m0 4h0m1-10h0m1 7h0m0 4h0m2-3h0m1-10h0m0 3h0m2 4h0m1 2h0m1 1h0m1-10h0m0 11h0m0-9h0m1 8h0m1 1h0m0-9h0m1 2h0m0-3h0m1 1h0m1 1h0m0 10h0m0-7h0m1-5h0m0 0h0m1 5h0m1-5h0m0 8h0m1-2h0m0 1h0m1 6h0m0-4h0m3-4h0m2 0h0m0 8h0m1-7h0m0 0h0m0-3h0m0 4h0m0 6h0m0-2h0m1-10h0m1 5h0m0-4h0m1 6h0m0 2h0m3 0h0m0-8h0m1-3h0m1 3h0m1 6h0m0-7h0m1 1h0m0 1h0m0 7h0m2-10h0m1 2h0m1 4h0m0 3h0m0-5h0m1-2h0m2 6h0m1-9h0m1 14h0m2-2h0m0-2h0m1 2h0m0-12h0m0 6h0m1 4h0m2-8h0m1 0h0m0 10h0m0-9h0m1-3h0m1 10h0m0 1h0m1-11h0m0 12h0m1-1h0m1 2h0m0-7h0m1-3h0m0 3h0m1 6h0m0 0h0m0-1h0m0 2h0m1-7h0m0 7h0m1-10h0m0-3h0m2 6h0m2 7h0m0-8h0m0 8h0m0-10h0m1 11h0m0-5h0m2 1h0m0 3h0m0-13h0m2 8h0m0 5h0m1-11h0m3 5h0m1-7h0m0 1h0m3 9h0m0 4h0m2-7h0m1 7h0m4-4h0m1-3h0m0 1h0m2-6h0m0 4h0m5 1h0m14 2h0m4-9h0m2 5h0m0 9h0m4-6h0m0 0h0m-11 18h0m-2-9h0m-14 1h0m-6 8h0m-5-2h0m-4-9h0m-1 7h0m-4-2h0m-2 3h0m0 0h0m0 6h0m-3-1h0m-1-11h0m-2 9h0m-2-8h0m-1 0h0m-1 4h0m-2-5h0m-1 8h0m-2 2h0m-1-7h0m-1 0h0m0-1h0m0 3h0m0-6h0m-1 6h0m-1 0h0m0 1h0m0-7h0m-5-1h0m-1 13h0m0-11h0m-1-1h0m-1-1h0m-2 12h0m0-8h0m-1 6h0m-3-2h0m0 2h0m-1-8h0m0 3h0m-1-1h0m-1 2h0m0-3h0m-2 7h0m-1 0h0m-2-4h0m-1-6h0m-1 3h0m0 1h0m0-4h0m-1 13h0m-2-7h0m0 1h0m-1 7h0m0-10h0m-1 7h0m0-7h0m-2 0h0m-2-4h0m-5 8h0m-4 4h0m-1-3h0m-2-4h0m0-5h0m-2 10h0m-1-6h0m-1 7h0m0-10h0m-2 6h0m0 1h0m-1 2h0m-1-9h0m0 2h0m-1 4h0m-1 6h0m-1-2h0m-2-4h0m-3-7h0m0 10h0m0-2h0m-2-3h0m0 9h0m-1-7h0m-4 2h0m-1-8h0m-3 12h0m-2-3h0m-2-8h0m-10 12h0m-1-10h0m-2 9h0m-20 8h0m38-4h0m16 0h0m1 3h0m3-1h0m0 9h0m1-12h0m3 8h0m1-6h0m0 1h0m4-4h0m1 2h0m1 1h0m3-3h0m2 9h0m1-4h0m1-2h0m3 0h0m4 8h0m2-8h0m5-2h0m3-1h0m3 0h0m3 5h0m2-3h0m5 4h0m0-4h0m5 4h0m0 8h0m4-8h0m0 2h0m2-4h0m2 6h0m0-2h0m8-5h0m1 1h0m6 0h0m4 4h0m22 3h0m2 2h0m2-10h0m2 11h0m27-5h0m-22 6h0m-13 2h0m-2 5h0m-3-5h0m-10 1h0m-10 3h0m-13-1h0m-3 5h0m-12-6h0m0-1h0m-1 6h0m0-4h0m-5-4h0m-2 8h0m0 1h0m-4-1h0m-13 4h0m-2-9h0m-9 3h0m-2-6h0m-3 3h0m-4 10h0m-14-2h0m-24 9h0m11-4h0m2 9h0m51-11h0m1 0h0m36 7h0m-34 15h0m-15-4h0m19 18h0m10 5h0" stroke="#d41a20" stroke-width="8.0" stroke-linecap="round" fill="none"/><path transform="scale(.1)" d="M706 1359h0m-21 15h0m-15 5h0m-27-1h0m-3 0h0m-22 10h0m6 2h0m14 1h0m0-1h0m3 0h0m5 3h0m3-3h0m3 2h0m3-5h0m7 1h0m5 5h0m2-1h0m3-7h0m3 3h0m3 2h0m1-3h0m0 6h0m1 1h0m4-11h0m3 5h0m3-3h0m3 2h0m2 4h0m7-1h0m4 2h0m6-7h0m0 2h0m10-7h0m7 13h0m13 14h0m-5 2h0m-5-12h0m-1 0h0m-3 1h0m-16-3h0m-2 10h0m-4 0h0m-1-4h0m-2-2h0m-1 9h0m-1-8h0m-1 4h0m-1 5h0m-1 0h0m-1-2h0m-1-8h0m-1-3h0m-2 10h0m-1-2h0m0 5h0m-3-7h0m-1 1h0m-1 5h0m-2-6h0m-5 1h0m0 0h0m0 1h0m-4 1h0m0-4h0m-1-4h0m0 4h0m-1 2h0m-1-7h0m0 11h0m-1-11h0m-3 6h0m-3 6h0m0-9h0m0 2h0m-1 3h0m0-4h0m-2-4h0m-1 7h0m-1 5h0m0-1h0m-1-4h0m0-2h0m-1 5h0m-3 3h0m-1-1h0m0-9h0m-1 4h0m0 3h0m-2 0h0m-1 0h0m0 0h0m-3 3h0m-5-2h0m0 2h0m-5-3h0m-1 0h0m-9-9h0m-11 10h0m0 6h0m0 5h0m2 4h0m9 2h0m2-13h0m0 6h0m2-3h0m1 9h0m2-13h0m2 14h0m1 0h0m0-3h0m1-9h0m0 8h0m1-10h0m3 4h0m1 10h0m1-4h0m1 0h0m4-4h0m0-1h0m0-3h0m0 10h0m0-12h0m2 11h0m1-3h0m0-3h0m1 9h0m0-1h0m0-12h0m0 7h0m0-2h0m2 8h0m0-2h0m1-7h0m1-4h0m1-1h0m0 13h0m4-11h0m0 10h0m0-1h0m3 2h0m1-1h0m0-6h0m2-2h0m0-2h0m0 7h0m0-8h0m1 4h0m1 8h0m0-11h0m0 7h0m2 4h0m0 0h0m1-8h0m2-3h0m0 12h0m1-9h0m2-2h0m1 10h0m0-4h0m0 2h0m1 0h0m0-3h0m2 1h0m2 3h0m1-9h0m0 11h0m0-2h0m0-2h0m0-4h0m1 3h0m1-5h0m0 2h0m0-2h0m1 2h0m1-4h0m0 4h0m0 6h0m0-1h0m4-5h0m1 7h0m1-13h0m0 13h0m2-4h0m0 5h0m1-6h0m1-6h0m1 4h0m0 3h0m2 0h0m1-3h0m0 8h0m2-4h0m0-3h0m5 7h0m1-8h0m4 5h0m3 2h0m4-4h0m8-9h0m9 11h0m0 1h0m1-2h0m22 8h0m-34 9h0m-2-10h0m-3 12h0m-1-8h0m-2 1h0m-2-6h0m-3 5h0m0 3h0m-1-8h0m0 6h0m0 6h0m-2-7h0m-2-1h0m0-1h0m-1-2h0m-2 0h0m-1-1h0m-3 6h0m-2 7h0m-2-4h0m0-9h0m0 0h0m-1 6h0m-2-6h0m0 3h0m0 8h0m-1-11h0m-1 7h0m-1-1h0m-4 3h0m0-2h0m0 2h0m-1 2h0m0-12h0m-1 7h0m-1 1h0m-2-6h0m0 8h0m0 1h0m-1-1h0m0-4h0m-1 7h0m-1-13h0m0 4h0m0 2h0m0 1h0m-1 2h0m0-9h0m-2 9h0m0-4h0m-1-2h0m0 3h0m-3-3h0m0 11h0m-1-7h0m0-3h0m-1 8h0m0-7h0m-1 1h0m-1-1h0m0 4h0m0 5h0m0-13h0m-1 8h0m0 5h0m0-5h0m0-4h0m-1-4h0m-1 13h0m-1 0h0m0 0h0m0-6h0m-1 5h0m0-2h0m-1 3h0m0 0h0m0-11h0m0-3h0m0 0h0m0 14h0m-1-7h0m-1 3h0m0-2h0m0 4h0m-1-8h0m0 7h0m0-1h0m-1 3h0m0-3h0m0 4h0m-1-14h0m0 6h0m0 5h0m-1-9h0m-1 7h0m-1 2h0m-1 0h0m0-2h0m0-2h0m-1 1h0m0-2h0m-1 2h0m0 2h0m0 4h0m-1-13h0m0 0h0m-1 13h0m0-5h0m-1-2h0m-1 2h0m0-5h0m0 5h0m-1 1h0m0-8h0m-1 4h0m0-2h0m0 10h0m0-10h0m-1 7h0m-1 3h0m0-9h0m0 0h0m-1 0h0m-2 5h0m-1-10h0m-2 1h0m-1 9h0m-1-8h0m-3 2h0m-1 8h0m-1-10h0m0 0h0m0 0h0m0 11h0m-2-8h0m-1 6h0m-7-7h0m-14-2h0m0 11h0m-10-7h0m7 14h0m4-3h0m12 12h0m2-5h0m1-1h0m7 0h0m1 3h0m0 2h0m2-10h0m1 1h0m1 1h0m1 2h0m2 4h0m0 0h0m1-10h0m0 9h0m1-4h0m1 8h0m0-5h0m0-1h0m0-5h0m0 11h0m1-9h0m0 4h0m1-2h0m1 4h0m0 3h0m1-4h0m1-8h0m2 6h0m1 2h0m0-1h0m1 1h0m2-1h0m0 2h0m0-3h0m2-2h0m0-6h0m1 12h0m0-4h0m0-3h0m3-1h0m0-2h0m1-1h0m1 1h0m0 8h0m1-1h0m1-3h0m0-1h0m1-4h0m0-1h0m0 6h0m0 0h0m1 3h0m0-8h0m1 11h0m0-7h0m0 9h0m1-1h0m0-8h0m1 9h0m0-5h0m0-9h0m0 8h0m1 0h0m0-5h0m0 3h0m1 6h0m0-6h0m1 4h0m0-8h0m0 5h0m0 0h0m1-1h0m0 1h0m0 5h0m1-11h0m0 7h0m0-3h0m1-3h0m0 9h0m2-11h0m0 5h0m0-5h0m0 5h0m0 4h0m1-5h0m1 0h0m0 0h0m0-2h0m1 2h0m0 9h0m1-11h0m0 6h0m0-2h0m0 4h0m0-6h0m1 9h0m1-13h0m0 0h0m1 9h0m0-9h0m0 2h0m1 2h0m0 6h0m0 1h0m1-11h0m0 12h0m0-7h0m0 0h0m1 4h0m1-9h0m0 13h0m0-3h0m0-8h0m1 5h0m0 6h0m1 1h0m1-4h0m0-5h0m0 9h0m0-13h0m1 5h0m0 1h0m1 5h0m0 2h0m0-4h0m1-7h0m1-2h0m0 8h0m0-9h0m1 0h0m0 3h0m0-2h0m1-1h0m1 6h0m1 5h0m0-3h0m0-8h0m1 6h0m1-6h0m2 8h0m1-4h0m2-1h0m2 7h0m0-5h0m0 6h0m1-7h0m0 8h0m1-10h0m0 2h0m0 6h0m1-9h0m2 13h0m0-4h0m3-5h0m0 4h0m1 0h0m1-2h0m0 3h0m2-9h0m2 0h0m4-1h0m11 11h0m21-8h0m-29 12h0m-6 6h0m-3-2h0m-1 10h0m-7-10h0m-2-2h0m-2 3h0m-1 2h0m-1 5h0m0-12h0m0 14h0m-1-10h0m-1-1h0m-1-1h0m-1 4h0m-1 8h0m-1-12h0m-1 4h0m-2-2h0m0 7h0m-1-4h0m-1-2h0m-1 2h0m0-4h0m-1 10h0m0-8h0m-2-2h0m0 7h0m0-5h0m-1-5h0m-1 12h0m-1-4h0m0 3h0m-1-8h0m0 2h0m0 6h0m-1 3h0m0 0h0m0-12h0m-1 1h0m-1-2h0m0 1h0m-2-1h0m0 2h0m-1 0h0m0 11h0m0-8h0m-1-6h0m0 12h0m-1-1h0m-1-8h0m0 5h0m-1-4h0m0 8h0m-2-11h0m0 5h0m-2-1h0m0 9h0m-2-1h0m-2-13h0m-1 3h0m0 8h0m-1-1h0m0-5h0m-2-4h0m0 1h0m-1-1h0m0 6h0m0 1h0m0-5h0m0 11h0m-1-9h0m0-4h0m0 1h0m-2-2h0m-1 1h0m-1 6h0m0 3h0m-1-8h0m0 0h0m-1 3h0m-1-4h0m-2 11h0m-1-12h0m-1 2h0m0 6h0m-1-3h0m-1-2h0m-2 9h0m-2-10h0m0 0h0m0 2h0m-1-3h0m0 7h0m0 6h0m-1-7h0m0-1h0m-1-6h0m-1 13h0m-3-8h0m0 5h0m-4 3h0m-7-13h0m-2 8h0m0 0h0m-7 0h0m5 9h0m3 12h0m2-6h0m1-5h0m7 0h0m1 8h0m0-11h0m3 3h0m6 9h0m0-8h0m1 4h0m3-6h0m2 9h0m2-7h0m3 8h0m1-6h0m5-2h0m0-4h0m1 6h0m1-6h0m0 3h0m3 8h0m1-11h0m3 6h0m1 6h0m4 0h0m0-12h0m1 1h0m0 6h0m0 2h0m0-1h0m1-7h0m1 5h0m0-6h0m1 9h0m1-6h0m0 4h0m1-4h0m0 10h0m2-11h0m0 5h0m2 6h0m1-5h0m2-6h0m2-2h0m1 2h0m1 0h0m0-1h0m1 8h0m2-1h0m4 6h0m2-4h0m2 2h0m0 0h0m12-5h0m31 1h0m5 5h0m2-11h0m-25 16h0m-19 5h0m0-7h0m-9-1h0m-6 7h0m-1 2h0m0-7h0m-3 4h0m-7-4h0m-3 0h0m-5 4h0m0-1h0m-1 3h0m-8 1h0m-1-9h0m-3 4h0m-1 5h0m-17-6h0m-2 1h0m-14-3h0m-14 10h0m-8-6h0m11 21h0m22-10h0m13-1h0m2 10h0m8-7h0m35 2h0" stroke="#b80c14" stroke-width="10.0" stroke-linecap="round" fill="none"/></g><rect x="27.2" y="93.4" width="70.2" height="70.7" fill="none" stroke="#333" stroke-width="0.7"/><line x1="47.4" y1="93.4" x2="47.4" y2="164.1" stroke="#333" stroke-width="0.5"/><line x1="27.2" y1="143.6" x2="97.4" y2="143.6" stroke="#333" stroke-width="0.5"/><text x="33.2" y="104.4" font-size="8" font-weight="bold">a</text><text x="93.9" y="105.4" font-size="5.2" text-anchor="end" fill="#222" stroke="#222" stroke-width="0.18">36.40%</text><text x="29.2" y="97.7" font-size="3.2" fill="#2a2a2a" stroke="#2a2a2a" stroke-width="0.11">Q1-UL(0.00%)</text><text x="95.9" y="97.7" font-size="3.2" text-anchor="end" fill="#2a2a2a" stroke="#2a2a2a" stroke-width="0.11">Q1-UR(36.40%)</text><text x="29.2" y="162.6" font-size="3.2" fill="#2a2a2a" stroke="#2a2a2a" stroke-width="0.11">Q1-LL(0.00%)</text><text x="95.9" y="162.6" font-size="3.2" text-anchor="end" fill="#2a2a2a" stroke="#2a2a2a" stroke-width="0.11">Q1-LR(63.60%)</text><line x1="26.3" y1="93.4" x2="27.2" y2="93.4" stroke="#555" stroke-width="0.35"/><line x1="27.2" y1="164.1" x2="27.2" y2="165" stroke="#555" stroke-width="0.35"/><line x1="26.3" y1="96.77" x2="27.2" y2="96.77" stroke="#555" stroke-width="0.35"/><line x1="30.54" y1="164.1" x2="30.54" y2="165" stroke="#555" stroke-width="0.35"/><line x1="26.3" y1="100.13" x2="27.2" y2="100.13" stroke="#555" stroke-width="0.35"/><line x1="33.89" y1="164.1" x2="33.89" y2="165" stroke="#555" stroke-width="0.35"/><line x1="26.3" y1="103.5" x2="27.2" y2="103.5" stroke="#555" stroke-width="0.35"/><line x1="37.23" y1="164.1" x2="37.23" y2="165" stroke="#555" stroke-width="0.35"/><line x1="26.3" y1="106.87" x2="27.2" y2="106.87" stroke="#555" stroke-width="0.35"/><line x1="40.57" y1="164.1" x2="40.57" y2="165" stroke="#555" stroke-width="0.35"/><line x1="26.3" y1="110.23" x2="27.2" y2="110.23" stroke="#555" stroke-width="0.35"/><line x1="43.91" y1="164.1" x2="43.91" y2="165" stroke="#555" stroke-width="0.35"/><line x1="26.3" y1="113.6" x2="27.2" y2="113.6" stroke="#555" stroke-width="0.35"/><line x1="47.26" y1="164.1" x2="47.26" y2="165" stroke="#555" stroke-width="0.35"/><line x1="26.3" y1="116.97" x2="27.2" y2="116.97" stroke="#555" stroke-width="0.35"/><line x1="50.6" y1="164.1" x2="50.6" y2="165" stroke="#555" stroke-width="0.35"/><line x1="26.3" y1="120.33" x2="27.2" y2="120.33" stroke="#555" stroke-width="0.35"/><line x1="53.94" y1="164.1" x2="53.94" y2="165" stroke="#555" stroke-width="0.35"/><line x1="26.3" y1="123.7" x2="27.2" y2="123.7" stroke="#555" stroke-width="0.35"/><line x1="57.29" y1="164.1" x2="57.29" y2="165" stroke="#555" stroke-width="0.35"/><line x1="26.3" y1="127.07" x2="27.2" y2="127.07" stroke="#555" stroke-width="0.35"/><line x1="60.63" y1="164.1" x2="60.63" y2="165" stroke="#555" stroke-width="0.35"/><line x1="26.3" y1="130.43" x2="27.2" y2="130.43" stroke="#555" stroke-width="0.35"/><line x1="63.97" y1="164.1" x2="63.97" y2="165" stroke="#555" stroke-width="0.35"/><line x1="26.3" y1="133.8" x2="27.2" y2="133.8" stroke="#555" stroke-width="0.35"/><line x1="67.31" y1="164.1" x2="67.31" y2="165" stroke="#555" stroke-width="0.35"/><line x1="26.3" y1="137.17" x2="27.2" y2="137.17" stroke="#555" stroke-width="0.35"/><line x1="70.66" y1="164.1" x2="70.66" y2="165" stroke="#555" stroke-width="0.35"/><line x1="26.3" y1="140.53" x2="27.2" y2="140.53" stroke="#555" stroke-width="0.35"/><line x1="74" y1="164.1" x2="74" y2="165" stroke="#555" stroke-width="0.35"/><line x1="26.3" y1="143.9" x2="27.2" y2="143.9" stroke="#555" stroke-width="0.35"/><line x1="77.34" y1="164.1" x2="77.34" y2="165" stroke="#555" stroke-width="0.35"/><line x1="26.3" y1="147.27" x2="27.2" y2="147.27" stroke="#555" stroke-width="0.35"/><line x1="80.69" y1="164.1" x2="80.69" y2="165" stroke="#555" stroke-width="0.35"/><line x1="26.3" y1="150.63" x2="27.2" y2="150.63" stroke="#555" stroke-width="0.35"/><line x1="84.03" y1="164.1" x2="84.03" y2="165" stroke="#555" stroke-width="0.35"/><line x1="26.3" y1="154" x2="27.2" y2="154" stroke="#555" stroke-width="0.35"/><line x1="87.37" y1="164.1" x2="87.37" y2="165" stroke="#555" stroke-width="0.35"/><line x1="26.3" y1="157.37" x2="27.2" y2="157.37" stroke="#555" stroke-width="0.35"/><line x1="90.71" y1="164.1" x2="90.71" y2="165" stroke="#555" stroke-width="0.35"/><line x1="26.3" y1="160.73" x2="27.2" y2="160.73" stroke="#555" stroke-width="0.35"/><line x1="94.06" y1="164.1" x2="94.06" y2="165" stroke="#555" stroke-width="0.35"/><line x1="26.3" y1="164.1" x2="27.2" y2="164.1" stroke="#555" stroke-width="0.35"/><line x1="97.4" y1="164.1" x2="97.4" y2="165" stroke="#555" stroke-width="0.35"/><text x="22.6" y="95.7" font-size="3.1" text-anchor="middle" fill="#2a2a2a" transform="rotate(-90 22.6 95.7)" stroke="#2a2a2a" stroke-width="0.11">10⁵</text><text x="22.6" y="107.3" font-size="3.1" text-anchor="middle" fill="#2a2a2a" transform="rotate(-90 22.6 107.3)" stroke="#2a2a2a" stroke-width="0.11">10⁴</text><text x="22.6" y="118.9" font-size="3.1" text-anchor="middle" fill="#2a2a2a" transform="rotate(-90 22.6 118.9)" stroke="#2a2a2a" stroke-width="0.11">10³</text><text x="22.6" y="130.5" font-size="3.1" text-anchor="middle" fill="#2a2a2a" transform="rotate(-90 22.6 130.5)" stroke="#2a2a2a" stroke-width="0.11">10²</text><text x="22.6" y="142.1" font-size="3.1" text-anchor="middle" fill="#2a2a2a" transform="rotate(-90 22.6 142.1)" stroke="#2a2a2a" stroke-width="0.11">10¹</text><text x="22.6" y="153.7" font-size="3.1" text-anchor="middle" fill="#2a2a2a" transform="rotate(-90 22.6 153.7)" stroke="#2a2a2a" stroke-width="0.11">0</text><text x="19" y="119.9" font-size="3.1" text-anchor="middle" fill="#2a2a2a" transform="rotate(-90 19 119.9)" stroke="#2a2a2a" stroke-width="0.11">Tim3 APC-A</text><text x="27.2" y="169.1" font-size="3.1" text-anchor="middle" fill="#2a2a2a" stroke="#2a2a2a" stroke-width="0.11">0</text><text x="46.2" y="169.1" font-size="3.1" text-anchor="middle" fill="#2a2a2a" stroke="#2a2a2a" stroke-width="0.11">10²</text><text x="56.7" y="169.1" font-size="3.1" text-anchor="middle" fill="#2a2a2a" stroke="#2a2a2a" stroke-width="0.11">10³</text><text x="67.2" y="169.1" font-size="3.1" text-anchor="middle" fill="#2a2a2a" stroke="#2a2a2a" stroke-width="0.11">10⁴</text><text x="78.7" y="169.1" font-size="3.1" text-anchor="middle" fill="#2a2a2a" stroke="#2a2a2a" stroke-width="0.11">10⁵</text><text x="88.2" y="169.1" font-size="3.1" text-anchor="middle" fill="#2a2a2a" stroke="#2a2a2a" stroke-width="0.11">10⁶</text><text x="62.3" y="175.4" font-size="3.2" text-anchor="middle" fill="#2a2a2a" stroke="#2a2a2a" stroke-width="0.11">CD138 FITC-A</text><g clip-path="url(#c5)"><path transform="scale(.1)" d="M1744 1168h0m-150 9h0m89-2h0m43 19h0m-30 15h0m59 1h0m-46 9h0m-63-3h0m-81 23h0m61 4h0m9-4h0m8-7h0m87 11h0m21-6h0m-42 22h0m-25-11h0m-15 7h0m-2-5h0m-3-5h0m-9 5h0m-4 6h0m-10-1h0m-3-7h0m-2-3h0m-22 1h0m-5 7h0m-17 1h0m-18 2h0m11 9h0m0 7h0m0-10h0m7 9h0m11-11h0m44 14h0m45-13h0m2 0h0m50 23h0m-49-4h0m-31 2h0m-30-5h0m-8 12h0m-3 0h0m-7-6h0m-2 5h0m-8-3h0m-11-5h0m-5 7h0m-23-2h0m-45 10h0m38 3h0m7 1h0m2-8h0m6 0h0m1 6h0m1-2h0m2 3h0m10 5h0m1 0h0m18-5h0m20 4h0m3-5h0m1-2h0m3-5h0m0 5h0m0-5h0m24 14h0m13-3h0m16-6h0m33 7h0m-8 6h0m-43 5h0m-15-2h0m-4 1h0m-7-7h0m0 2h0m-23 0h0m-5 6h0m-5-5h0m-1 11h0m-3-7h0m-7-5h0m-39 2h0m0 4h0m-11-6h0m-7 12h0m-11-10h0m-4-1h0m-3 9h0m-13-10h0m-7 12h0m-26-13h0m20 25h0m26-5h0m13 5h0m7-2h0m4-6h0m11 3h0m1-1h0m1 4h0m4-1h0m7 5h0m28-11h0m10 5h0m3-6h0m0 4h0m3 2h0m1 0h0m10-6h0m22 4h0m18 9h0m17-12h0m20 2h0m10 21h0m-9-9h0m-14 11h0m-14-4h0m-5 3h0m-10 0h0m-5-9h0m-30 11h0m-6-8h0m-8-4h0m-8 7h0m-14 1h0m-2-6h0m-21 4h0m-2 1h0m-2-7h0m-9 3h0m-1 7h0m-5-8h0m-1 5h0m0-6h0m-2 2h0m-3 3h0m-9 4h0m-7-6h0m0 9h0m-7-2h0m-73 16h0m5-11h0m46 9h0m5 2h0m1-8h0m10 5h0m0 4h0m6-9h0m8 0h0m19 6h0m8 3h0m2-14h0m11 1h0m2 6h0m7 2h0m6-8h0m1-1h0m9 10h0m7-2h0m1-7h0m0 5h0m10 0h0m16 6h0m10-11h0m5 1h0m24 0h0m-29 20h0m-6 1h0m-6 6h0m-15-14h0m-3 14h0m-12-1h0m-16-13h0m-1 5h0m-15-3h0m-5 6h0m-7 1h0m-17-3h0m-1 2h0m-7 3h0m-9-6h0m-15 8h0m-27 4h0m16 2h0m4 2h0m24 6h0m24-5h0m1-7h0m9 8h0m11 5h0m20-4h0m21-1h0m7-4h0m6 7h0m20-5h0m12 3h0m6-5h0m10-1h0m26-1h0m4 9h0m-31 15h0m-17-6h0m-12-2h0m-9 1h0m-12 10h0m-16-5h0m-6 2h0m-2-1h0m-11-5h0m-16 2h0m-4 5h0m-2-1h0m-7-5h0m-16 7h0m-12-2h0m-4 2h0m-11-13h0m-18 1h0m42 28h0m2-14h0m5 4h0m2 4h0m8 1h0m4-8h0m1-1h0m5 3h0m6 7h0m17-9h0m0 3h0m18 4h0m2-8h0m2 3h0m30-3h0m13 23h0m-75-2h0m-9-4h0m-18 0h0m-22 7h0m-27-6h0m-11 9h0m-8-9h0m-2 7h0m-37 15h0m67 2h0m65-9h0m60 22h0m-63 2h0m-34-1h0m-27 15h0m33 12h0m-121 16h0" stroke="#de4048" stroke-width="5.6" stroke-linecap="round" fill="none"/><path transform="scale(.1)" d="M1529 1262h0m19 7h0m4-1h0m18-1h0m8 17h0m-5 5h0m-8 0h0m-4-1h0m-6-2h0m-1-3h0m-5-7h0m-4 6h0m-2 7h0m-2-1h0m-7-13h0m-15 7h0m-30-2h0m-6-2h0m-3 24h0m14-1h0m5 1h0m1-10h0m3 3h0m1-1h0m1 7h0m15-3h0m11 2h0m2-6h0m2 10h0m6 0h0m2-7h0m3-6h0m5 9h0m2 2h0m1-4h0m1-6h0m3 1h0m2-3h0m1 7h0m4 6h0m5-7h0m1 7h0m29 8h0m-7 8h0m-7-13h0m-6 0h0m-1 7h0m0 5h0m-1-13h0m0 5h0m-3 6h0m-3-7h0m-1 8h0m-1-6h0m-2 2h0m0-1h0m0 5h0m0 2h0m-4-5h0m0-4h0m0 1h0m-2 7h0m-3-11h0m-1 3h0m-2-5h0m-2 13h0m-1-1h0m-1-1h0m-5-9h0m-1 2h0m0 8h0m0-6h0m0 8h0m-1-1h0m-1-5h0m0-4h0m-1-1h0m-2 9h0m0-1h0m-1 1h0m-2-7h0m-3 4h0m-2 4h0m-2-5h0m-2-6h0m-5 10h0m-1 0h0m-1-11h0m-6-1h0m-1 4h0m-1 10h0m-1-10h0m-9 7h0m-1-3h0m-27-7h0m-1 18h0m13-2h0m2 8h0m13-2h0m0-6h0m10 9h0m1-4h0m0 4h0m0-8h0m3 5h0m0 0h0m4-7h0m1 11h0m0 0h0m3 0h0m0-11h0m1 4h0m0-3h0m2 7h0m1-4h0m1 8h0m1-13h0m0 10h0m8 2h0m3 2h0m2-10h0m1 8h0m1-3h0m0-9h0m1 5h0m1 3h0m1 6h0m1-3h0m0-6h0m1 8h0m1-8h0m1-5h0m0 5h0m1-5h0m1 6h0m1-3h0m1 0h0m0 5h0m4-4h0m4 2h0m4-2h0m0 0h0m2-4h0m2 7h0m1 7h0m3-7h0m0 6h0m1-3h0m3-9h0m2 3h0m3-2h0m1 11h0m1-10h0m4 6h0m4-7h0m2-1h0m3 4h0m0 3h0m1-1h0m2 7h0m0-4h0m9-4h0m4-2h0m-7 24h0m-3-1h0m-1-7h0m-3 0h0m-8 6h0m-4-8h0m-1 4h0m-4 7h0m-1-11h0m-2 1h0m-2 10h0m-1-6h0m-1 0h0m-3-6h0m-1 5h0m0-5h0m-1 6h0m-1 5h0m-1-5h0m-2-1h0m-1 1h0m-1 1h0m-2 0h0m0-2h0m0 3h0m0-3h0m-1 3h0m-2-9h0m-1 9h0m0-7h0m-3 0h0m0 7h0m-1 3h0m0-6h0m-1-6h0m-1-1h0m0 6h0m-1 6h0m0-7h0m-1-4h0m0 7h0m-1-1h0m-3 7h0m-1-4h0m0-3h0m-1-2h0m0 3h0m-1-6h0m0 1h0m-1 2h0m0 6h0m-4 0h0m-3-1h0m-1-10h0m-2 3h0m-1 10h0m0 1h0m-1-4h0m-1-2h0m0 2h0m-1-3h0m-1 0h0m-4 3h0m0 3h0m-2-13h0m0 9h0m-3 4h0m-1-6h0m-2-2h0m0 1h0m-1 1h0m0-4h0m-4 10h0m-1-11h0m0 0h0m0-1h0m-2 9h0m-2 1h0m-2-6h0m-2 3h0m-19-4h0m-5 10h0m-4-7h0m-5-4h0m22 14h0m2 12h0m2-11h0m3 8h0m1-5h0m4 5h0m2-1h0m2-9h0m1 9h0m4 2h0m2-6h0m0 4h0m8-3h0m2 4h0m0 2h0m1-10h0m0 2h0m2 1h0m3-2h0m1 0h0m0-3h0m7 1h0m6 11h0m1-3h0m0 2h0m2-11h0m3 7h0m0 1h0m2-6h0m0-2h0m1 10h0m1-9h0m0 6h0m1 6h0m0-8h0m1 5h0m1 3h0m0-14h0m3 13h0m2-2h0m3 2h0m0-5h0m2 3h0m0-8h0m2 8h0m1-9h0m3-2h0m1 14h0m1-2h0m1-7h0m1 6h0m2-8h0m0 3h0m1 5h0m1 2h0m4-9h0m1 8h0m5-1h0m0 3h0m5-4h0m7-4h0m16 4h0m1-6h0m-3 18h0m-4-6h0m-9 5h0m-8 4h0m0-2h0m-4-8h0m-2 1h0m-10 5h0m-1-2h0m0 5h0m-3 3h0m0-4h0m-2-7h0m-6 7h0m0-2h0m-1-6h0m-6 2h0m0 9h0m-3-5h0m0-1h0m0 5h0m-1-2h0m0 3h0m-1-9h0m0 4h0m-1 5h0m0-10h0m0 6h0m-2-6h0m0 1h0m-4 4h0m0-5h0m-1 6h0m0 7h0m-2-10h0m0-2h0m0-2h0m-1 11h0m-1-4h0m-2 5h0m-2-9h0m-5 8h0m-1-8h0m0 9h0m0-5h0m-5 6h0m-3-10h0m-3 1h0m-4 7h0m-1 2h0m-1-4h0m-2 5h0m-13-1h0m-2-12h0m2 22h0m7-3h0m7 2h0m0 5h0m4-8h0m1-4h0m4 5h0m2-3h0m3-1h0m3 6h0m9-6h0m7 8h0m3-7h0m2 6h0m5 5h0m0-6h0m0 1h0m2-5h0m2 10h0m0-12h0m1 6h0m4 4h0m2-6h0m5 1h0m3 7h0m8-5h0m9-4h0m7-1h0m2 5h0m12-5h0m2 10h0m36 14h0m-48-12h0m-7 2h0m-1 4h0m-4-5h0m-1 3h0m-1 7h0m-7-8h0m-12 8h0m-6-10h0m-3 2h0m-2 1h0m-9 2h0m0 5h0m-10-4h0m-1-2h0m-20-5h0m17 27h0m39 2h0m7-14h0m1 6h0m38-4h0m-18 27h0m-8-2h0m-55-11h0" stroke="#d41a20" stroke-width="7.2" stroke-linecap="round" fill="none"/><path transform="scale(.1)" d="M1510 1308h0m14 53h0m54-3h0m-31 20h0m-2-8h0m-19-1h0m-12 7h0m-15 17h0m17 0h0m14 1h0m9-4h0m16 3h0m7-6h0m11 7h0m2-3h0m6-10h0m-5 28h0m-2-2h0m-11 0h0m-14 1h0m-3-12h0m-1-1h0m-31 19h0m23 5h0m4 5h0m5-6h0m6 2h0m2-1h0m9-4h0m20 2h0m1 1h0m15 5h0m11-8h0m-11 23h0m-4 0h0m-9-13h0m0 4h0m-14 6h0m-1-2h0m0 0h0m-4 4h0m-2-3h0m-6-7h0m-3 3h0m-5 2h0m-2 5h0m-4-5h0m-3-1h0m-2-5h0m0 3h0m-1 6h0m0-2h0m-4 5h0m-3 0h0m-1-4h0m-4-2h0m-5-5h0m-2 7h0m-9 4h0m0-13h0m-9 13h0m-4 2h0m13 13h0m3-7h0m4-2h0m1 3h0m1-5h0m2 8h0m3-10h0m2 14h0m1-14h0m4 8h0m1-8h0m1 9h0m0-4h0m2 5h0m1-2h0m3 5h0m1 0h0m1 0h0m3-2h0m2-9h0m1 12h0m2-8h0m3-6h0m1 4h0m1 10h0m0-2h0m1-2h0m1-8h0m0 11h0m1-8h0m1 6h0m2-2h0m0 4h0m2 1h0m1-6h0m1 3h0m1 0h0m0-7h0m1-1h0m1 6h0m0 2h0m5-8h0m1 9h0m4-10h0m0 10h0m8-4h0m5-6h0m3 9h0m0-2h0m2-2h0m8 3h0m30 18h0m-42-9h0m-2 1h0m-3 4h0m0-1h0m-1-5h0m-3-1h0m-2-2h0m-1 12h0m-2-9h0m-1 8h0m-1-9h0m-1-1h0m-1 8h0m-1 2h0m-4-5h0m-3-6h0m-1 14h0m0-5h0m-3-9h0m0 8h0m-1 2h0m-1-4h0m0 4h0m0-2h0m-2-2h0m-3-1h0m-1 6h0m0 0h0m0-4h0m-1 5h0m0 2h0m0-11h0m-1 3h0m0-6h0m-1 12h0m0-12h0m-2 6h0m0-2h0m-3-2h0m-2 9h0m0-8h0m0 1h0m-1 9h0m0-10h0m-2 0h0m-1 1h0m0 5h0m-1-1h0m-1-3h0m-2-2h0m-1 1h0m0 1h0m-3 7h0m0-9h0m-2 7h0m-3-2h0m0-4h0m0-4h0m-1 11h0m-1-7h0m0-4h0m-2 9h0m0-2h0m-2 0h0m0-7h0m-2 11h0m-4-8h0m-1 7h0m0 3h0m-1-6h0m-1-6h0m-2 0h0m-5 0h0m-1 0h0m-14 8h0m-3-3h0m-10 11h0m16 3h0m6 2h0m1 0h0m3 2h0m7 1h0m0-9h0m5 0h0m4 12h0m2 1h0m1-6h0m0 1h0m2 3h0m6 1h0m0-8h0m2-2h0m1 7h0m1 0h0m1-8h0m1 10h0m0-3h0m0 1h0m1-7h0m1 8h0m0-4h0m0 7h0m1-13h0m1 4h0m1-2h0m1 10h0m0-6h0m1-6h0m2 12h0m0-7h0m1-3h0m0 8h0m2-4h0m1 3h0m3-1h0m0-9h0m1 12h0m0-5h0m1-6h0m0 12h0m1-5h0m0 4h0m1 1h0m0 0h0m3-9h0m1 7h0m1-6h0m2 2h0m1-1h0m2 7h0m1 0h0m1-10h0m0 7h0m1 1h0m1-10h0m2 7h0m1 6h0m3-14h0m1 8h0m0 5h0m5-2h0m0-7h0m1 1h0m3 0h0m3 1h0m1 1h0m2 4h0m5-4h0m23 19h0m-10-11h0m-4 12h0m-4-1h0m-3 0h0m-1-11h0m-1 11h0m-1-11h0m0 13h0m-3-1h0m-1 1h0m-2 0h0m0-1h0m-2-9h0m-2-1h0m0 5h0m-1 4h0m0-2h0m-2-4h0m-2 6h0m-2-11h0m0 5h0m-1-1h0m0 5h0m-1 5h0m0 0h0m0-2h0m-2-12h0m-1 0h0m0 10h0m-1-10h0m-2 12h0m-1-6h0m-2 5h0m0-1h0m-1-8h0m0 3h0m0 8h0m-1-8h0m-1 0h0m0-1h0m-1 5h0m-2-1h0m0-2h0m-2 0h0m-1 8h0m-2-3h0m-1 1h0m-1 0h0m0-10h0m0 9h0m-1-1h0m0-10h0m-2 12h0m-1-8h0m-1 4h0m0 4h0m-1-7h0m0 0h0m0-5h0m-1 6h0m0-4h0m0 11h0m0-5h0m-1 0h0m-1-6h0m-1 4h0m-3-3h0m0 0h0m0 7h0m0-5h0m-1 9h0m-1-6h0m0 3h0m-1-4h0m0-2h0m0-2h0m0 10h0m0 0h0m0-7h0m-1 5h0m0-10h0m-1 1h0m0-1h0m-1 8h0m0-6h0m-1 9h0m-1-11h0m0 11h0m-1 2h0m-2-10h0m0 7h0m0-7h0m-1 10h0m0-6h0m0 0h0m-2 5h0m-1-11h0m-1 5h0m-2-1h0m-1-5h0m0 12h0m-1-6h0m0 7h0m0-11h0m-1 10h0m-1-6h0m0 2h0m-1 4h0m0-6h0m-1-7h0m-1 0h0m0 14h0m-2-12h0m-2 11h0m0-4h0m-6-1h0m-3 6h0m-5-3h0m-7-6h0m-6 7h0m-12-2h0m-8 5h0m32 2h0m0 3h0m6 9h0m1-2h0m1-1h0m2-3h0m3-7h0m0 6h0m0 1h0m8 2h0m1-6h0m0-1h0m5 0h0m1 8h0m0-8h0m0-1h0m1-2h0m0 1h0m2 13h0m0-12h0m0 2h0m0 8h0m0-5h0m1 6h0m1-4h0m0 4h0m0 1h0m2-1h0m0-3h0m0 4h0m1-9h0m0 0h0m1-1h0m0-1h0m0 2h0m1 1h0m1 0h0m1-1h0m0 3h0m0 5h0m1 0h0m0 0h0m0-3h0m1-5h0m1-2h0m0 3h0m1 4h0m0-3h0m0-7h0m1 11h0m1-7h0m0 8h0m0-6h0m0 8h0m1-2h0m0-2h0m1-9h0m0 7h0m0-3h0m0-1h0m1-3h0m0 12h0m2-7h0m0-3h0m1 9h0m1 1h0m0-5h0m0-5h0m2 10h0m0-4h0m0-3h0m0 3h0m0 4h0m0-3h0m0-6h0m1 6h0m0-9h0m0 9h0m1-8h0m1 3h0m0 4h0m0 5h0m0-3h0m0-1h0m1 0h0m0-2h0m0-3h0m0 4h0m1 1h0m1 1h0m0-10h0m1 12h0m1-13h0m1 8h0m0 3h0m0-10h0m1 2h0m0-2h0m1 7h0m0 0h0m1 5h0m0-2h0m0 2h0m0 0h0m1-2h0m0-9h0m0 1h0m0-2h0m0 2h0m1-3h0m0 13h0m0-9h0m1-3h0m0 9h0m0-7h0m1 10h0m0-2h0m1-4h0m0 4h0m0 3h0m3-10h0m1-3h0m0 7h0m0-5h0m0 5h0m2-6h0m1 5h0m0-5h0m0 7h0m2 1h0m2-3h0m1 7h0m0 0h0m0-3h0m1-4h0m1 5h0m1 1h0m0-9h0m0 1h0m0 9h0m2-10h0m2-4h0m1 11h0m1-1h0m0 3h0m1-13h0m4 10h0m6-8h0m2 12h0m1-9h0m1 8h0m3 1h0m1-12h0m3 2h0m1 1h0m2 3h0m13 9h0m-12 9h0m0 1h0m-23 2h0m-1-6h0m0-8h0m-2 5h0m-3 5h0m-2 1h0m-1-6h0m-1 3h0m-1-8h0m-1 2h0m0 12h0m-1-7h0m0-2h0m-1 5h0m-5-10h0m0 8h0m0-8h0m-1 6h0m-1-5h0m0 0h0m0 2h0m-2 6h0m-1-5h0m0 7h0m-1-3h0m0-4h0m0-2h0m0 0h0m-1 6h0m-1-4h0m-1 9h0m-1 0h0m0-7h0m-1 7h0m-1-13h0m0 0h0m-2 9h0m0-8h0m0-1h0m-1 8h0m0-4h0m-1-3h0m0-1h0m-1 8h0m0 4h0m0 1h0m0-9h0m0 4h0m-1-3h0m0 8h0m-1-5h0m-1 0h0m0-8h0m0 2h0m0 8h0m-1-4h0m-1-2h0m0 9h0m0-7h0m0 0h0m-1 3h0m0 3h0m-1-12h0m0 6h0m0 8h0m-1-12h0m0 0h0m0-2h0m-2 14h0m0-12h0m-1 10h0m-1-3h0m0 1h0m0 0h0m-1-1h0m0 0h0m0-2h0m-1 6h0m0-9h0m-1-4h0m0 2h0m0 6h0m-1 6h0m0-9h0m0 0h0m-1 4h0m-1-2h0m0-7h0m-1 13h0m-2-2h0m-2 2h0m0 0h0m0-13h0m0 9h0m-1-5h0m0-3h0m-1 4h0m0-3h0m0 5h0m-1-1h0m0 8h0m0-8h0m-1-4h0m0 3h0m-1 7h0m0-10h0m-1 7h0m0-7h0m0 11h0m0-11h0m-2 8h0m0-3h0m-1 3h0m0 3h0m-1-8h0m-1 6h0m0-10h0m-2 6h0m0 1h0m-1 6h0m-2-9h0m-4 7h0m-1-7h0m0 3h0m-4-7h0m-3 13h0m0-8h0m0 5h0m-1-11h0m-12 7h0m-39 2h0m27 6h0m2 9h0m14 0h0m4-7h0m3-2h0m1 3h0m0-3h0m2 7h0m0 3h0m1-8h0m1 10h0m0 2h0m1-8h0m4 2h0m2-8h0m2 4h0m1-2h0m1 5h0m0-1h0m1 8h0m0-14h0m1 12h0m0-11h0m0 10h0m1-7h0m0-1h0m2 0h0m0 5h0m1-8h0m0 0h0m0 8h0m1 0h0m0-2h0m1 7h0m1-11h0m0 1h0m1-3h0m0 4h0m0 7h0m1 2h0m1-4h0m1-6h0m1 1h0m0 3h0m1 7h0m1-11h0m0 1h0m0-3h0m1 13h0m0-8h0m0 7h0m0-3h0m1-4h0m0-1h0m1 6h0m0 3h0m0-9h0m1-5h0m0 12h0m0-10h0m0 12h0m1-8h0m0-5h0m1 5h0m0 5h0m1 3h0m0-12h0m1 0h0m0 11h0m1-8h0m0 8h0m0-9h0m0 10h0m1-7h0m0-2h0m0-5h0m1 6h0m1-2h0m1 3h0m0 2h0m1-1h0m1 1h0m0 3h0m1-3h0m0-9h0m0 6h0m0-5h0m1 2h0m1 8h0m0-11h0m0 4h0m0 1h0m2 5h0m0-6h0m1-1h0m0 11h0m0-4h0m1 1h0m0-9h0m0 10h0m0-11h0m1 2h0m0 9h0m1-1h0m0-10h0m0 1h0m0 0h0m0 4h0m1 1h0m0-4h0m0 5h0m0 0h0m0 5h0m1-13h0m0 13h0m1-8h0m0-3h0m1 8h0m0-5h0m0-5h0m1 13h0m0-4h0m0-5h0m1 10h0m0-5h0m0 2h0m0-11h0m0 13h0m0 1h0m1-10h0m0 8h0m1-5h0m2-4h0m1 10h0m0-5h0m1 0h0m0-5h0m1 6h0m0-6h0m1 11h0m1-7h0m1-1h0m1 1h0m0-3h0m0-4h0m2 8h0m0 1h0m0-6h0m1 9h0m0-6h0m0-5h0m1 3h0m0 7h0m1-1h0m2-2h0m0-8h0m1 12h0m1-8h0m1 8h0m1-7h0m3-4h0m2 5h0m2 2h0m4-6h0m0-1h0m1 12h0m3 1h0m0-5h0m1-1h0m0 3h0m4-11h0m1 1h0m1 13h0m3-1h0m-4 5h0m0 5h0m-4 6h0m-3-14h0m-7 1h0m-1 9h0m-1-9h0m-1 2h0m0 0h0m-3 0h0m0 11h0m-1-9h0m0-4h0m-3-1h0m0 13h0m0-3h0m-3-9h0m-3 4h0m0-2h0m-1 10h0m0-11h0m0-1h0m0 9h0m-3-6h0m-1 1h0m0 6h0m0-9h0m0 8h0m0 1h0m-1-4h0m0-7h0m-3 8h0m-1-7h0m-1-1h0m-1 4h0m-2 5h0m0-8h0m-1-1h0m-1 2h0m-1 5h0m0-7h0m0 1h0m0 5h0m-1 1h0m0 7h0m-1-2h0m0 0h0m0-5h0m-1-1h0m-1-1h0m0-5h0m-1 4h0m0 4h0m-3-4h0m0-4h0m-1 3h0m0 6h0m-1-8h0m-1 6h0m0-1h0m-1 7h0m0-2h0m0 0h0m-1-4h0m-1 0h0m0 4h0m-1-7h0m0 2h0m0-1h0m-1 1h0m-1-2h0m-1 2h0m0-2h0m0 1h0m-1 7h0m-1-12h0m-1 2h0m-1 9h0m0-1h0m0-5h0m0 0h0m-1 2h0m0-3h0m0 1h0m0-2h0m0-3h0m0 9h0m-1-2h0m-1-5h0m0 0h0m-2 8h0m-1 4h0m-1-13h0m-1 11h0m0-9h0m0 4h0m0 4h0m-1-8h0m0 2h0m-1 0h0m0-4h0m-1 1h0m0 7h0m-1 4h0m0-4h0m0 5h0m-1-9h0m0-3h0m0 1h0m0-2h0m-2 0h0m-1 8h0m-1 3h0m-4-4h0m0-1h0m-2-7h0m0 6h0m-1 0h0m0-5h0m0 3h0m-1 2h0m-1 0h0m0 3h0m-2 0h0m0-6h0m0 10h0m0-11h0m0 3h0m-2 4h0m-1-2h0m0 7h0m-2-9h0m-1 8h0m-5 0h0m-11-9h0m-7 3h0m19 18h0m2 0h0m4-8h0m3 11h0m2-8h0m2 3h0m0-5h0m3 0h0m1 11h0m0-1h0m5-4h0m1 2h0m0-7h0m1-2h0m1 3h0m0-3h0m1 4h0m1-2h0m0 3h0m1-5h0m1 12h0m1-2h0m0-12h0m1 12h0m0-4h0m1 3h0m0 3h0m0-13h0m0 13h0m0 0h0m0-11h0m1 1h0m0 3h0m1 0h0m0 5h0m0-1h0m0 3h0m0-6h0m2-8h0m0 7h0m1-3h0m1 4h0m0-4h0m0-3h0m1 11h0m0-4h0m0 0h0m0 2h0m3 2h0m1-10h0m1 8h0m1-6h0m0 9h0m0-6h0m1 6h0m1-7h0m0-6h0m0 5h0m0 6h0m1-6h0m1 7h0m0-4h0m2 1h0m0-6h0m0 2h0m0-3h0m0 11h0m0 0h0m1-5h0m0 5h0m1-4h0m1-4h0m0-5h0m1 3h0m0-3h0m0 10h0m1 1h0m1-2h0m1 3h0m1-12h0m0 9h0m0-6h0m1 4h0m1 5h0m0-5h0m2 4h0m1 3h0m0-8h0m3 0h0m1 2h0m0-4h0m0 2h0m1-1h0m0 0h0m0-3h0m1 2h0m0-2h0m0-2h0m1 2h0m1 11h0m0-12h0m2 5h0m0-4h0m2 9h0m1-3h0m1 6h0m4-4h0m1 0h0m0-9h0m1 13h0m3-4h0m1-7h0m0-2h0m2 11h0m0-6h0m1-4h0m0-1h0m3 0h0m14 3h0m17-4h0m-29 17h0m0 5h0m-13 4h0m0-8h0m-9 7h0m-3 1h0m-1 0h0m0-9h0m-1 3h0m-2 0h0m-1 9h0m0-8h0m-1 3h0m-2 0h0m-1-2h0m-1-5h0m-1 11h0m0-4h0m-1-6h0m-1-1h0m-1 11h0m-2-11h0m0 8h0m-1-10h0m0 0h0m0 7h0m-1 5h0m-1-7h0m0 8h0m0-13h0m-2 8h0m-1-4h0m-1-1h0m0 2h0m-3 1h0m0-6h0m0 12h0m-1-10h0m-1 2h0m0 4h0m-1-7h0m-2 13h0m0-13h0m0 13h0m-7-14h0m0 4h0m-1 1h0m-1-5h0m-2 9h0m0 1h0m-2-9h0m-1 8h0m0-1h0m-2 3h0m-1-5h0m0-6h0m-1 5h0m-1 1h0m-2 8h0m-1-11h0m0 6h0m-4-9h0m-1 6h0m-3 6h0m-2 2h0m-1-11h0m-2 11h0m-1-10h0m-1 4h0m-2-1h0m-23 10h0m29-2h0m2 1h0m7 9h0m1-6h0m5 4h0m0 6h0m1-3h0m1-10h0m2 4h0m1-1h0m3-4h0m2 3h0m2 2h0m2-2h0m3 9h0m1 2h0m1-13h0m0 12h0m1-8h0m3 7h0m0 0h0m3-6h0m3-2h0m0-4h0m1 6h0m1 6h0m0-6h0m3 6h0m3-3h0m2 3h0m0-1h0m2 3h0m1-9h0m1 7h0m1-10h0m1 2h0m0 1h0m1-5h0m1 7h0m1 1h0m1-5h0m0 3h0m0 5h0m1-8h0m1 9h0m3-12h0m0 11h0m5-7h0m1-1h0m9 3h0m2-1h0m9 8h0m-25 4h0m-1 8h0m0 4h0m-2-2h0m0-5h0m-1-1h0m-1-4h0m-3 6h0m-3-6h0m-2 7h0m-1-3h0m-2-6h0m-3 1h0m-4 0h0m-1 1h0m0 4h0m-1 5h0m-6-9h0m-2 11h0m-1-12h0m0 9h0m0-4h0m-2-2h0m-4 2h0m-2 0h0m0-2h0m-9 0h0m-2 0h0m-1 0h0m-1 2h0m-6 0h0m-2 6h0m-25-10h0m8 26h0m19-6h0m4 3h0m3 0h0m2-5h0m0 0h0m17-1h0m2-4h0m1 14h0m2-11h0m4-2h0m2 10h0m6-2h0m1-9h0m11 1h0m1 10h0m1 0h0m14-7h0m-9 13h0m-1 3h0m-15 7h0m-2-12h0m-3 13h0m-4-11h0m-5 3h0m-10-2h0m0 5h0m0-8h0m-8 4h0m-22 3h0m-10 4h0m-11 6h0m44 7h0m20 0h0m26 9h0m-19 10h0m-15-13h0m-6 16h0m24 16h0" stroke="#d41a20" stroke-width="8.0" stroke-linecap="round" fill="none"/></g><rect x="115.1" y="93.4" width="69.8" height="70.6" fill="none" stroke="#333" stroke-width="0.7"/><line x1="134.9" y1="93.4" x2="134.9" y2="164" stroke="#333" stroke-width="0.5"/><line x1="115.1" y1="144.1" x2="184.9" y2="144.1" stroke="#333" stroke-width="0.5"/><text x="121.1" y="104.4" font-size="8" font-weight="bold">b</text><text x="181.4" y="105.4" font-size="5.2" text-anchor="end" fill="#222" stroke="#222" stroke-width="0.18">17.71%</text><text x="117.1" y="97.7" font-size="3.2" fill="#2a2a2a" stroke="#2a2a2a" stroke-width="0.11">Q1-UL(0.00%)</text><text x="183.4" y="97.7" font-size="3.2" text-anchor="end" fill="#2a2a2a" stroke="#2a2a2a" stroke-width="0.11">Q1-UR(17.71%)</text><text x="117.1" y="162.5" font-size="3.2" fill="#2a2a2a" stroke="#2a2a2a" stroke-width="0.11">Q1-LL(0.00%)</text><text x="183.4" y="162.5" font-size="3.2" text-anchor="end" fill="#2a2a2a" stroke="#2a2a2a" stroke-width="0.11">Q1-LR(82.29%)</text><line x1="114.2" y1="93.4" x2="115.1" y2="93.4" stroke="#555" stroke-width="0.35"/><line x1="115.1" y1="164" x2="115.1" y2="164.9" stroke="#555" stroke-width="0.35"/><line x1="114.2" y1="96.76" x2="115.1" y2="96.76" stroke="#555" stroke-width="0.35"/><line x1="118.42" y1="164" x2="118.42" y2="164.9" stroke="#555" stroke-width="0.35"/><line x1="114.2" y1="100.12" x2="115.1" y2="100.12" stroke="#555" stroke-width="0.35"/><line x1="121.75" y1="164" x2="121.75" y2="164.9" stroke="#555" stroke-width="0.35"/><line x1="114.2" y1="103.49" x2="115.1" y2="103.49" stroke="#555" stroke-width="0.35"/><line x1="125.07" y1="164" x2="125.07" y2="164.9" stroke="#555" stroke-width="0.35"/><line x1="114.2" y1="106.85" x2="115.1" y2="106.85" stroke="#555" stroke-width="0.35"/><line x1="128.4" y1="164" x2="128.4" y2="164.9" stroke="#555" stroke-width="0.35"/><line x1="114.2" y1="110.21" x2="115.1" y2="110.21" stroke="#555" stroke-width="0.35"/><line x1="131.72" y1="164" x2="131.72" y2="164.9" stroke="#555" stroke-width="0.35"/><line x1="114.2" y1="113.57" x2="115.1" y2="113.57" stroke="#555" stroke-width="0.35"/><line x1="135.04" y1="164" x2="135.04" y2="164.9" stroke="#555" stroke-width="0.35"/><line x1="114.2" y1="116.93" x2="115.1" y2="116.93" stroke="#555" stroke-width="0.35"/><line x1="138.37" y1="164" x2="138.37" y2="164.9" stroke="#555" stroke-width="0.35"/><line x1="114.2" y1="120.3" x2="115.1" y2="120.3" stroke="#555" stroke-width="0.35"/><line x1="141.69" y1="164" x2="141.69" y2="164.9" stroke="#555" stroke-width="0.35"/><line x1="114.2" y1="123.66" x2="115.1" y2="123.66" stroke="#555" stroke-width="0.35"/><line x1="145.01" y1="164" x2="145.01" y2="164.9" stroke="#555" stroke-width="0.35"/><line x1="114.2" y1="127.02" x2="115.1" y2="127.02" stroke="#555" stroke-width="0.35"/><line x1="148.34" y1="164" x2="148.34" y2="164.9" stroke="#555" stroke-width="0.35"/><line x1="114.2" y1="130.38" x2="115.1" y2="130.38" stroke="#555" stroke-width="0.35"/><line x1="151.66" y1="164" x2="151.66" y2="164.9" stroke="#555" stroke-width="0.35"/><line x1="114.2" y1="133.74" x2="115.1" y2="133.74" stroke="#555" stroke-width="0.35"/><line x1="154.99" y1="164" x2="154.99" y2="164.9" stroke="#555" stroke-width="0.35"/><line x1="114.2" y1="137.1" x2="115.1" y2="137.1" stroke="#555" stroke-width="0.35"/><line x1="158.31" y1="164" x2="158.31" y2="164.9" stroke="#555" stroke-width="0.35"/><line x1="114.2" y1="140.47" x2="115.1" y2="140.47" stroke="#555" stroke-width="0.35"/><line x1="161.63" y1="164" x2="161.63" y2="164.9" stroke="#555" stroke-width="0.35"/><line x1="114.2" y1="143.83" x2="115.1" y2="143.83" stroke="#555" stroke-width="0.35"/><line x1="164.96" y1="164" x2="164.96" y2="164.9" stroke="#555" stroke-width="0.35"/><line x1="114.2" y1="147.19" x2="115.1" y2="147.19" stroke="#555" stroke-width="0.35"/><line x1="168.28" y1="164" x2="168.28" y2="164.9" stroke="#555" stroke-width="0.35"/><line x1="114.2" y1="150.55" x2="115.1" y2="150.55" stroke="#555" stroke-width="0.35"/><line x1="171.6" y1="164" x2="171.6" y2="164.9" stroke="#555" stroke-width="0.35"/><line x1="114.2" y1="153.91" x2="115.1" y2="153.91" stroke="#555" stroke-width="0.35"/><line x1="174.93" y1="164" x2="174.93" y2="164.9" stroke="#555" stroke-width="0.35"/><line x1="114.2" y1="157.28" x2="115.1" y2="157.28" stroke="#555" stroke-width="0.35"/><line x1="178.25" y1="164" x2="178.25" y2="164.9" stroke="#555" stroke-width="0.35"/><line x1="114.2" y1="160.64" x2="115.1" y2="160.64" stroke="#555" stroke-width="0.35"/><line x1="181.58" y1="164" x2="181.58" y2="164.9" stroke="#555" stroke-width="0.35"/><line x1="114.2" y1="164" x2="115.1" y2="164" stroke="#555" stroke-width="0.35"/><line x1="184.9" y1="164" x2="184.9" y2="164.9" stroke="#555" stroke-width="0.35"/><text x="110.5" y="95.7" font-size="3.1" text-anchor="middle" fill="#2a2a2a" transform="rotate(-90 110.5 95.7)" stroke="#2a2a2a" stroke-width="0.11">10⁵</text><text x="110.5" y="107.3" font-size="3.1" text-anchor="middle" fill="#2a2a2a" transform="rotate(-90 110.5 107.3)" stroke="#2a2a2a" stroke-width="0.11">10⁴</text><text x="110.5" y="118.9" font-size="3.1" text-anchor="middle" fill="#2a2a2a" transform="rotate(-90 110.5 118.9)" stroke="#2a2a2a" stroke-width="0.11">10³</text><text x="110.5" y="130.5" font-size="3.1" text-anchor="middle" fill="#2a2a2a" transform="rotate(-90 110.5 130.5)" stroke="#2a2a2a" stroke-width="0.11">10²</text><text x="110.5" y="142.1" font-size="3.1" text-anchor="middle" fill="#2a2a2a" transform="rotate(-90 110.5 142.1)" stroke="#2a2a2a" stroke-width="0.11">10¹</text><text x="110.5" y="153.7" font-size="3.1" text-anchor="middle" fill="#2a2a2a" transform="rotate(-90 110.5 153.7)" stroke="#2a2a2a" stroke-width="0.11">0</text><text x="106.9" y="119.9" font-size="3.1" text-anchor="middle" fill="#2a2a2a" transform="rotate(-90 106.9 119.9)" stroke="#2a2a2a" stroke-width="0.11">Tim3 APC-A</text><text x="115.1" y="169" font-size="3.1" text-anchor="middle" fill="#2a2a2a" stroke="#2a2a2a" stroke-width="0.11">0</text><text x="134.1" y="169" font-size="3.1" text-anchor="middle" fill="#2a2a2a" stroke="#2a2a2a" stroke-width="0.11">10²</text><text x="144.6" y="169" font-size="3.1" text-anchor="middle" fill="#2a2a2a" stroke="#2a2a2a" stroke-width="0.11">10³</text><text x="155.1" y="169" font-size="3.1" text-anchor="middle" fill="#2a2a2a" stroke="#2a2a2a" stroke-width="0.11">10⁴</text><text x="166.6" y="169" font-size="3.1" text-anchor="middle" fill="#2a2a2a" stroke="#2a2a2a" stroke-width="0.11">10⁵</text><text x="176.1" y="169" font-size="3.1" text-anchor="middle" fill="#2a2a2a" stroke="#2a2a2a" stroke-width="0.11">10⁶</text><text x="150" y="175.3" font-size="3.2" text-anchor="middle" fill="#2a2a2a" stroke="#2a2a2a" stroke-width="0.11">CD138 FITC-A</text><g clip-path="url(#c6)"><path transform="scale(.1)" d="M2395 1309h0m-9 9h0m-32-5h0m-8-3h0m-19 1h0m-41 19h0m72-5h0m21 17h0m-59 5h0m-11-1h0m-16 9h0m45 2h0m10-3h0m35-2h0m0-2h0m4 10h0m20 1h0m112 10h0m-90 5h0m-8-3h0m-37 6h0m-8 0h0m-7-3h0m-2-10h0m-7 7h0m-44 3h0m-24 3h0m-19 8h0m10-5h0m11 0h0m54 12h0m25-2h0m8-1h0m12-10h0m9 7h0m11-3h0m7-4h0m2 7h0m35 12h0m-37-4h0m-3 1h0m-7 12h0m0-12h0m-1 3h0m-3 8h0m-7-10h0m-12 8h0m-1 0h0m-1-11h0m-10 7h0m-8-7h0m-4 2h0m-2 4h0m-6-4h0m-3 8h0m-4-2h0m-3 3h0m-5-5h0m-1 7h0m0-2h0m-2-7h0m-13-4h0m-11 1h0m-20 12h0m-34-8h0m-5 2h0m19 22h0m28-5h0m10-8h0m8 9h0m1-9h0m4 9h0m11-9h0m5-1h0m2 13h0m1-6h0m8-2h0m3 2h0m6-4h0m2 2h0m2 9h0m1-8h0m19-1h0m9 4h0m0-6h0m0-1h0m6 1h0m4 0h0m2 5h0m11 4h0m4-12h0m1 0h0m1 4h0m9 3h0m11-4h0m32 17h0m-30 9h0m-17-13h0m-12 3h0m-1 2h0m-1 4h0m-2-8h0m-3 7h0m-4 2h0m-1-4h0m-8 7h0m-1-1h0m0 1h0m-6-2h0m-6-6h0m-18 8h0m-2-1h0m-8-3h0m-1-9h0m-7 0h0m0 6h0m-6 0h0m0-6h0m-1 3h0m-2-2h0m-2 5h0m-7-1h0m0-2h0m-3 1h0m-4 8h0m-4 1h0m-21-5h0m-26 1h0m-18 6h0m30 12h0m3-6h0m2-5h0m3-1h0m27 3h0m0 1h0m1 3h0m1 3h0m1-4h0m5 3h0m8 1h0m1-6h0m6-4h0m4 1h0m5 1h0m1 2h0m4 6h0m6-10h0m2 0h0m1 5h0m3-4h0m1 11h0m0-1h0m2-5h0m1 1h0m3 1h0m5 0h0m14-5h0m1 10h0m1-3h0m1-11h0m6 4h0m2 2h0m9-1h0m9-4h0m3 2h0m12 0h0m2 11h0m13-1h0m4-3h0m26 8h0m-34 3h0m-14-5h0m-3 1h0m-8 9h0m-8 3h0m-2-4h0m-7-1h0m-4 5h0m-5-4h0m-7 0h0m-11-6h0m-1-1h0m-3-2h0m-2 10h0m-5-6h0m-2 3h0m-2-2h0m-1-3h0m-1 2h0m0 2h0m-3-7h0m-9 1h0m-1 7h0m-1-7h0m-7 5h0m-2-5h0m-2 4h0m-2-2h0m0 1h0m-4 0h0m-2-3h0m-7 8h0m-4 0h0m-11 0h0m-3-3h0m-3 3h0m-5 0h0m0 5h0m-1-14h0m-8 8h0m-5 6h0m-7 10h0m2 5h0m9-1h0m8-2h0m3-5h0m8 0h0m1-2h0m1 3h0m0 7h0m4-5h0m1-4h0m24-3h0m0-2h0m5 1h0m0 0h0m0-1h0m1 11h0m0 0h0m3-7h0m2 1h0m0 5h0m5-2h0m1-8h0m5 13h0m2-12h0m3 4h0m1-2h0m0 2h0m1-4h0m0 10h0m0-1h0m4-1h0m0-9h0m3 1h0m1 9h0m6-8h0m2 6h0m1-1h0m4 2h0m3 1h0m0-5h0m4 2h0m2-1h0m0-5h0m7 5h0m3 0h0m3 6h0m3-6h0m4 7h0m11-9h0m0 2h0m22 7h0m7 1h0m3-4h0m3 5h0m-5 3h0m-2-3h0m-5 7h0m-9-1h0m-2 8h0m-1-14h0m-1 5h0m-6 3h0m-5 1h0m-10-1h0m-4 5h0m-3-9h0m-1-4h0m-2 8h0m-1 6h0m-2-4h0m-2-5h0m-6-5h0m-1 11h0m-3-10h0m-3 8h0m-7-2h0m-2-3h0m-1 5h0m-1-8h0m0 5h0m-4-1h0m-6 0h0m-2-4h0m-1 3h0m-1 7h0m-3-3h0m-1-6h0m-1 8h0m-2-5h0m-5-2h0m-3 5h0m-3 1h0m-6 4h0m0-9h0m0-1h0m-1 5h0m-6-3h0m-22-1h0m-1 7h0m-4-11h0m-16 3h0m0 2h0m-10 5h0m-9-10h0m-39 7h0m70 13h0m3-4h0m10 9h0m3-8h0m1 10h0m5-7h0m3 9h0m1-11h0m5 5h0m1 1h0m4-6h0m2 8h0m2-2h0m2-2h0m4 7h0m4-6h0m2-5h0m1 8h0m13 2h0m6 1h0m6-6h0m0-4h0m1-2h0m1-2h0m0 12h0m2-11h0m1 1h0m1-2h0m0 11h0m1-5h0m0-5h0m9 3h0m0 4h0m6-2h0m6-4h0m2 0h0m5 4h0m0-4h0m6 2h0m7 7h0m4-11h0m3 8h0m5-7h0m0 5h0m8 0h0m55 0h0m-42 14h0m-15-2h0m-9 4h0m-2 5h0m-4-9h0m-18-3h0m-5 13h0m-6 1h0m-1-7h0m-2 1h0m-15-7h0m-3 9h0m-2-8h0m-1 0h0m-4-1h0m-6 12h0m-3-3h0m-1-3h0m-3-3h0m-5 3h0m-11 0h0m0 0h0m-6 7h0m-1-12h0m-5 5h0m-1-3h0m0 6h0m-2 4h0m-1-8h0m-4 5h0m-1-5h0m-4 7h0m-1-2h0m-1 0h0m-7-3h0m-1 6h0m-1-11h0m-10-3h0m-1 4h0m-21 4h0m-2-7h0m-4 9h0m-14-5h0m-14 14h0m0 0h0m32 8h0m24-9h0m4 3h0m7 1h0m4-7h0m6 4h0m6 6h0m3-4h0m6-4h0m11 11h0m0-5h0m0-6h0m2 6h0m0-1h0m10-2h0m0 0h0m2 2h0m2 4h0m8-9h0m2 6h0m0 2h0m1-2h0m2 6h0m2-6h0m0 6h0m3-8h0m1 0h0m0 5h0m0-4h0m1-6h0m8 4h0m0 9h0m8-6h0m0 2h0m2-2h0m0-7h0m7 3h0m1 2h0m10 8h0m1-4h0m6-10h0m30 9h0m36-5h0m-25 24h0m-18-3h0m-2 0h0m-5-8h0m0 10h0m-18-12h0m-6 13h0m0 0h0m-5-7h0m-3-3h0m-5 0h0m-5 8h0m-4-9h0m0 6h0m-4-5h0m-11 0h0m-6 3h0m-5 4h0m-5-10h0m-6 2h0m-4 3h0m-5 8h0m-9-10h0m-8 4h0m-1 4h0m0 1h0m-8-1h0m-7 2h0m-3-5h0m0-4h0m-9 5h0m-3-6h0m-118 12h0m93 1h0m17 4h0m14 5h0m20 1h0m21 1h0m5-10h0m14 6h0m4 5h0m11-3h0m4-2h0m15 3h0m8-9h0m6 10h0m3-7h0m13 5h0m1-6h0m11-2h0m1 4h0m5 0h0m44 8h0m10-11h0m-76 17h0m-23 0h0m-9-4h0m-11 2h0m-4 1h0m-4-2h0m-1 11h0m-2-7h0m-1-4h0m-16 5h0m-5 2h0m-1-9h0m-6 4h0m-9-2h0m-17 9h0m-13-10h0m-19 3h0m-20 3h0m-38 10h0m81 7h0m15-7h0m6 4h0m10 0h0m8-3h0m23 7h0m9 3h0m2-6h0m7-3h0m14 0h0m10-3h0m0 12h0m74 8h0m-101-1h0m-29 5h0m-14-4h0m-18 4h0m-1 0h0m-25-6h0m78 17h0m19 6h0m54-11h0m21 14h0m-39 5h0m-63 21h0m38 9h0" stroke="#de4048" stroke-width="5.6" stroke-linecap="round" fill="none"/><path transform="scale(.1)" d="M2354 1395h0m0 14h0m-16 0h0m13 5h0m31 10h0m11-13h0m23 9h0m11-1h0m-30 6h0m-6 8h0m-1 1h0m-11-8h0m-16 3h0m-2 10h0m-5-10h0m-2 10h0m-2-14h0m-4 2h0m0 0h0m-14 22h0m10-3h0m1 1h0m5 7h0m0-1h0m15-4h0m0-9h0m2 0h0m7 12h0m0 1h0m1-13h0m2 10h0m4 1h0m1-8h0m0-2h0m1 6h0m8-5h0m0 9h0m3-1h0m1-1h0m3-2h0m7 1h0m4-4h0m30 7h0m-27 12h0m-3 5h0m-3-2h0m-6-10h0m-3 9h0m0-2h0m-4-3h0m-3 0h0m0 3h0m-5-2h0m-2-6h0m-2 1h0m-1-1h0m-1 14h0m-4-9h0m0 0h0m-3 4h0m-1-4h0m-2 4h0m-2 3h0m-12-3h0m-2 0h0m-1-6h0m-1 11h0m-1-13h0m-3 8h0m0 4h0m-1-3h0m-1-9h0m-3 5h0m-2-6h0m-2 6h0m-3-5h0m-2 6h0m-1 3h0m-1 4h0m-2-9h0m-1 6h0m-10-10h0m-1 7h0m-11-2h0m-14 2h0m-3 10h0m6 6h0m2-6h0m0 11h0m5-5h0m14 5h0m7-7h0m0 3h0m1-3h0m1 4h0m5-7h0m1 9h0m1-6h0m0-7h0m2 14h0m1-11h0m1 11h0m7-6h0m2-8h0m3 1h0m3 5h0m0 3h0m2 1h0m1-5h0m0-2h0m0 5h0m3-7h0m1 2h0m0-1h0m1-1h0m1 5h0m1 2h0m0-2h0m1 1h0m0-2h0m1 9h0m0-6h0m1 5h0m1-1h0m2-8h0m0 1h0m0-3h0m0 1h0m1 6h0m2-3h0m0 0h0m0 4h0m2 3h0m0-6h0m1-7h0m1 4h0m0 2h0m0 1h0m1 6h0m0-2h0m0-6h0m1 6h0m1-4h0m2 7h0m1 0h0m1 0h0m0-8h0m0-2h0m1-2h0m0 6h0m1-3h0m0-2h0m4 6h0m0-8h0m1 5h0m2 4h0m3-8h0m2 1h0m0-3h0m1 9h0m1 2h0m1-8h0m1 6h0m3-4h0m2-3h0m0-1h0m6 12h0m2-6h0m2-4h0m3 1h0m6-2h0m13 9h0m42 11h0m-45-4h0m-12 9h0m-3-12h0m-1 3h0m0 2h0m-4 4h0m-1-7h0m-3 8h0m-1-9h0m0 5h0m-2-2h0m0-4h0m-2 13h0m-2-3h0m-5-4h0m0-1h0m-1-2h0m0-3h0m-1 11h0m0-3h0m-2 2h0m0-5h0m-2-3h0m0 2h0m-1-4h0m0 6h0m0 0h0m-2 1h0m0 1h0m0-6h0m-1 4h0m-2 4h0m-1-2h0m0 4h0m0-3h0m0-9h0m-1 9h0m-1-4h0m-1 7h0m-1-8h0m0 10h0m-1-2h0m0-12h0m-1 13h0m-3-8h0m0 7h0m0-8h0m-2 6h0m-1-10h0m0 11h0m-1-7h0m0 9h0m-3-1h0m0-11h0m-3 4h0m0 7h0m0-11h0m0 13h0m-2-6h0m0-3h0m-1-2h0m0 5h0m0 2h0m0-9h0m0 5h0m-2 3h0m-1-3h0m0 8h0m0-8h0m-1 4h0m0 0h0m-2 0h0m0 0h0m-1 0h0m0-8h0m0 6h0m0 6h0m0-11h0m-2 0h0m0 11h0m0-14h0m-2 14h0m-1-10h0m-3 1h0m-1-4h0m0 9h0m0 0h0m-3 4h0m-3 0h0m-1-2h0m0 2h0m-2-1h0m-1-12h0m-2 4h0m-1-4h0m-1 5h0m0-4h0m-1 12h0m-1-6h0m-3-6h0m-2 10h0m-4-5h0m-1 7h0m-2-14h0m-4 1h0m0 10h0m-4-7h0m-1 10h0m-2-9h0m-1 6h0m-3 8h0m7 2h0m2-4h0m1 12h0m1-3h0m4-3h0m1 5h0m1-2h0m1-3h0m4 3h0m5 2h0m1-12h0m1 13h0m0-5h0m1-2h0m1-4h0m1-2h0m2-1h0m0 0h0m2 2h0m3 6h0m2 0h0m0-3h0m1 7h0m0-9h0m5 0h0m0 5h0m1-1h0m0 4h0m1-3h0m0-8h0m0 13h0m2-13h0m1 1h0m1 8h0m0 0h0m0-1h0m0-3h0m2-1h0m0 1h0m2 3h0m2-7h0m1 11h0m1-9h0m0 4h0m1 1h0m0 1h0m0-6h0m0 5h0m1 1h0m1-2h0m0 4h0m0 0h0m1-10h0m0 11h0m0 1h0m1 0h0m0-13h0m0 12h0m1-7h0m0-3h0m1 9h0m0-4h0m0-3h0m0 0h0m1 6h0m2-5h0m0 4h0m1-3h0m1 1h0m1 4h0m0-3h0m0 1h0m0-2h0m1 6h0m0-3h0m0-5h0m0-1h0m3 1h0m0-2h0m1 5h0m0-3h0m2-1h0m0 9h0m0 0h0m0-11h0m1 9h0m0 3h0m1-2h0m0-6h0m1 7h0m1 1h0m1-11h0m1 3h0m2 7h0m1-12h0m1 8h0m0 0h0m1 1h0m2-3h0m4-7h0m1 4h0m2 10h0m1-1h0m1-3h0m0 1h0m0 1h0m2-8h0m1 5h0m1 5h0m1-8h0m1-6h0m6 11h0m2 1h0m10-11h0m-2 24h0m-3 2h0m-4-8h0m-1 0h0m-9 10h0m-1-12h0m-2 9h0m-1-2h0m-1 1h0m-3 0h0m-1 3h0m-4-2h0m-4-3h0m0-7h0m0 10h0m-2-2h0m-2-2h0m-1-4h0m-2 1h0m-1 9h0m-4-4h0m0 2h0m0 0h0m-2 3h0m0-5h0m-1-6h0m-1 7h0m0-4h0m-1-2h0m0 6h0m-1-8h0m0 9h0m-2 0h0m-1-5h0m-1-2h0m0 1h0m-2-1h0m-1-4h0m0 0h0m-1 7h0m0-7h0m-1 4h0m0-1h0m0 2h0m-1 3h0m0 6h0m0-14h0m0 5h0m-1 1h0m0-5h0m0 9h0m-1-8h0m0 12h0m-1-14h0m-1 1h0m-1 8h0m0-5h0m0 9h0m0-1h0m-1 2h0m0-8h0m0 6h0m0-5h0m-1 3h0m-1 3h0m-2-9h0m0 1h0m-1 6h0m0-7h0m0-1h0m-1 3h0m-2 4h0m-2-10h0m0 12h0m-3-6h0m-5 3h0m-1 0h0m-1-8h0m-1 5h0m-1 8h0m0-14h0m-4 12h0m-1-1h0m-1-4h0m-1 1h0m-2 5h0m0 1h0m-3-1h0m-3-11h0m-1-1h0m-21 7h0m-2-1h0m-7 8h0m8 6h0m9-5h0m3 7h0m1 3h0m1-5h0m0 4h0m4-5h0m7 0h0m0-2h0m6 2h0m3 3h0m5-1h0m0-2h0m7 5h0m2-9h0m0 4h0m2 7h0m1 2h0m0-13h0m1 8h0m1 2h0m1-10h0m1 8h0m1-5h0m1 0h0m1 3h0m1-1h0m1 0h0m3-4h0m0 6h0m1-1h0m0-7h0m1 2h0m0-2h0m0 10h0m1-2h0m3 1h0m1-6h0m0 9h0m3 0h0m2-7h0m0 6h0m2-8h0m0-3h0m1 6h0m1 2h0m1 5h0m1-3h0m0-2h0m1-2h0m2 1h0m1-7h0m1 10h0m0-7h0m1 6h0m0-9h0m1 8h0m0-4h0m3 0h0m2 8h0m2-11h0m0 9h0m13 2h0m2 2h0m1-4h0m0-6h0m1 6h0m7-9h0m0 2h0m9 6h0m22-3h0m10-2h0m-36 24h0m-8 1h0m-2-3h0m-5-11h0m-5 8h0m-1-1h0m-3 7h0m-6-4h0m-1-4h0m-2 2h0m-1-5h0m0 8h0m0-10h0m-2 13h0m-5-12h0m-2 1h0m-1 11h0m-2-3h0m-3-6h0m-2 7h0m0-3h0m-2 0h0m-4 5h0m-4-3h0m-4-9h0m-2 2h0m-1-3h0m-2 10h0m-4-4h0m-2 2h0m-2-3h0m-4-1h0m-1 1h0m-4 8h0m-3-12h0m-2 7h0m-1 5h0m-6-13h0m-3 6h0m-5 0h0m-9-2h0m-17 22h0m17-4h0m36-5h0m0 4h0m3 5h0m1-11h0m13 12h0m1-1h0m3-12h0m0 2h0m1 5h0m2 1h0m2 4h0m2-2h0m1 0h0m1 0h0m3-4h0m0 6h0m3-4h0m2 4h0m1-11h0m1 6h0m2-2h0m2 8h0m2-13h0m1 6h0m5 6h0m2-4h0m2 5h0m3-10h0m5 6h0m44-5h0m-28 12h0m-6 4h0m-21 5h0m-8-9h0m-17 11h0m-2-1h0m-13-9h0m-10 4h0m-9 8h0m-6-3h0m-12-1h0m49 10h0m7-2h0m-27 33h0" stroke="#d83a40" stroke-width="6.8" stroke-linecap="round" fill="none"/></g><rect x="200.9" y="93.4" width="71.1" height="70.2" fill="none" stroke="#333" stroke-width="0.7"/><line x1="222" y1="93.4" x2="222" y2="163.6" stroke="#333" stroke-width="0.5"/><line x1="200.9" y1="143.4" x2="272" y2="143.4" stroke="#333" stroke-width="0.5"/><text x="206.9" y="104.4" font-size="8" font-weight="bold">c</text><text x="268.5" y="105.4" font-size="5.2" text-anchor="end" fill="#222" stroke="#222" stroke-width="0.18">8.76%</text><text x="202.9" y="97.7" font-size="3.2" fill="#2a2a2a" stroke="#2a2a2a" stroke-width="0.11">Q1-UL(0.04%)</text><text x="270.5" y="97.7" font-size="3.2" text-anchor="end" fill="#2a2a2a" stroke="#2a2a2a" stroke-width="0.11">Q1-UR(8.76%)</text><text x="202.9" y="162.1" font-size="3.2" fill="#2a2a2a" stroke="#2a2a2a" stroke-width="0.11">Q1-LL(0.17%)</text><text x="270.5" y="162.1" font-size="3.2" text-anchor="end" fill="#2a2a2a" stroke="#2a2a2a" stroke-width="0.11">Q1-LR(91.02%)</text><line x1="200" y1="93.4" x2="200.9" y2="93.4" stroke="#555" stroke-width="0.35"/><line x1="200.9" y1="163.6" x2="200.9" y2="164.5" stroke="#555" stroke-width="0.35"/><line x1="200" y1="96.74" x2="200.9" y2="96.74" stroke="#555" stroke-width="0.35"/><line x1="204.29" y1="163.6" x2="204.29" y2="164.5" stroke="#555" stroke-width="0.35"/><line x1="200" y1="100.09" x2="200.9" y2="100.09" stroke="#555" stroke-width="0.35"/><line x1="207.67" y1="163.6" x2="207.67" y2="164.5" stroke="#555" stroke-width="0.35"/><line x1="200" y1="103.43" x2="200.9" y2="103.43" stroke="#555" stroke-width="0.35"/><line x1="211.06" y1="163.6" x2="211.06" y2="164.5" stroke="#555" stroke-width="0.35"/><line x1="200" y1="106.77" x2="200.9" y2="106.77" stroke="#555" stroke-width="0.35"/><line x1="214.44" y1="163.6" x2="214.44" y2="164.5" stroke="#555" stroke-width="0.35"/><line x1="200" y1="110.11" x2="200.9" y2="110.11" stroke="#555" stroke-width="0.35"/><line x1="217.83" y1="163.6" x2="217.83" y2="164.5" stroke="#555" stroke-width="0.35"/><line x1="200" y1="113.46" x2="200.9" y2="113.46" stroke="#555" stroke-width="0.35"/><line x1="221.21" y1="163.6" x2="221.21" y2="164.5" stroke="#555" stroke-width="0.35"/><line x1="200" y1="116.8" x2="200.9" y2="116.8" stroke="#555" stroke-width="0.35"/><line x1="224.6" y1="163.6" x2="224.6" y2="164.5" stroke="#555" stroke-width="0.35"/><line x1="200" y1="120.14" x2="200.9" y2="120.14" stroke="#555" stroke-width="0.35"/><line x1="227.99" y1="163.6" x2="227.99" y2="164.5" stroke="#555" stroke-width="0.35"/><line x1="200" y1="123.49" x2="200.9" y2="123.49" stroke="#555" stroke-width="0.35"/><line x1="231.37" y1="163.6" x2="231.37" y2="164.5" stroke="#555" stroke-width="0.35"/><line x1="200" y1="126.83" x2="200.9" y2="126.83" stroke="#555" stroke-width="0.35"/><line x1="234.76" y1="163.6" x2="234.76" y2="164.5" stroke="#555" stroke-width="0.35"/><line x1="200" y1="130.17" x2="200.9" y2="130.17" stroke="#555" stroke-width="0.35"/><line x1="238.14" y1="163.6" x2="238.14" y2="164.5" stroke="#555" stroke-width="0.35"/><line x1="200" y1="133.51" x2="200.9" y2="133.51" stroke="#555" stroke-width="0.35"/><line x1="241.53" y1="163.6" x2="241.53" y2="164.5" stroke="#555" stroke-width="0.35"/><line x1="200" y1="136.86" x2="200.9" y2="136.86" stroke="#555" stroke-width="0.35"/><line x1="244.91" y1="163.6" x2="244.91" y2="164.5" stroke="#555" stroke-width="0.35"/><line x1="200" y1="140.2" x2="200.9" y2="140.2" stroke="#555" stroke-width="0.35"/><line x1="248.3" y1="163.6" x2="248.3" y2="164.5" stroke="#555" stroke-width="0.35"/><line x1="200" y1="143.54" x2="200.9" y2="143.54" stroke="#555" stroke-width="0.35"/><line x1="251.69" y1="163.6" x2="251.69" y2="164.5" stroke="#555" stroke-width="0.35"/><line x1="200" y1="146.89" x2="200.9" y2="146.89" stroke="#555" stroke-width="0.35"/><line x1="255.07" y1="163.6" x2="255.07" y2="164.5" stroke="#555" stroke-width="0.35"/><line x1="200" y1="150.23" x2="200.9" y2="150.23" stroke="#555" stroke-width="0.35"/><line x1="258.46" y1="163.6" x2="258.46" y2="164.5" stroke="#555" stroke-width="0.35"/><line x1="200" y1="153.57" x2="200.9" y2="153.57" stroke="#555" stroke-width="0.35"/><line x1="261.84" y1="163.6" x2="261.84" y2="164.5" stroke="#555" stroke-width="0.35"/><line x1="200" y1="156.91" x2="200.9" y2="156.91" stroke="#555" stroke-width="0.35"/><line x1="265.23" y1="163.6" x2="265.23" y2="164.5" stroke="#555" stroke-width="0.35"/><line x1="200" y1="160.26" x2="200.9" y2="160.26" stroke="#555" stroke-width="0.35"/><line x1="268.61" y1="163.6" x2="268.61" y2="164.5" stroke="#555" stroke-width="0.35"/><line x1="200" y1="163.6" x2="200.9" y2="163.6" stroke="#555" stroke-width="0.35"/><line x1="272" y1="163.6" x2="272" y2="164.5" stroke="#555" stroke-width="0.35"/><text x="196.3" y="95.7" font-size="3.1" text-anchor="middle" fill="#2a2a2a" transform="rotate(-90 196.3 95.7)" stroke="#2a2a2a" stroke-width="0.11">10⁵</text><text x="196.3" y="107.3" font-size="3.1" text-anchor="middle" fill="#2a2a2a" transform="rotate(-90 196.3 107.3)" stroke="#2a2a2a" stroke-width="0.11">10⁴</text><text x="196.3" y="118.9" font-size="3.1" text-anchor="middle" fill="#2a2a2a" transform="rotate(-90 196.3 118.9)" stroke="#2a2a2a" stroke-width="0.11">10³</text><text x="196.3" y="130.5" font-size="3.1" text-anchor="middle" fill="#2a2a2a" transform="rotate(-90 196.3 130.5)" stroke="#2a2a2a" stroke-width="0.11">10²</text><text x="196.3" y="142.1" font-size="3.1" text-anchor="middle" fill="#2a2a2a" transform="rotate(-90 196.3 142.1)" stroke="#2a2a2a" stroke-width="0.11">10¹</text><text x="196.3" y="153.7" font-size="3.1" text-anchor="middle" fill="#2a2a2a" transform="rotate(-90 196.3 153.7)" stroke="#2a2a2a" stroke-width="0.11">0</text><text x="192.7" y="119.9" font-size="3.1" text-anchor="middle" fill="#2a2a2a" transform="rotate(-90 192.7 119.9)" stroke="#2a2a2a" stroke-width="0.11">Tim3 APC-A</text><text x="200.9" y="168.6" font-size="3.1" text-anchor="middle" fill="#2a2a2a" stroke="#2a2a2a" stroke-width="0.11">0</text><text x="219.9" y="168.6" font-size="3.1" text-anchor="middle" fill="#2a2a2a" stroke="#2a2a2a" stroke-width="0.11">10²</text><text x="230.4" y="168.6" font-size="3.1" text-anchor="middle" fill="#2a2a2a" stroke="#2a2a2a" stroke-width="0.11">10³</text><text x="240.9" y="168.6" font-size="3.1" text-anchor="middle" fill="#2a2a2a" stroke="#2a2a2a" stroke-width="0.11">10⁴</text><text x="252.4" y="168.6" font-size="3.1" text-anchor="middle" fill="#2a2a2a" stroke="#2a2a2a" stroke-width="0.11">10⁵</text><text x="261.9" y="168.6" font-size="3.1" text-anchor="middle" fill="#2a2a2a" stroke="#2a2a2a" stroke-width="0.11">10⁶</text><text x="236.45" y="174.9" font-size="3.2" text-anchor="middle" fill="#2a2a2a" stroke="#2a2a2a" stroke-width="0.11">CD138 FITC-A</text><text x="281" y="6.9" font-size="6.8" font-weight="bold">B</text><line x1="309.6" y1="55.15" x2="309.6" y2="3.2" stroke="#000" stroke-width="0.7"/><line x1="307.6" y1="54.8" x2="309.6" y2="54.8" stroke="#000" stroke-width="0.65"/><text x="306.7" y="56.1" font-size="3.6" text-anchor="end" fill="#111" font-weight="bold">0</text><line x1="307.6" y1="37.6" x2="309.6" y2="37.6" stroke="#000" stroke-width="0.65"/><text x="306.7" y="38.9" font-size="3.6" text-anchor="end" fill="#111" font-weight="bold">20</text><line x1="307.6" y1="20.4" x2="309.6" y2="20.4" stroke="#000" stroke-width="0.65"/><text x="306.7" y="21.7" font-size="3.6" text-anchor="end" fill="#111" font-weight="bold">40</text><line x1="307.6" y1="3.2" x2="309.6" y2="3.2" stroke="#000" stroke-width="0.65"/><text x="306.7" y="4.5" font-size="3.6" text-anchor="end" fill="#111" font-weight="bold">60</text><line x1="309.6" y1="54.8" x2="400" y2="54.8" stroke="#000" stroke-width="0.7"/><path d="M335.7 24.6l0.95 1.61h-1.90zM339.0 42.8l0.95 1.61h-1.90zM331.9 52.6l0.95 1.61h-1.90zM331.4 44.2l0.95 1.61h-1.90zM337.3 25.7l0.95 1.61h-1.90zM345.5 36.3l0.95 1.61h-1.90zM334.0 40.4l0.95 1.61h-1.90zM332.9 37.0l0.95 1.61h-1.90zM330.9 36.1l0.95 1.61h-1.90zM339.6 31.0l0.95 1.61h-1.90zM333.6 37.6l0.95 1.61h-1.90zM327.1 28.8l0.95 1.61h-1.90zM328.3 42.3l0.95 1.61h-1.90zM328.8 38.8l0.95 1.61h-1.90zM332.2 42.4l0.95 1.61h-1.90zM333.9 37.9l0.95 1.61h-1.90zM335.9 24.6l0.95 1.61h-1.90zM329.8 50.7l0.95 1.61h-1.90zM336.4 49.7l0.95 1.61h-1.90zM328.0 43.4l0.95 1.61h-1.90zM336.3 30.1l0.95 1.61h-1.90zM334.3 36.4l0.95 1.61h-1.90zM335.8 44.7l0.95 1.61h-1.90zM328.0 38.0l0.95 1.61h-1.90zM330.8 48.8l0.95 1.61h-1.90zM333.8 47.3l0.95 1.61h-1.90zM340.5 44.0l0.95 1.61h-1.90zM336.1 34.6l0.95 1.61h-1.90zM338.5 40.7l0.95 1.61h-1.90zM336.1 37.9l0.95 1.61h-1.90zM339.2 28.8l0.95 1.61h-1.90zM334.6 41.4l0.95 1.61h-1.90zM341.2 28.2l0.95 1.61h-1.90zM336.2 45.6l0.95 1.61h-1.90zM334.7 24.6l0.95 1.61h-1.90zM340.3 49.1l0.95 1.61h-1.90zM340.0 52.6l0.95 1.61h-1.90zM334.3 36.8l0.95 1.61h-1.90zM340.0 39.9l0.95 1.61h-1.90zM331.6 32.6l0.95 1.61h-1.90zM338.3 32.1l0.95 1.61h-1.90zM328.8 49.5l0.95 1.61h-1.90zM338.6 38.6l0.95 1.61h-1.90zM333.3 24.6l0.95 1.61h-1.90zM336.4 41.0l0.95 1.61h-1.90zM337.0 25.6l0.95 1.61h-1.90zM335.1 37.6l0.95 1.61h-1.90zM328.2 40.9l0.95 1.61h-1.90zM332.7 46.4l0.95 1.61h-1.90zM334.0 43.1l0.95 1.61h-1.90zM336.3 50.2l0.95 1.61h-1.90zM333.2 26.4l0.95 1.61h-1.90zM332.5 39.0l0.95 1.61h-1.90zM339.7 43.5l0.95 1.61h-1.90zM333.8 31.4l0.95 1.61h-1.90zM337.4 45.7l0.95 1.61h-1.90zM324.5 33.9l0.95 1.61h-1.90zM328.9 32.2l0.95 1.61h-1.90zM332.1 30.3l0.95 1.61h-1.90zM330.7 35.0l0.95 1.61h-1.90zM331.2 27.6l0.95 1.61h-1.90zM337.8 38.9l0.95 1.61h-1.90zM341.1 32.9l0.95 1.61h-1.90zM335.6 27.4l0.95 1.61h-1.90zM331.9 35.2l0.95 1.61h-1.90zM329.3 30.1l0.95 1.61h-1.90zM331.6 52.6l0.95 1.61h-1.90zM344.5 33.0l0.95 1.61h-1.90zM333.8 33.1l0.95 1.61h-1.90zM333.2 38.9l0.95 1.61h-1.90zM335.2 30.0l0.95 1.61h-1.90zM338.2 24.6l0.95 1.61h-1.90zM335.2 32.7l0.95 1.61h-1.90zM343.4 31.2l0.95 1.61h-1.90zM335.7 40.3l0.95 1.61h-1.90zM333.0 41.8l0.95 1.61h-1.90zM333.8 37.5l0.95 1.61h-1.90zM333.6 46.2l0.95 1.61h-1.90zM332.6 38.4l0.95 1.61h-1.90zM329.4 31.5l0.95 1.61h-1.90zM336.4 39.1l0.95 1.61h-1.90zM338.2 40.1l0.95 1.61h-1.90zM335.0 43.8l0.95 1.61h-1.90zM331.6 29.6l0.95 1.61h-1.90zM337.3 37.3l0.95 1.61h-1.90zM335.1 36.9l0.95 1.61h-1.90zM333.3 34.5l0.95 1.61h-1.90zM337.9 29.7l0.95 1.61h-1.90zM340.6 44.7l0.95 1.61h-1.90zM332.3 40.7l0.95 1.61h-1.90zM330.8 29.2l0.95 1.61h-1.90zM339.5 41.3l0.95 1.61h-1.90zM335.0 34.5l0.95 1.61h-1.90zM338.2 24.6l0.95 1.61h-1.90zM337.5 47.3l0.95 1.61h-1.90zM335.8 36.1l0.95 1.61h-1.90zM331.6 32.7l0.95 1.61h-1.90zM329.9 26.2l0.95 1.61h-1.90zM339.0 38.1l0.95 1.61h-1.90zM335.9 47.7l0.95 1.61h-1.90zM332.7 46.3l0.95 1.61h-1.90zM332.2 39.6l0.95 1.61h-1.90zM333.4 50.7l0.95 1.61h-1.90zM333.2 24.6l0.95 1.61h-1.90zM333.8 46.0l0.95 1.61h-1.90zM331.7 29.7l0.95 1.61h-1.90zM338.9 34.5l0.95 1.61h-1.90zM335.8 38.7l0.95 1.61h-1.90zM331.3 36.4l0.95 1.61h-1.90zM331.5 49.9l0.95 1.61h-1.90zM339.7 42.0l0.95 1.61h-1.90zM337.7 35.5l0.95 1.61h-1.90zM336.8 38.7l0.95 1.61h-1.90zM328.6 36.2l0.95 1.61h-1.90zM334.2 36.9l0.95 1.61h-1.90zM332.7 29.9l0.95 1.61h-1.90zM336.5 44.4l0.95 1.61h-1.90zM338.1 36.8l0.95 1.61h-1.90zM339.0 30.9l0.95 1.61h-1.90zM339.6 40.4l0.95 1.61h-1.90zM328.5 42.7l0.95 1.61h-1.90zM339.8 32.3l0.95 1.61h-1.90zM331.3 32.0l0.95 1.61h-1.90zM341.1 43.6l0.95 1.61h-1.90zM341.3 44.9l0.95 1.61h-1.90zM332.5 4.4l0.95 1.61h-1.90zM335.4 7.4l0.95 1.61h-1.90zM334.9 10.0l0.95 1.61h-1.90zM334.6 12.6l0.95 1.61h-1.90zM335.7 14.7l0.95 1.61h-1.90zM335.2 16.9l0.95 1.61h-1.90zM330.3 18.6l0.95 1.61h-1.90zM334.3 20.3l0.95 1.61h-1.90zM334.1 21.6l0.95 1.61h-1.90zM335.6 22.9l0.95 1.61h-1.90zM337.9 23.8l0.95 1.61h-1.90zM337.3 24.6l0.95 1.61h-1.90z" fill="none" stroke="#000" stroke-width="0.45"/><rect x="322.3" y="37.6" width="25.2" height="17.2" fill="none" stroke="#000" stroke-width="0.75"/><line x1="335" y1="37.6" x2="335" y2="26.85" stroke="#000" stroke-width="1"/><line x1="329.25" y1="26.85" x2="340.75" y2="26.85" stroke="#000" stroke-width="1"/><path d="M377.3 46.3a0.95 0.95 0 1 0 1.9 0a0.95 0.95 0 1 0 -1.9 0M376.2 48.1a0.95 0.95 0 1 0 1.9 0a0.95 0.95 0 1 0 -1.9 0M377.5 48.3a0.95 0.95 0 1 0 1.9 0a0.95 0.95 0 1 0 -1.9 0M371.8 46.4a0.95 0.95 0 1 0 1.9 0a0.95 0.95 0 1 0 -1.9 0M373.7 44.6a0.95 0.95 0 1 0 1.9 0a0.95 0.95 0 1 0 -1.9 0M370.3 46.1a0.95 0.95 0 1 0 1.9 0a0.95 0.95 0 1 0 -1.9 0M379.4 47.8a0.95 0.95 0 1 0 1.9 0a0.95 0.95 0 1 0 -1.9 0M373.8 50.6a0.95 0.95 0 1 0 1.9 0a0.95 0.95 0 1 0 -1.9 0M374.9 48.9a0.95 0.95 0 1 0 1.9 0a0.95 0.95 0 1 0 -1.9 0M370.4 48.6a0.95 0.95 0 1 0 1.9 0a0.95 0.95 0 1 0 -1.9 0M371.8 44.3a0.95 0.95 0 1 0 1.9 0a0.95 0.95 0 1 0 -1.9 0M372.0 52.2a0.95 0.95 0 1 0 1.9 0a0.95 0.95 0 1 0 -1.9 0M370.1 45.7a0.95 0.95 0 1 0 1.9 0a0.95 0.95 0 1 0 -1.9 0M369.4 48.2a0.95 0.95 0 1 0 1.9 0a0.95 0.95 0 1 0 -1.9 0M376.3 45.9a0.95 0.95 0 1 0 1.9 0a0.95 0.95 0 1 0 -1.9 0M371.1 51.7a0.95 0.95 0 1 0 1.9 0a0.95 0.95 0 1 0 -1.9 0M373.8 47.5a0.95 0.95 0 1 0 1.9 0a0.95 0.95 0 1 0 -1.9 0M372.9 45.7a0.95 0.95 0 1 0 1.9 0a0.95 0.95 0 1 0 -1.9 0M371.0 47.0a0.95 0.95 0 1 0 1.9 0a0.95 0.95 0 1 0 -1.9 0M371.4 44.8a0.95 0.95 0 1 0 1.9 0a0.95 0.95 0 1 0 -1.9 0M375.6 46.0a0.95 0.95 0 1 0 1.9 0a0.95 0.95 0 1 0 -1.9 0M372.9 46.4a0.95 0.95 0 1 0 1.9 0a0.95 0.95 0 1 0 -1.9 0M369.3 50.2a0.95 0.95 0 1 0 1.9 0a0.95 0.95 0 1 0 -1.9 0M370.0 48.1a0.95 0.95 0 1 0 1.9 0a0.95 0.95 0 1 0 -1.9 0M370.8 48.7a0.95 0.95 0 1 0 1.9 0a0.95 0.95 0 1 0 -1.9 0M369.5 47.5a0.95 0.95 0 1 0 1.9 0a0.95 0.95 0 1 0 -1.9 0M377.2 41.0a0.95 0.95 0 1 0 1.9 0a0.95 0.95 0 1 0 -1.9 0M372.8 47.8a0.95 0.95 0 1 0 1.9 0a0.95 0.95 0 1 0 -1.9 0M378.5 45.3a0.95 0.95 0 1 0 1.9 0a0.95 0.95 0 1 0 -1.9 0M370.1 45.7a0.95 0.95 0 1 0 1.9 0a0.95 0.95 0 1 0 -1.9 0M370.9 45.0a0.95 0.95 0 1 0 1.9 0a0.95 0.95 0 1 0 -1.9 0M380.4 45.3a0.95 0.95 0 1 0 1.9 0a0.95 0.95 0 1 0 -1.9 0M368.0 52.2a0.95 0.95 0 1 0 1.9 0a0.95 0.95 0 1 0 -1.9 0M370.4 47.0a0.95 0.95 0 1 0 1.9 0a0.95 0.95 0 1 0 -1.9 0M369.6 51.0a0.95 0.95 0 1 0 1.9 0a0.95 0.95 0 1 0 -1.9 0M372.1 50.8a0.95 0.95 0 1 0 1.9 0a0.95 0.95 0 1 0 -1.9 0M373.8 44.4a0.95 0.95 0 1 0 1.9 0a0.95 0.95 0 1 0 -1.9 0M376.1 47.3a0.95 0.95 0 1 0 1.9 0a0.95 0.95 0 1 0 -1.9 0M376.5 50.0a0.95 0.95 0 1 0 1.9 0a0.95 0.95 0 1 0 -1.9 0M371.3 50.2a0.95 0.95 0 1 0 1.9 0a0.95 0.95 0 1 0 -1.9 0M373.4 46.6a0.95 0.95 0 1 0 1.9 0a0.95 0.95 0 1 0 -1.9 0M368.2 51.7a0.95 0.95 0 1 0 1.9 0a0.95 0.95 0 1 0 -1.9 0M374.6 43.2a0.95 0.95 0 1 0 1.9 0a0.95 0.95 0 1 0 -1.9 0M367.6 45.2a0.95 0.95 0 1 0 1.9 0a0.95 0.95 0 1 0 -1.9 0M378.0 44.5a0.95 0.95 0 1 0 1.9 0a0.95 0.95 0 1 0 -1.9 0" fill="none" stroke="#000" stroke-width="0.45"/><rect x="361" y="48.26" width="25.3" height="6.54" fill="none" stroke="#000" stroke-width="0.75"/><line x1="373.7" y1="48.26" x2="373.7" y2="45.34" stroke="#000" stroke-width="0.8"/><line x1="369.7" y1="45.34" x2="377.7" y2="45.34" stroke="#000" stroke-width="0.8"/><line x1="334.6" y1="2.3" x2="375.3" y2="2.3" stroke="#000" stroke-width="0.55"/><line x1="334.6" y1="2.3" x2="334.6" y2="4.3" stroke="#000" stroke-width="0.55"/><line x1="375.3" y1="2.3" x2="375.3" y2="4.3" stroke="#000" stroke-width="0.55"/><text x="355" y="2.6" font-size="3.4" text-anchor="middle" font-weight="bold">***</text><text x="297.4" y="30" font-size="3.95" text-anchor="middle" fill="#111" font-weight="bold" transform="rotate(-90 297.4 30)">Tim3 Expression(%)</text><text x="335.2" y="61.2" font-size="3.4" text-anchor="middle" font-weight="bold">MM</text><text x="373.7" y="61.2" font-size="3.4" text-anchor="middle" font-weight="bold">Control</text><text x="280.9" y="69.6" font-size="7" font-weight="bold">C</text><line x1="309.3" y1="120.55" x2="309.3" y2="72" stroke="#000" stroke-width="0.7"/><line x1="307.3" y1="120.2" x2="309.3" y2="120.2" stroke="#000" stroke-width="0.65"/><text x="306.4" y="121.5" font-size="3.6" text-anchor="end" fill="#111" font-weight="bold">0</text><line x1="307.3" y1="104.13" x2="309.3" y2="104.13" stroke="#000" stroke-width="0.65"/><text x="306.4" y="105.43" font-size="3.6" text-anchor="end" fill="#111" font-weight="bold">20</text><line x1="307.3" y1="88.07" x2="309.3" y2="88.07" stroke="#000" stroke-width="0.65"/><text x="306.4" y="89.37" font-size="3.6" text-anchor="end" fill="#111" font-weight="bold">40</text><line x1="307.3" y1="72" x2="309.3" y2="72" stroke="#000" stroke-width="0.65"/><text x="306.4" y="73.3" font-size="3.6" text-anchor="end" fill="#111" font-weight="bold">60</text><line x1="309.3" y1="120.2" x2="392" y2="120.2" stroke="#000" stroke-width="0.7"/><path d="M333.6 110.2a0.7 0.7 0 1 0 1.4 0a0.7 0.7 0 1 0 -1.4 0M329.2 109.9a0.7 0.7 0 1 0 1.4 0a0.7 0.7 0 1 0 -1.4 0M328.9 99.1a0.7 0.7 0 1 0 1.4 0a0.7 0.7 0 1 0 -1.4 0M332.2 95.9a0.7 0.7 0 1 0 1.4 0a0.7 0.7 0 1 0 -1.4 0M324.7 94.3a0.7 0.7 0 1 0 1.4 0a0.7 0.7 0 1 0 -1.4 0M321.5 104.9a0.7 0.7 0 1 0 1.4 0a0.7 0.7 0 1 0 -1.4 0M323.4 104.1a0.7 0.7 0 1 0 1.4 0a0.7 0.7 0 1 0 -1.4 0M324.1 109.2a0.7 0.7 0 1 0 1.4 0a0.7 0.7 0 1 0 -1.4 0M327.1 107.3a0.7 0.7 0 1 0 1.4 0a0.7 0.7 0 1 0 -1.4 0M327.9 81.8a0.7 0.7 0 1 0 1.4 0a0.7 0.7 0 1 0 -1.4 0M329.9 91.7a0.7 0.7 0 1 0 1.4 0a0.7 0.7 0 1 0 -1.4 0M324.0 96.5a0.7 0.7 0 1 0 1.4 0a0.7 0.7 0 1 0 -1.4 0M328.6 104.1a0.7 0.7 0 1 0 1.4 0a0.7 0.7 0 1 0 -1.4 0M330.6 92.8a0.7 0.7 0 1 0 1.4 0a0.7 0.7 0 1 0 -1.4 0M322.1 108.9a0.7 0.7 0 1 0 1.4 0a0.7 0.7 0 1 0 -1.4 0M324.4 108.1a0.7 0.7 0 1 0 1.4 0a0.7 0.7 0 1 0 -1.4 0M327.8 103.9a0.7 0.7 0 1 0 1.4 0a0.7 0.7 0 1 0 -1.4 0M322.5 108.8a0.7 0.7 0 1 0 1.4 0a0.7 0.7 0 1 0 -1.4 0M324.6 96.8a0.7 0.7 0 1 0 1.4 0a0.7 0.7 0 1 0 -1.4 0M322.3 86.1a0.7 0.7 0 1 0 1.4 0a0.7 0.7 0 1 0 -1.4 0M326.6 100.6a0.7 0.7 0 1 0 1.4 0a0.7 0.7 0 1 0 -1.4 0M331.1 101.9a0.7 0.7 0 1 0 1.4 0a0.7 0.7 0 1 0 -1.4 0M320.6 94.2a0.7 0.7 0 1 0 1.4 0a0.7 0.7 0 1 0 -1.4 0M331.5 107.1a0.7 0.7 0 1 0 1.4 0a0.7 0.7 0 1 0 -1.4 0M325.2 110.7a0.7 0.7 0 1 0 1.4 0a0.7 0.7 0 1 0 -1.4 0M325.9 113.5a0.7 0.7 0 1 0 1.4 0a0.7 0.7 0 1 0 -1.4 0M325.6 104.8a0.7 0.7 0 1 0 1.4 0a0.7 0.7 0 1 0 -1.4 0M325.1 103.5a0.7 0.7 0 1 0 1.4 0a0.7 0.7 0 1 0 -1.4 0M321.2 95.8a0.7 0.7 0 1 0 1.4 0a0.7 0.7 0 1 0 -1.4 0M326.6 116.6a0.7 0.7 0 1 0 1.4 0a0.7 0.7 0 1 0 -1.4 0M325.6 101.7a0.7 0.7 0 1 0 1.4 0a0.7 0.7 0 1 0 -1.4 0M326.3 102.8a0.7 0.7 0 1 0 1.4 0a0.7 0.7 0 1 0 -1.4 0M331.0 115.5a0.7 0.7 0 1 0 1.4 0a0.7 0.7 0 1 0 -1.4 0M326.7 113.4a0.7 0.7 0 1 0 1.4 0a0.7 0.7 0 1 0 -1.4 0M328.2 108.3a0.7 0.7 0 1 0 1.4 0a0.7 0.7 0 1 0 -1.4 0M326.4 105.4a0.7 0.7 0 1 0 1.4 0a0.7 0.7 0 1 0 -1.4 0M325.9 98.4a0.7 0.7 0 1 0 1.4 0a0.7 0.7 0 1 0 -1.4 0M325.3 114.8a0.7 0.7 0 1 0 1.4 0a0.7 0.7 0 1 0 -1.4 0M333.8 96.9a0.7 0.7 0 1 0 1.4 0a0.7 0.7 0 1 0 -1.4 0M324.4 95.6a0.7 0.7 0 1 0 1.4 0a0.7 0.7 0 1 0 -1.4 0M332.0 103.6a0.7 0.7 0 1 0 1.4 0a0.7 0.7 0 1 0 -1.4 0M323.2 100.4a0.7 0.7 0 1 0 1.4 0a0.7 0.7 0 1 0 -1.4 0M328.3 95.7a0.7 0.7 0 1 0 1.4 0a0.7 0.7 0 1 0 -1.4 0M327.9 89.7a0.7 0.7 0 1 0 1.4 0a0.7 0.7 0 1 0 -1.4 0M328.5 85.5a0.7 0.7 0 1 0 1.4 0a0.7 0.7 0 1 0 -1.4 0M327.5 106.6a0.7 0.7 0 1 0 1.4 0a0.7 0.7 0 1 0 -1.4 0M322.6 92.0a0.7 0.7 0 1 0 1.4 0a0.7 0.7 0 1 0 -1.4 0M320.7 114.2a0.7 0.7 0 1 0 1.4 0a0.7 0.7 0 1 0 -1.4 0M322.3 88.1a0.7 0.7 0 1 0 1.4 0a0.7 0.7 0 1 0 -1.4 0M328.5 109.5a0.7 0.7 0 1 0 1.4 0a0.7 0.7 0 1 0 -1.4 0M329.1 107.8a0.7 0.7 0 1 0 1.4 0a0.7 0.7 0 1 0 -1.4 0M328.8 104.3a0.7 0.7 0 1 0 1.4 0a0.7 0.7 0 1 0 -1.4 0M321.2 108.5a0.7 0.7 0 1 0 1.4 0a0.7 0.7 0 1 0 -1.4 0M328.7 109.4a0.7 0.7 0 1 0 1.4 0a0.7 0.7 0 1 0 -1.4 0M329.2 105.5a0.7 0.7 0 1 0 1.4 0a0.7 0.7 0 1 0 -1.4 0M321.4 96.9a0.7 0.7 0 1 0 1.4 0a0.7 0.7 0 1 0 -1.4 0M326.4 103.4a0.7 0.7 0 1 0 1.4 0a0.7 0.7 0 1 0 -1.4 0M325.2 109.7a0.7 0.7 0 1 0 1.4 0a0.7 0.7 0 1 0 -1.4 0M325.0 96.5a0.7 0.7 0 1 0 1.4 0a0.7 0.7 0 1 0 -1.4 0M324.1 89.4a0.7 0.7 0 1 0 1.4 0a0.7 0.7 0 1 0 -1.4 0M324.8 83.4a0.7 0.7 0 1 0 1.4 0a0.7 0.7 0 1 0 -1.4 0M331.3 86.2a0.7 0.7 0 1 0 1.4 0a0.7 0.7 0 1 0 -1.4 0M329.3 105.0a0.7 0.7 0 1 0 1.4 0a0.7 0.7 0 1 0 -1.4 0M330.5 108.7a0.7 0.7 0 1 0 1.4 0a0.7 0.7 0 1 0 -1.4 0M328.3 101.0a0.7 0.7 0 1 0 1.4 0a0.7 0.7 0 1 0 -1.4 0M325.9 108.3a0.7 0.7 0 1 0 1.4 0a0.7 0.7 0 1 0 -1.4 0M324.9 97.2a0.7 0.7 0 1 0 1.4 0a0.7 0.7 0 1 0 -1.4 0M332.3 92.0a0.7 0.7 0 1 0 1.4 0a0.7 0.7 0 1 0 -1.4 0M326.1 107.8a0.7 0.7 0 1 0 1.4 0a0.7 0.7 0 1 0 -1.4 0M324.6 103.4a0.7 0.7 0 1 0 1.4 0a0.7 0.7 0 1 0 -1.4 0M328.0 113.8a0.7 0.7 0 1 0 1.4 0a0.7 0.7 0 1 0 -1.4 0M331.2 103.4a0.7 0.7 0 1 0 1.4 0a0.7 0.7 0 1 0 -1.4 0M319.8 108.7a0.7 0.7 0 1 0 1.4 0a0.7 0.7 0 1 0 -1.4 0M328.0 105.1a0.7 0.7 0 1 0 1.4 0a0.7 0.7 0 1 0 -1.4 0M328.1 110.0a0.7 0.7 0 1 0 1.4 0a0.7 0.7 0 1 0 -1.4 0M331.6 110.8a0.7 0.7 0 1 0 1.4 0a0.7 0.7 0 1 0 -1.4 0M326.2 109.7a0.7 0.7 0 1 0 1.4 0a0.7 0.7 0 1 0 -1.4 0M329.3 102.8a0.7 0.7 0 1 0 1.4 0a0.7 0.7 0 1 0 -1.4 0M322.5 98.8a0.7 0.7 0 1 0 1.4 0a0.7 0.7 0 1 0 -1.4 0M321.3 101.4a0.7 0.7 0 1 0 1.4 0a0.7 0.7 0 1 0 -1.4 0M328.7 96.0a0.7 0.7 0 1 0 1.4 0a0.7 0.7 0 1 0 -1.4 0M323.5 110.4a0.7 0.7 0 1 0 1.4 0a0.7 0.7 0 1 0 -1.4 0M333.6 101.8a0.7 0.7 0 1 0 1.4 0a0.7 0.7 0 1 0 -1.4 0M326.9 108.1a0.7 0.7 0 1 0 1.4 0a0.7 0.7 0 1 0 -1.4 0M324.9 109.0a0.7 0.7 0 1 0 1.4 0a0.7 0.7 0 1 0 -1.4 0M331.6 96.2a0.7 0.7 0 1 0 1.4 0a0.7 0.7 0 1 0 -1.4 0M325.6 104.7a0.7 0.7 0 1 0 1.4 0a0.7 0.7 0 1 0 -1.4 0M328.1 105.7a0.7 0.7 0 1 0 1.4 0a0.7 0.7 0 1 0 -1.4 0M328.9 93.0a0.7 0.7 0 1 0 1.4 0a0.7 0.7 0 1 0 -1.4 0M327.5 105.5a0.7 0.7 0 1 0 1.4 0a0.7 0.7 0 1 0 -1.4 0M327.3 85.7a0.7 0.7 0 1 0 1.4 0a0.7 0.7 0 1 0 -1.4 0M324.3 114.8a0.7 0.7 0 1 0 1.4 0a0.7 0.7 0 1 0 -1.4 0M328.1 96.7a0.7 0.7 0 1 0 1.4 0a0.7 0.7 0 1 0 -1.4 0M329.2 119.4a0.7 0.7 0 1 0 1.4 0a0.7 0.7 0 1 0 -1.4 0M330.3 99.6a0.7 0.7 0 1 0 1.4 0a0.7 0.7 0 1 0 -1.4 0M326.1 97.8a0.7 0.7 0 1 0 1.4 0a0.7 0.7 0 1 0 -1.4 0M331.1 106.0a0.7 0.7 0 1 0 1.4 0a0.7 0.7 0 1 0 -1.4 0M332.6 97.5a0.7 0.7 0 1 0 1.4 0a0.7 0.7 0 1 0 -1.4 0M327.6 92.6a0.7 0.7 0 1 0 1.4 0a0.7 0.7 0 1 0 -1.4 0M325.2 91.1a0.7 0.7 0 1 0 1.4 0a0.7 0.7 0 1 0 -1.4 0M319.7 108.2a0.7 0.7 0 1 0 1.4 0a0.7 0.7 0 1 0 -1.4 0M329.6 105.8a0.7 0.7 0 1 0 1.4 0a0.7 0.7 0 1 0 -1.4 0M326.5 108.7a0.7 0.7 0 1 0 1.4 0a0.7 0.7 0 1 0 -1.4 0M328.9 112.0a0.7 0.7 0 1 0 1.4 0a0.7 0.7 0 1 0 -1.4 0M329.4 113.2a0.7 0.7 0 1 0 1.4 0a0.7 0.7 0 1 0 -1.4 0M326.5 75.7a0.7 0.7 0 1 0 1.4 0a0.7 0.7 0 1 0 -1.4 0M329.3 91.0a0.7 0.7 0 1 0 1.4 0a0.7 0.7 0 1 0 -1.4 0M329.1 106.1a0.7 0.7 0 1 0 1.4 0a0.7 0.7 0 1 0 -1.4 0M331.5 107.3a0.7 0.7 0 1 0 1.4 0a0.7 0.7 0 1 0 -1.4 0M324.9 95.6a0.7 0.7 0 1 0 1.4 0a0.7 0.7 0 1 0 -1.4 0M326.9 98.6a0.7 0.7 0 1 0 1.4 0a0.7 0.7 0 1 0 -1.4 0M321.3 114.4a0.7 0.7 0 1 0 1.4 0a0.7 0.7 0 1 0 -1.4 0M327.2 90.9a0.7 0.7 0 1 0 1.4 0a0.7 0.7 0 1 0 -1.4 0M328.5 99.6a0.7 0.7 0 1 0 1.4 0a0.7 0.7 0 1 0 -1.4 0M325.2 78.5a0.7 0.7 0 1 0 1.4 0a0.7 0.7 0 1 0 -1.4 0M322.4 114.7a0.7 0.7 0 1 0 1.4 0a0.7 0.7 0 1 0 -1.4 0M329.0 112.4a0.7 0.7 0 1 0 1.4 0a0.7 0.7 0 1 0 -1.4 0M319.5 78.0a0.7 0.7 0 1 0 1.4 0a0.7 0.7 0 1 0 -1.4 0M328.3 97.0a0.7 0.7 0 1 0 1.4 0a0.7 0.7 0 1 0 -1.4 0M327.5 87.8a0.7 0.7 0 1 0 1.4 0a0.7 0.7 0 1 0 -1.4 0M328.0 95.8a0.7 0.7 0 1 0 1.4 0a0.7 0.7 0 1 0 -1.4 0M326.5 111.8a0.7 0.7 0 1 0 1.4 0a0.7 0.7 0 1 0 -1.4 0M323.0 91.9a0.7 0.7 0 1 0 1.4 0a0.7 0.7 0 1 0 -1.4 0M327.1 78.8a0.7 0.7 0 1 0 1.4 0a0.7 0.7 0 1 0 -1.4 0M333.8 91.0a0.7 0.7 0 1 0 1.4 0a0.7 0.7 0 1 0 -1.4 0M327.1 102.0a0.7 0.7 0 1 0 1.4 0a0.7 0.7 0 1 0 -1.4 0M324.3 104.8a0.7 0.7 0 1 0 1.4 0a0.7 0.7 0 1 0 -1.4 0M321.1 102.3a0.7 0.7 0 1 0 1.4 0a0.7 0.7 0 1 0 -1.4 0M328.4 102.5a0.7 0.7 0 1 0 1.4 0a0.7 0.7 0 1 0 -1.4 0M327.5 91.5a0.7 0.7 0 1 0 1.4 0a0.7 0.7 0 1 0 -1.4 0" fill="none" stroke="#000" stroke-width="0.4"/><rect x="318.7" y="100.12" width="17.3" height="20.08" fill="none" stroke="#000" stroke-width="0.75"/><line x1="327.35" y1="100.12" x2="327.35" y2="88.07" stroke="#000" stroke-width="0.8"/><line x1="321.85" y1="88.07" x2="332.85" y2="88.07" stroke="#000" stroke-width="0.8"/><text x="327.35" y="125.6" font-size="3.4" text-anchor="middle" font-weight="bold">A</text><path d="M350.3 98.1a0.7 0.7 0 1 0 1.4 0a0.7 0.7 0 1 0 -1.4 0M356.4 114.8a0.7 0.7 0 1 0 1.4 0a0.7 0.7 0 1 0 -1.4 0M350.4 111.1a0.7 0.7 0 1 0 1.4 0a0.7 0.7 0 1 0 -1.4 0M359.7 103.4a0.7 0.7 0 1 0 1.4 0a0.7 0.7 0 1 0 -1.4 0M353.8 109.3a0.7 0.7 0 1 0 1.4 0a0.7 0.7 0 1 0 -1.4 0M353.7 112.1a0.7 0.7 0 1 0 1.4 0a0.7 0.7 0 1 0 -1.4 0M353.2 110.0a0.7 0.7 0 1 0 1.4 0a0.7 0.7 0 1 0 -1.4 0M354.6 107.4a0.7 0.7 0 1 0 1.4 0a0.7 0.7 0 1 0 -1.4 0M355.4 110.8a0.7 0.7 0 1 0 1.4 0a0.7 0.7 0 1 0 -1.4 0M354.7 113.6a0.7 0.7 0 1 0 1.4 0a0.7 0.7 0 1 0 -1.4 0M347.9 106.5a0.7 0.7 0 1 0 1.4 0a0.7 0.7 0 1 0 -1.4 0M350.7 112.8a0.7 0.7 0 1 0 1.4 0a0.7 0.7 0 1 0 -1.4 0M353.3 115.0a0.7 0.7 0 1 0 1.4 0a0.7 0.7 0 1 0 -1.4 0M353.2 103.7a0.7 0.7 0 1 0 1.4 0a0.7 0.7 0 1 0 -1.4 0M359.2 99.3a0.7 0.7 0 1 0 1.4 0a0.7 0.7 0 1 0 -1.4 0M353.8 112.3a0.7 0.7 0 1 0 1.4 0a0.7 0.7 0 1 0 -1.4 0M350.7 115.6a0.7 0.7 0 1 0 1.4 0a0.7 0.7 0 1 0 -1.4 0M350.6 114.3a0.7 0.7 0 1 0 1.4 0a0.7 0.7 0 1 0 -1.4 0M350.1 98.8a0.7 0.7 0 1 0 1.4 0a0.7 0.7 0 1 0 -1.4 0M352.2 108.8a0.7 0.7 0 1 0 1.4 0a0.7 0.7 0 1 0 -1.4 0M353.3 110.0a0.7 0.7 0 1 0 1.4 0a0.7 0.7 0 1 0 -1.4 0M351.2 110.7a0.7 0.7 0 1 0 1.4 0a0.7 0.7 0 1 0 -1.4 0M360.7 109.9a0.7 0.7 0 1 0 1.4 0a0.7 0.7 0 1 0 -1.4 0M358.8 106.1a0.7 0.7 0 1 0 1.4 0a0.7 0.7 0 1 0 -1.4 0M355.5 113.0a0.7 0.7 0 1 0 1.4 0a0.7 0.7 0 1 0 -1.4 0M359.8 109.6a0.7 0.7 0 1 0 1.4 0a0.7 0.7 0 1 0 -1.4 0M352.5 110.3a0.7 0.7 0 1 0 1.4 0a0.7 0.7 0 1 0 -1.4 0M349.8 107.9a0.7 0.7 0 1 0 1.4 0a0.7 0.7 0 1 0 -1.4 0M352.0 105.6a0.7 0.7 0 1 0 1.4 0a0.7 0.7 0 1 0 -1.4 0M357.6 114.9a0.7 0.7 0 1 0 1.4 0a0.7 0.7 0 1 0 -1.4 0M354.0 111.3a0.7 0.7 0 1 0 1.4 0a0.7 0.7 0 1 0 -1.4 0M353.5 102.8a0.7 0.7 0 1 0 1.4 0a0.7 0.7 0 1 0 -1.4 0M354.4 110.7a0.7 0.7 0 1 0 1.4 0a0.7 0.7 0 1 0 -1.4 0M348.1 94.3a0.7 0.7 0 1 0 1.4 0a0.7 0.7 0 1 0 -1.4 0M350.6 106.6a0.7 0.7 0 1 0 1.4 0a0.7 0.7 0 1 0 -1.4 0M351.2 102.8a0.7 0.7 0 1 0 1.4 0a0.7 0.7 0 1 0 -1.4 0M351.2 108.4a0.7 0.7 0 1 0 1.4 0a0.7 0.7 0 1 0 -1.4 0M358.2 99.5a0.7 0.7 0 1 0 1.4 0a0.7 0.7 0 1 0 -1.4 0M355.9 107.1a0.7 0.7 0 1 0 1.4 0a0.7 0.7 0 1 0 -1.4 0M355.9 97.0a0.7 0.7 0 1 0 1.4 0a0.7 0.7 0 1 0 -1.4 0M357.5 105.3a0.7 0.7 0 1 0 1.4 0a0.7 0.7 0 1 0 -1.4 0M355.2 112.1a0.7 0.7 0 1 0 1.4 0a0.7 0.7 0 1 0 -1.4 0M357.2 101.8a0.7 0.7 0 1 0 1.4 0a0.7 0.7 0 1 0 -1.4 0M353.3 106.7a0.7 0.7 0 1 0 1.4 0a0.7 0.7 0 1 0 -1.4 0M354.9 98.8a0.7 0.7 0 1 0 1.4 0a0.7 0.7 0 1 0 -1.4 0M353.4 114.5a0.7 0.7 0 1 0 1.4 0a0.7 0.7 0 1 0 -1.4 0M352.7 106.0a0.7 0.7 0 1 0 1.4 0a0.7 0.7 0 1 0 -1.4 0M353.0 108.1a0.7 0.7 0 1 0 1.4 0a0.7 0.7 0 1 0 -1.4 0M350.8 100.8a0.7 0.7 0 1 0 1.4 0a0.7 0.7 0 1 0 -1.4 0M356.4 107.8a0.7 0.7 0 1 0 1.4 0a0.7 0.7 0 1 0 -1.4 0M349.3 109.0a0.7 0.7 0 1 0 1.4 0a0.7 0.7 0 1 0 -1.4 0M353.9 109.6a0.7 0.7 0 1 0 1.4 0a0.7 0.7 0 1 0 -1.4 0M355.4 110.1a0.7 0.7 0 1 0 1.4 0a0.7 0.7 0 1 0 -1.4 0M353.2 109.3a0.7 0.7 0 1 0 1.4 0a0.7 0.7 0 1 0 -1.4 0M351.2 111.3a0.7 0.7 0 1 0 1.4 0a0.7 0.7 0 1 0 -1.4 0M356.0 113.7a0.7 0.7 0 1 0 1.4 0a0.7 0.7 0 1 0 -1.4 0M356.9 102.0a0.7 0.7 0 1 0 1.4 0a0.7 0.7 0 1 0 -1.4 0M354.7 112.8a0.7 0.7 0 1 0 1.4 0a0.7 0.7 0 1 0 -1.4 0M358.1 103.5a0.7 0.7 0 1 0 1.4 0a0.7 0.7 0 1 0 -1.4 0M349.1 105.6a0.7 0.7 0 1 0 1.4 0a0.7 0.7 0 1 0 -1.4 0M355.8 114.3a0.7 0.7 0 1 0 1.4 0a0.7 0.7 0 1 0 -1.4 0M355.0 116.9a0.7 0.7 0 1 0 1.4 0a0.7 0.7 0 1 0 -1.4 0M359.6 109.3a0.7 0.7 0 1 0 1.4 0a0.7 0.7 0 1 0 -1.4 0M353.5 113.5a0.7 0.7 0 1 0 1.4 0a0.7 0.7 0 1 0 -1.4 0M349.3 104.9a0.7 0.7 0 1 0 1.4 0a0.7 0.7 0 1 0 -1.4 0M356.6 113.6a0.7 0.7 0 1 0 1.4 0a0.7 0.7 0 1 0 -1.4 0M360.7 100.5a0.7 0.7 0 1 0 1.4 0a0.7 0.7 0 1 0 -1.4 0M354.3 113.3a0.7 0.7 0 1 0 1.4 0a0.7 0.7 0 1 0 -1.4 0M353.0 107.0a0.7 0.7 0 1 0 1.4 0a0.7 0.7 0 1 0 -1.4 0M352.6 111.5a0.7 0.7 0 1 0 1.4 0a0.7 0.7 0 1 0 -1.4 0M353.9 112.2a0.7 0.7 0 1 0 1.4 0a0.7 0.7 0 1 0 -1.4 0M354.3 116.1a0.7 0.7 0 1 0 1.4 0a0.7 0.7 0 1 0 -1.4 0M356.5 109.4a0.7 0.7 0 1 0 1.4 0a0.7 0.7 0 1 0 -1.4 0M351.2 100.0a0.7 0.7 0 1 0 1.4 0a0.7 0.7 0 1 0 -1.4 0M357.5 95.9a0.7 0.7 0 1 0 1.4 0a0.7 0.7 0 1 0 -1.4 0M353.0 108.3a0.7 0.7 0 1 0 1.4 0a0.7 0.7 0 1 0 -1.4 0M350.7 114.9a0.7 0.7 0 1 0 1.4 0a0.7 0.7 0 1 0 -1.4 0M353.4 114.7a0.7 0.7 0 1 0 1.4 0a0.7 0.7 0 1 0 -1.4 0M352.3 109.1a0.7 0.7 0 1 0 1.4 0a0.7 0.7 0 1 0 -1.4 0M355.3 110.6a0.7 0.7 0 1 0 1.4 0a0.7 0.7 0 1 0 -1.4 0M351.9 115.5a0.7 0.7 0 1 0 1.4 0a0.7 0.7 0 1 0 -1.4 0M354.7 109.1a0.7 0.7 0 1 0 1.4 0a0.7 0.7 0 1 0 -1.4 0M350.1 106.1a0.7 0.7 0 1 0 1.4 0a0.7 0.7 0 1 0 -1.4 0M349.0 109.7a0.7 0.7 0 1 0 1.4 0a0.7 0.7 0 1 0 -1.4 0M360.7 113.0a0.7 0.7 0 1 0 1.4 0a0.7 0.7 0 1 0 -1.4 0M352.7 110.7a0.7 0.7 0 1 0 1.4 0a0.7 0.7 0 1 0 -1.4 0M352.4 108.1a0.7 0.7 0 1 0 1.4 0a0.7 0.7 0 1 0 -1.4 0M351.8 107.1a0.7 0.7 0 1 0 1.4 0a0.7 0.7 0 1 0 -1.4 0M349.8 109.7a0.7 0.7 0 1 0 1.4 0a0.7 0.7 0 1 0 -1.4 0M360.7 95.7a0.7 0.7 0 1 0 1.4 0a0.7 0.7 0 1 0 -1.4 0M347.0 102.3a0.7 0.7 0 1 0 1.4 0a0.7 0.7 0 1 0 -1.4 0M356.9 110.9a0.7 0.7 0 1 0 1.4 0a0.7 0.7 0 1 0 -1.4 0M355.9 113.1a0.7 0.7 0 1 0 1.4 0a0.7 0.7 0 1 0 -1.4 0M352.4 103.5a0.7 0.7 0 1 0 1.4 0a0.7 0.7 0 1 0 -1.4 0M346.0 112.7a0.7 0.7 0 1 0 1.4 0a0.7 0.7 0 1 0 -1.4 0M349.7 105.2a0.7 0.7 0 1 0 1.4 0a0.7 0.7 0 1 0 -1.4 0M353.1 105.9a0.7 0.7 0 1 0 1.4 0a0.7 0.7 0 1 0 -1.4 0M351.2 102.2a0.7 0.7 0 1 0 1.4 0a0.7 0.7 0 1 0 -1.4 0M350.4 97.3a0.7 0.7 0 1 0 1.4 0a0.7 0.7 0 1 0 -1.4 0M354.9 100.7a0.7 0.7 0 1 0 1.4 0a0.7 0.7 0 1 0 -1.4 0" fill="none" stroke="#000" stroke-width="0.4"/><rect x="345.2" y="107.75" width="17.7" height="12.45" fill="none" stroke="#000" stroke-width="0.75"/><line x1="354.05" y1="107.75" x2="354.05" y2="101.32" stroke="#000" stroke-width="0.8"/><line x1="348.55" y1="101.32" x2="359.55" y2="101.32" stroke="#000" stroke-width="0.8"/><text x="354.05" y="125.6" font-size="3.4" text-anchor="middle" font-weight="bold">B</text><path d="M372.8 114.9a0.7 0.7 0 1 0 1.4 0a0.7 0.7 0 1 0 -1.4 0M382.9 114.8a0.7 0.7 0 1 0 1.4 0a0.7 0.7 0 1 0 -1.4 0M376.8 115.0a0.7 0.7 0 1 0 1.4 0a0.7 0.7 0 1 0 -1.4 0M380.3 113.9a0.7 0.7 0 1 0 1.4 0a0.7 0.7 0 1 0 -1.4 0M382.7 112.3a0.7 0.7 0 1 0 1.4 0a0.7 0.7 0 1 0 -1.4 0M378.3 117.3a0.7 0.7 0 1 0 1.4 0a0.7 0.7 0 1 0 -1.4 0M374.8 110.6a0.7 0.7 0 1 0 1.4 0a0.7 0.7 0 1 0 -1.4 0M377.0 115.5a0.7 0.7 0 1 0 1.4 0a0.7 0.7 0 1 0 -1.4 0M380.7 116.3a0.7 0.7 0 1 0 1.4 0a0.7 0.7 0 1 0 -1.4 0M380.3 112.8a0.7 0.7 0 1 0 1.4 0a0.7 0.7 0 1 0 -1.4 0M383.0 114.3a0.7 0.7 0 1 0 1.4 0a0.7 0.7 0 1 0 -1.4 0M378.5 116.2a0.7 0.7 0 1 0 1.4 0a0.7 0.7 0 1 0 -1.4 0M380.9 115.1a0.7 0.7 0 1 0 1.4 0a0.7 0.7 0 1 0 -1.4 0M382.0 112.4a0.7 0.7 0 1 0 1.4 0a0.7 0.7 0 1 0 -1.4 0M384.7 115.1a0.7 0.7 0 1 0 1.4 0a0.7 0.7 0 1 0 -1.4 0M374.2 116.2a0.7 0.7 0 1 0 1.4 0a0.7 0.7 0 1 0 -1.4 0M376.7 113.2a0.7 0.7 0 1 0 1.4 0a0.7 0.7 0 1 0 -1.4 0M378.3 113.3a0.7 0.7 0 1 0 1.4 0a0.7 0.7 0 1 0 -1.4 0M382.5 115.0a0.7 0.7 0 1 0 1.4 0a0.7 0.7 0 1 0 -1.4 0M380.4 112.1a0.7 0.7 0 1 0 1.4 0a0.7 0.7 0 1 0 -1.4 0M384.2 112.9a0.7 0.7 0 1 0 1.4 0a0.7 0.7 0 1 0 -1.4 0M374.5 108.2a0.7 0.7 0 1 0 1.4 0a0.7 0.7 0 1 0 -1.4 0M377.2 112.5a0.7 0.7 0 1 0 1.4 0a0.7 0.7 0 1 0 -1.4 0M373.9 114.3a0.7 0.7 0 1 0 1.4 0a0.7 0.7 0 1 0 -1.4 0M380.0 108.0a0.7 0.7 0 1 0 1.4 0a0.7 0.7 0 1 0 -1.4 0M382.6 116.3a0.7 0.7 0 1 0 1.4 0a0.7 0.7 0 1 0 -1.4 0M377.6 115.6a0.7 0.7 0 1 0 1.4 0a0.7 0.7 0 1 0 -1.4 0M380.7 111.0a0.7 0.7 0 1 0 1.4 0a0.7 0.7 0 1 0 -1.4 0M379.7 115.9a0.7 0.7 0 1 0 1.4 0a0.7 0.7 0 1 0 -1.4 0M374.9 114.7a0.7 0.7 0 1 0 1.4 0a0.7 0.7 0 1 0 -1.4 0M374.2 113.4a0.7 0.7 0 1 0 1.4 0a0.7 0.7 0 1 0 -1.4 0M376.0 114.5a0.7 0.7 0 1 0 1.4 0a0.7 0.7 0 1 0 -1.4 0M379.5 112.7a0.7 0.7 0 1 0 1.4 0a0.7 0.7 0 1 0 -1.4 0M382.5 109.7a0.7 0.7 0 1 0 1.4 0a0.7 0.7 0 1 0 -1.4 0M379.2 115.0a0.7 0.7 0 1 0 1.4 0a0.7 0.7 0 1 0 -1.4 0M376.9 117.5a0.7 0.7 0 1 0 1.4 0a0.7 0.7 0 1 0 -1.4 0M383.1 114.0a0.7 0.7 0 1 0 1.4 0a0.7 0.7 0 1 0 -1.4 0M379.4 115.0a0.7 0.7 0 1 0 1.4 0a0.7 0.7 0 1 0 -1.4 0M380.3 111.1a0.7 0.7 0 1 0 1.4 0a0.7 0.7 0 1 0 -1.4 0M377.2 111.8a0.7 0.7 0 1 0 1.4 0a0.7 0.7 0 1 0 -1.4 0M377.2 111.6a0.7 0.7 0 1 0 1.4 0a0.7 0.7 0 1 0 -1.4 0M377.3 114.2a0.7 0.7 0 1 0 1.4 0a0.7 0.7 0 1 0 -1.4 0M381.2 110.8a0.7 0.7 0 1 0 1.4 0a0.7 0.7 0 1 0 -1.4 0M380.8 117.3a0.7 0.7 0 1 0 1.4 0a0.7 0.7 0 1 0 -1.4 0M379.0 113.2a0.7 0.7 0 1 0 1.4 0a0.7 0.7 0 1 0 -1.4 0M377.5 113.5a0.7 0.7 0 1 0 1.4 0a0.7 0.7 0 1 0 -1.4 0M381.0 113.4a0.7 0.7 0 1 0 1.4 0a0.7 0.7 0 1 0 -1.4 0M379.2 114.5a0.7 0.7 0 1 0 1.4 0a0.7 0.7 0 1 0 -1.4 0M377.6 115.7a0.7 0.7 0 1 0 1.4 0a0.7 0.7 0 1 0 -1.4 0M383.9 114.6a0.7 0.7 0 1 0 1.4 0a0.7 0.7 0 1 0 -1.4 0M384.8 115.1a0.7 0.7 0 1 0 1.4 0a0.7 0.7 0 1 0 -1.4 0M381.9 114.7a0.7 0.7 0 1 0 1.4 0a0.7 0.7 0 1 0 -1.4 0M381.3 117.5a0.7 0.7 0 1 0 1.4 0a0.7 0.7 0 1 0 -1.4 0M377.3 114.8a0.7 0.7 0 1 0 1.4 0a0.7 0.7 0 1 0 -1.4 0M383.7 113.8a0.7 0.7 0 1 0 1.4 0a0.7 0.7 0 1 0 -1.4 0M383.9 115.6a0.7 0.7 0 1 0 1.4 0a0.7 0.7 0 1 0 -1.4 0M380.2 111.3a0.7 0.7 0 1 0 1.4 0a0.7 0.7 0 1 0 -1.4 0M373.6 115.1a0.7 0.7 0 1 0 1.4 0a0.7 0.7 0 1 0 -1.4 0M379.5 113.8a0.7 0.7 0 1 0 1.4 0a0.7 0.7 0 1 0 -1.4 0M379.9 117.0a0.7 0.7 0 1 0 1.4 0a0.7 0.7 0 1 0 -1.4 0" fill="none" stroke="#000" stroke-width="0.4"/><rect x="372" y="113.93" width="16.3" height="6.27" fill="none" stroke="#000" stroke-width="0.75"/><line x1="380.15" y1="113.93" x2="380.15" y2="111.36" stroke="#000" stroke-width="0.8"/><line x1="374.65" y1="111.36" x2="385.65" y2="111.36" stroke="#000" stroke-width="0.8"/><text x="380.15" y="125.6" font-size="3.4" text-anchor="middle" font-weight="bold">C</text><line x1="327.9" y1="67.1" x2="381.6" y2="67.1" stroke="#000" stroke-width="0.6"/><line x1="327.9" y1="67.1" x2="327.9" y2="72.9" stroke="#000" stroke-width="0.6"/><line x1="381.6" y1="67.1" x2="381.6" y2="72.9" stroke="#000" stroke-width="0.6"/><text x="355.4" y="67.4" font-size="3.4" text-anchor="middle" font-weight="bold">***</text><line x1="327.9" y1="71.7" x2="354.5" y2="71.7" stroke="#000" stroke-width="0.55"/><line x1="357" y1="71.7" x2="381.6" y2="71.7" stroke="#000" stroke-width="0.55"/><line x1="354.5" y1="70" x2="354.5" y2="73.4" stroke="#000" stroke-width="0.45"/><line x1="355.4" y1="70" x2="355.4" y2="73.4" stroke="#000" stroke-width="0.45"/><line x1="356.1" y1="70" x2="356.1" y2="73.4" stroke="#000" stroke-width="0.45"/><line x1="357" y1="70" x2="357" y2="73.4" stroke="#000" stroke-width="0.45"/><text x="342.2" y="71.9" font-size="2.8" text-anchor="middle" fill="#999" stroke="#999" stroke-width="0.10">***</text><text x="367.3" y="71.9" font-size="2.8" text-anchor="middle" fill="#999" stroke="#999" stroke-width="0.10">***</text><text x="297.4" y="95.3" font-size="3.95" text-anchor="middle" fill="#111" font-weight="bold" transform="rotate(-90 297.4 95.3)">Tim3 Expression(%)</text><text x="281" y="131.6" font-size="7" font-weight="bold">D</text><line x1="307.8" y1="183.65" x2="307.8" y2="134.8" stroke="#000" stroke-width="0.7"/><line x1="305.8" y1="183.3" x2="307.8" y2="183.3" stroke="#000" stroke-width="0.65"/><text x="304.9" y="184.6" font-size="3.6" text-anchor="end" fill="#111" font-weight="bold">0</text><line x1="305.8" y1="171.18" x2="307.8" y2="171.18" stroke="#000" stroke-width="0.65"/><text x="304.9" y="172.48" font-size="3.6" text-anchor="end" fill="#111" font-weight="bold">20</text><line x1="305.8" y1="159.05" x2="307.8" y2="159.05" stroke="#000" stroke-width="0.65"/><text x="304.9" y="160.35" font-size="3.6" text-anchor="end" fill="#111" font-weight="bold">40</text><line x1="305.8" y1="146.93" x2="307.8" y2="146.93" stroke="#000" stroke-width="0.65"/><text x="304.9" y="148.23" font-size="3.6" text-anchor="end" fill="#111" font-weight="bold">60</text><line x1="305.8" y1="134.8" x2="307.8" y2="134.8" stroke="#000" stroke-width="0.65"/><text x="304.9" y="136.1" font-size="3.6" text-anchor="end" fill="#111" font-weight="bold">80</text><line x1="307.8" y1="183.3" x2="392" y2="183.3" stroke="#000" stroke-width="0.7"/><path transform="scale(.1)" d="M3321 1725h0m-68 10h0m-46 5h0m105 17h0m-43 0h0m-15 10h0m-22-1h0m-9 16h0m18-10h0m60 20h0m-12 21h0m35 6h0m-41 2h0" stroke="#000" stroke-width="17.0" stroke-linecap="round" fill="none"/><rect x="318" y="175.42" width="18" height="7.88" fill="none" stroke="#000" stroke-width="0.75"/><line x1="327" y1="175.42" x2="327" y2="170.57" stroke="#000" stroke-width="0.9"/><line x1="322.5" y1="170.57" x2="331.5" y2="170.57" stroke="#000" stroke-width="0.9"/><text x="327" y="189.2" font-size="3.4" text-anchor="middle" font-weight="bold">I</text><path transform="scale(.1)" d="M3554 1621h0m11 22h0m-39 6h0m-4 0h0m-11-14h0m-14 21h0m1 7h0m47-6h0m50 16h0m-22 3h0m-33 3h0m-38 0h0m-12 6h0m2-2h0m21 1h0m12-2h0m57 1h0m15 10h0m-50 3h0m-20 13h0m-27-6h0m-19 11h0m1-2h0m27 11h0m9-4h0m32-6h0m4 6h0m45-6h0m-94 14h0m-18 11h0m9 7h0m34 6h0m7-1h0m31 4h0m27-6h0m-2 12h0m-38 7h0m-64-2h0m25 5h0m0 13h0m32 28h0m6 10h0" stroke="#000" stroke-width="17.0" stroke-linecap="round" fill="none"/><rect x="345" y="170.87" width="17.6" height="12.43" fill="none" stroke="#000" stroke-width="0.75"/><line x1="353.8" y1="170.87" x2="353.8" y2="163.29" stroke="#000" stroke-width="0.9"/><line x1="349.3" y1="163.29" x2="358.3" y2="163.29" stroke="#000" stroke-width="0.9"/><text x="353.8" y="189.2" font-size="3.4" text-anchor="middle" font-weight="bold">II</text><path d="M382.3 164.2l0.95 1.61h-1.90zM378.0 155.4l0.95 1.61h-1.90zM384.3 170.4l0.95 1.61h-1.90zM378.1 166.8l0.95 1.61h-1.90zM385.3 157.4l0.95 1.61h-1.90zM376.3 172.0l0.95 1.61h-1.90zM382.5 168.5l0.95 1.61h-1.90zM381.1 159.9l0.95 1.61h-1.90zM386.1 168.1l0.95 1.61h-1.90zM374.7 159.4l0.95 1.61h-1.90zM383.2 159.9l0.95 1.61h-1.90zM376.9 165.4l0.95 1.61h-1.90zM382.7 172.1l0.95 1.61h-1.90zM385.4 157.9l0.95 1.61h-1.90zM386.0 159.4l0.95 1.61h-1.90zM377.6 168.8l0.95 1.61h-1.90zM376.5 164.2l0.95 1.61h-1.90zM375.4 164.5l0.95 1.61h-1.90zM385.2 169.9l0.95 1.61h-1.90zM383.9 174.4l0.95 1.61h-1.90zM379.0 179.3l0.95 1.61h-1.90zM379.7 153.7l0.95 1.61h-1.90zM377.2 162.1l0.95 1.61h-1.90zM384.9 166.8l0.95 1.61h-1.90zM374.6 162.9l0.95 1.61h-1.90zM384.8 161.4l0.95 1.61h-1.90zM381.1 167.8l0.95 1.61h-1.90zM384.2 160.8l0.95 1.61h-1.90zM379.6 167.4l0.95 1.61h-1.90zM377.9 170.0l0.95 1.61h-1.90zM375.9 164.3l0.95 1.61h-1.90zM380.3 156.2l0.95 1.61h-1.90zM384.0 165.6l0.95 1.61h-1.90zM382.0 166.8l0.95 1.61h-1.90zM379.3 164.3l0.95 1.61h-1.90zM379.5 168.9l0.95 1.61h-1.90zM385.6 178.5l0.95 1.61h-1.90zM384.6 166.0l0.95 1.61h-1.90zM377.5 175.8l0.95 1.61h-1.90zM385.6 164.2l0.95 1.61h-1.90zM379.6 165.6l0.95 1.61h-1.90zM381.7 159.1l0.95 1.61h-1.90zM383.9 168.5l0.95 1.61h-1.90zM384.5 153.0l0.95 1.61h-1.90zM384.9 165.7l0.95 1.61h-1.90zM382.9 168.8l0.95 1.61h-1.90zM384.3 168.0l0.95 1.61h-1.90zM379.5 163.1l0.95 1.61h-1.90zM375.1 149.0l0.95 1.61h-1.90zM376.3 155.3l0.95 1.61h-1.90zM382.1 164.1l0.95 1.61h-1.90zM380.5 152.4l0.95 1.61h-1.90z" fill="none" stroke="#000" stroke-width="0.45"/><rect x="372" y="164.2" width="17.7" height="19.1" fill="none" stroke="#000" stroke-width="0.75"/><line x1="380.85" y1="164.2" x2="380.85" y2="156.62" stroke="#000" stroke-width="0.9"/><line x1="376.35" y1="156.62" x2="385.35" y2="156.62" stroke="#000" stroke-width="0.9"/><text x="380.85" y="189.2" font-size="3.4" text-anchor="middle" font-weight="bold">III</text><line x1="326.7" y1="130.7" x2="381" y2="130.7" stroke="#000" stroke-width="0.6"/><line x1="326.7" y1="130.7" x2="326.7" y2="136.3" stroke="#000" stroke-width="0.6"/><line x1="381" y1="130.7" x2="381" y2="136.3" stroke="#000" stroke-width="0.6"/><text x="353.7" y="130.9" font-size="3.2" text-anchor="middle" font-weight="bold">***</text><line x1="326.7" y1="134.5" x2="381" y2="134.5" stroke="#000" stroke-width="0.55"/><ellipse cx="353.7" cy="134.3" rx="1.1" ry="2.1" fill="none" stroke="#000" stroke-width="0.7"/><text x="337.5" y="134.6" font-size="2.8" text-anchor="middle" fill="#999" stroke="#999" stroke-width="0.10">*</text><text x="366.4" y="134.6" font-size="2.8" text-anchor="middle" fill="#999" stroke="#999" stroke-width="0.10">**</text><text x="297.4" y="159.7" font-size="3.95" text-anchor="middle" fill="#111" font-weight="bold" transform="rotate(-90 297.4 159.7)">Tim3 Expression(%)</text><text x="0" y="197.8" font-size="7" font-weight="bold">E</text><line x1="22.8" y1="263.85" x2="22.8" y2="196.3" stroke="#000" stroke-width="0.75"/><line x1="20.6" y1="263.5" x2="22.8" y2="263.5" stroke="#000" stroke-width="0.7"/><text x="19.5" y="265.1" font-size="4.6" text-anchor="end" fill="#111" font-weight="bold">0</text><line x1="20.6" y1="241.1" x2="22.8" y2="241.1" stroke="#000" stroke-width="0.7"/><text x="19.5" y="242.7" font-size="4.6" text-anchor="end" fill="#111" font-weight="bold">20</text><line x1="20.6" y1="218.7" x2="22.8" y2="218.7" stroke="#000" stroke-width="0.7"/><text x="19.5" y="220.3" font-size="4.6" text-anchor="end" fill="#111" font-weight="bold">40</text><line x1="20.6" y1="196.3" x2="22.8" y2="196.3" stroke="#000" stroke-width="0.7"/><text x="19.5" y="197.9" font-size="4.6" text-anchor="end" fill="#111" font-weight="bold">60</text><line x1="22.8" y1="263.5" x2="125.4" y2="263.5" stroke="#000" stroke-width="0.75"/><line x1="23.2" y1="263.5" x2="23.2" y2="265.1" stroke="#000" stroke-width="0.65"/><text x="23.2" y="272.5" font-size="4.6" text-anchor="middle" fill="#111" font-weight="bold">0</text><line x1="57.13" y1="263.5" x2="57.13" y2="265.1" stroke="#000" stroke-width="0.65"/><text x="57.13" y="272.5" font-size="4.6" text-anchor="middle" fill="#111" font-weight="bold">20</text><line x1="91.07" y1="263.5" x2="91.07" y2="265.1" stroke="#000" stroke-width="0.65"/><text x="91.07" y="272.5" font-size="4.6" text-anchor="middle" fill="#111" font-weight="bold">40</text><line x1="125" y1="263.5" x2="125" y2="265.1" stroke="#000" stroke-width="0.65"/><text x="125" y="272.5" font-size="4.6" text-anchor="middle" fill="#111" font-weight="bold">60</text><path transform="scale(.1)" d="M911 1985h0m322 56h0m-288 79h0m-382 22h0m170 6h0m-111 5h0m-93 40h0m314 50h0m-263 62h0m-9 16h0m34 6h0m-127 22h0m441 6h0m-424 0h0m178 56h0m97 9h0m-122 8h0m-190 17h0m-82 0h0m-8 5h0m395 23h0m-463 5h0m120 19h0m287 4h0m-42 14h0m-367 17h0m95 2h0m144 0h0m173 0h0m150-11h0m253 2h0m-677 20h0m-164 18h0m2-3h0m116-5h0m19 4h0m15 5h0m11-4h0m12 3h0m29-13h0m19 8h0m26 4h0m32-8h0m77 3h0m15 3h0m112-5h0m125 9h0m317-7h0m-170 13h0m-144 3h0m-71 4h0m-72-6h0m-13 1h0m-3 3h0m-19 4h0m-43-5h0m-81-4h0m-31 5h0m-7 2h0m-11-4h0m-20 3h0m-10-8h0m-55 7h0m-11-3h0m-44 7h0m-42-2h0m-9-1h0m-29-1h0m-15 2h0m-33 2h0m-7-7h0m-3 0h0m-4 0h0m15 15h0m54-1h0m4 8h0m65-10h0m40 1h0m1 3h0m27-5h0m20 11h0m3 0h0m3-2h0m6-9h0m65-1h0m17 6h0m15-5h0m6 0h0m7 3h0m23 4h0m18-10h0m49 11h0m6 0h0m8-10h0m15 1h0m14 0h0m52 7h0m8 1h0m1-8h0m2 5h0m200 14h0m-110 0h0m-19 5h0m-16 0h0m-70-1h0m-10-6h0m0-2h0m-23-2h0m-1 2h0m-12 4h0m-28 5h0m-16-6h0m-17-4h0m-17-1h0m-10 6h0m-27 6h0m-9 2h0m-1-7h0m-8 4h0m-16-5h0m-24 1h0m-9-2h0m-5-3h0m-4 1h0m-9 2h0m-46-1h0m-5-4h0m0 11h0m-3 2h0m-1 1h0m-12-5h0m-5-9h0m-24 7h0m-1 4h0m-4 1h0m-5-1h0m-1-10h0m-2 11h0m-1 0h0m-25-7h0m-33 6h0m-5 2h0m-3-6h0m-2-5h0m-1 5h0m-36 1h0m-25-3h0m-6 8h0m-24-6h0m-11 22h0m3-10h0m12 3h0m11 3h0m6 3h0m2 1h0m0-14h0m0 7h0m4-4h0m0 9h0m2-9h0m16 10h0m11 1h0m12-8h0m3 8h0m22-3h0m0 3h0m4-12h0m8 12h0m10 0h0m12 0h0m1-7h0m13-7h0m10 13h0m4-2h0m0-10h0m6 7h0m6 6h0m0 0h0m6-5h0m4 5h0m8-5h0m36-8h0m1 0h0m10 6h0m6 7h0m5-11h0m29 11h0m5-12h0m4 0h0m28 3h0m3 7h0m1 0h0m1 0h0m9-12h0m2 11h0m7-3h0m30-7h0m12 7h0m7 3h0m1 3h0m10-12h0m10 12h0m2 0h0m6 0h0m1-8h0m5 8h0m1-10h0m25 10h0m4 0h0m6-7h0m1 7h0m3 0h0m16 0h0m4-4h0m3-5h0m10 8h0m0-3h0m10 2h0m7 2h0m44-13h0m42 13h0m8-5h0m12-8h0m29 2h0" stroke="#000" stroke-width="25.0" stroke-linecap="round" fill="none"/><line x1="23.2" y1="260.36" x2="125" y2="237.74" stroke="#000" stroke-width="0.65"/><text x="49.3" y="197" font-size="5.3" fill="#111" textLength="48.4" lengthAdjust="spacingAndGlyphs" xml:space="preserve">r=0.3607  <tspan font-style="italic">p</tspan>&lt;0.0001</text><text x="74.7" y="281.3" font-size="5.2" text-anchor="middle" font-weight="bold">Tim3</text><text x="11" y="229.9" font-size="5.8" text-anchor="middle" fill="#111" transform="rotate(-90 11 229.9)" stroke="#111" stroke-width="0.20">β2-MG (mg/L)</text><line x1="154.5" y1="263.45" x2="154.5" y2="197.3" stroke="#000" stroke-width="0.75"/><line x1="152.3" y1="263.1" x2="154.5" y2="263.1" stroke="#000" stroke-width="0.7"/><text x="151.2" y="264.7" font-size="4.6" text-anchor="end" fill="#111" font-weight="bold">0</text><line x1="152.3" y1="246.65" x2="154.5" y2="246.65" stroke="#000" stroke-width="0.7"/><text x="151.2" y="248.25" font-size="4.6" text-anchor="end" fill="#111" font-weight="bold">200</text><line x1="152.3" y1="230.2" x2="154.5" y2="230.2" stroke="#000" stroke-width="0.7"/><text x="151.2" y="231.8" font-size="4.6" text-anchor="end" fill="#111" font-weight="bold">400</text><line x1="152.3" y1="213.75" x2="154.5" y2="213.75" stroke="#000" stroke-width="0.7"/><text x="151.2" y="215.35" font-size="4.6" text-anchor="end" fill="#111" font-weight="bold">600</text><line x1="152.3" y1="197.3" x2="154.5" y2="197.3" stroke="#000" stroke-width="0.7"/><text x="151.2" y="198.9" font-size="4.6" text-anchor="end" fill="#111" font-weight="bold">800</text><line x1="154.5" y1="263.1" x2="255.4" y2="263.1" stroke="#000" stroke-width="0.75"/><line x1="154.8" y1="263.1" x2="154.8" y2="264.7" stroke="#000" stroke-width="0.65"/><text x="154.8" y="270.8" font-size="4.6" text-anchor="middle" fill="#111" font-weight="bold">0</text><line x1="188.2" y1="263.1" x2="188.2" y2="264.7" stroke="#000" stroke-width="0.65"/><text x="188.2" y="270.8" font-size="4.6" text-anchor="middle" fill="#111" font-weight="bold">20</text><line x1="221.6" y1="263.1" x2="221.6" y2="264.7" stroke="#000" stroke-width="0.65"/><text x="221.6" y="270.8" font-size="4.6" text-anchor="middle" fill="#111" font-weight="bold">40</text><line x1="255" y1="263.1" x2="255" y2="264.7" stroke="#000" stroke-width="0.65"/><text x="255" y="270.8" font-size="4.6" text-anchor="middle" fill="#111" font-weight="bold">60</text><path transform="scale(.1)" d="M1924 2047h0m325 8h0m-359 17h0m25 8h0m234 16h0m-367 107h0m-59 25h0m810-8h0m-776 33h0m50 8h0m58 25h0m359 0h0m-142 16h0m-200 0h0m8 8h0m176 50h0m-234 24h0m42-8h0m-59 16h0m-8 17h0m242 16h0m-267 66h0m50 0h0m67 8h0m451 17h0m-702 8h0m50 8h0m268 0h0m450 0h0m84 17h0m-484-8h0m-190 7h0m-38-2h0m-56-5h0m-91 8h0m-17 8h0m5 0h0m9 7h0m81-2h0m80 2h0m1-5h0m8 3h0m36 0h0m65-4h0m115-4h0m33 8h0m137-1h0m101-4h0m5 0h0m148-2h0m-52 18h0m-1-8h0m-104 2h0m-22-1h0m-93 11h0m-43-1h0m-15-3h0m-31 4h0m-24 2h0m-8-9h0m-28-1h0m-3 3h0m-2-1h0m-12 7h0m0-2h0m-18 1h0m-2-8h0m-8-3h0m-8 10h0m-9-9h0m-12 11h0m-59 0h0m-26-4h0m-4-1h0m-4-2h0m-2 8h0m-7 0h0m-3-7h0m-5 0h0m-12 6h0m-34-2h0m-16-11h0m-25 8h0m-13-4h0m-13 5h0m-23-2h0m0 2h0m-6-4h0m-9-5h0m-15 5h0m-1 1h0m-30 5h0m-1-4h0m-1 2h0m-29-8h0m-16 7h0m-10 1h0m-5-4h0m-23 24h0m15-9h0m13 8h0m1-10h0m4-2h0m2 0h0m16 3h0m9 3h0m12 6h0m7-11h0m14 8h0m4 0h0m9-5h0m33 9h0m15-1h0m8 0h0m2-12h0m2 6h0m1 0h0m4 6h0m8-6h0m3-7h0m5 5h0m1 9h0m35-12h0m3 10h0m14 1h0m12-3h0m10-5h0m12 8h0m20-10h0m13-1h0m8 4h0m3 1h0m0 7h0m4-3h0m9-11h0m0 10h0m4-9h0m9 0h0m21 2h0m6 5h0m3 6h0m0-14h0m18 5h0m6 9h0m4-4h0m16 4h0m6-14h0m26 13h0m15-8h0m16-1h0m12 0h0m10-2h0m23 8h0m42 2h0m35-8h0m114 7h0m93-2h0m12-7h0m20 11h0m29 0h0m5-1h0m46-2h0m-60 9h0m-1 3h0m-78-6h0m-282 3h0m-47 9h0m-39-7h0m-12 6h0m-11 0h0m-52-5h0m-1 7h0m-24-14h0m-2 13h0m-17-12h0m-18 13h0m-8-13h0m-4 8h0m-5-6h0m-34 10h0m-15-12h0m-20 9h0m-6-9h0m-21 6h0m-18-1h0m-2-5h0m-26 0h0m-9-1h0m-20 8h0m-13-1h0m-2-4h0m-5-3h0m-15 4h0m-2 4h0m-13-1h0m-15 6h0m-15 2h0m68 0h0m52 0h0m14 0h0m3 0h0m4 0h0m22 0h0m59 0h0m115 0h0m63 0h0m5 0h0m117 0h0m147 0h0" stroke="#000" stroke-width="25.0" stroke-linecap="round" fill="none"/><line x1="154.8" y1="255.7" x2="255" y2="244.59" stroke="#000" stroke-width="0.65"/><text x="180.9" y="197" font-size="5.3" fill="#111" textLength="49.5" lengthAdjust="spacingAndGlyphs" xml:space="preserve">r=0.1974  <tspan font-style="italic">p</tspan>=0.0126</text><text x="206" y="280" font-size="5.2" text-anchor="middle" font-weight="bold">Tim3(%)</text><text x="140.5" y="230.2" font-size="5.9" text-anchor="middle" fill="#111" transform="rotate(-90 140.5 230.2)" stroke="#111" stroke-width="0.21">Cr(umol/L)</text><line x1="284.5" y1="265.65" x2="284.5" y2="207" stroke="#000" stroke-width="0.75"/><line x1="282.3" y1="265.3" x2="284.5" y2="265.3" stroke="#000" stroke-width="0.7"/><text x="281.2" y="266.9" font-size="4.6" text-anchor="end" fill="#111" font-weight="bold">0</text><line x1="282.3" y1="250.73" x2="284.5" y2="250.73" stroke="#000" stroke-width="0.7"/><text x="281.2" y="252.33" font-size="4.6" text-anchor="end" fill="#111" font-weight="bold">20</text><line x1="282.3" y1="236.15" x2="284.5" y2="236.15" stroke="#000" stroke-width="0.7"/><text x="281.2" y="237.75" font-size="4.6" text-anchor="end" fill="#111" font-weight="bold">40</text><line x1="282.3" y1="221.57" x2="284.5" y2="221.57" stroke="#000" stroke-width="0.7"/><text x="281.2" y="223.17" font-size="4.6" text-anchor="end" fill="#111" font-weight="bold">60</text><line x1="282.3" y1="207" x2="284.5" y2="207" stroke="#000" stroke-width="0.7"/><text x="281.2" y="208.6" font-size="4.6" text-anchor="end" fill="#111" font-weight="bold">80</text><line x1="284.5" y1="265.3" x2="388" y2="265.3" stroke="#000" stroke-width="0.75"/><line x1="285.5" y1="265.3" x2="285.5" y2="266.9" stroke="#000" stroke-width="0.65"/><text x="285.5" y="272.4" font-size="4.6" text-anchor="middle" fill="#111" font-weight="bold">0</text><line x1="319.53" y1="265.3" x2="319.53" y2="266.9" stroke="#000" stroke-width="0.65"/><text x="319.53" y="272.4" font-size="4.6" text-anchor="middle" fill="#111" font-weight="bold">20</text><line x1="353.57" y1="265.3" x2="353.57" y2="266.9" stroke="#000" stroke-width="0.65"/><text x="353.57" y="272.4" font-size="4.6" text-anchor="middle" fill="#111" font-weight="bold">40</text><line x1="387.6" y1="265.3" x2="387.6" y2="266.9" stroke="#000" stroke-width="0.65"/><text x="387.6" y="272.4" font-size="4.6" text-anchor="middle" fill="#111" font-weight="bold">60</text><path transform="scale(.1)" d="M3713 2120h0m-587 52h0m76 80h0m266 37h0m365 40h0m-268 13h0m277 18h0m-315 0h0m-480 42h0m-13 26h0m486 6h0m-199 21h0m-42 10h0m-273 16h0m94 19h0m563 12h0m-183 0h0m-118 6h0m-145-11h0m-204 0h0m99 19h0m75 7h0m315 0h0m57 11h0m-142 18h0m299-2h0m39-8h0m104 26h0m-288 0h0m-120-12h0m-77 7h0m-34-7h0m-31 7h0m-381 5h0m-25 13h0m173-1h0m470 14h0m-83 5h0m-111-14h0m-62 0h0m-44 1h0m-1 13h0m-61-2h0m-3-3h0m-37-9h0m-46 12h0m-9-3h0m-26 4h0m-2-13h0m-7 2h0m-79-1h0m-1 12h0m-76-1h0m6 7h0m38 9h0m0-4h0m56-4h0m14 7h0m3-7h0m9 9h0m42-14h0m19 6h0m14 3h0m60 5h0m203-4h0m83 1h0m205-4h0m105 0h0m-175 12h0m-11 10h0m-7-10h0m-43 10h0m-3-7h0m-16-3h0m-125-3h0m-4 4h0m-78 3h0m-1 6h0m-33-14h0m-2 9h0m-4-1h0m-16 1h0m-1 4h0m-40-4h0m-4-9h0m-23 11h0m-18-4h0m-8-1h0m-71-6h0m-7 10h0m-20-9h0m-8 9h0m-30-5h0m-18 7h0m-9 2h0m-18-2h0m-2-10h0m-6 11h0m-15-7h0m-4 4h0m-1-4h0m-5 8h0m0-7h0m-2-3h0m-8 4h0m-5-3h0m-2 2h0m-6 4h0m-11-2h0m-16 4h0m-3 1h0m-1-2h0m-5-4h0m-3 1h0m5 7h0m1 1h0m15 0h0m2 0h0m18 0h0m10 0h0m1 0h0m11 0h0m2-1h0m3 1h0m14 0h0m12 0h0m7 0h0m5-2h0m12 2h0m14 0h0m26-2h0m15 2h0m3 0h0m7 0h0m4 0h0m31 0h0m2 0h0m6-1h0m16-1h0m14 0h0m4 2h0m5 0h0m5 0h0m8-2h0m1 2h0m8 0h0m4 0h0m10 0h0m10 0h0m0-2h0m7 2h0m7 0h0m16 0h0m3 0h0m20 0h0m0 0h0m3 0h0m18 0h0m1 0h0m11 0h0m16-1h0m7 1h0m6 0h0m67 0h0m38 0h0m5 0h0m22 0h0m51 0h0m1-2h0m14 2h0m14-2h0m23 2h0m2 0h0" stroke="#000" stroke-width="25.0" stroke-linecap="round" fill="none"/><line x1="285.5" y1="263.11" x2="387.6" y2="245.62" stroke="#000" stroke-width="0.65"/><text x="311.9" y="207.6" font-size="5.3" fill="#111" textLength="48.5" lengthAdjust="spacingAndGlyphs" xml:space="preserve">r=0.4435  <tspan font-style="italic">p</tspan>&lt;0.0001</text><text x="336.6" y="280" font-size="5.2" text-anchor="middle" font-weight="bold">Tim3(%)</text><text x="273" y="234.6" font-size="4.75" text-anchor="middle" fill="#111" font-weight="bold" transform="rotate(-90 273 234.6)">plasma cells of ilium bone marrow(%)</text><line x1="22.9" y1="353.45" x2="22.9" y2="297" stroke="#000" stroke-width="0.75"/><line x1="20.7" y1="353.1" x2="22.9" y2="353.1" stroke="#000" stroke-width="0.7"/><text x="19.6" y="354.7" font-size="4.6" text-anchor="end" fill="#111" font-weight="bold">0</text><line x1="20.7" y1="334.4" x2="22.9" y2="334.4" stroke="#000" stroke-width="0.7"/><text x="19.6" y="336" font-size="4.6" text-anchor="end" fill="#111" font-weight="bold">20</text><line x1="20.7" y1="315.7" x2="22.9" y2="315.7" stroke="#000" stroke-width="0.7"/><text x="19.6" y="317.3" font-size="4.6" text-anchor="end" fill="#111" font-weight="bold">40</text><line x1="20.7" y1="297" x2="22.9" y2="297" stroke="#000" stroke-width="0.7"/><text x="19.6" y="298.6" font-size="4.6" text-anchor="end" fill="#111" font-weight="bold">60</text><line x1="22.9" y1="353.1" x2="126.3" y2="353.1" stroke="#000" stroke-width="0.75"/><line x1="23.2" y1="353.1" x2="23.2" y2="354.7" stroke="#000" stroke-width="0.65"/><text x="23.2" y="360.3" font-size="4.6" text-anchor="middle" fill="#111" font-weight="bold">0</text><line x1="57.43" y1="353.1" x2="57.43" y2="354.7" stroke="#000" stroke-width="0.65"/><text x="57.43" y="360.3" font-size="4.6" text-anchor="middle" fill="#111" font-weight="bold">20</text><line x1="91.67" y1="353.1" x2="91.67" y2="354.7" stroke="#000" stroke-width="0.65"/><text x="91.67" y="360.3" font-size="4.6" text-anchor="middle" fill="#111" font-weight="bold">40</text><line x1="125.9" y1="353.1" x2="125.9" y2="354.7" stroke="#000" stroke-width="0.65"/><text x="125.9" y="360.3" font-size="4.6" text-anchor="middle" fill="#111" font-weight="bold">60</text><path transform="scale(.1)" d="M720 2998h0m-137 28h0m-171-9h0m804 65h0m-736 75h0m608 47h0m-146 18h0m-239 28h0m128 0h0m385 10h0m-513 9h0m-112 0h0m548 28h0m-94-9h0m-419 70h0m-300-5h0m43 47h0m17-9h0m-34 37h0m394 10h0m-309 9h0m-188 9h0m659 0h0m9 19h0m-55-8h0m-48 8h0m-57-9h0m-97 0h0m-2 8h0m-84 1h0m-124-9h0m-20 6h0m-54-5h0m-72-1h0m-21 0h0m-1 20h0m78 4h0m15 0h0m49 2h0m128-12h0m75 8h0m16 2h0m204-3h0m121 16h0m-39 0h0m-41-8h0m-51 11h0m-7-3h0m-25 3h0m-67-4h0m-5 5h0m-49-9h0m-3 11h0m-3-7h0m-7 1h0m-12-7h0m-36 6h0m-1-2h0m-3 8h0m-10-10h0m-40 4h0m-2 4h0m-69-6h0m-2 4h0m-2-5h0m-4 1h0m-5 8h0m-8-7h0m-11 2h0m-11 1h0m-11-6h0m-9 6h0m-11 5h0m-1-14h0m-29 13h0m-6 1h0m-9-9h0m-23-5h0m-45 1h0m-22 11h0m0-5h0m-3-1h0m-14 14h0m7 5h0m17 0h0m9-3h0m4 1h0m5 1h0m21 1h0m9-10h0m14 6h0m14 4h0m2 0h0m7 0h0m0 0h0m1 0h0m0 0h0m13 0h0m1 0h0m0 0h0m6-9h0m5 7h0m1 2h0m16 0h0m7-7h0m5 4h0m1-5h0m10 4h0m1 4h0m2-3h0m4 3h0m15 0h0m2-2h0m1 2h0m3-1h0m3 1h0m11-10h0m0 0h0m9 3h0m7 5h0m11 2h0m0-4h0m6 4h0m5-4h0m0 4h0m1 0h0m30 0h0m13-4h0m11 4h0m10-2h0m1-7h0m2 9h0m1-4h0m8 4h0m3-5h0m7 5h0m1 0h0m9 0h0m5-6h0m8 1h0m6 5h0m2 0h0m10 0h0m3 0h0m6-2h0m1 2h0m2 0h0m23 0h0m3-9h0m4 9h0m6 0h0m3 0h0m25 0h0m6 0h0m2 0h0m0 0h0m13-3h0m28 0h0m3 3h0m52 0h0m28 0h0m19-7h0m58-2h0" stroke="#000" stroke-width="25.0" stroke-linecap="round" fill="none"/><line x1="23.2" y1="353.1" x2="120.77" y2="331.6" stroke="#000" stroke-width="0.65"/><text x="49.3" y="296.6" font-size="5.3" fill="#111" textLength="48.4" lengthAdjust="spacingAndGlyphs" xml:space="preserve">r=0.3599  <tspan font-style="italic">p</tspan>=0.0001</text><text x="74.7" y="367" font-size="5.2" text-anchor="middle" font-weight="bold">Tim3(%)</text><text x="7.2" y="325.2" font-size="4.05" text-anchor="middle" fill="#111" font-weight="bold" transform="rotate(-90 7.2 325.2)">plasma cells of sternal bone marrow(%)</text><line x1="155.2" y1="351.25" x2="155.2" y2="285.4" stroke="#000" stroke-width="0.75"/><line x1="153" y1="350.9" x2="155.2" y2="350.9" stroke="#000" stroke-width="0.7"/><text x="151.9" y="352.5" font-size="4.6" text-anchor="end" fill="#111" font-weight="bold">0</text><line x1="153" y1="334.52" x2="155.2" y2="334.52" stroke="#000" stroke-width="0.7"/><text x="151.9" y="336.12" font-size="4.6" text-anchor="end" fill="#111" font-weight="bold">50</text><line x1="153" y1="318.15" x2="155.2" y2="318.15" stroke="#000" stroke-width="0.7"/><text x="151.9" y="319.75" font-size="4.6" text-anchor="end" fill="#111" font-weight="bold">100</text><line x1="153" y1="301.77" x2="155.2" y2="301.77" stroke="#000" stroke-width="0.7"/><text x="151.9" y="303.38" font-size="4.6" text-anchor="end" fill="#111" font-weight="bold">150</text><line x1="153" y1="285.4" x2="155.2" y2="285.4" stroke="#000" stroke-width="0.7"/><text x="151.9" y="287" font-size="4.6" text-anchor="end" fill="#111" font-weight="bold">200</text><line x1="155.2" y1="350.9" x2="256" y2="350.9" stroke="#000" stroke-width="0.75"/><line x1="156" y1="350.9" x2="156" y2="352.5" stroke="#000" stroke-width="0.65"/><text x="156" y="358.6" font-size="4.6" text-anchor="middle" fill="#111" font-weight="bold">0</text><line x1="189.2" y1="350.9" x2="189.2" y2="352.5" stroke="#000" stroke-width="0.65"/><text x="189.2" y="358.6" font-size="4.6" text-anchor="middle" fill="#111" font-weight="bold">20</text><line x1="222.4" y1="350.9" x2="222.4" y2="352.5" stroke="#000" stroke-width="0.65"/><text x="222.4" y="358.6" font-size="4.6" text-anchor="middle" fill="#111" font-weight="bold">40</text><line x1="255.6" y1="350.9" x2="255.6" y2="352.5" stroke="#000" stroke-width="0.65"/><text x="255.6" y="358.6" font-size="4.6" text-anchor="middle" fill="#111" font-weight="bold">60</text><path transform="scale(.1)" d="M2201 2975h0m-260 19h0m-113 0h0m-126-2h0m-34 0h0m37 20h0m342 12h0m-197 4h0m-25-2h0m-110-11h0m-91 26h0m75-7h0m60 6h0m42-9h0m74 0h0m39 4h0m149-3h0m344 25h0m-166 0h0m-350 0h0m-184-10h0m-96 4h0m-35 20h0m7-5h0m96 6h0m47-7h0m58 7h0m151-3h0m404 14h0m-69 0h0m-267-8h0m-270 3h0m-10 9h0m-111-12h0m-28 2h0m3 16h0m30 8h0m96 3h0m31 0h0m29-1h0m7-5h0m15-1h0m47 3h0m31-10h0m5 12h0m37-3h0m95 0h0m10 4h0m104 13h0m-53 3h0m-17-12h0m-3 6h0m-35 1h0m-8-1h0m-33 3h0m-10-3h0m-10-3h0m-12-4h0m-50 13h0m-1-11h0m-14-1h0m-25 3h0m-28 2h0m-10 3h0m-69-1h0m-30-1h0m-136 14h0m33 3h0m23-5h0m209-4h0m2 9h0m21 1h0m33 3h0m44-8h0m50-2h0m21 0h0m42 0h0m315 8h0m-332 15h0m-24-12h0m-53 10h0m-5-5h0m-19 6h0m-29-8h0m-26 11h0m-7-3h0m-9-6h0m-19 2h0m-6-4h0m-47 4h0m-14-7h0m-22 2h0m-18 8h0m-75-9h0m-51 13h0m-38 6h0m0 6h0m35-3h0m27 6h0m32 0h0m14-7h0m52 6h0m103-5h0m36-7h0m11 12h0m10-2h0m130-7h0m43 1h0m142-3h0m315 0h0m-355 13h0m-104 2h0m0 0h0m-36 7h0m-49-1h0m-11 6h0m-34-11h0m-43 0h0m-98 2h0m-1-3h0m-39 11h0m-60-10h0m-18 4h0m-2-1h0m-5 7h0m-5 1h0m-16 0h0m-79-13h0m85 15h0m18 1h0m13 11h0m10-8h0m30 6h0m39-10h0m96 7h0m19-6h0m151 8h0m56-8h0m206 0h0m136 11h0m28-11h0m42 11h0m-151 15h0m-111 0h0m-82 0h0m-135 1h0m-37-3h0m-13-4h0m-72-4h0m-147 6h0m-53 3h0m-10-1h0m-118 16h0m11-1h0m62 3h0m294-10h0m26-2h0m34 3h0m26-3h0m77 22h0m-441-1h0m35 14h0m47 1h0m74-5h0m128 24h0m-34-6h0m-84-1h0m-57 14h0m484 2h0m151 0h0m-261 14h0m-211 22h0m32 5h0m-68 54h0" stroke="#000" stroke-width="25.0" stroke-linecap="round" fill="none"/><line x1="156" y1="311.6" x2="252.28" y2="319.46" stroke="#000" stroke-width="0.65"/><text x="180.9" y="284.5" font-size="5.3" fill="#111" textLength="50.4" lengthAdjust="spacingAndGlyphs" xml:space="preserve">r=-0.2429  <tspan font-style="italic">p</tspan>=0.0018</text><text x="205.8" y="367" font-size="5.2" text-anchor="middle" font-weight="bold">Tim3(%)</text><text x="141.8" y="319.3" font-size="5.3" text-anchor="middle" fill="#111" font-weight="bold" transform="rotate(-90 141.8 319.3)">HGB(g/L)</text><line x1="282.2" y1="350.75" x2="282.2" y2="284.9" stroke="#000" stroke-width="0.75"/><line x1="280" y1="350.4" x2="282.2" y2="350.4" stroke="#000" stroke-width="0.7"/><text x="278.9" y="352" font-size="4.6" text-anchor="end" fill="#111" font-weight="bold">0</text><line x1="280" y1="328.57" x2="282.2" y2="328.57" stroke="#000" stroke-width="0.7"/><text x="278.9" y="330.17" font-size="4.6" text-anchor="end" fill="#111" font-weight="bold">2</text><line x1="280" y1="306.73" x2="282.2" y2="306.73" stroke="#000" stroke-width="0.7"/><text x="278.9" y="308.33" font-size="4.6" text-anchor="end" fill="#111" font-weight="bold">4</text><line x1="280" y1="284.9" x2="282.2" y2="284.9" stroke="#000" stroke-width="0.7"/><text x="278.9" y="286.5" font-size="4.6" text-anchor="end" fill="#111" font-weight="bold">6</text><line x1="282.2" y1="350.4" x2="388" y2="350.4" stroke="#000" stroke-width="0.75"/><line x1="282.7" y1="350.4" x2="282.7" y2="352" stroke="#000" stroke-width="0.65"/><text x="282.7" y="358.6" font-size="4.6" text-anchor="middle" fill="#111" font-weight="bold">0</text><line x1="317.67" y1="350.4" x2="317.67" y2="352" stroke="#000" stroke-width="0.65"/><text x="317.67" y="358.6" font-size="4.6" text-anchor="middle" fill="#111" font-weight="bold">20</text><line x1="352.63" y1="350.4" x2="352.63" y2="352" stroke="#000" stroke-width="0.65"/><text x="352.63" y="358.6" font-size="4.6" text-anchor="middle" fill="#111" font-weight="bold">40</text><line x1="387.6" y1="350.4" x2="387.6" y2="352" stroke="#000" stroke-width="0.65"/><text x="387.6" y="358.6" font-size="4.6" text-anchor="middle" fill="#111" font-weight="bold">60</text><path transform="scale(.1)" d="M3200 2893h0m156 0h0m-197 11h0m155 12h0m228 15h0m-493 1h0m-88-2h0m-42 23h0m100-12h0m467 18h0m-363-3h0m-40 11h0m-233 1h0m48 12h0m109-3h0m100 6h0m198-4h0m-182 18h0m-238-8h0m120 13h0m83 5h0m78-7h0m27 0h0m41 13h0m280 1h0m124 0h0m-248 14h0m-26-13h0m-54 11h0m-69-10h0m-188 2h0m-73-3h0m0 9h0m-93-2h0m-49 15h0m42 0h0m172-5h0m148 3h0m58 9h0m14-4h0m3 4h0m9-6h0m15-5h0m9 3h0m22-6h0m20 0h0m356 11h0m-502 5h0m-29 5h0m-112-4h0m-66 5h0m-81-3h0m-25 19h0m16 1h0m9-6h0m22-3h0m29 2h0m34 0h0m6 1h0m43 5h0m3 5h0m77-6h0m21 3h0m103-8h0m97-2h0m15 6h0m188 4h0m-207 13h0m-105 3h0m-26 3h0m-5-3h0m-1 3h0m-5-6h0m-24-6h0m-98-1h0m-22 13h0m-22-8h0m-6 6h0m-65 1h0m-96 0h0m-13-8h0m4 22h0m11-4h0m66-6h0m10 8h0m20 4h0m63-3h0m1-1h0m54 1h0m13-2h0m110-8h0m108 6h0m45 22h0m-6-12h0m-51-2h0m-8 13h0m-84-5h0m-7 3h0m-93 2h0m-38-3h0m-68 0h0m-34-6h0m-56 5h0m-18-5h0m-44-3h0m202 22h0m59-8h0m35 8h0m43-5h0m16-3h0m18 7h0m59-3h0m47 0h0m68 0h0m138 0h0m317 0h0m-508 18h0m0-3h0m-53 3h0m-35 2h0m-49 4h0m-27-12h0m-50 5h0m-66 1h0m-35 3h0m-42-7h0m-84 7h0m-30 2h0m-33 3h0m4 5h0m11-4h0m3 5h0m15-4h0m60 5h0m177 4h0m241-6h0m9 4h0m311-8h0m70 15h0m-152 0h0m-138 0h0m-102 7h0m-24-5h0m-204 5h0m-16-1h0m-14 0h0m-54 2h0m-51 5h0m-11-1h0m173 7h0m7-1h0m366-4h0m110 13h0m193-13h0m-359 27h0m-155-12h0m-309 14h0m-56-1h0m-41 12h0m356-1h0m93 5h0m346-4h0m-540 19h0m-87-12h0m-18 11h0m493 9h0m-656 31h0m263-4h0m90 8h0m195-6h0m-307 12h0m-9 9h0m302 6h0" stroke="#000" stroke-width="25.0" stroke-linecap="round" fill="none"/><line x1="282.7" y1="308.37" x2="387.6" y2="316.56" stroke="#000" stroke-width="0.65"/><text x="308.8" y="284.5" font-size="5.3" fill="#111" textLength="52.5" lengthAdjust="spacingAndGlyphs" xml:space="preserve">r=-0.1929  <tspan font-style="italic">p</tspan>=0.0130</text><text x="335.5" y="367" font-size="5.2" text-anchor="middle" font-weight="bold">Tim3(%)</text><text x="273" y="317" font-size="5.5" text-anchor="middle" fill="#111" font-weight="bold" transform="rotate(-90 273 317)">RBC(*10^12/L)</text></svg></body></html>
